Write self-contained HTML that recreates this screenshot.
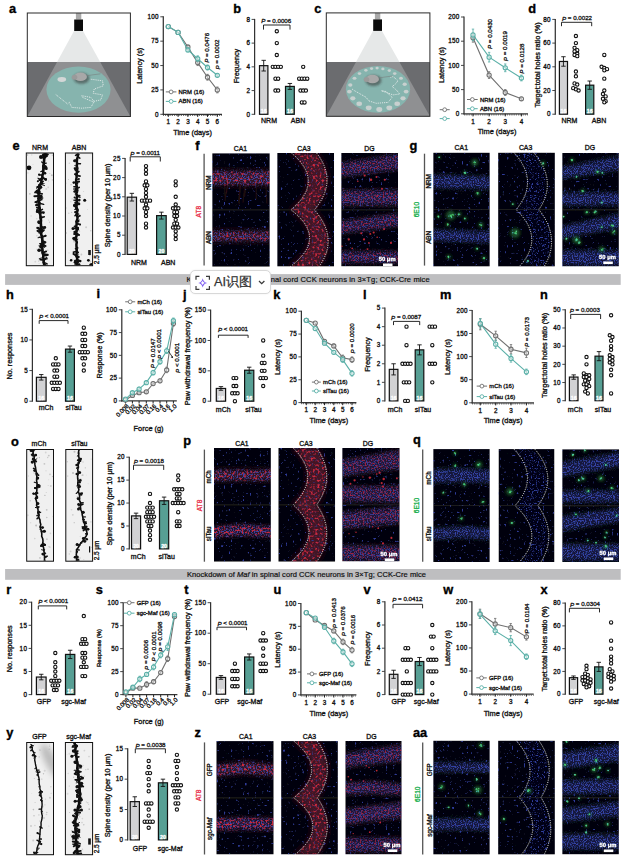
<!DOCTYPE html><html><head><meta charset="utf-8"><style>html,body{margin:0;padding:0;background:#fff;width:627px;height:865px;overflow:hidden;position:relative;font-family:"Liberation Sans", sans-serif}</style></head><body><svg width="627" height="865" viewBox="0 0 627 865" style="position:absolute;left:0;top:0;font-family:'Liberation Sans', sans-serif">
<defs><filter id="blur2" x="-20%" y="-50%" width="140%" height="200%"><feGaussianBlur stdDeviation="2.2"/></filter><filter id="soft" x="-5%" y="-5%" width="110%" height="110%"><feGaussianBlur stdDeviation="0.35"/></filter><filter id="blur1" x="-50%" y="-50%" width="200%" height="200%"><feGaussianBlur stdDeviation="1.2"/></filter><filter id="blur3" x="-50%" y="-50%" width="200%" height="200%"><feGaussianBlur stdDeviation="3"/></filter><filter id="fBg" filterUnits="userSpaceOnUse" x="0" y="0" width="627" height="865" color-interpolation-filters="sRGB"><feTurbulence type="fractalNoise" baseFrequency="0.42" numOctaves="1" seed="9" result="t"/><feColorMatrix in="t" type="matrix" values="0 0 0 0 0.18 0 0 0 0 0.23 0 0 0 0 0.6 10 0 0 0 -6.5" result="c"/><feComposite in="c" in2="SourceAlpha" operator="in"/></filter><filter id="fB" filterUnits="userSpaceOnUse" x="0" y="0" width="627" height="865" color-interpolation-filters="sRGB"><feTurbulence type="fractalNoise" baseFrequency="0.83" numOctaves="1" seed="4" result="t"/><feColorMatrix in="t" type="matrix" values="0 0 0 0 0.21 0 0 0 0 0.27 0 0 0 0 0.66 8 0 0 0 -3.9" result="c"/><feGaussianBlur in="SourceAlpha" stdDeviation="2.2" result="m"/><feComposite in="c" in2="m" operator="in"/></filter><filter id="fBm" filterUnits="userSpaceOnUse" x="0" y="0" width="627" height="865" color-interpolation-filters="sRGB"><feTurbulence type="fractalNoise" baseFrequency="0.83" numOctaves="1" seed="5" result="t"/><feColorMatrix in="t" type="matrix" values="0 0 0 0 0.19 0 0 0 0 0.25 0 0 0 0 0.62 8 0 0 0 -4.7" result="c"/><feGaussianBlur in="SourceAlpha" stdDeviation="1.0" result="m"/><feComposite in="c" in2="m" operator="in"/></filter><filter id="fBs" filterUnits="userSpaceOnUse" x="0" y="0" width="627" height="865" color-interpolation-filters="sRGB"><feTurbulence type="fractalNoise" baseFrequency="0.5" numOctaves="1" seed="6" result="t"/><feColorMatrix in="t" type="matrix" values="0 0 0 0 0.18 0 0 0 0 0.24 0 0 0 0 0.58 5 0 0 0 -3.1" result="c"/><feGaussianBlur in="SourceAlpha" stdDeviation="1.0" result="m"/><feComposite in="c" in2="m" operator="in"/></filter><filter id="fR" filterUnits="userSpaceOnUse" x="0" y="0" width="627" height="865" color-interpolation-filters="sRGB"><feTurbulence type="fractalNoise" baseFrequency="0.45" numOctaves="1" seed="7" result="t"/><feColorMatrix in="t" type="matrix" values="0 0 0 0 0.8 0 0 0 0 0.17 0 0 0 0 0.25 5 0 0 0 -2.6" result="c"/><feGaussianBlur in="SourceAlpha" stdDeviation="1.0" result="m"/><feComposite in="c" in2="m" operator="in"/></filter><filter id="fRs" filterUnits="userSpaceOnUse" x="0" y="0" width="627" height="865" color-interpolation-filters="sRGB"><feTurbulence type="fractalNoise" baseFrequency="0.6" numOctaves="1" seed="8" result="t"/><feColorMatrix in="t" type="matrix" values="0 0 0 0 0.62 0 0 0 0 0.14 0 0 0 0 0.26 5 0 0 0 -2.55" result="c"/><feGaussianBlur in="SourceAlpha" stdDeviation="2.0" result="m"/><feComposite in="c" in2="m" operator="in"/></filter><filter id="fBd" filterUnits="userSpaceOnUse" x="0" y="0" width="627" height="865" color-interpolation-filters="sRGB"><feTurbulence type="fractalNoise" baseFrequency="0.83" numOctaves="1" seed="11" result="t"/><feColorMatrix in="t" type="matrix" values="0 0 0 0 0.19 0 0 0 0 0.24 0 0 0 0 0.6 8 0 0 0 -4.0" result="c"/><feGaussianBlur in="SourceAlpha" stdDeviation="2.2" result="m"/><feComposite in="c" in2="m" operator="in"/></filter><filter id="fRm" filterUnits="userSpaceOnUse" x="0" y="0" width="627" height="865" color-interpolation-filters="sRGB"><feTurbulence type="fractalNoise" baseFrequency="0.5" numOctaves="1" seed="12" result="t"/><feColorMatrix in="t" type="matrix" values="0 0 0 0 0.78 0 0 0 0 0.16 0 0 0 0 0.25 5 0 0 0 -2.4" result="c"/><feGaussianBlur in="SourceAlpha" stdDeviation="1.5" result="m"/><feComposite in="c" in2="m" operator="in"/></filter><clipPath id="topclip1"><rect x="27.3" y="13.0" width="103.10000000000001" height="49.0"/></clipPath><clipPath id="botclip1"><rect x="27.3" y="62.0" width="103.10000000000001" height="54.5"/></clipPath><clipPath id="topclip2"><rect x="326.3" y="12.9" width="103.59999999999997" height="49.1"/></clipPath><clipPath id="botclip2"><rect x="326.3" y="62.0" width="103.59999999999997" height="54.3"/></clipPath><clipPath id="d1"><rect x="26.80" y="153.50" width="26.20" height="111.70"/></clipPath><clipPath id="d2"><rect x="65.90" y="153.50" width="26.20" height="111.70"/></clipPath><clipPath id="c3"><rect x="212.20" y="153.20" width="57.60" height="113.50"/></clipPath><clipPath id="c4"><rect x="277.20" y="153.00" width="56.90" height="113.60"/></clipPath><clipPath id="c5"><rect x="341.20" y="153.00" width="56.80" height="113.40"/></clipPath><clipPath id="c6"><rect x="433.20" y="152.60" width="56.60" height="114.00"/></clipPath><clipPath id="c7"><rect x="498.10" y="152.60" width="56.80" height="114.00"/></clipPath><clipPath id="c8"><rect x="562.20" y="152.90" width="56.70" height="113.50"/></clipPath><clipPath id="d9"><rect x="27.20" y="450.00" width="25.80" height="110.70"/></clipPath><clipPath id="d10"><rect x="66.30" y="450.00" width="25.80" height="110.70"/></clipPath><clipPath id="c11"><rect x="214.00" y="447.90" width="56.90" height="113.80"/></clipPath><clipPath id="c12"><rect x="278.30" y="447.90" width="56.90" height="113.80"/></clipPath><clipPath id="c13"><rect x="342.20" y="448.00" width="57.50" height="113.40"/></clipPath><clipPath id="c14"><rect x="433.20" y="449.10" width="56.60" height="113.00"/></clipPath><clipPath id="c15"><rect x="498.50" y="449.10" width="56.00" height="113.00"/></clipPath><clipPath id="c16"><rect x="562.20" y="449.20" width="56.80" height="112.90"/></clipPath><clipPath id="d17"><rect x="27.20" y="743.00" width="25.80" height="111.20"/></clipPath><clipPath id="d18"><rect x="65.90" y="743.00" width="26.20" height="111.20"/></clipPath><clipPath id="c19"><rect x="216.30" y="741.10" width="57.40" height="113.40"/></clipPath><clipPath id="c20"><rect x="281.10" y="741.10" width="56.80" height="113.40"/></clipPath><clipPath id="c21"><rect x="345.30" y="741.00" width="56.40" height="113.40"/></clipPath><clipPath id="c22"><rect x="433.20" y="740.60" width="56.60" height="114.00"/></clipPath><clipPath id="c23"><rect x="498.10" y="740.60" width="56.80" height="114.00"/></clipPath><clipPath id="c24"><rect x="562.20" y="740.90" width="56.70" height="113.50"/></clipPath></defs>
<rect x="0.00" y="0.00" width="627.00" height="865.00" fill="#fff" stroke="none" stroke-width="0" />
<text x="12.45" y="12.80" text-anchor="middle" fill="#000" style="font-size:12.8px;font-weight:bold;stroke:#000;stroke-width:0.35px">a</text>
<rect x="27.30" y="13.00" width="103.10" height="103.50" fill="#ffffff" stroke="none" stroke-width="0" />
<rect x="27.30" y="62.00" width="103.10" height="54.50" fill="#6b6c6f" stroke="none" stroke-width="0" />
<polygon points="74.0,31.0 83.0,31.0 130.4,116.5 27.3,116.5" fill="#e6e8e8" clip-path="url(#topclip1)"/>
<polygon points="74.0,31.0 83.0,31.0 130.4,116.5 27.3,116.5" fill="#8f9092" clip-path="url(#botclip1)"/>
<ellipse cx="78.5" cy="89.6" rx="32.1" ry="23.2" fill="#86b4ae"/>
<ellipse cx="61.8" cy="79.5" rx="4.3" ry="2.4" fill="#d3d7d7"/>
<path d="M90.8,79.2 L102.5,80.8 L103.3,85.8 L94.2,89.1 L93.3,93.3 L102.5,94.9 L100.8,99.9 L92.5,101.6 L82.6,97.4 L81.7,95.7 L90.8,97.4 L94.2,101.6 L90.8,107.4 L81.7,108.2 L71.8,107.4 L69.3,102.4 L67.6,104.0 L55.2,94.1" fill="none" stroke="#f4f4f4" stroke-width="0.9" stroke-dasharray="0.9 1.0" stroke-linejoin="round"/>
<ellipse cx="81.5" cy="78.3" rx="8" ry="5.5" fill="#333" fill-opacity="0.55" filter="url(#blur1)"/>
<ellipse cx="80.5" cy="76.8" rx="6.5" ry="4.3" fill="#a8a8a8"/>
<ellipse cx="74.5" cy="77.3" rx="2.8" ry="2.5" fill="#9a9a9a"/>
<path d="M86.5,75.8 Q92.5,74.8 100.5,73.8" fill="none" stroke="#777" stroke-width="0.5"/>
<rect x="75.90" y="13.00" width="5.40" height="6.50" fill="#a9a9a9" stroke="none" stroke-width="0" />
<rect x="74.20" y="19.50" width="8.80" height="11.50" fill="#0b0b0b" stroke="none" stroke-width="0" />
<rect x="27.30" y="13.00" width="103.10" height="103.50" fill="none" stroke="#2a2a2a" stroke-width="1.0" />
<line x1="163.30" y1="16.30" x2="163.30" y2="114.80" stroke="#333" stroke-width="1.25" />
<line x1="160.30" y1="114.30" x2="163.30" y2="114.30" stroke="#333" stroke-width="0.9" />
<text x="158.90" y="114.00" text-anchor="end" dominant-baseline="central" fill="#111" style="font-size:6.3px;stroke:#111;stroke-width:0.32px;letter-spacing:0.3px;" >0</text>
<line x1="160.30" y1="89.92" x2="163.30" y2="89.92" stroke="#333" stroke-width="0.9" />
<text x="158.90" y="89.62" text-anchor="end" dominant-baseline="central" fill="#111" style="font-size:6.3px;stroke:#111;stroke-width:0.32px;letter-spacing:0.3px;" >25</text>
<line x1="160.30" y1="65.55" x2="163.30" y2="65.55" stroke="#333" stroke-width="0.9" />
<text x="158.90" y="65.25" text-anchor="end" dominant-baseline="central" fill="#111" style="font-size:6.3px;stroke:#111;stroke-width:0.32px;letter-spacing:0.3px;" >50</text>
<line x1="160.30" y1="41.17" x2="163.30" y2="41.17" stroke="#333" stroke-width="0.9" />
<text x="158.90" y="40.88" text-anchor="end" dominant-baseline="central" fill="#111" style="font-size:6.3px;stroke:#111;stroke-width:0.32px;letter-spacing:0.3px;" >75</text>
<line x1="160.30" y1="16.80" x2="163.30" y2="16.80" stroke="#333" stroke-width="0.9" />
<text x="158.90" y="16.50" text-anchor="end" dominant-baseline="central" fill="#111" style="font-size:6.3px;stroke:#111;stroke-width:0.32px;letter-spacing:0.3px;" >100</text>
<line x1="162.70" y1="114.30" x2="222.00" y2="114.30" stroke="#333" stroke-width="1.25" />
<line x1="163.30" y1="115.40" x2="222.00" y2="115.40" stroke="#222" stroke-width="1.0" stroke-dasharray="0.7 1.1"/>
<line x1="168.30" y1="114.30" x2="168.30" y2="116.90" stroke="#222" stroke-width="1.0" />
<line x1="178.10" y1="114.30" x2="178.10" y2="116.90" stroke="#222" stroke-width="1.0" />
<line x1="187.90" y1="114.30" x2="187.90" y2="116.90" stroke="#222" stroke-width="1.0" />
<line x1="197.70" y1="114.30" x2="197.70" y2="116.90" stroke="#222" stroke-width="1.0" />
<line x1="207.50" y1="114.30" x2="207.50" y2="116.90" stroke="#222" stroke-width="1.0" />
<line x1="217.30" y1="114.30" x2="217.30" y2="116.90" stroke="#222" stroke-width="1.0" />
<text x="168.30" y="121.50" text-anchor="middle" dominant-baseline="central" fill="#111" style="font-size:6.3px;stroke:#111;stroke-width:0.32px;" >1</text>
<text x="178.10" y="121.50" text-anchor="middle" dominant-baseline="central" fill="#111" style="font-size:6.3px;stroke:#111;stroke-width:0.32px;" >2</text>
<text x="187.90" y="121.50" text-anchor="middle" dominant-baseline="central" fill="#111" style="font-size:6.3px;stroke:#111;stroke-width:0.32px;" >3</text>
<text x="197.70" y="121.50" text-anchor="middle" dominant-baseline="central" fill="#111" style="font-size:6.3px;stroke:#111;stroke-width:0.32px;" >4</text>
<text x="207.50" y="121.50" text-anchor="middle" dominant-baseline="central" fill="#111" style="font-size:6.3px;stroke:#111;stroke-width:0.32px;" >5</text>
<text x="217.30" y="121.50" text-anchor="middle" dominant-baseline="central" fill="#111" style="font-size:6.3px;stroke:#111;stroke-width:0.32px;" >6</text>
<polyline points="168.30,26.55 178.10,32.40 187.90,47.02 197.70,62.62 207.50,77.25 217.30,89.92" fill="none" stroke="#707070" stroke-width="1.1"/>
<circle cx="168.30" cy="26.55" r="2.1" fill="#fff" fill-opacity="0.5" stroke="#707070" stroke-width="1.1"/>
<circle cx="178.10" cy="32.40" r="2.1" fill="#fff" fill-opacity="0.5" stroke="#707070" stroke-width="1.1"/>
<line x1="187.90" y1="45.56" x2="187.90" y2="48.49" stroke="#707070" stroke-width="0.9" />
<line x1="186.70" y1="45.56" x2="189.10" y2="45.56" stroke="#707070" stroke-width="0.8" />
<line x1="186.70" y1="48.49" x2="189.10" y2="48.49" stroke="#707070" stroke-width="0.8" />
<circle cx="187.90" cy="47.02" r="2.1" fill="#fff" fill-opacity="0.5" stroke="#707070" stroke-width="1.1"/>
<line x1="197.70" y1="59.70" x2="197.70" y2="65.55" stroke="#707070" stroke-width="0.9" />
<line x1="196.50" y1="59.70" x2="198.90" y2="59.70" stroke="#707070" stroke-width="0.8" />
<line x1="196.50" y1="65.55" x2="198.90" y2="65.55" stroke="#707070" stroke-width="0.8" />
<circle cx="197.70" cy="62.62" r="2.1" fill="#fff" fill-opacity="0.5" stroke="#707070" stroke-width="1.1"/>
<line x1="207.50" y1="74.33" x2="207.50" y2="80.17" stroke="#707070" stroke-width="0.9" />
<line x1="206.30" y1="74.33" x2="208.70" y2="74.33" stroke="#707070" stroke-width="0.8" />
<line x1="206.30" y1="80.17" x2="208.70" y2="80.17" stroke="#707070" stroke-width="0.8" />
<circle cx="207.50" cy="77.25" r="2.1" fill="#fff" fill-opacity="0.5" stroke="#707070" stroke-width="1.1"/>
<line x1="217.30" y1="87.00" x2="217.30" y2="92.85" stroke="#707070" stroke-width="0.9" />
<line x1="216.10" y1="87.00" x2="218.50" y2="87.00" stroke="#707070" stroke-width="0.8" />
<line x1="216.10" y1="92.85" x2="218.50" y2="92.85" stroke="#707070" stroke-width="0.8" />
<circle cx="217.30" cy="89.92" r="2.1" fill="#fff" fill-opacity="0.5" stroke="#707070" stroke-width="1.1"/>
<polyline points="168.30,26.55 178.10,32.40 187.90,49.95 197.70,58.72 207.50,67.50 217.30,75.30" fill="none" stroke="#5bb0a8" stroke-width="1.1"/>
<circle cx="168.30" cy="26.55" r="2.1" fill="#fff" fill-opacity="0.5" stroke="#5bb0a8" stroke-width="1.1"/>
<circle cx="178.10" cy="32.40" r="2.1" fill="#fff" fill-opacity="0.5" stroke="#5bb0a8" stroke-width="1.1"/>
<line x1="187.90" y1="48.00" x2="187.90" y2="51.90" stroke="#5bb0a8" stroke-width="0.9" />
<line x1="186.70" y1="48.00" x2="189.10" y2="48.00" stroke="#5bb0a8" stroke-width="0.8" />
<line x1="186.70" y1="51.90" x2="189.10" y2="51.90" stroke="#5bb0a8" stroke-width="0.8" />
<circle cx="187.90" cy="49.95" r="2.1" fill="#fff" fill-opacity="0.5" stroke="#5bb0a8" stroke-width="1.1"/>
<line x1="197.70" y1="55.80" x2="197.70" y2="61.65" stroke="#5bb0a8" stroke-width="0.9" />
<line x1="196.50" y1="55.80" x2="198.90" y2="55.80" stroke="#5bb0a8" stroke-width="0.8" />
<line x1="196.50" y1="61.65" x2="198.90" y2="61.65" stroke="#5bb0a8" stroke-width="0.8" />
<circle cx="197.70" cy="58.72" r="2.1" fill="#fff" fill-opacity="0.5" stroke="#5bb0a8" stroke-width="1.1"/>
<line x1="207.50" y1="65.06" x2="207.50" y2="69.94" stroke="#5bb0a8" stroke-width="0.9" />
<line x1="206.30" y1="65.06" x2="208.70" y2="65.06" stroke="#5bb0a8" stroke-width="0.8" />
<line x1="206.30" y1="69.94" x2="208.70" y2="69.94" stroke="#5bb0a8" stroke-width="0.8" />
<circle cx="207.50" cy="67.50" r="2.1" fill="#fff" fill-opacity="0.5" stroke="#5bb0a8" stroke-width="1.1"/>
<line x1="217.30" y1="73.84" x2="217.30" y2="76.76" stroke="#5bb0a8" stroke-width="0.9" />
<line x1="216.10" y1="73.84" x2="218.50" y2="73.84" stroke="#5bb0a8" stroke-width="0.8" />
<line x1="216.10" y1="76.76" x2="218.50" y2="76.76" stroke="#5bb0a8" stroke-width="0.8" />
<circle cx="217.30" cy="75.30" r="2.1" fill="#fff" fill-opacity="0.5" stroke="#5bb0a8" stroke-width="1.1"/>
<line x1="165.80" y1="91.90" x2="176.40" y2="91.90" stroke="#707070" stroke-width="1.0" />
<circle cx="171.10" cy="91.90" r="1.9" fill="#fff" stroke="#707070" stroke-width="0.9"/>
<text x="178.60" y="91.90" text-anchor="start" dominant-baseline="central" fill="#111" style="font-size:5.9px;stroke:#111;stroke-width:0.32px;" >NRM (16)</text>
<line x1="165.80" y1="101.40" x2="176.40" y2="101.40" stroke="#5bb0a8" stroke-width="1.0" />
<circle cx="171.10" cy="101.40" r="1.9" fill="#fff" stroke="#5bb0a8" stroke-width="0.9"/>
<text x="178.60" y="101.40" text-anchor="start" dominant-baseline="central" fill="#111" style="font-size:5.9px;stroke:#111;stroke-width:0.32px;" >ABN (16)</text>
<text x="192.60" y="132.00" text-anchor="middle" dominant-baseline="central" fill="#111" style="font-size:7.4px;stroke:#111;stroke-width:0.32px;" >Time (days)</text>
<text transform="translate(139.80,65.80) rotate(-90)" text-anchor="middle" dominant-baseline="central" fill="#111" style="font-size:7.3px;stroke:#111;stroke-width:0.32px;" >Latency (s)</text>
<text transform="translate(206.00,47.80) rotate(-90)" text-anchor="middle" dominant-baseline="central" fill="#111" style="font-size:6.2px;stroke:#111;stroke-width:0.3px"><tspan style="font-style:italic">P</tspan> = 0.0476</text>
<text transform="translate(216.60,54.50) rotate(-90)" text-anchor="middle" dominant-baseline="central" fill="#111" style="font-size:6.2px;stroke:#111;stroke-width:0.3px"><tspan style="font-style:italic">P</tspan> = 0.0002</text>
<text x="237.20" y="12.60" text-anchor="middle" fill="#000" style="font-size:12.8px;font-weight:bold;stroke:#000;stroke-width:0.35px">b</text>
<line x1="254.60" y1="18.90" x2="254.60" y2="114.80" stroke="#333" stroke-width="1.25" />
<line x1="251.60" y1="114.30" x2="254.60" y2="114.30" stroke="#333" stroke-width="0.9" />
<text x="250.20" y="114.00" text-anchor="end" dominant-baseline="central" fill="#111" style="font-size:6.3px;stroke:#111;stroke-width:0.32px;letter-spacing:0.3px;" >0</text>
<line x1="251.60" y1="90.57" x2="254.60" y2="90.57" stroke="#333" stroke-width="0.9" />
<text x="250.20" y="90.27" text-anchor="end" dominant-baseline="central" fill="#111" style="font-size:6.3px;stroke:#111;stroke-width:0.32px;letter-spacing:0.3px;" >2</text>
<line x1="251.60" y1="66.85" x2="254.60" y2="66.85" stroke="#333" stroke-width="0.9" />
<text x="250.20" y="66.55" text-anchor="end" dominant-baseline="central" fill="#111" style="font-size:6.3px;stroke:#111;stroke-width:0.32px;letter-spacing:0.3px;" >4</text>
<line x1="251.60" y1="43.12" x2="254.60" y2="43.12" stroke="#333" stroke-width="0.9" />
<text x="250.20" y="42.82" text-anchor="end" dominant-baseline="central" fill="#111" style="font-size:6.3px;stroke:#111;stroke-width:0.32px;letter-spacing:0.3px;" >6</text>
<line x1="251.60" y1="19.40" x2="254.60" y2="19.40" stroke="#333" stroke-width="0.9" />
<text x="250.20" y="19.10" text-anchor="end" dominant-baseline="central" fill="#111" style="font-size:6.3px;stroke:#111;stroke-width:0.32px;letter-spacing:0.3px;" >8</text>
<rect x="259.50" y="65.66" width="8.40" height="48.64" fill="#d2d2d4" stroke="#111" stroke-width="1.2" />
<line x1="263.70" y1="60.33" x2="263.70" y2="71.00" stroke="#111" stroke-width="0.9" />
<line x1="261.50" y1="60.33" x2="265.90" y2="60.33" stroke="#111" stroke-width="0.9" />
<line x1="261.50" y1="71.00" x2="265.90" y2="71.00" stroke="#111" stroke-width="0.9" />
<text x="263.70" y="111.10" text-anchor="middle" dominant-baseline="central" fill="#fff" style="font-size:5.2px;stroke:#fff;stroke-width:0.32px;font-weight:bold;" >16</text>
<rect x="285.50" y="86.42" width="8.80" height="27.88" fill="#579f94" stroke="#111" stroke-width="1.2" />
<line x1="289.90" y1="83.46" x2="289.90" y2="89.39" stroke="#111" stroke-width="0.9" />
<line x1="287.70" y1="83.46" x2="292.10" y2="83.46" stroke="#111" stroke-width="0.9" />
<line x1="287.70" y1="89.39" x2="292.10" y2="89.39" stroke="#111" stroke-width="0.9" />
<text x="289.90" y="111.10" text-anchor="middle" dominant-baseline="central" fill="#fff" style="font-size:5.2px;stroke:#fff;stroke-width:0.32px;font-weight:bold;" >16</text>
<circle cx="276.80" cy="31.26" r="1.65" fill="#fff" stroke="#111" stroke-width="1.1"/>
<circle cx="276.80" cy="43.12" r="1.65" fill="#fff" stroke="#111" stroke-width="1.1"/>
<circle cx="276.80" cy="54.99" r="1.65" fill="#fff" stroke="#111" stroke-width="1.1"/>
<circle cx="272.75" cy="66.85" r="1.65" fill="#fff" stroke="#111" stroke-width="1.1"/>
<circle cx="275.45" cy="66.85" r="1.65" fill="#fff" stroke="#111" stroke-width="1.1"/>
<circle cx="278.15" cy="66.85" r="1.65" fill="#fff" stroke="#111" stroke-width="1.1"/>
<circle cx="280.85" cy="66.85" r="1.65" fill="#fff" stroke="#111" stroke-width="1.1"/>
<circle cx="275.45" cy="78.71" r="1.65" fill="#fff" stroke="#111" stroke-width="1.1"/>
<circle cx="278.15" cy="78.71" r="1.65" fill="#fff" stroke="#111" stroke-width="1.1"/>
<circle cx="275.45" cy="90.57" r="1.65" fill="#fff" stroke="#111" stroke-width="1.1"/>
<circle cx="278.15" cy="90.57" r="1.65" fill="#fff" stroke="#111" stroke-width="1.1"/>
<circle cx="303.20" cy="66.85" r="1.65" fill="#fff" stroke="#111" stroke-width="1.1"/>
<circle cx="299.15" cy="78.71" r="1.65" fill="#fff" stroke="#111" stroke-width="1.1"/>
<circle cx="301.85" cy="78.71" r="1.65" fill="#fff" stroke="#111" stroke-width="1.1"/>
<circle cx="304.55" cy="78.71" r="1.65" fill="#fff" stroke="#111" stroke-width="1.1"/>
<circle cx="307.25" cy="78.71" r="1.65" fill="#fff" stroke="#111" stroke-width="1.1"/>
<circle cx="300.50" cy="90.57" r="1.65" fill="#fff" stroke="#111" stroke-width="1.1"/>
<circle cx="303.20" cy="90.57" r="1.65" fill="#fff" stroke="#111" stroke-width="1.1"/>
<circle cx="305.90" cy="90.57" r="1.65" fill="#fff" stroke="#111" stroke-width="1.1"/>
<circle cx="301.85" cy="102.44" r="1.65" fill="#fff" stroke="#111" stroke-width="1.1"/>
<circle cx="304.55" cy="102.44" r="1.65" fill="#fff" stroke="#111" stroke-width="1.1"/>
<text x="269.00" y="120.60" text-anchor="middle" dominant-baseline="central" fill="#111" style="font-size:7.0px;stroke:#111;stroke-width:0.32px;" >NRM</text>
<text x="298.00" y="120.60" text-anchor="middle" dominant-baseline="central" fill="#111" style="font-size:7.0px;stroke:#111;stroke-width:0.32px;" >ABN</text>
<text transform="translate(236.00,66.00) rotate(-90)" text-anchor="middle" dominant-baseline="central" fill="#111" style="font-size:7.3px;stroke:#111;stroke-width:0.32px;" >Frequency</text>
<text x="276.20" y="20.00" text-anchor="middle" dominant-baseline="central" fill="#111" style="font-size:6.2px;stroke:#111;stroke-width:0.3px"><tspan style="font-style:italic">P</tspan> = 0.0006</text>
<path d="M263.50,29.60 V25.00 H290.00 V29.60" fill="none" stroke="#111" stroke-width="0.9"/>
<text x="317.80" y="12.90" text-anchor="middle" fill="#000" style="font-size:12.8px;font-weight:bold;stroke:#000;stroke-width:0.35px">c</text>
<rect x="326.30" y="12.90" width="103.60" height="103.40" fill="#ffffff" stroke="none" stroke-width="0" />
<rect x="326.30" y="62.00" width="103.60" height="54.30" fill="#6b6c6f" stroke="none" stroke-width="0" />
<polygon points="373.0,30.9 382.0,30.9 429.9,116.3 326.3,116.3" fill="#e6e8e8" clip-path="url(#topclip2)"/>
<polygon points="373.0,30.9 382.0,30.9 429.9,116.3 326.3,116.3" fill="#8f9092" clip-path="url(#botclip2)"/>
<ellipse cx="378.0" cy="89.3" rx="32.1" ry="23.4" fill="#86b4ae"/>
<ellipse cx="377.1" cy="68.1" rx="1.60" ry="1.28" fill="#c8d0cf"/>
<ellipse cx="382.9" cy="68.9" rx="1.63" ry="1.31" fill="#c8d0cf"/>
<ellipse cx="389.3" cy="70.6" rx="1.69" ry="1.35" fill="#c8d0cf"/>
<ellipse cx="394.7" cy="73.6" rx="1.79" ry="1.43" fill="#c8d0cf"/>
<ellipse cx="401.0" cy="78.2" rx="1.94" ry="1.55" fill="#c8d0cf"/>
<ellipse cx="404.7" cy="84.3" rx="2.14" ry="1.72" fill="#c8d0cf"/>
<ellipse cx="406.1" cy="91.6" rx="2.39" ry="1.91" fill="#c8d0cf"/>
<ellipse cx="403.0" cy="98.3" rx="2.61" ry="2.09" fill="#c8d0cf"/>
<ellipse cx="397.2" cy="103.8" rx="2.79" ry="2.23" fill="#c8d0cf"/>
<ellipse cx="389.3" cy="107.8" rx="2.93" ry="2.34" fill="#c8d0cf"/>
<ellipse cx="379.3" cy="109.5" rx="2.98" ry="2.39" fill="#c8d0cf"/>
<ellipse cx="368.7" cy="107.8" rx="2.93" ry="2.34" fill="#c8d0cf"/>
<ellipse cx="359.2" cy="103.8" rx="2.79" ry="2.23" fill="#c8d0cf"/>
<ellipse cx="352.8" cy="98.3" rx="2.61" ry="2.09" fill="#c8d0cf"/>
<ellipse cx="349.4" cy="91.6" rx="2.39" ry="1.91" fill="#c8d0cf"/>
<ellipse cx="350.3" cy="84.9" rx="2.16" ry="1.73" fill="#c8d0cf"/>
<ellipse cx="354.5" cy="78.2" rx="1.94" ry="1.55" fill="#c8d0cf"/>
<ellipse cx="359.5" cy="73.6" rx="1.79" ry="1.43" fill="#c8d0cf"/>
<ellipse cx="365.9" cy="70.3" rx="1.68" ry="1.34" fill="#c8d0cf"/>
<ellipse cx="371.6" cy="68.6" rx="1.62" ry="1.30" fill="#c8d0cf"/>
<path d="M390.5,77.3 L393.0,76.5 L398.0,80.7 L395.5,84.0 L392.2,86.5 L396.3,89.9 L399.7,94.0 L393.0,94.9 L381.3,90.7 L386.0,91.5 L392.2,97.4 L388.0,102.4 L376.2,103.3 L368.7,100.8 L366.2,97.4 L354.5,90.7 L352.0,89.0" fill="none" stroke="#f4f4f4" stroke-width="0.9" stroke-dasharray="0.9 1.0" stroke-linejoin="round"/>
<ellipse cx="373.5" cy="80.5" rx="8" ry="5.5" fill="#333" fill-opacity="0.55" filter="url(#blur1)"/>
<ellipse cx="372.5" cy="79.0" rx="6.5" ry="4.3" fill="#a8a8a8"/>
<ellipse cx="366.5" cy="79.5" rx="2.8" ry="2.5" fill="#9a9a9a"/>
<path d="M378.5,78.0 Q384.5,77.0 392.5,76.0" fill="none" stroke="#777" stroke-width="0.5"/>
<rect x="374.90" y="12.90" width="5.40" height="6.50" fill="#a9a9a9" stroke="none" stroke-width="0" />
<rect x="373.20" y="19.40" width="8.80" height="11.50" fill="#0b0b0b" stroke="none" stroke-width="0" />
<rect x="326.30" y="12.90" width="103.60" height="103.40" fill="none" stroke="#2a2a2a" stroke-width="1.0" />
<line x1="464.00" y1="16.50" x2="464.00" y2="114.30" stroke="#333" stroke-width="1.25" />
<line x1="461.00" y1="113.80" x2="464.00" y2="113.80" stroke="#333" stroke-width="0.9" />
<text x="459.60" y="113.50" text-anchor="end" dominant-baseline="central" fill="#111" style="font-size:6.3px;stroke:#111;stroke-width:0.32px;letter-spacing:0.3px;" >0</text>
<line x1="461.00" y1="89.60" x2="464.00" y2="89.60" stroke="#333" stroke-width="0.9" />
<text x="459.60" y="89.30" text-anchor="end" dominant-baseline="central" fill="#111" style="font-size:6.3px;stroke:#111;stroke-width:0.32px;letter-spacing:0.3px;" >50</text>
<line x1="461.00" y1="65.40" x2="464.00" y2="65.40" stroke="#333" stroke-width="0.9" />
<text x="459.60" y="65.10" text-anchor="end" dominant-baseline="central" fill="#111" style="font-size:6.3px;stroke:#111;stroke-width:0.32px;letter-spacing:0.3px;" >100</text>
<line x1="461.00" y1="41.20" x2="464.00" y2="41.20" stroke="#333" stroke-width="0.9" />
<text x="459.60" y="40.90" text-anchor="end" dominant-baseline="central" fill="#111" style="font-size:6.3px;stroke:#111;stroke-width:0.32px;letter-spacing:0.3px;" >150</text>
<line x1="461.00" y1="17.00" x2="464.00" y2="17.00" stroke="#333" stroke-width="0.9" />
<text x="459.60" y="16.70" text-anchor="end" dominant-baseline="central" fill="#111" style="font-size:6.3px;stroke:#111;stroke-width:0.32px;letter-spacing:0.3px;" >200</text>
<line x1="463.40" y1="113.80" x2="528.00" y2="113.80" stroke="#333" stroke-width="1.25" />
<line x1="464.00" y1="114.90" x2="528.00" y2="114.90" stroke="#222" stroke-width="1.0" stroke-dasharray="0.7 1.1"/>
<line x1="473.00" y1="113.80" x2="473.00" y2="116.40" stroke="#222" stroke-width="1.0" />
<line x1="489.13" y1="113.80" x2="489.13" y2="116.40" stroke="#222" stroke-width="1.0" />
<line x1="505.26" y1="113.80" x2="505.26" y2="116.40" stroke="#222" stroke-width="1.0" />
<line x1="521.39" y1="113.80" x2="521.39" y2="116.40" stroke="#222" stroke-width="1.0" />
<text x="473.00" y="121.00" text-anchor="middle" dominant-baseline="central" fill="#111" style="font-size:6.3px;stroke:#111;stroke-width:0.32px;" >1</text>
<text x="489.13" y="121.00" text-anchor="middle" dominant-baseline="central" fill="#111" style="font-size:6.3px;stroke:#111;stroke-width:0.32px;" >2</text>
<text x="505.26" y="121.00" text-anchor="middle" dominant-baseline="central" fill="#111" style="font-size:6.3px;stroke:#111;stroke-width:0.32px;" >3</text>
<text x="521.39" y="121.00" text-anchor="middle" dominant-baseline="central" fill="#111" style="font-size:6.3px;stroke:#111;stroke-width:0.32px;" >4</text>
<polyline points="473.00,37.81 489.13,75.08 505.26,92.50 521.39,98.80" fill="none" stroke="#707070" stroke-width="1.1"/>
<line x1="473.00" y1="33.46" x2="473.00" y2="42.17" stroke="#707070" stroke-width="0.9" />
<line x1="471.80" y1="33.46" x2="474.20" y2="33.46" stroke="#707070" stroke-width="0.8" />
<line x1="471.80" y1="42.17" x2="474.20" y2="42.17" stroke="#707070" stroke-width="0.8" />
<circle cx="473.00" cy="37.81" r="2.1" fill="#fff" fill-opacity="0.5" stroke="#707070" stroke-width="1.1"/>
<line x1="489.13" y1="71.69" x2="489.13" y2="78.47" stroke="#707070" stroke-width="0.9" />
<line x1="487.93" y1="71.69" x2="490.33" y2="71.69" stroke="#707070" stroke-width="0.8" />
<line x1="487.93" y1="78.47" x2="490.33" y2="78.47" stroke="#707070" stroke-width="0.8" />
<circle cx="489.13" cy="75.08" r="2.1" fill="#fff" fill-opacity="0.5" stroke="#707070" stroke-width="1.1"/>
<line x1="505.26" y1="89.60" x2="505.26" y2="95.41" stroke="#707070" stroke-width="0.9" />
<line x1="504.06" y1="89.60" x2="506.46" y2="89.60" stroke="#707070" stroke-width="0.8" />
<line x1="504.06" y1="95.41" x2="506.46" y2="95.41" stroke="#707070" stroke-width="0.8" />
<circle cx="505.26" cy="92.50" r="2.1" fill="#fff" fill-opacity="0.5" stroke="#707070" stroke-width="1.1"/>
<line x1="521.39" y1="97.34" x2="521.39" y2="100.25" stroke="#707070" stroke-width="0.9" />
<line x1="520.19" y1="97.34" x2="522.59" y2="97.34" stroke="#707070" stroke-width="0.8" />
<line x1="520.19" y1="100.25" x2="522.59" y2="100.25" stroke="#707070" stroke-width="0.8" />
<circle cx="521.39" cy="98.80" r="2.1" fill="#fff" fill-opacity="0.5" stroke="#707070" stroke-width="1.1"/>
<polyline points="473.00,34.91 489.13,57.17 505.26,67.82 521.39,77.98" fill="none" stroke="#5bb0a8" stroke-width="1.1"/>
<line x1="473.00" y1="29.10" x2="473.00" y2="40.72" stroke="#5bb0a8" stroke-width="0.9" />
<line x1="471.80" y1="29.10" x2="474.20" y2="29.10" stroke="#5bb0a8" stroke-width="0.8" />
<line x1="471.80" y1="40.72" x2="474.20" y2="40.72" stroke="#5bb0a8" stroke-width="0.8" />
<circle cx="473.00" cy="34.91" r="2.1" fill="#fff" fill-opacity="0.5" stroke="#5bb0a8" stroke-width="1.1"/>
<line x1="489.13" y1="52.33" x2="489.13" y2="62.01" stroke="#5bb0a8" stroke-width="0.9" />
<line x1="487.93" y1="52.33" x2="490.33" y2="52.33" stroke="#5bb0a8" stroke-width="0.8" />
<line x1="487.93" y1="62.01" x2="490.33" y2="62.01" stroke="#5bb0a8" stroke-width="0.8" />
<circle cx="489.13" cy="57.17" r="2.1" fill="#fff" fill-opacity="0.5" stroke="#5bb0a8" stroke-width="1.1"/>
<line x1="505.26" y1="63.95" x2="505.26" y2="71.69" stroke="#5bb0a8" stroke-width="0.9" />
<line x1="504.06" y1="63.95" x2="506.46" y2="63.95" stroke="#5bb0a8" stroke-width="0.8" />
<line x1="504.06" y1="71.69" x2="506.46" y2="71.69" stroke="#5bb0a8" stroke-width="0.8" />
<circle cx="505.26" cy="67.82" r="2.1" fill="#fff" fill-opacity="0.5" stroke="#5bb0a8" stroke-width="1.1"/>
<line x1="521.39" y1="75.08" x2="521.39" y2="80.89" stroke="#5bb0a8" stroke-width="0.9" />
<line x1="520.19" y1="75.08" x2="522.59" y2="75.08" stroke="#5bb0a8" stroke-width="0.8" />
<line x1="520.19" y1="80.89" x2="522.59" y2="80.89" stroke="#5bb0a8" stroke-width="0.8" />
<circle cx="521.39" cy="77.98" r="2.1" fill="#fff" fill-opacity="0.5" stroke="#5bb0a8" stroke-width="1.1"/>
<line x1="467.00" y1="99.50" x2="477.70" y2="99.50" stroke="#707070" stroke-width="1.0" />
<circle cx="472.35" cy="99.50" r="1.9" fill="#fff" stroke="#707070" stroke-width="0.9"/>
<text x="479.90" y="99.50" text-anchor="start" dominant-baseline="central" fill="#111" style="font-size:5.9px;stroke:#111;stroke-width:0.32px;" >NRM (16)</text>
<line x1="467.00" y1="108.70" x2="477.70" y2="108.70" stroke="#5bb0a8" stroke-width="1.0" />
<circle cx="472.35" cy="108.70" r="1.9" fill="#fff" stroke="#5bb0a8" stroke-width="0.9"/>
<text x="479.90" y="108.70" text-anchor="start" dominant-baseline="central" fill="#111" style="font-size:5.9px;stroke:#111;stroke-width:0.32px;" >ABN (16)</text>
<text x="497.00" y="131.50" text-anchor="middle" dominant-baseline="central" fill="#111" style="font-size:7.4px;stroke:#111;stroke-width:0.32px;" >Time (days)</text>
<text transform="translate(441.30,65.00) rotate(-90)" text-anchor="middle" dominant-baseline="central" fill="#111" style="font-size:7.3px;stroke:#111;stroke-width:0.32px;" >Latency (s)</text>
<text transform="translate(489.00,34.00) rotate(-90)" text-anchor="middle" dominant-baseline="central" fill="#111" style="font-size:6.2px;stroke:#111;stroke-width:0.3px"><tspan style="font-style:italic">P</tspan> = 0.0430</text>
<text transform="translate(504.80,46.10) rotate(-90)" text-anchor="middle" dominant-baseline="central" fill="#111" style="font-size:6.2px;stroke:#111;stroke-width:0.3px"><tspan style="font-style:italic">P</tspan> = 0.0019</text>
<text transform="translate(521.40,58.60) rotate(-90)" text-anchor="middle" dominant-baseline="central" fill="#111" style="font-size:6.2px;stroke:#111;stroke-width:0.3px"><tspan style="font-style:italic">P</tspan> = 0.0128</text>
<line x1="439.70" y1="109.70" x2="449.70" y2="109.70" stroke="#707070" stroke-width="1.0" />
<circle cx="444.7" cy="109.7" r="1.9" fill="#fff" stroke="#707070" stroke-width="0.9"/>
<line x1="439.70" y1="118.60" x2="449.70" y2="118.60" stroke="#5bb0a8" stroke-width="1.0" />
<circle cx="444.7" cy="118.6" r="1.9" fill="#fff" stroke="#5bb0a8" stroke-width="0.9"/>
<text x="532.20" y="12.60" text-anchor="middle" fill="#000" style="font-size:12.8px;font-weight:bold;stroke:#000;stroke-width:0.35px">d</text>
<line x1="555.30" y1="18.90" x2="555.30" y2="114.70" stroke="#333" stroke-width="1.25" />
<line x1="552.30" y1="114.20" x2="555.30" y2="114.20" stroke="#333" stroke-width="0.9" />
<text x="550.90" y="113.90" text-anchor="end" dominant-baseline="central" fill="#111" style="font-size:6.3px;stroke:#111;stroke-width:0.32px;letter-spacing:0.3px;" >0</text>
<line x1="552.30" y1="90.50" x2="555.30" y2="90.50" stroke="#333" stroke-width="0.9" />
<text x="550.90" y="90.20" text-anchor="end" dominant-baseline="central" fill="#111" style="font-size:6.3px;stroke:#111;stroke-width:0.32px;letter-spacing:0.3px;" >20</text>
<line x1="552.30" y1="66.80" x2="555.30" y2="66.80" stroke="#333" stroke-width="0.9" />
<text x="550.90" y="66.50" text-anchor="end" dominant-baseline="central" fill="#111" style="font-size:6.3px;stroke:#111;stroke-width:0.32px;letter-spacing:0.3px;" >40</text>
<line x1="552.30" y1="43.10" x2="555.30" y2="43.10" stroke="#333" stroke-width="0.9" />
<text x="550.90" y="42.80" text-anchor="end" dominant-baseline="central" fill="#111" style="font-size:6.3px;stroke:#111;stroke-width:0.32px;letter-spacing:0.3px;" >60</text>
<line x1="552.30" y1="19.40" x2="555.30" y2="19.40" stroke="#333" stroke-width="0.9" />
<text x="550.90" y="19.10" text-anchor="end" dominant-baseline="central" fill="#111" style="font-size:6.3px;stroke:#111;stroke-width:0.32px;letter-spacing:0.3px;" >80</text>
<rect x="559.40" y="61.47" width="8.10" height="52.73" fill="#d2d2d4" stroke="#111" stroke-width="1.2" />
<line x1="563.45" y1="56.73" x2="563.45" y2="66.21" stroke="#111" stroke-width="0.9" />
<line x1="561.25" y1="56.73" x2="565.65" y2="56.73" stroke="#111" stroke-width="0.9" />
<line x1="561.25" y1="66.21" x2="565.65" y2="66.21" stroke="#111" stroke-width="0.9" />
<text x="563.45" y="111.00" text-anchor="middle" dominant-baseline="central" fill="#fff" style="font-size:5.2px;stroke:#fff;stroke-width:0.32px;font-weight:bold;" >16</text>
<rect x="585.60" y="85.17" width="8.20" height="29.03" fill="#579f94" stroke="#111" stroke-width="1.2" />
<line x1="589.70" y1="81.02" x2="589.70" y2="89.31" stroke="#111" stroke-width="0.9" />
<line x1="587.50" y1="81.02" x2="591.90" y2="81.02" stroke="#111" stroke-width="0.9" />
<line x1="587.50" y1="89.31" x2="591.90" y2="89.31" stroke="#111" stroke-width="0.9" />
<text x="589.70" y="111.00" text-anchor="middle" dominant-baseline="central" fill="#fff" style="font-size:5.2px;stroke:#fff;stroke-width:0.32px;font-weight:bold;" >16</text>
<circle cx="575.90" cy="35.99" r="1.65" fill="#fff" stroke="#111" stroke-width="1.1"/>
<circle cx="575.90" cy="43.10" r="1.65" fill="#fff" stroke="#111" stroke-width="1.1"/>
<circle cx="574.55" cy="47.84" r="1.65" fill="#fff" stroke="#111" stroke-width="1.1"/>
<circle cx="577.25" cy="50.21" r="1.65" fill="#fff" stroke="#111" stroke-width="1.1"/>
<circle cx="574.55" cy="51.39" r="1.65" fill="#fff" stroke="#111" stroke-width="1.1"/>
<circle cx="577.25" cy="53.77" r="1.65" fill="#fff" stroke="#111" stroke-width="1.1"/>
<circle cx="574.55" cy="54.95" r="1.65" fill="#fff" stroke="#111" stroke-width="1.1"/>
<circle cx="577.25" cy="56.13" r="1.65" fill="#fff" stroke="#111" stroke-width="1.1"/>
<circle cx="575.90" cy="71.54" r="1.65" fill="#fff" stroke="#111" stroke-width="1.1"/>
<circle cx="575.90" cy="76.28" r="1.65" fill="#fff" stroke="#111" stroke-width="1.1"/>
<circle cx="574.55" cy="83.39" r="1.65" fill="#fff" stroke="#111" stroke-width="1.1"/>
<circle cx="577.25" cy="84.57" r="1.65" fill="#fff" stroke="#111" stroke-width="1.1"/>
<circle cx="573.20" cy="88.13" r="1.65" fill="#fff" stroke="#111" stroke-width="1.1"/>
<circle cx="575.90" cy="89.31" r="1.65" fill="#fff" stroke="#111" stroke-width="1.1"/>
<circle cx="578.60" cy="90.50" r="1.65" fill="#fff" stroke="#111" stroke-width="1.1"/>
<circle cx="604.30" cy="54.95" r="1.65" fill="#fff" stroke="#111" stroke-width="1.1"/>
<circle cx="601.60" cy="66.80" r="1.65" fill="#fff" stroke="#111" stroke-width="1.1"/>
<circle cx="604.30" cy="67.98" r="1.65" fill="#fff" stroke="#111" stroke-width="1.1"/>
<circle cx="607.00" cy="69.17" r="1.65" fill="#fff" stroke="#111" stroke-width="1.1"/>
<circle cx="604.30" cy="70.35" r="1.65" fill="#fff" stroke="#111" stroke-width="1.1"/>
<circle cx="604.30" cy="78.65" r="1.65" fill="#fff" stroke="#111" stroke-width="1.1"/>
<circle cx="604.30" cy="90.50" r="1.65" fill="#fff" stroke="#111" stroke-width="1.1"/>
<circle cx="602.95" cy="94.06" r="1.65" fill="#fff" stroke="#111" stroke-width="1.1"/>
<circle cx="605.65" cy="96.42" r="1.65" fill="#fff" stroke="#111" stroke-width="1.1"/>
<circle cx="602.95" cy="98.80" r="1.65" fill="#fff" stroke="#111" stroke-width="1.1"/>
<circle cx="605.65" cy="101.17" r="1.65" fill="#fff" stroke="#111" stroke-width="1.1"/>
<circle cx="604.30" cy="102.35" r="1.65" fill="#fff" stroke="#111" stroke-width="1.1"/>
<text x="569.40" y="120.50" text-anchor="middle" dominant-baseline="central" fill="#111" style="font-size:7.0px;stroke:#111;stroke-width:0.32px;" >NRM</text>
<text x="599.00" y="120.50" text-anchor="middle" dominant-baseline="central" fill="#111" style="font-size:7.0px;stroke:#111;stroke-width:0.32px;" >ABN</text>
<text transform="translate(537.50,65.00) rotate(-90)" text-anchor="middle" dominant-baseline="central" fill="#111" style="font-size:7.3px;stroke:#111;stroke-width:0.32px;" >Target:total holes ratio (%)</text>
<text x="577.00" y="17.50" text-anchor="middle" dominant-baseline="central" fill="#111" style="font-size:6.2px;stroke:#111;stroke-width:0.3px"><tspan style="font-style:italic">P</tspan> = 0.0022</text>
<path d="M561.50,26.20 V22.30 H591.70 V26.20" fill="none" stroke="#111" stroke-width="0.9"/>
<text x="16.00" y="149.50" text-anchor="middle" fill="#000" style="font-size:12.8px;font-weight:bold;stroke:#000;stroke-width:0.35px">e</text>
<text x="40.00" y="147.60" text-anchor="middle" dominant-baseline="central" fill="#111" style="font-size:7.0px;stroke:#111;stroke-width:0.32px;" >NRM</text>
<text x="79.00" y="147.60" text-anchor="middle" dominant-baseline="central" fill="#111" style="font-size:7.0px;stroke:#111;stroke-width:0.32px;" >ABN</text>
<rect x="26.30" y="153.00" width="27.20" height="112.70" fill="#f0f0f0" stroke="#111" stroke-width="1.0" />
<g clip-path="url(#d1)"><g>
<circle cx="49.3" cy="153.1" r="0.5" fill="#999" fill-opacity="0.57"/><circle cx="39.1" cy="263.5" r="0.6" fill="#999" fill-opacity="0.28"/><circle cx="43.4" cy="240.7" r="0.6" fill="#999" fill-opacity="0.28"/><circle cx="35.3" cy="261.7" r="0.9" fill="#999" fill-opacity="0.29"/><circle cx="33.0" cy="164.4" r="0.4" fill="#999" fill-opacity="0.53"/><circle cx="31.1" cy="216.0" r="0.7" fill="#999" fill-opacity="0.32"/><circle cx="46.2" cy="167.8" r="0.8" fill="#999" fill-opacity="0.29"/><circle cx="37.7" cy="177.0" r="0.6" fill="#999" fill-opacity="0.59"/><circle cx="48.2" cy="187.3" r="0.9" fill="#999" fill-opacity="0.32"/><circle cx="37.0" cy="249.3" r="0.8" fill="#999" fill-opacity="0.29"/><circle cx="53.2" cy="177.0" r="0.6" fill="#999" fill-opacity="0.52"/><circle cx="35.2" cy="186.4" r="0.4" fill="#999" fill-opacity="0.28"/><circle cx="42.2" cy="180.4" r="0.8" fill="#999" fill-opacity="0.38"/><circle cx="38.6" cy="261.1" r="0.7" fill="#999" fill-opacity="0.45"/><circle cx="49.9" cy="173.6" r="0.5" fill="#999" fill-opacity="0.57"/><circle cx="48.5" cy="181.1" r="0.5" fill="#999" fill-opacity="0.51"/><circle cx="51.9" cy="175.2" r="1.0" fill="#999" fill-opacity="0.56"/><circle cx="42.7" cy="200.5" r="0.5" fill="#999" fill-opacity="0.26"/><circle cx="52.5" cy="179.9" r="0.8" fill="#999" fill-opacity="0.34"/><circle cx="48.7" cy="220.2" r="0.6" fill="#999" fill-opacity="0.31"/><circle cx="45.9" cy="160.8" r="0.5" fill="#999" fill-opacity="0.45"/><circle cx="49.5" cy="222.2" r="0.6" fill="#999" fill-opacity="0.57"/><circle cx="31.8" cy="154.9" r="0.6" fill="#999" fill-opacity="0.41"/><circle cx="27.9" cy="172.9" r="0.6" fill="#999" fill-opacity="0.45"/><circle cx="29.9" cy="193.8" r="0.9" fill="#999" fill-opacity="0.59"/><circle cx="44.2" cy="230.9" r="0.8" fill="#999" fill-opacity="0.30"/><circle cx="27.3" cy="155.0" r="0.9" fill="#999" fill-opacity="0.50"/><circle cx="52.5" cy="155.4" r="0.8" fill="#999" fill-opacity="0.42"/><circle cx="46.2" cy="188.9" r="1.0" fill="#999" fill-opacity="0.28"/><circle cx="41.2" cy="236.1" r="0.9" fill="#999" fill-opacity="0.51"/><circle cx="45.4" cy="242.4" r="0.9" fill="#999" fill-opacity="0.37"/><circle cx="44.9" cy="254.5" r="0.9" fill="#999" fill-opacity="0.40"/><circle cx="47.8" cy="250.3" r="0.7" fill="#999" fill-opacity="0.47"/><circle cx="36.7" cy="218.7" r="0.8" fill="#999" fill-opacity="0.28"/><circle cx="43.7" cy="264.9" r="0.9" fill="#999" fill-opacity="0.50"/><circle cx="36.9" cy="235.8" r="0.7" fill="#999" fill-opacity="0.40"/>
<path d="M44.7,152.0 L44.7,154.3 L44.9,156.7 L44.2,159.0 L44.0,161.3 L43.9,163.6 L43.3,166.0 L43.4,168.3 L43.3,170.6 L43.3,172.9 L42.4,175.3 L42.4,177.6 L41.4,179.8 L41.4,182.1 L40.5,184.3 L39.0,186.5 L39.3,188.8 L38.5,191.0 L38.5,193.5 L38.7,195.9 L38.5,198.4 L38.6,200.8 L39.5,203.3 L39.2,205.8 L39.7,208.2 L40.0,210.7 L39.9,213.1 L40.4,215.5 L40.5,217.9 L41.0,220.3 L40.8,222.8 L41.0,225.2 L40.9,227.6 L41.2,230.0 L41.2,232.2 L41.2,234.5 L42.1,236.8 L42.3,239.0 L42.4,241.2 L42.4,243.5 L42.2,245.8 L42.3,248.0 L42.5,250.4 L42.5,252.8 L43.4,255.1 L43.2,257.5 L43.9,259.9 L43.5,262.2 L44.3,264.6 L44.0,267.0" fill="none" stroke="#0c0c0c" stroke-width="2.6" stroke-linejoin="round" stroke-linecap="round"/>
<line x1="41.2" y1="232.2" x2="44.1" y2="230.0" stroke="#111" stroke-width="1.6" stroke-linecap="round"/><line x1="40.5" y1="184.3" x2="39.0" y2="184.9" stroke="#111" stroke-width="1.7" stroke-linecap="round"/><line x1="44.7" y1="152.0" x2="46.5" y2="152.3" stroke="#111" stroke-width="1.5" stroke-linecap="round"/><line x1="38.6" y1="200.8" x2="36.3" y2="202.3" stroke="#111" stroke-width="1.2" stroke-linecap="round"/><line x1="41.4" y1="179.8" x2="37.8" y2="181.2" stroke="#111" stroke-width="1.0" stroke-linecap="round"/><circle cx="37.8" cy="181.2" r="1.0" fill="#111"/><line x1="38.5" y1="198.4" x2="40.2" y2="198.0" stroke="#111" stroke-width="2.0" stroke-linecap="round"/><circle cx="40.2" cy="198.0" r="0.9" fill="#111"/><line x1="38.5" y1="191.0" x2="36.9" y2="190.9" stroke="#111" stroke-width="2.1" stroke-linecap="round"/><line x1="39.7" y1="208.2" x2="36.9" y2="207.5" stroke="#111" stroke-width="2.0" stroke-linecap="round"/><line x1="40.5" y1="217.9" x2="44.3" y2="216.7" stroke="#111" stroke-width="1.6" stroke-linecap="round"/><line x1="38.5" y1="191.0" x2="36.4" y2="191.9" stroke="#111" stroke-width="0.7" stroke-linecap="round"/><circle cx="36.4" cy="191.9" r="1.3" fill="#111"/><line x1="44.7" y1="154.3" x2="42.7" y2="155.1" stroke="#111" stroke-width="1.9" stroke-linecap="round"/><line x1="43.4" y1="168.3" x2="46.7" y2="169.0" stroke="#111" stroke-width="1.9" stroke-linecap="round"/><line x1="42.5" y1="252.8" x2="46.2" y2="251.4" stroke="#111" stroke-width="1.8" stroke-linecap="round"/><line x1="41.2" y1="232.2" x2="39.4" y2="231.7" stroke="#111" stroke-width="1.2" stroke-linecap="round"/><line x1="41.2" y1="230.0" x2="37.2" y2="227.9" stroke="#111" stroke-width="2.0" stroke-linecap="round"/><line x1="40.5" y1="184.3" x2="44.6" y2="185.6" stroke="#111" stroke-width="0.9" stroke-linecap="round"/><line x1="42.2" y1="245.8" x2="40.9" y2="245.8" stroke="#111" stroke-width="1.7" stroke-linecap="round"/><line x1="38.6" y1="200.8" x2="41.7" y2="199.5" stroke="#111" stroke-width="1.8" stroke-linecap="round"/><line x1="42.3" y1="248.0" x2="40.7" y2="247.4" stroke="#111" stroke-width="1.3" stroke-linecap="round"/><circle cx="40.7" cy="247.4" r="1.1" fill="#111"/><line x1="38.5" y1="198.4" x2="41.3" y2="196.1" stroke="#111" stroke-width="1.5" stroke-linecap="round"/><circle cx="41.3" cy="196.1" r="1.1" fill="#111"/><line x1="39.9" y1="213.1" x2="37.6" y2="211.4" stroke="#111" stroke-width="1.9" stroke-linecap="round"/><circle cx="37.6" cy="211.4" r="1.6" fill="#111"/><line x1="42.4" y1="177.6" x2="39.5" y2="179.5" stroke="#111" stroke-width="1.4" stroke-linecap="round"/><line x1="43.9" y1="259.9" x2="40.4" y2="259.6" stroke="#111" stroke-width="2.0" stroke-linecap="round"/><line x1="43.4" y1="255.1" x2="45.4" y2="255.2" stroke="#111" stroke-width="1.1" stroke-linecap="round"/><line x1="42.2" y1="245.8" x2="44.7" y2="247.3" stroke="#111" stroke-width="1.1" stroke-linecap="round"/><line x1="42.4" y1="243.5" x2="45.6" y2="246.0" stroke="#111" stroke-width="1.5" stroke-linecap="round"/><line x1="41.4" y1="179.8" x2="42.7" y2="178.8" stroke="#111" stroke-width="1.3" stroke-linecap="round"/><line x1="44.9" y1="156.7" x2="42.5" y2="157.7" stroke="#111" stroke-width="1.5" stroke-linecap="round"/><line x1="43.4" y1="255.1" x2="47.7" y2="254.9" stroke="#111" stroke-width="2.1" stroke-linecap="round"/><line x1="40.0" y1="210.7" x2="42.5" y2="209.3" stroke="#111" stroke-width="1.4" stroke-linecap="round"/><line x1="40.8" y1="222.8" x2="39.1" y2="222.6" stroke="#111" stroke-width="0.7" stroke-linecap="round"/><circle cx="39.1" cy="222.6" r="1.5" fill="#111"/><line x1="44.7" y1="154.3" x2="46.1" y2="153.2" stroke="#111" stroke-width="1.1" stroke-linecap="round"/><line x1="39.0" y1="186.5" x2="37.5" y2="187.1" stroke="#111" stroke-width="0.9" stroke-linecap="round"/><line x1="39.3" y1="188.8" x2="36.2" y2="190.6" stroke="#111" stroke-width="0.7" stroke-linecap="round"/><line x1="41.2" y1="230.0" x2="38.5" y2="231.5" stroke="#111" stroke-width="1.5" stroke-linecap="round"/><circle cx="38.5" cy="231.5" r="1.0" fill="#111"/><line x1="41.2" y1="232.2" x2="37.4" y2="230.8" stroke="#111" stroke-width="1.8" stroke-linecap="round"/><line x1="42.4" y1="177.6" x2="44.3" y2="178.9" stroke="#111" stroke-width="1.0" stroke-linecap="round"/><line x1="43.3" y1="166.0" x2="45.2" y2="166.6" stroke="#111" stroke-width="1.1" stroke-linecap="round"/><circle cx="45.2" cy="166.6" r="1.6" fill="#111"/><line x1="39.9" y1="213.1" x2="36.6" y2="211.7" stroke="#111" stroke-width="1.6" stroke-linecap="round"/><line x1="43.3" y1="166.0" x2="46.2" y2="167.9" stroke="#111" stroke-width="2.2" stroke-linecap="round"/><circle cx="46.2" cy="167.9" r="1.3" fill="#111"/><line x1="44.3" y1="264.6" x2="48.3" y2="266.6" stroke="#111" stroke-width="1.9" stroke-linecap="round"/><line x1="44.7" y1="154.3" x2="47.7" y2="154.4" stroke="#111" stroke-width="1.6" stroke-linecap="round"/><circle cx="47.7" cy="154.4" r="1.0" fill="#111"/><line x1="41.4" y1="182.1" x2="43.1" y2="181.5" stroke="#111" stroke-width="1.7" stroke-linecap="round"/><line x1="43.3" y1="170.6" x2="40.8" y2="171.6" stroke="#111" stroke-width="1.2" stroke-linecap="round"/><line x1="40.9" y1="227.6" x2="42.9" y2="227.2" stroke="#111" stroke-width="1.7" stroke-linecap="round"/><circle cx="42.9" cy="227.2" r="1.0" fill="#111"/><line x1="39.9" y1="213.1" x2="43.5" y2="212.6" stroke="#111" stroke-width="1.0" stroke-linecap="round"/><circle cx="43.5" cy="212.6" r="1.3" fill="#111"/><line x1="44.7" y1="152.0" x2="46.1" y2="152.7" stroke="#111" stroke-width="2.0" stroke-linecap="round"/><line x1="40.0" y1="210.7" x2="38.1" y2="210.9" stroke="#111" stroke-width="1.2" stroke-linecap="round"/><line x1="38.5" y1="191.0" x2="35.1" y2="192.4" stroke="#111" stroke-width="1.9" stroke-linecap="round"/><line x1="38.6" y1="200.8" x2="35.3" y2="202.1" stroke="#111" stroke-width="1.8" stroke-linecap="round"/><line x1="43.9" y1="259.9" x2="47.6" y2="258.8" stroke="#111" stroke-width="0.9" stroke-linecap="round"/><line x1="42.2" y1="245.8" x2="40.8" y2="245.3" stroke="#111" stroke-width="2.1" stroke-linecap="round"/><circle cx="40.8" cy="245.3" r="1.0" fill="#111"/><line x1="40.0" y1="210.7" x2="37.0" y2="210.2" stroke="#111" stroke-width="2.2" stroke-linecap="round"/><line x1="43.4" y1="255.1" x2="46.0" y2="255.4" stroke="#111" stroke-width="0.9" stroke-linecap="round"/><circle cx="46.0" cy="255.4" r="1.0" fill="#111"/><line x1="40.5" y1="217.9" x2="41.8" y2="217.3" stroke="#111" stroke-width="1.3" stroke-linecap="round"/><circle cx="41.8" cy="217.3" r="1.1" fill="#111"/><line x1="38.6" y1="200.8" x2="36.3" y2="202.6" stroke="#111" stroke-width="1.6" stroke-linecap="round"/><line x1="42.2" y1="245.8" x2="45.6" y2="246.0" stroke="#111" stroke-width="1.7" stroke-linecap="round"/><line x1="39.7" y1="208.2" x2="37.9" y2="208.2" stroke="#111" stroke-width="1.0" stroke-linecap="round"/><line x1="42.4" y1="243.5" x2="39.8" y2="243.5" stroke="#111" stroke-width="1.1" stroke-linecap="round"/><line x1="38.7" y1="195.9" x2="40.9" y2="196.4" stroke="#111" stroke-width="1.5" stroke-linecap="round"/><circle cx="40.9" cy="196.4" r="1.5" fill="#111"/><line x1="38.5" y1="193.5" x2="42.2" y2="193.9" stroke="#111" stroke-width="1.6" stroke-linecap="round"/><line x1="42.5" y1="252.8" x2="46.4" y2="254.2" stroke="#111" stroke-width="0.8" stroke-linecap="round"/><line x1="38.5" y1="198.4" x2="42.7" y2="198.0" stroke="#111" stroke-width="1.4" stroke-linecap="round"/><line x1="39.0" y1="186.5" x2="40.5" y2="187.2" stroke="#111" stroke-width="2.1" stroke-linecap="round"/><circle cx="40.5" cy="187.2" r="1.8" fill="#111"/><line x1="39.0" y1="186.5" x2="37.4" y2="186.8" stroke="#111" stroke-width="1.4" stroke-linecap="round"/><circle cx="37.4" cy="186.8" r="0.9" fill="#111"/><line x1="41.2" y1="230.0" x2="43.3" y2="228.8" stroke="#111" stroke-width="1.3" stroke-linecap="round"/><line x1="42.2" y1="245.8" x2="39.8" y2="246.8" stroke="#111" stroke-width="1.5" stroke-linecap="round"/><line x1="38.5" y1="193.5" x2="36.7" y2="192.4" stroke="#111" stroke-width="2.0" stroke-linecap="round"/><line x1="42.4" y1="243.5" x2="40.3" y2="243.8" stroke="#111" stroke-width="1.8" stroke-linecap="round"/><line x1="41.4" y1="179.8" x2="38.0" y2="178.3" stroke="#111" stroke-width="1.1" stroke-linecap="round"/><line x1="41.4" y1="179.8" x2="40.2" y2="179.0" stroke="#111" stroke-width="1.1" stroke-linecap="round"/><line x1="42.4" y1="243.5" x2="44.3" y2="242.9" stroke="#111" stroke-width="1.8" stroke-linecap="round"/><line x1="42.4" y1="175.3" x2="39.1" y2="174.7" stroke="#111" stroke-width="1.4" stroke-linecap="round"/><circle cx="39.1" cy="174.7" r="1.1" fill="#111"/><line x1="43.5" y1="262.2" x2="47.2" y2="263.9" stroke="#111" stroke-width="1.4" stroke-linecap="round"/><line x1="44.0" y1="267.0" x2="41.4" y2="267.9" stroke="#111" stroke-width="1.3" stroke-linecap="round"/><circle cx="41.4" cy="267.9" r="1.0" fill="#111"/><line x1="42.4" y1="241.2" x2="45.3" y2="242.3" stroke="#111" stroke-width="2.1" stroke-linecap="round"/><line x1="39.2" y1="205.8" x2="36.5" y2="205.1" stroke="#111" stroke-width="1.5" stroke-linecap="round"/><line x1="42.1" y1="236.8" x2="45.5" y2="235.8" stroke="#111" stroke-width="1.9" stroke-linecap="round"/><circle cx="45.5" cy="235.8" r="1.0" fill="#111"/><line x1="42.5" y1="250.4" x2="39.0" y2="250.3" stroke="#111" stroke-width="1.8" stroke-linecap="round"/><circle cx="39.0" cy="250.3" r="1.7" fill="#111"/><line x1="40.5" y1="184.3" x2="44.1" y2="183.6" stroke="#111" stroke-width="0.9" stroke-linecap="round"/><line x1="42.1" y1="236.8" x2="38.1" y2="237.8" stroke="#111" stroke-width="1.1" stroke-linecap="round"/><line x1="38.7" y1="195.9" x2="40.3" y2="197.1" stroke="#111" stroke-width="1.8" stroke-linecap="round"/><line x1="43.9" y1="163.6" x2="46.3" y2="163.2" stroke="#111" stroke-width="1.3" stroke-linecap="round"/><line x1="41.4" y1="179.8" x2="38.9" y2="179.5" stroke="#111" stroke-width="0.9" stroke-linecap="round"/><line x1="42.4" y1="177.6" x2="45.6" y2="179.5" stroke="#111" stroke-width="1.1" stroke-linecap="round"/><circle cx="45.6" cy="179.5" r="1.3" fill="#111"/><line x1="41.2" y1="232.2" x2="42.9" y2="230.9" stroke="#111" stroke-width="2.0" stroke-linecap="round"/><line x1="42.3" y1="239.0" x2="39.2" y2="236.9" stroke="#111" stroke-width="0.8" stroke-linecap="round"/><line x1="38.5" y1="198.4" x2="41.4" y2="196.8" stroke="#111" stroke-width="1.8" stroke-linecap="round"/><line x1="39.0" y1="186.5" x2="36.6" y2="188.1" stroke="#111" stroke-width="1.2" stroke-linecap="round"/><line x1="39.5" y1="203.3" x2="43.7" y2="204.4" stroke="#111" stroke-width="1.4" stroke-linecap="round"/><line x1="43.9" y1="259.9" x2="46.5" y2="257.9" stroke="#111" stroke-width="1.8" stroke-linecap="round"/><line x1="39.5" y1="203.3" x2="36.0" y2="205.1" stroke="#111" stroke-width="2.0" stroke-linecap="round"/><line x1="42.2" y1="245.8" x2="44.1" y2="244.2" stroke="#111" stroke-width="0.9" stroke-linecap="round"/><line x1="43.3" y1="172.9" x2="45.1" y2="173.3" stroke="#111" stroke-width="1.7" stroke-linecap="round"/><circle cx="45.1" cy="173.3" r="1.2" fill="#111"/><line x1="41.2" y1="230.0" x2="44.8" y2="227.5" stroke="#111" stroke-width="1.2" stroke-linecap="round"/><circle cx="44.8" cy="227.5" r="1.4" fill="#111"/><line x1="44.0" y1="267.0" x2="40.0" y2="268.5" stroke="#111" stroke-width="0.7" stroke-linecap="round"/><line x1="44.9" y1="156.7" x2="46.8" y2="156.3" stroke="#111" stroke-width="1.6" stroke-linecap="round"/><line x1="40.8" y1="222.8" x2="38.9" y2="221.9" stroke="#111" stroke-width="1.1" stroke-linecap="round"/><circle cx="38.9" cy="221.9" r="1.6" fill="#111"/><line x1="38.7" y1="195.9" x2="34.4" y2="196.2" stroke="#111" stroke-width="2.0" stroke-linecap="round"/><line x1="40.0" y1="210.7" x2="37.6" y2="210.9" stroke="#111" stroke-width="2.1" stroke-linecap="round"/><line x1="40.5" y1="184.3" x2="42.3" y2="183.3" stroke="#111" stroke-width="1.9" stroke-linecap="round"/><line x1="41.2" y1="230.0" x2="38.1" y2="227.8" stroke="#111" stroke-width="2.1" stroke-linecap="round"/><line x1="40.8" y1="222.8" x2="38.2" y2="221.8" stroke="#111" stroke-width="1.3" stroke-linecap="round"/><line x1="39.9" y1="213.1" x2="42.1" y2="212.3" stroke="#111" stroke-width="2.0" stroke-linecap="round"/><line x1="42.2" y1="245.8" x2="38.9" y2="245.8" stroke="#111" stroke-width="0.8" stroke-linecap="round"/><line x1="42.4" y1="177.6" x2="45.9" y2="179.4" stroke="#111" stroke-width="1.9" stroke-linecap="round"/><circle cx="45.9" cy="179.4" r="1.1" fill="#111"/><line x1="43.2" y1="257.5" x2="39.2" y2="258.6" stroke="#111" stroke-width="0.8" stroke-linecap="round"/><line x1="41.2" y1="232.2" x2="39.1" y2="233.1" stroke="#111" stroke-width="1.3" stroke-linecap="round"/><line x1="43.9" y1="163.6" x2="41.7" y2="162.0" stroke="#111" stroke-width="1.3" stroke-linecap="round"/><line x1="38.7" y1="195.9" x2="41.3" y2="196.1" stroke="#111" stroke-width="2.2" stroke-linecap="round"/><circle cx="29.0" cy="167.8" r="2.4" fill="#0c0c0c"/><circle cx="45.0" cy="155.0" r="2.8" fill="#0c0c0c"/><circle cx="41.0" cy="157.0" r="2.0" fill="#0c0c0c"/><circle cx="39.0" cy="192.0" r="1.8" fill="#0c0c0c"/>
</g></g>
<rect x="65.40" y="153.00" width="27.20" height="112.70" fill="#f0f0f0" stroke="#111" stroke-width="1.0" />
<g clip-path="url(#d2)"><g>
<circle cx="75.1" cy="193.9" r="0.8" fill="#999" fill-opacity="0.49"/><circle cx="68.5" cy="179.5" r="0.6" fill="#999" fill-opacity="0.43"/><circle cx="87.4" cy="209.4" r="0.4" fill="#999" fill-opacity="0.54"/><circle cx="77.1" cy="211.5" r="0.5" fill="#999" fill-opacity="0.40"/><circle cx="76.0" cy="240.0" r="0.5" fill="#999" fill-opacity="0.44"/><circle cx="70.2" cy="231.4" r="0.4" fill="#999" fill-opacity="0.35"/><circle cx="74.8" cy="224.8" r="0.4" fill="#999" fill-opacity="0.41"/><circle cx="71.1" cy="184.8" r="0.7" fill="#999" fill-opacity="0.59"/><circle cx="78.5" cy="260.7" r="0.5" fill="#999" fill-opacity="0.57"/><circle cx="75.3" cy="174.3" r="0.8" fill="#999" fill-opacity="0.57"/><circle cx="65.6" cy="183.2" r="0.9" fill="#999" fill-opacity="0.37"/><circle cx="72.0" cy="154.0" r="0.4" fill="#999" fill-opacity="0.47"/><circle cx="92.2" cy="265.5" r="0.7" fill="#999" fill-opacity="0.26"/><circle cx="74.2" cy="241.7" r="0.9" fill="#999" fill-opacity="0.47"/><circle cx="71.6" cy="212.4" r="0.7" fill="#999" fill-opacity="0.47"/><circle cx="72.5" cy="259.7" r="0.9" fill="#999" fill-opacity="0.31"/><circle cx="73.3" cy="251.4" r="0.6" fill="#999" fill-opacity="0.58"/><circle cx="79.4" cy="231.4" r="0.8" fill="#999" fill-opacity="0.32"/><circle cx="73.2" cy="181.7" r="0.8" fill="#999" fill-opacity="0.49"/><circle cx="69.0" cy="252.9" r="0.7" fill="#999" fill-opacity="0.33"/><circle cx="77.2" cy="263.4" r="0.7" fill="#999" fill-opacity="0.47"/><circle cx="90.4" cy="261.4" r="0.9" fill="#999" fill-opacity="0.40"/><circle cx="81.4" cy="254.5" r="0.9" fill="#999" fill-opacity="0.45"/><circle cx="74.9" cy="194.5" r="0.8" fill="#999" fill-opacity="0.45"/><circle cx="65.9" cy="233.0" r="0.9" fill="#999" fill-opacity="0.53"/><circle cx="89.8" cy="255.6" r="0.7" fill="#999" fill-opacity="0.53"/><circle cx="75.7" cy="164.1" r="0.6" fill="#999" fill-opacity="0.36"/><circle cx="90.8" cy="230.7" r="0.7" fill="#999" fill-opacity="0.47"/><circle cx="68.8" cy="213.2" r="0.8" fill="#999" fill-opacity="0.39"/><circle cx="72.1" cy="198.9" r="0.6" fill="#999" fill-opacity="0.49"/><circle cx="69.3" cy="163.2" r="0.6" fill="#999" fill-opacity="0.49"/><circle cx="86.1" cy="227.3" r="1.0" fill="#999" fill-opacity="0.38"/><circle cx="66.2" cy="208.0" r="0.7" fill="#999" fill-opacity="0.31"/><circle cx="83.6" cy="191.5" r="0.5" fill="#999" fill-opacity="0.36"/><circle cx="91.1" cy="153.9" r="0.6" fill="#999" fill-opacity="0.35"/><circle cx="70.9" cy="201.7" r="0.5" fill="#999" fill-opacity="0.57"/>
<path d="M77.9,152.0 L77.9,154.3 L77.8,156.7 L77.1,159.0 L76.8,161.3 L77.1,163.6 L76.8,166.0 L77.3,168.3 L77.0,170.6 L76.8,172.9 L76.6,175.3 L76.6,177.6 L76.1,179.9 L76.4,182.2 L76.2,184.5 L77.0,186.9 L76.2,189.2 L77.1,191.5 L76.3,193.8 L77.0,196.1 L76.7,198.4 L76.8,200.7 L77.3,203.1 L76.5,205.4 L76.6,207.7 L77.6,210.0 L77.1,212.3 L76.5,214.6 L77.5,216.9 L77.4,219.2 L76.4,221.5 L76.7,223.8 L76.3,226.2 L76.5,228.5 L76.7,230.8 L76.2,233.1 L76.7,235.4 L76.0,237.7 L76.0,240.0 L76.8,242.2 L76.4,244.5 L76.5,246.8 L76.7,249.0 L76.7,251.2 L76.6,253.5 L76.3,255.8 L77.1,258.0 L77.4,260.2 L77.5,262.5 L77.2,264.8 L77.1,267.0" fill="none" stroke="#0c0c0c" stroke-width="2.5" stroke-linejoin="round" stroke-linecap="round"/>
<line x1="76.3" y1="226.2" x2="74.3" y2="226.2" stroke="#111" stroke-width="1.2" stroke-linecap="round"/><line x1="76.3" y1="255.8" x2="78.4" y2="256.9" stroke="#111" stroke-width="1.8" stroke-linecap="round"/><circle cx="78.4" cy="256.9" r="1.2" fill="#111"/><line x1="77.5" y1="262.5" x2="75.0" y2="262.3" stroke="#111" stroke-width="0.8" stroke-linecap="round"/><circle cx="75.0" cy="262.3" r="1.3" fill="#111"/><line x1="77.0" y1="196.1" x2="79.9" y2="195.4" stroke="#111" stroke-width="1.3" stroke-linecap="round"/><line x1="77.0" y1="196.1" x2="79.2" y2="197.1" stroke="#111" stroke-width="0.9" stroke-linecap="round"/><line x1="76.5" y1="214.6" x2="75.0" y2="215.7" stroke="#111" stroke-width="1.5" stroke-linecap="round"/><line x1="77.1" y1="267.0" x2="75.4" y2="266.0" stroke="#111" stroke-width="1.5" stroke-linecap="round"/><line x1="76.0" y1="240.0" x2="73.9" y2="239.8" stroke="#111" stroke-width="1.6" stroke-linecap="round"/><line x1="77.2" y1="264.8" x2="79.4" y2="264.4" stroke="#111" stroke-width="1.7" stroke-linecap="round"/><circle cx="79.4" cy="264.4" r="1.0" fill="#111"/><line x1="76.2" y1="189.2" x2="77.8" y2="190.1" stroke="#111" stroke-width="1.8" stroke-linecap="round"/><line x1="77.4" y1="260.2" x2="75.4" y2="260.9" stroke="#111" stroke-width="1.1" stroke-linecap="round"/><circle cx="75.4" cy="260.9" r="1.5" fill="#111"/><line x1="76.4" y1="182.2" x2="73.1" y2="182.5" stroke="#111" stroke-width="0.8" stroke-linecap="round"/><line x1="76.1" y1="179.9" x2="78.9" y2="179.1" stroke="#111" stroke-width="0.9" stroke-linecap="round"/><circle cx="78.9" cy="179.1" r="1.0" fill="#111"/><line x1="77.9" y1="154.3" x2="76.5" y2="154.7" stroke="#111" stroke-width="1.4" stroke-linecap="round"/><line x1="76.5" y1="228.5" x2="78.0" y2="228.2" stroke="#111" stroke-width="1.3" stroke-linecap="round"/><circle cx="78.0" cy="228.2" r="1.1" fill="#111"/><line x1="76.6" y1="207.7" x2="73.9" y2="205.6" stroke="#111" stroke-width="1.8" stroke-linecap="round"/><circle cx="73.9" cy="205.6" r="0.9" fill="#111"/><line x1="77.5" y1="262.5" x2="75.2" y2="264.2" stroke="#111" stroke-width="1.6" stroke-linecap="round"/><line x1="77.6" y1="210.0" x2="75.8" y2="208.8" stroke="#111" stroke-width="1.9" stroke-linecap="round"/><line x1="76.2" y1="184.5" x2="77.4" y2="183.7" stroke="#111" stroke-width="0.7" stroke-linecap="round"/><circle cx="77.4" cy="183.7" r="0.9" fill="#111"/><line x1="76.7" y1="251.2" x2="73.4" y2="252.3" stroke="#111" stroke-width="1.5" stroke-linecap="round"/><line x1="77.9" y1="154.3" x2="75.5" y2="155.4" stroke="#111" stroke-width="1.5" stroke-linecap="round"/><line x1="76.8" y1="200.7" x2="79.3" y2="200.1" stroke="#111" stroke-width="1.0" stroke-linecap="round"/><circle cx="79.3" cy="200.1" r="1.3" fill="#111"/><line x1="77.1" y1="159.0" x2="74.6" y2="160.7" stroke="#111" stroke-width="1.2" stroke-linecap="round"/><circle cx="74.6" cy="160.7" r="1.5" fill="#111"/><line x1="76.0" y1="240.0" x2="77.8" y2="239.2" stroke="#111" stroke-width="0.9" stroke-linecap="round"/><line x1="76.8" y1="200.7" x2="73.8" y2="200.1" stroke="#111" stroke-width="1.2" stroke-linecap="round"/><line x1="76.7" y1="223.8" x2="80.0" y2="224.5" stroke="#111" stroke-width="1.5" stroke-linecap="round"/><circle cx="80.0" cy="224.5" r="1.1" fill="#111"/><line x1="77.1" y1="191.5" x2="75.5" y2="191.6" stroke="#111" stroke-width="1.9" stroke-linecap="round"/><line x1="76.2" y1="189.2" x2="79.3" y2="187.3" stroke="#111" stroke-width="1.5" stroke-linecap="round"/><line x1="76.5" y1="205.4" x2="73.8" y2="205.7" stroke="#111" stroke-width="1.2" stroke-linecap="round"/><line x1="77.3" y1="203.1" x2="74.5" y2="205.1" stroke="#111" stroke-width="1.5" stroke-linecap="round"/><circle cx="74.5" cy="205.1" r="1.3" fill="#111"/><line x1="76.4" y1="182.2" x2="73.7" y2="182.7" stroke="#111" stroke-width="1.8" stroke-linecap="round"/><circle cx="73.7" cy="182.7" r="1.1" fill="#111"/><line x1="76.7" y1="249.0" x2="75.4" y2="248.7" stroke="#111" stroke-width="1.4" stroke-linecap="round"/><line x1="76.5" y1="228.5" x2="78.1" y2="229.2" stroke="#111" stroke-width="2.0" stroke-linecap="round"/><line x1="76.6" y1="175.3" x2="75.1" y2="174.2" stroke="#111" stroke-width="1.6" stroke-linecap="round"/><circle cx="75.1" cy="174.2" r="1.0" fill="#111"/><line x1="77.3" y1="168.3" x2="74.6" y2="168.2" stroke="#111" stroke-width="1.9" stroke-linecap="round"/><line x1="76.4" y1="221.5" x2="78.7" y2="221.1" stroke="#111" stroke-width="1.6" stroke-linecap="round"/><line x1="77.0" y1="186.9" x2="73.9" y2="186.8" stroke="#111" stroke-width="1.6" stroke-linecap="round"/><line x1="76.3" y1="255.8" x2="78.2" y2="254.7" stroke="#111" stroke-width="0.8" stroke-linecap="round"/><line x1="76.3" y1="193.8" x2="79.3" y2="195.7" stroke="#111" stroke-width="0.9" stroke-linecap="round"/><line x1="77.1" y1="212.3" x2="75.4" y2="212.1" stroke="#111" stroke-width="1.8" stroke-linecap="round"/><circle cx="75.4" cy="212.1" r="1.2" fill="#111"/><line x1="76.5" y1="228.5" x2="77.9" y2="227.6" stroke="#111" stroke-width="1.8" stroke-linecap="round"/><line x1="76.7" y1="223.8" x2="78.0" y2="223.2" stroke="#111" stroke-width="1.8" stroke-linecap="round"/><line x1="76.5" y1="228.5" x2="73.0" y2="228.6" stroke="#111" stroke-width="1.2" stroke-linecap="round"/><circle cx="73.0" cy="228.6" r="1.5" fill="#111"/><line x1="77.5" y1="262.5" x2="76.1" y2="262.0" stroke="#111" stroke-width="0.7" stroke-linecap="round"/><line x1="77.5" y1="216.9" x2="79.9" y2="215.8" stroke="#111" stroke-width="1.8" stroke-linecap="round"/><line x1="76.5" y1="246.8" x2="78.0" y2="248.0" stroke="#111" stroke-width="1.2" stroke-linecap="round"/><line x1="77.1" y1="163.6" x2="80.5" y2="163.7" stroke="#111" stroke-width="1.4" stroke-linecap="round"/><line x1="77.5" y1="262.5" x2="75.2" y2="263.7" stroke="#111" stroke-width="1.2" stroke-linecap="round"/><line x1="77.9" y1="154.3" x2="79.3" y2="154.7" stroke="#111" stroke-width="1.1" stroke-linecap="round"/><line x1="77.0" y1="196.1" x2="80.0" y2="197.2" stroke="#111" stroke-width="1.4" stroke-linecap="round"/><line x1="76.7" y1="251.2" x2="78.2" y2="252.4" stroke="#111" stroke-width="1.6" stroke-linecap="round"/><line x1="76.5" y1="246.8" x2="77.5" y2="247.6" stroke="#111" stroke-width="0.9" stroke-linecap="round"/><line x1="77.0" y1="170.6" x2="74.8" y2="169.5" stroke="#111" stroke-width="1.4" stroke-linecap="round"/><line x1="77.3" y1="203.1" x2="75.6" y2="202.8" stroke="#111" stroke-width="1.6" stroke-linecap="round"/><circle cx="75.6" cy="202.8" r="1.3" fill="#111"/><line x1="76.6" y1="253.5" x2="78.2" y2="252.9" stroke="#111" stroke-width="0.7" stroke-linecap="round"/><line x1="77.5" y1="262.5" x2="78.8" y2="261.5" stroke="#111" stroke-width="1.5" stroke-linecap="round"/><line x1="76.8" y1="166.0" x2="74.7" y2="165.5" stroke="#111" stroke-width="0.8" stroke-linecap="round"/><line x1="76.5" y1="228.5" x2="74.5" y2="226.8" stroke="#111" stroke-width="1.5" stroke-linecap="round"/><line x1="77.0" y1="170.6" x2="75.7" y2="170.3" stroke="#111" stroke-width="1.9" stroke-linecap="round"/><line x1="76.3" y1="255.8" x2="73.5" y2="253.9" stroke="#111" stroke-width="1.9" stroke-linecap="round"/><line x1="77.4" y1="260.2" x2="80.6" y2="261.0" stroke="#111" stroke-width="2.0" stroke-linecap="round"/><line x1="76.5" y1="214.6" x2="78.6" y2="214.1" stroke="#111" stroke-width="1.5" stroke-linecap="round"/><line x1="76.7" y1="198.4" x2="74.5" y2="197.5" stroke="#111" stroke-width="1.0" stroke-linecap="round"/><circle cx="74.5" cy="197.5" r="0.9" fill="#111"/><line x1="76.4" y1="221.5" x2="79.2" y2="220.1" stroke="#111" stroke-width="1.0" stroke-linecap="round"/><line x1="76.7" y1="230.8" x2="74.5" y2="232.6" stroke="#111" stroke-width="1.8" stroke-linecap="round"/><line x1="76.0" y1="237.7" x2="73.6" y2="238.4" stroke="#111" stroke-width="2.0" stroke-linecap="round"/><circle cx="73.6" cy="238.4" r="1.3" fill="#111"/><line x1="76.4" y1="182.2" x2="79.1" y2="181.6" stroke="#111" stroke-width="2.0" stroke-linecap="round"/><line x1="76.5" y1="228.5" x2="78.8" y2="230.0" stroke="#111" stroke-width="0.9" stroke-linecap="round"/><line x1="76.7" y1="235.4" x2="74.3" y2="234.0" stroke="#111" stroke-width="1.4" stroke-linecap="round"/><circle cx="74.3" cy="234.0" r="1.1" fill="#111"/><line x1="76.0" y1="237.7" x2="74.6" y2="237.6" stroke="#111" stroke-width="1.8" stroke-linecap="round"/><line x1="77.0" y1="170.6" x2="78.2" y2="171.5" stroke="#111" stroke-width="1.5" stroke-linecap="round"/><line x1="76.2" y1="233.1" x2="78.9" y2="235.2" stroke="#111" stroke-width="1.7" stroke-linecap="round"/><line x1="77.1" y1="191.5" x2="74.4" y2="191.6" stroke="#111" stroke-width="1.5" stroke-linecap="round"/><circle cx="74.4" cy="191.6" r="1.1" fill="#111"/><line x1="76.2" y1="233.1" x2="79.2" y2="234.9" stroke="#111" stroke-width="1.6" stroke-linecap="round"/><line x1="77.8" y1="156.7" x2="79.8" y2="158.2" stroke="#111" stroke-width="1.5" stroke-linecap="round"/><line x1="76.2" y1="233.1" x2="77.4" y2="233.8" stroke="#111" stroke-width="0.7" stroke-linecap="round"/><line x1="76.8" y1="172.9" x2="79.0" y2="171.5" stroke="#111" stroke-width="1.5" stroke-linecap="round"/><line x1="76.7" y1="230.8" x2="74.5" y2="231.8" stroke="#111" stroke-width="0.8" stroke-linecap="round"/><circle cx="74.5" cy="231.8" r="1.1" fill="#111"/><line x1="76.8" y1="200.7" x2="75.7" y2="200.1" stroke="#111" stroke-width="0.7" stroke-linecap="round"/><line x1="76.5" y1="205.4" x2="79.0" y2="203.9" stroke="#111" stroke-width="1.6" stroke-linecap="round"/><circle cx="79.0" cy="203.9" r="1.3" fill="#111"/><line x1="77.4" y1="260.2" x2="80.1" y2="261.5" stroke="#111" stroke-width="1.7" stroke-linecap="round"/><line x1="77.1" y1="191.5" x2="73.9" y2="189.6" stroke="#111" stroke-width="1.1" stroke-linecap="round"/><line x1="76.2" y1="189.2" x2="73.8" y2="188.6" stroke="#111" stroke-width="0.9" stroke-linecap="round"/><line x1="76.6" y1="175.3" x2="80.0" y2="176.1" stroke="#111" stroke-width="1.8" stroke-linecap="round"/><line x1="77.6" y1="210.0" x2="74.5" y2="209.5" stroke="#111" stroke-width="0.8" stroke-linecap="round"/><circle cx="84.7" cy="200.2" r="1.5" fill="#0c0c0c"/><circle cx="71.1" cy="260.3" r="1.2" fill="#0c0c0c"/><circle cx="88.4" cy="260.3" r="1.4" fill="#0c0c0c"/><circle cx="92.0" cy="266.0" r="3.0" fill="#0c0c0c"/>
</g></g>
<rect x="88.20" y="250.00" width="2.60" height="5.00" fill="#111" stroke="none" stroke-width="0" />
<text transform="translate(96.00,254.30) rotate(-90)" text-anchor="middle" dominant-baseline="central" fill="#111" style="font-size:6.4px;stroke:#111;stroke-width:0.32px;" >2.5 μm</text>
<line x1="125.10" y1="157.90" x2="125.10" y2="254.90" stroke="#333" stroke-width="1.25" />
<line x1="122.10" y1="254.40" x2="125.10" y2="254.40" stroke="#333" stroke-width="0.9" />
<text x="120.70" y="254.10" text-anchor="end" dominant-baseline="central" fill="#111" style="font-size:6.3px;stroke:#111;stroke-width:0.32px;letter-spacing:0.3px;" >0</text>
<line x1="122.10" y1="235.20" x2="125.10" y2="235.20" stroke="#333" stroke-width="0.9" />
<text x="120.70" y="234.90" text-anchor="end" dominant-baseline="central" fill="#111" style="font-size:6.3px;stroke:#111;stroke-width:0.32px;letter-spacing:0.3px;" >5</text>
<line x1="122.10" y1="216.00" x2="125.10" y2="216.00" stroke="#333" stroke-width="0.9" />
<text x="120.70" y="215.70" text-anchor="end" dominant-baseline="central" fill="#111" style="font-size:6.3px;stroke:#111;stroke-width:0.32px;letter-spacing:0.3px;" >10</text>
<line x1="122.10" y1="196.80" x2="125.10" y2="196.80" stroke="#333" stroke-width="0.9" />
<text x="120.70" y="196.50" text-anchor="end" dominant-baseline="central" fill="#111" style="font-size:6.3px;stroke:#111;stroke-width:0.32px;letter-spacing:0.3px;" >15</text>
<line x1="122.10" y1="177.60" x2="125.10" y2="177.60" stroke="#333" stroke-width="0.9" />
<text x="120.70" y="177.30" text-anchor="end" dominant-baseline="central" fill="#111" style="font-size:6.3px;stroke:#111;stroke-width:0.32px;letter-spacing:0.3px;" >20</text>
<line x1="122.10" y1="158.40" x2="125.10" y2="158.40" stroke="#333" stroke-width="0.9" />
<text x="120.70" y="158.10" text-anchor="end" dominant-baseline="central" fill="#111" style="font-size:6.3px;stroke:#111;stroke-width:0.32px;letter-spacing:0.3px;" >25</text>
<rect x="127.20" y="197.18" width="9.30" height="57.22" fill="#d2d2d4" stroke="#111" stroke-width="1.2" />
<line x1="131.85" y1="193.34" x2="131.85" y2="201.02" stroke="#111" stroke-width="0.9" />
<line x1="129.65" y1="193.34" x2="134.05" y2="193.34" stroke="#111" stroke-width="0.9" />
<line x1="129.65" y1="201.02" x2="134.05" y2="201.02" stroke="#111" stroke-width="0.9" />
<text x="131.85" y="251.20" text-anchor="middle" dominant-baseline="central" fill="#fff" style="font-size:5.2px;stroke:#fff;stroke-width:0.32px;font-weight:bold;" >20</text>
<rect x="156.60" y="215.62" width="9.60" height="38.78" fill="#579f94" stroke="#111" stroke-width="1.2" />
<line x1="161.40" y1="212.16" x2="161.40" y2="219.07" stroke="#111" stroke-width="0.9" />
<line x1="159.20" y1="212.16" x2="163.60" y2="212.16" stroke="#111" stroke-width="0.9" />
<line x1="159.20" y1="219.07" x2="163.60" y2="219.07" stroke="#111" stroke-width="0.9" />
<text x="161.40" y="251.20" text-anchor="middle" dominant-baseline="central" fill="#fff" style="font-size:5.2px;stroke:#fff;stroke-width:0.32px;font-weight:bold;" >20</text>
<circle cx="146.00" cy="166.08" r="1.65" fill="#fff" stroke="#111" stroke-width="1.1"/>
<circle cx="146.00" cy="169.92" r="1.65" fill="#fff" stroke="#111" stroke-width="1.1"/>
<circle cx="146.00" cy="173.76" r="1.65" fill="#fff" stroke="#111" stroke-width="1.1"/>
<circle cx="146.00" cy="181.44" r="1.65" fill="#fff" stroke="#111" stroke-width="1.1"/>
<circle cx="144.65" cy="185.28" r="1.65" fill="#fff" stroke="#111" stroke-width="1.1"/>
<circle cx="147.35" cy="185.28" r="1.65" fill="#fff" stroke="#111" stroke-width="1.1"/>
<circle cx="146.00" cy="189.12" r="1.65" fill="#fff" stroke="#111" stroke-width="1.1"/>
<circle cx="146.00" cy="192.96" r="1.65" fill="#fff" stroke="#111" stroke-width="1.1"/>
<circle cx="146.00" cy="196.80" r="1.65" fill="#fff" stroke="#111" stroke-width="1.1"/>
<circle cx="141.95" cy="200.64" r="1.65" fill="#fff" stroke="#111" stroke-width="1.1"/>
<circle cx="144.65" cy="200.64" r="1.65" fill="#fff" stroke="#111" stroke-width="1.1"/>
<circle cx="147.35" cy="200.64" r="1.65" fill="#fff" stroke="#111" stroke-width="1.1"/>
<circle cx="150.05" cy="200.64" r="1.65" fill="#fff" stroke="#111" stroke-width="1.1"/>
<circle cx="146.00" cy="204.48" r="1.65" fill="#fff" stroke="#111" stroke-width="1.1"/>
<circle cx="144.65" cy="208.32" r="1.65" fill="#fff" stroke="#111" stroke-width="1.1"/>
<circle cx="147.35" cy="208.32" r="1.65" fill="#fff" stroke="#111" stroke-width="1.1"/>
<circle cx="146.00" cy="212.16" r="1.65" fill="#fff" stroke="#111" stroke-width="1.1"/>
<circle cx="146.00" cy="216.00" r="1.65" fill="#fff" stroke="#111" stroke-width="1.1"/>
<circle cx="146.00" cy="223.68" r="1.65" fill="#fff" stroke="#111" stroke-width="1.1"/>
<circle cx="146.00" cy="227.52" r="1.65" fill="#fff" stroke="#111" stroke-width="1.1"/>
<circle cx="175.70" cy="181.44" r="1.65" fill="#fff" stroke="#111" stroke-width="1.1"/>
<circle cx="175.70" cy="185.28" r="1.65" fill="#fff" stroke="#111" stroke-width="1.1"/>
<circle cx="175.70" cy="196.80" r="1.65" fill="#fff" stroke="#111" stroke-width="1.1"/>
<circle cx="175.70" cy="204.48" r="1.65" fill="#fff" stroke="#111" stroke-width="1.1"/>
<circle cx="173.00" cy="208.32" r="1.65" fill="#fff" stroke="#111" stroke-width="1.1"/>
<circle cx="175.70" cy="208.32" r="1.65" fill="#fff" stroke="#111" stroke-width="1.1"/>
<circle cx="178.40" cy="208.32" r="1.65" fill="#fff" stroke="#111" stroke-width="1.1"/>
<circle cx="174.35" cy="212.16" r="1.65" fill="#fff" stroke="#111" stroke-width="1.1"/>
<circle cx="177.05" cy="212.16" r="1.65" fill="#fff" stroke="#111" stroke-width="1.1"/>
<circle cx="174.35" cy="216.00" r="1.65" fill="#fff" stroke="#111" stroke-width="1.1"/>
<circle cx="177.05" cy="216.00" r="1.65" fill="#fff" stroke="#111" stroke-width="1.1"/>
<circle cx="175.70" cy="219.84" r="1.65" fill="#fff" stroke="#111" stroke-width="1.1"/>
<circle cx="174.35" cy="223.68" r="1.65" fill="#fff" stroke="#111" stroke-width="1.1"/>
<circle cx="177.05" cy="223.68" r="1.65" fill="#fff" stroke="#111" stroke-width="1.1"/>
<circle cx="173.00" cy="227.52" r="1.65" fill="#fff" stroke="#111" stroke-width="1.1"/>
<circle cx="175.70" cy="227.52" r="1.65" fill="#fff" stroke="#111" stroke-width="1.1"/>
<circle cx="178.40" cy="227.52" r="1.65" fill="#fff" stroke="#111" stroke-width="1.1"/>
<circle cx="175.70" cy="231.36" r="1.65" fill="#fff" stroke="#111" stroke-width="1.1"/>
<circle cx="175.70" cy="235.20" r="1.65" fill="#fff" stroke="#111" stroke-width="1.1"/>
<circle cx="175.70" cy="239.04" r="1.65" fill="#fff" stroke="#111" stroke-width="1.1"/>
<text x="138.90" y="262.30" text-anchor="middle" dominant-baseline="central" fill="#111" style="font-size:7.0px;stroke:#111;stroke-width:0.32px;" >NRM</text>
<text x="168.20" y="262.30" text-anchor="middle" dominant-baseline="central" fill="#111" style="font-size:7.0px;stroke:#111;stroke-width:0.32px;" >ABN</text>
<text transform="translate(107.60,205.40) rotate(-90)" text-anchor="middle" dominant-baseline="central" fill="#111" style="font-size:7.3px;stroke:#111;stroke-width:0.32px;" >Spine density (per 10 μm)</text>
<text x="145.20" y="152.60" text-anchor="middle" dominant-baseline="central" fill="#111" style="font-size:6.2px;stroke:#111;stroke-width:0.3px"><tspan style="font-style:italic">P</tspan> = 0.0011</text>
<path d="M130.20,161.50 V156.80 H160.30 V161.50" fill="none" stroke="#111" stroke-width="0.9"/>
<text x="197.30" y="149.50" text-anchor="middle" fill="#000" style="font-size:12.8px;font-weight:bold;stroke:#000;stroke-width:0.35px">f</text>
<text x="240.40" y="148.50" text-anchor="middle" dominant-baseline="central" fill="#111" style="font-size:6.9px;stroke:#111;stroke-width:0.32px;" >CA1</text>
<text x="304.00" y="148.50" text-anchor="middle" dominant-baseline="central" fill="#111" style="font-size:6.9px;stroke:#111;stroke-width:0.32px;" >CA3</text>
<text x="369.50" y="148.50" text-anchor="middle" dominant-baseline="central" fill="#111" style="font-size:6.9px;stroke:#111;stroke-width:0.32px;" >DG</text>
<line x1="204.10" y1="153.70" x2="204.10" y2="265.60" stroke="#555" stroke-width="1.3" />
<text transform="translate(208.70,182.70) rotate(-90)" text-anchor="middle" dominant-baseline="central" fill="#111" style="font-size:6.3px;stroke:#111;stroke-width:0.32px;" >NRM</text>
<text transform="translate(208.70,237.60) rotate(-90)" text-anchor="middle" dominant-baseline="central" fill="#111" style="font-size:6.3px;stroke:#111;stroke-width:0.32px;" >ABN</text>
<text transform="translate(198.70,211.70) rotate(-90)" text-anchor="middle" dominant-baseline="central" fill="#e8304a" style="font-size:6.6px;stroke:#e8304a;stroke-width:0.32px;" >AT8</text>
<g clip-path="url(#c3)"><g filter="url(#soft)">
<rect x="212.20" y="153.20" width="57.60" height="113.50" fill="#050509" stroke="none" stroke-width="0" />
<rect x="212.20" y="153.20" width="57.60" height="113.50" fill="#000" stroke="none" stroke-width="0" filter="url(#fBg)"/>
<path d="M210.2,171.3 L271.8,171.3 L271.8,184.8 L210.2,184.8 Z" fill="#7a2848" fill-opacity="0.4" filter="url(#blur2)"/>
<path d="M210.2,171.3 L271.8,171.3 L271.8,184.8 L210.2,184.8 Z" fill="#000" filter="url(#fB)"/>
<path d="M210.2,171.3 L271.8,171.3 L271.8,184.8 L210.2,184.8 Z" fill="#000" filter="url(#fR)"/>
<path d="M210.2,231.4 L271.8,231.4 L271.8,240.7 L210.2,240.7 Z" fill="#7a2848" fill-opacity="0.4" filter="url(#blur2)"/>
<path d="M210.2,231.4 L271.8,231.4 L271.8,240.7 L210.2,240.7 Z" fill="#000" filter="url(#fB)"/>
<path d="M210.2,231.4 L271.8,231.4 L271.8,240.7 L210.2,240.7 Z" fill="#000" filter="url(#fR)"/>
<path d="M224.4,183.0 l0.9,17.6" stroke="#a02030" stroke-opacity="0.3" stroke-width="0.5" fill="none"/>
<path d="M240.0,183.0 l-1.4,19.5" stroke="#a02030" stroke-opacity="0.3" stroke-width="0.5" fill="none"/>
<path d="M256.3,183.0 l0.1,16.1" stroke="#a02030" stroke-opacity="0.3" stroke-width="0.5" fill="none"/>
<path d="M227.9,183.0 l-2.5,14.5" stroke="#a02030" stroke-opacity="0.3" stroke-width="0.5" fill="none"/>
<path d="M245.2,183.0 l-2.2,19.5" stroke="#a02030" stroke-opacity="0.3" stroke-width="0.5" fill="none"/>
<path d="M227.7,183.0 l-1.3,10.5" stroke="#a02030" stroke-opacity="0.3" stroke-width="0.5" fill="none"/>
<path d="M265.7,183.0 l1.2,20.5" stroke="#a02030" stroke-opacity="0.3" stroke-width="0.5" fill="none"/>
<path d="M246.7,183.0 l-2.3,13.9" stroke="#a02030" stroke-opacity="0.3" stroke-width="0.5" fill="none"/>
<path d="M240.9,183.0 l-1.9,21.4" stroke="#a02030" stroke-opacity="0.3" stroke-width="0.5" fill="none"/>
<line x1="212.20" y1="209.95" x2="269.80" y2="209.95" stroke="#383838" stroke-width="0.5" filter="none"/>
</g></g>
<g clip-path="url(#c4)"><g filter="url(#soft)">
<rect x="277.20" y="153.00" width="56.90" height="113.60" fill="#050509" stroke="none" stroke-width="0" />
<rect x="277.20" y="153.00" width="56.90" height="113.60" fill="#000" stroke="none" stroke-width="0" filter="url(#fBg)"/>
<path d="M291.5,153.0 Q325.4,181.4 291.0,209.8 Q328.4,238.2 290.3,266.6 L319.0,266.6 Q339.4,238.2 314.3,209.8 Q338.5,181.4 316.6,153.0 Z" fill="#6a2038" fill-opacity="0.6" filter="url(#blur2)"/>
<path d="M291.5,153.0 Q325.4,181.4 291.0,209.8 Q328.4,238.2 290.3,266.6 L319.0,266.6 Q339.4,238.2 314.3,209.8 Q338.5,181.4 316.6,153.0 Z" fill="#000" filter="url(#fBs)"/>
<path d="M291.5,153.0 Q325.4,181.4 291.0,209.8 Q328.4,238.2 290.3,266.6 L319.0,266.6 Q339.4,238.2 314.3,209.8 Q338.5,181.4 316.6,153.0 Z" fill="#000" filter="url(#fR)"/>
<path d="M291.5,153.0 Q325.4,181.4 291.0,209.8 Q328.4,238.2 290.3,266.6" fill="none" stroke="#f4f4f4" stroke-width="1.0" stroke-dasharray="1.0 1.3"/>
<path d="M316.6,153.0 Q338.5,181.4 314.3,209.8 Q339.4,238.2 319.0,266.6" fill="none" stroke="#f4f4f4" stroke-width="1.0" stroke-dasharray="1.0 1.3"/>
<line x1="277.20" y1="209.80" x2="334.10" y2="209.80" stroke="#383838" stroke-width="0.5" filter="none"/>
</g></g>
<g clip-path="url(#c5)"><g filter="url(#soft)">
<rect x="341.20" y="153.00" width="56.80" height="113.40" fill="#050509" stroke="none" stroke-width="0" />
<rect x="341.20" y="153.00" width="56.80" height="113.40" fill="#000" stroke="none" stroke-width="0" filter="url(#fBg)"/>
<path d="M339.0,163.9 L400.0,154.2 L400.0,168.7 L339.0,176.3 Z" fill="#48307a" fill-opacity="0.4" filter="url(#blur2)"/>
<path d="M339.0,163.9 L400.0,154.2 L400.0,168.7 L339.0,176.3 Z" fill="#000" filter="url(#fBd)"/>
<path d="M339.0,163.9 L400.0,154.2 L400.0,168.7 L339.0,176.3 Z" fill="#000" filter="url(#fRs)"/>
<path d="M339.0,190.9 L400.0,190.2 L400.0,204.7 L339.0,204.7 Z" fill="#48307a" fill-opacity="0.4" filter="url(#blur2)"/>
<path d="M339.0,190.9 L400.0,190.2 L400.0,204.7 L339.0,204.7 Z" fill="#000" filter="url(#fBd)"/>
<path d="M339.0,190.9 L400.0,190.2 L400.0,204.7 L339.0,204.7 Z" fill="#000" filter="url(#fRs)"/>
<path d="M339.0,222.1 L400.0,213.8 L400.0,225.5 L339.0,233.2 Z" fill="#48307a" fill-opacity="0.4" filter="url(#blur2)"/>
<path d="M339.0,222.1 L400.0,213.8 L400.0,225.5 L339.0,233.2 Z" fill="#000" filter="url(#fBd)"/>
<path d="M339.0,222.1 L400.0,213.8 L400.0,225.5 L339.0,233.2 Z" fill="#000" filter="url(#fRs)"/>
<path d="M339.0,251.9 L400.0,251.9 L400.0,262.3 L339.0,262.3 Z" fill="#48307a" fill-opacity="0.4" filter="url(#blur2)"/>
<path d="M339.0,251.9 L400.0,251.9 L400.0,262.3 L339.0,262.3 Z" fill="#000" filter="url(#fBd)"/>
<path d="M339.0,251.9 L400.0,251.9 L400.0,262.3 L339.0,262.3 Z" fill="#000" filter="url(#fRs)"/>
<circle cx="364.7" cy="175.6" r="1.04" fill="#d02a3c" fill-opacity="0.9"/>
<circle cx="371.0" cy="179.8" r="1.20" fill="#d02a3c" fill-opacity="0.9"/>
<circle cx="376.5" cy="177.0" r="0.96" fill="#d02a3c" fill-opacity="0.9"/>
<circle cx="384.8" cy="179.8" r="1.04" fill="#d02a3c" fill-opacity="0.9"/>
<circle cx="357.8" cy="181.2" r="0.80" fill="#d02a3c" fill-opacity="0.9"/>
<circle cx="382.0" cy="188.8" r="0.96" fill="#d02a3c" fill-opacity="0.9"/>
<circle cx="377.2" cy="196.4" r="0.72" fill="#d02a3c" fill-opacity="0.9"/>
<circle cx="348.8" cy="239.4" r="1.12" fill="#d02a3c" fill-opacity="0.9"/>
<circle cx="361.3" cy="233.2" r="1.04" fill="#d02a3c" fill-opacity="0.9"/>
<circle cx="364.0" cy="239.4" r="1.12" fill="#d02a3c" fill-opacity="0.9"/>
<circle cx="370.3" cy="233.9" r="0.96" fill="#d02a3c" fill-opacity="0.9"/>
<circle cx="373.7" cy="232.5" r="1.04" fill="#d02a3c" fill-opacity="0.9"/>
<circle cx="368.9" cy="242.9" r="0.88" fill="#d02a3c" fill-opacity="0.9"/>
<circle cx="367.5" cy="249.1" r="0.96" fill="#d02a3c" fill-opacity="0.9"/>
<circle cx="377.2" cy="237.3" r="0.80" fill="#d02a3c" fill-opacity="0.9"/>
<circle cx="384.1" cy="229.0" r="0.96" fill="#d02a3c" fill-opacity="0.9"/>
<circle cx="391.0" cy="242.9" r="1.04" fill="#d02a3c" fill-opacity="0.9"/>
<circle cx="352.2" cy="248.4" r="0.80" fill="#d02a3c" fill-opacity="0.9"/>
<circle cx="341.9" cy="246.3" r="0.80" fill="#d02a3c" fill-opacity="0.9"/>
<line x1="341.20" y1="209.70" x2="398.00" y2="209.70" stroke="#383838" stroke-width="0.5" filter="none"/>
<text x="387.20" y="259.00" text-anchor="middle" dominant-baseline="central" fill="#fff" style="font-size:5.8px;stroke:#fff;stroke-width:0.32px;font-weight:bold;" >50 μm</text>
<rect x="383.00" y="263.50" width="9.50" height="2.60" fill="#fff" stroke="none" stroke-width="0" />
</g></g>
<text x="413.50" y="149.50" text-anchor="middle" fill="#000" style="font-size:12.8px;font-weight:bold;stroke:#000;stroke-width:0.35px">g</text>
<text x="461.30" y="147.80" text-anchor="middle" dominant-baseline="central" fill="#111" style="font-size:6.9px;stroke:#111;stroke-width:0.32px;" >CA1</text>
<text x="525.60" y="147.80" text-anchor="middle" dominant-baseline="central" fill="#111" style="font-size:6.9px;stroke:#111;stroke-width:0.32px;" >CA3</text>
<text x="590.00" y="147.80" text-anchor="middle" dominant-baseline="central" fill="#111" style="font-size:6.9px;stroke:#111;stroke-width:0.32px;" >DG</text>
<line x1="424.50" y1="153.70" x2="424.50" y2="265.60" stroke="#555" stroke-width="1.3" />
<text transform="translate(428.80,181.30) rotate(-90)" text-anchor="middle" dominant-baseline="central" fill="#111" style="font-size:6.3px;stroke:#111;stroke-width:0.32px;" >NRM</text>
<text transform="translate(428.80,237.40) rotate(-90)" text-anchor="middle" dominant-baseline="central" fill="#111" style="font-size:6.3px;stroke:#111;stroke-width:0.32px;" >ABN</text>
<text transform="translate(416.40,209.60) rotate(-90)" text-anchor="middle" dominant-baseline="central" fill="#20b050" style="font-size:6.6px;stroke:#20b050;stroke-width:0.32px;" >6E10</text>
<g clip-path="url(#c6)"><g filter="url(#soft)">
<rect x="433.20" y="152.60" width="56.60" height="114.00" fill="#050509" stroke="none" stroke-width="0" />
<rect x="433.20" y="152.60" width="56.60" height="114.00" fill="#000" stroke="none" stroke-width="0" filter="url(#fBg)"/>
<path d="M431.0,175.0 L492.0,177.0 L492.0,188.4 L431.0,187.4 Z" fill="#2a3488" fill-opacity="0.4" filter="url(#blur2)"/>
<path d="M431.0,175.0 L492.0,177.0 L492.0,188.4 L431.0,187.4 Z" fill="#000" filter="url(#fB)"/>
<path d="M431.0,229.9 L492.0,232.0 L492.0,242.3 L431.0,240.3 Z" fill="#2a3488" fill-opacity="0.4" filter="url(#blur2)"/>
<path d="M431.0,229.9 L492.0,232.0 L492.0,242.3 L431.0,240.3 Z" fill="#000" filter="url(#fB)"/>
<circle cx="474.7" cy="162.5" r="3.4" fill="#2a9a50" fill-opacity="0.45" filter="url(#blur1)"/>
<circle cx="474.9" cy="162.5" r="0.6" fill="#48c868"/>
<circle cx="474.6" cy="162.3" r="0.5" fill="#40b860"/>
<circle cx="474.9" cy="163.9" r="0.5" fill="#58d890"/>
<circle cx="474.6" cy="161.3" r="0.5" fill="#48b8b0"/>
<circle cx="473.9" cy="162.3" r="0.6" fill="#48c868"/>
<circle cx="474.9" cy="162.5" r="0.4" fill="#40b860"/>
<circle cx="475.4" cy="162.2" r="0.5" fill="#58d890"/>
<circle cx="465.3" cy="172.9" r="1.9" fill="#2a9a50" fill-opacity="0.45" filter="url(#blur1)"/>
<circle cx="465.1" cy="173.2" r="0.8" fill="#48c868"/>
<circle cx="465.4" cy="173.1" r="0.7" fill="#40b860"/>
<circle cx="464.4" cy="172.6" r="0.8" fill="#58d890"/>
<circle cx="465.2" cy="173.1" r="0.8" fill="#48b8b0"/>
<circle cx="465.3" cy="172.9" r="0.7" fill="#48c868"/>
<circle cx="477.8" cy="193.6" r="2.1" fill="#2a9a50" fill-opacity="0.45" filter="url(#blur1)"/>
<circle cx="478.3" cy="193.1" r="0.5" fill="#48c868"/>
<circle cx="478.0" cy="192.8" r="0.5" fill="#40b860"/>
<circle cx="477.6" cy="193.4" r="0.4" fill="#58d890"/>
<circle cx="477.6" cy="193.9" r="0.6" fill="#48b8b0"/>
<circle cx="477.2" cy="192.9" r="0.8" fill="#48c868"/>
<circle cx="450.8" cy="215.4" r="4.8" fill="#2a9a50" fill-opacity="0.45" filter="url(#blur1)"/>
<circle cx="453.3" cy="215.0" r="0.8" fill="#48c868"/>
<circle cx="450.6" cy="215.8" r="0.7" fill="#40b860"/>
<circle cx="449.2" cy="214.9" r="0.4" fill="#58d890"/>
<circle cx="451.6" cy="217.6" r="0.7" fill="#48b8b0"/>
<circle cx="450.7" cy="215.2" r="0.6" fill="#48c868"/>
<circle cx="452.2" cy="214.5" r="0.8" fill="#40b860"/>
<circle cx="451.2" cy="216.5" r="0.8" fill="#58d890"/>
<circle cx="448.9" cy="216.1" r="0.7" fill="#48b8b0"/>
<circle cx="451.0" cy="215.6" r="0.8" fill="#48c868"/>
<circle cx="459.1" cy="214.3" r="2.3" fill="#2a9a50" fill-opacity="0.45" filter="url(#blur1)"/>
<circle cx="459.3" cy="214.5" r="0.6" fill="#48c868"/>
<circle cx="458.9" cy="213.3" r="0.6" fill="#40b860"/>
<circle cx="458.2" cy="214.3" r="0.5" fill="#58d890"/>
<circle cx="458.6" cy="214.8" r="0.7" fill="#48b8b0"/>
<circle cx="459.2" cy="214.3" r="0.5" fill="#48c868"/>
<circle cx="447.7" cy="224.7" r="1.9" fill="#2a9a50" fill-opacity="0.45" filter="url(#blur1)"/>
<circle cx="447.6" cy="224.0" r="0.8" fill="#48c868"/>
<circle cx="447.7" cy="224.4" r="0.7" fill="#40b860"/>
<circle cx="448.0" cy="224.7" r="0.4" fill="#58d890"/>
<circle cx="447.5" cy="224.9" r="0.5" fill="#48b8b0"/>
<circle cx="447.8" cy="224.7" r="0.8" fill="#48c868"/>
<circle cx="480.9" cy="224.7" r="2.5" fill="#2a9a50" fill-opacity="0.45" filter="url(#blur1)"/>
<circle cx="481.7" cy="224.9" r="0.5" fill="#48c868"/>
<circle cx="481.3" cy="225.7" r="0.5" fill="#40b860"/>
<circle cx="481.1" cy="225.2" r="0.7" fill="#58d890"/>
<circle cx="479.8" cy="224.5" r="0.6" fill="#48b8b0"/>
<circle cx="480.0" cy="224.6" r="0.6" fill="#48c868"/>
<circle cx="476.7" cy="248.6" r="1.7" fill="#2a9a50" fill-opacity="0.45" filter="url(#blur1)"/>
<circle cx="476.6" cy="248.2" r="0.5" fill="#48c868"/>
<circle cx="477.2" cy="249.1" r="0.7" fill="#40b860"/>
<circle cx="477.3" cy="248.4" r="0.7" fill="#58d890"/>
<circle cx="477.1" cy="249.3" r="0.5" fill="#48b8b0"/>
<circle cx="448.7" cy="256.9" r="2.1" fill="#2a9a50" fill-opacity="0.45" filter="url(#blur1)"/>
<circle cx="448.6" cy="257.0" r="0.6" fill="#48c868"/>
<circle cx="448.5" cy="257.3" r="0.7" fill="#40b860"/>
<circle cx="448.4" cy="256.8" r="0.8" fill="#58d890"/>
<circle cx="448.6" cy="256.0" r="0.4" fill="#48b8b0"/>
<circle cx="448.0" cy="256.3" r="0.5" fill="#48c868"/>
<circle cx="484.0" cy="257.9" r="1.9" fill="#2a9a50" fill-opacity="0.45" filter="url(#blur1)"/>
<circle cx="484.2" cy="258.7" r="0.6" fill="#48c868"/>
<circle cx="483.3" cy="258.4" r="0.6" fill="#40b860"/>
<circle cx="484.1" cy="258.1" r="0.6" fill="#58d890"/>
<circle cx="483.9" cy="257.6" r="0.7" fill="#48b8b0"/>
<circle cx="484.2" cy="258.0" r="0.7" fill="#48c868"/>
<circle cx="439.4" cy="157.3" r="1.3" fill="#2a9a50" fill-opacity="0.45" filter="url(#blur1)"/>
<circle cx="439.1" cy="157.3" r="0.8" fill="#48c868"/>
<circle cx="439.4" cy="157.4" r="0.4" fill="#40b860"/>
<circle cx="439.2" cy="157.3" r="0.6" fill="#58d890"/>
<circle cx="439.4" cy="157.3" r="0.6" fill="#48b8b0"/>
<circle cx="438.4" cy="216.4" r="1.5" fill="#2a9a50" fill-opacity="0.45" filter="url(#blur1)"/>
<circle cx="438.4" cy="216.2" r="0.8" fill="#48c868"/>
<circle cx="438.1" cy="216.2" r="0.7" fill="#40b860"/>
<circle cx="438.5" cy="216.9" r="0.8" fill="#58d890"/>
<circle cx="438.2" cy="216.3" r="0.4" fill="#48b8b0"/>
<circle cx="465.3" cy="218.5" r="1.7" fill="#2a9a50" fill-opacity="0.45" filter="url(#blur1)"/>
<circle cx="465.1" cy="218.4" r="0.6" fill="#48c868"/>
<circle cx="464.5" cy="218.3" r="0.7" fill="#40b860"/>
<circle cx="464.5" cy="218.4" r="0.5" fill="#58d890"/>
<circle cx="464.8" cy="218.9" r="0.6" fill="#48b8b0"/>
<line x1="433.20" y1="209.60" x2="489.80" y2="209.60" stroke="#383838" stroke-width="0.5" filter="none"/>
</g></g>
<g clip-path="url(#c7)"><g filter="url(#soft)">
<rect x="498.10" y="152.60" width="56.80" height="114.00" fill="#050509" stroke="none" stroke-width="0" />
<rect x="498.10" y="152.60" width="56.80" height="114.00" fill="#000" stroke="none" stroke-width="0" filter="url(#fBg)"/>
<path d="M514.0,152.6 Q540.0,181.1 516.1,209.6 Q545.8,238.1 519.2,266.6 L544.1,266.6 Q561.3,238.1 538.9,209.6 Q558.1,181.1 533.7,152.6 Z" fill="#1c2260" fill-opacity="0.12" filter="url(#blur2)"/>
<path d="M514.0,152.6 Q540.0,181.1 516.1,209.6 Q545.8,238.1 519.2,266.6 L544.1,266.6 Q561.3,238.1 538.9,209.6 Q558.1,181.1 533.7,152.6 Z" fill="#000" filter="url(#fBm)"/>
<path d="M514.0,152.6 Q540.0,181.1 516.1,209.6 Q545.8,238.1 519.2,266.6" fill="none" stroke="#f4f4f4" stroke-width="1.0" stroke-dasharray="1.0 1.3"/>
<path d="M533.7,152.6 Q558.1,181.1 538.9,209.6 Q561.3,238.1 544.1,266.6" fill="none" stroke="#f4f4f4" stroke-width="1.0" stroke-dasharray="1.0 1.3"/>
<circle cx="515.1" cy="233.0" r="4.8" fill="#2a9a50" fill-opacity="0.45" filter="url(#blur1)"/>
<circle cx="515.6" cy="233.2" r="0.5" fill="#48c868"/>
<circle cx="516.1" cy="232.3" r="0.7" fill="#40b860"/>
<circle cx="516.1" cy="233.7" r="0.8" fill="#58d890"/>
<circle cx="512.8" cy="232.7" r="0.8" fill="#48b8b0"/>
<circle cx="515.1" cy="233.0" r="0.7" fill="#48c868"/>
<circle cx="515.1" cy="233.0" r="0.7" fill="#40b860"/>
<circle cx="516.3" cy="231.3" r="0.8" fill="#58d890"/>
<circle cx="515.2" cy="233.2" r="0.5" fill="#48b8b0"/>
<circle cx="515.4" cy="233.0" r="0.5" fill="#48c868"/>
<circle cx="543.1" cy="163.6" r="2.3" fill="#2a9a50" fill-opacity="0.45" filter="url(#blur1)"/>
<circle cx="543.2" cy="163.6" r="0.4" fill="#48c868"/>
<circle cx="543.0" cy="163.8" r="0.5" fill="#40b860"/>
<circle cx="543.3" cy="163.5" r="0.8" fill="#58d890"/>
<circle cx="543.1" cy="162.9" r="0.7" fill="#48b8b0"/>
<circle cx="543.2" cy="162.9" r="0.5" fill="#48c868"/>
<circle cx="513.0" cy="204.0" r="1.5" fill="#2a9a50" fill-opacity="0.45" filter="url(#blur1)"/>
<circle cx="512.9" cy="204.2" r="0.6" fill="#48c868"/>
<circle cx="513.3" cy="204.0" r="0.4" fill="#40b860"/>
<circle cx="512.4" cy="204.1" r="0.6" fill="#58d890"/>
<circle cx="513.0" cy="203.9" r="0.4" fill="#48b8b0"/>
<circle cx="527.5" cy="261.0" r="1.5" fill="#2a9a50" fill-opacity="0.45" filter="url(#blur1)"/>
<circle cx="527.5" cy="261.0" r="0.5" fill="#48c868"/>
<circle cx="527.4" cy="261.1" r="0.4" fill="#40b860"/>
<circle cx="528.3" cy="261.0" r="0.7" fill="#58d890"/>
<circle cx="527.9" cy="260.9" r="0.8" fill="#48b8b0"/>
<line x1="498.10" y1="209.60" x2="554.90" y2="209.60" stroke="#383838" stroke-width="0.5" filter="none"/>
</g></g>
<g clip-path="url(#c8)"><g filter="url(#soft)">
<rect x="562.20" y="152.90" width="56.70" height="113.50" fill="#050509" stroke="none" stroke-width="0" />
<rect x="562.20" y="152.90" width="56.70" height="113.50" fill="#000" stroke="none" stroke-width="0" filter="url(#fBg)"/>
<path d="M560.0,167.7 L621.0,156.5 L621.0,169.2 L560.0,178.3 Z" fill="#2a3488" fill-opacity="0.4" filter="url(#blur2)"/>
<path d="M560.0,167.7 L621.0,156.5 L621.0,169.2 L560.0,178.3 Z" fill="#000" filter="url(#fB)"/>
<path d="M560.0,193.1 L621.0,193.1 L621.0,205.1 L560.0,205.1 Z" fill="#2a3488" fill-opacity="0.4" filter="url(#blur2)"/>
<path d="M560.0,193.1 L621.0,193.1 L621.0,205.1 L560.0,205.1 Z" fill="#000" filter="url(#fB)"/>
<path d="M560.0,227.0 L621.0,214.3 L621.0,227.0 L560.0,238.2 Z" fill="#2a3488" fill-opacity="0.4" filter="url(#blur2)"/>
<path d="M560.0,227.0 L621.0,214.3 L621.0,227.0 L560.0,238.2 Z" fill="#000" filter="url(#fB)"/>
<path d="M560.0,250.9 L621.0,250.9 L621.0,265.0 L560.0,265.0 Z" fill="#2a3488" fill-opacity="0.4" filter="url(#blur2)"/>
<path d="M560.0,250.9 L621.0,250.9 L621.0,265.0 L560.0,265.0 Z" fill="#000" filter="url(#fB)"/>
<circle cx="572.1" cy="160.0" r="1.9" fill="#2a9a50" fill-opacity="0.45" filter="url(#blur1)"/>
<circle cx="571.5" cy="159.7" r="0.8" fill="#48c868"/>
<circle cx="572.0" cy="160.6" r="0.8" fill="#40b860"/>
<circle cx="572.3" cy="159.9" r="0.7" fill="#58d890"/>
<circle cx="571.7" cy="159.7" r="0.8" fill="#48b8b0"/>
<circle cx="571.7" cy="159.9" r="0.8" fill="#48c868"/>
<circle cx="597.5" cy="172.0" r="2.3" fill="#2a9a50" fill-opacity="0.45" filter="url(#blur1)"/>
<circle cx="597.3" cy="171.7" r="0.5" fill="#48c868"/>
<circle cx="597.4" cy="172.0" r="0.7" fill="#40b860"/>
<circle cx="597.5" cy="171.5" r="0.8" fill="#58d890"/>
<circle cx="598.1" cy="171.7" r="0.7" fill="#48b8b0"/>
<circle cx="597.5" cy="172.0" r="0.8" fill="#48c868"/>
<circle cx="602.4" cy="172.7" r="1.5" fill="#2a9a50" fill-opacity="0.45" filter="url(#blur1)"/>
<circle cx="602.4" cy="172.9" r="0.8" fill="#48c868"/>
<circle cx="602.4" cy="172.6" r="0.5" fill="#40b860"/>
<circle cx="602.4" cy="172.9" r="0.4" fill="#58d890"/>
<circle cx="602.2" cy="172.7" r="0.6" fill="#48b8b0"/>
<circle cx="576.3" cy="176.9" r="1.5" fill="#2a9a50" fill-opacity="0.45" filter="url(#blur1)"/>
<circle cx="576.3" cy="177.0" r="0.4" fill="#48c868"/>
<circle cx="576.7" cy="176.5" r="0.7" fill="#40b860"/>
<circle cx="576.4" cy="177.0" r="0.5" fill="#58d890"/>
<circle cx="576.3" cy="176.9" r="0.5" fill="#48b8b0"/>
<circle cx="582.7" cy="191.0" r="2.1" fill="#2a9a50" fill-opacity="0.45" filter="url(#blur1)"/>
<circle cx="582.8" cy="191.2" r="0.7" fill="#48c868"/>
<circle cx="582.2" cy="191.1" r="0.6" fill="#40b860"/>
<circle cx="581.9" cy="190.8" r="0.5" fill="#58d890"/>
<circle cx="583.2" cy="191.2" r="0.6" fill="#48b8b0"/>
<circle cx="582.7" cy="190.9" r="0.8" fill="#48c868"/>
<circle cx="601.7" cy="202.3" r="1.3" fill="#2a9a50" fill-opacity="0.45" filter="url(#blur1)"/>
<circle cx="602.1" cy="202.3" r="0.6" fill="#48c868"/>
<circle cx="601.5" cy="202.9" r="0.7" fill="#40b860"/>
<circle cx="601.9" cy="202.6" r="0.7" fill="#58d890"/>
<circle cx="601.8" cy="202.3" r="0.7" fill="#48b8b0"/>
<circle cx="586.9" cy="212.2" r="2.3" fill="#2a9a50" fill-opacity="0.45" filter="url(#blur1)"/>
<circle cx="586.8" cy="211.6" r="0.6" fill="#48c868"/>
<circle cx="586.6" cy="212.2" r="0.8" fill="#40b860"/>
<circle cx="587.5" cy="212.1" r="0.4" fill="#58d890"/>
<circle cx="586.1" cy="212.8" r="0.5" fill="#48b8b0"/>
<circle cx="587.1" cy="212.3" r="0.7" fill="#48c868"/>
<circle cx="595.4" cy="212.2" r="2.3" fill="#2a9a50" fill-opacity="0.45" filter="url(#blur1)"/>
<circle cx="595.2" cy="212.0" r="0.7" fill="#48c868"/>
<circle cx="595.5" cy="211.0" r="0.8" fill="#40b860"/>
<circle cx="594.5" cy="212.6" r="0.8" fill="#58d890"/>
<circle cx="596.0" cy="211.5" r="0.7" fill="#48b8b0"/>
<circle cx="594.4" cy="212.1" r="0.7" fill="#48c868"/>
<circle cx="563.6" cy="216.4" r="1.1" fill="#2a9a50" fill-opacity="0.45" filter="url(#blur1)"/>
<circle cx="563.6" cy="216.3" r="0.4" fill="#48c868"/>
<circle cx="563.6" cy="216.7" r="0.7" fill="#40b860"/>
<circle cx="563.6" cy="216.5" r="0.8" fill="#58d890"/>
<circle cx="612.3" cy="225.6" r="1.9" fill="#2a9a50" fill-opacity="0.45" filter="url(#blur1)"/>
<circle cx="613.1" cy="226.0" r="0.7" fill="#48c868"/>
<circle cx="611.4" cy="225.2" r="0.7" fill="#40b860"/>
<circle cx="613.2" cy="225.6" r="0.6" fill="#58d890"/>
<circle cx="613.0" cy="225.2" r="0.5" fill="#48b8b0"/>
<circle cx="612.3" cy="225.6" r="0.8" fill="#48c868"/>
<circle cx="613.7" cy="231.9" r="2.5" fill="#2a9a50" fill-opacity="0.45" filter="url(#blur1)"/>
<circle cx="613.8" cy="231.6" r="0.5" fill="#48c868"/>
<circle cx="613.0" cy="232.7" r="0.7" fill="#40b860"/>
<circle cx="614.5" cy="231.0" r="0.7" fill="#58d890"/>
<circle cx="613.7" cy="231.9" r="0.4" fill="#48b8b0"/>
<circle cx="614.2" cy="231.3" r="0.5" fill="#48c868"/>
<circle cx="601.7" cy="227.0" r="1.5" fill="#2a9a50" fill-opacity="0.45" filter="url(#blur1)"/>
<circle cx="601.9" cy="227.2" r="0.6" fill="#48c868"/>
<circle cx="601.3" cy="227.0" r="0.5" fill="#40b860"/>
<circle cx="601.8" cy="227.1" r="0.5" fill="#58d890"/>
<circle cx="602.0" cy="227.2" r="0.5" fill="#48b8b0"/>
<circle cx="576.3" cy="239.7" r="3.8" fill="#2a9a50" fill-opacity="0.45" filter="url(#blur1)"/>
<circle cx="576.6" cy="238.7" r="0.6" fill="#48c868"/>
<circle cx="576.0" cy="239.3" r="0.4" fill="#40b860"/>
<circle cx="576.9" cy="240.0" r="0.6" fill="#58d890"/>
<circle cx="576.3" cy="240.3" r="0.8" fill="#48b8b0"/>
<circle cx="577.2" cy="239.7" r="0.6" fill="#48c868"/>
<circle cx="576.0" cy="241.1" r="0.5" fill="#40b860"/>
<circle cx="576.6" cy="239.8" r="0.8" fill="#58d890"/>
<circle cx="576.2" cy="239.9" r="0.8" fill="#48b8b0"/>
<circle cx="566.5" cy="239.0" r="1.7" fill="#2a9a50" fill-opacity="0.45" filter="url(#blur1)"/>
<circle cx="566.0" cy="238.3" r="0.5" fill="#48c868"/>
<circle cx="566.5" cy="239.0" r="0.5" fill="#40b860"/>
<circle cx="566.6" cy="238.6" r="0.8" fill="#58d890"/>
<circle cx="565.9" cy="239.5" r="0.4" fill="#48b8b0"/>
<circle cx="579.2" cy="242.5" r="1.9" fill="#2a9a50" fill-opacity="0.45" filter="url(#blur1)"/>
<circle cx="579.1" cy="242.4" r="0.5" fill="#48c868"/>
<circle cx="579.5" cy="242.2" r="0.8" fill="#40b860"/>
<circle cx="579.0" cy="243.2" r="0.8" fill="#58d890"/>
<circle cx="579.0" cy="242.3" r="0.7" fill="#48b8b0"/>
<circle cx="580.0" cy="242.3" r="0.6" fill="#48c868"/>
<circle cx="601.7" cy="249.5" r="3.0" fill="#2a9a50" fill-opacity="0.45" filter="url(#blur1)"/>
<circle cx="601.6" cy="249.6" r="0.7" fill="#48c868"/>
<circle cx="601.9" cy="249.8" r="0.4" fill="#40b860"/>
<circle cx="602.0" cy="250.0" r="0.6" fill="#58d890"/>
<circle cx="602.0" cy="250.1" r="0.7" fill="#48b8b0"/>
<circle cx="601.9" cy="249.6" r="0.6" fill="#48c868"/>
<circle cx="602.9" cy="248.7" r="0.7" fill="#40b860"/>
<line x1="562.20" y1="209.65" x2="618.90" y2="209.65" stroke="#383838" stroke-width="0.5" filter="none"/>
<text x="607.50" y="257.00" text-anchor="middle" dominant-baseline="central" fill="#fff" style="font-size:5.8px;stroke:#fff;stroke-width:0.32px;font-weight:bold;" >50 μm</text>
<rect x="603.30" y="261.50" width="9.50" height="2.60" fill="#fff" stroke="none" stroke-width="0" />
</g></g>
<rect x="5.10" y="274.10" width="615.60" height="10.80" fill="#bebec0" stroke="none" stroke-width="0" />
<text x="186.6" y="279.6" dominant-baseline="central" textLength="243" lengthAdjust="spacing" fill="#111" style="font-size:7.5px;stroke:#111;stroke-width:0.2px">Knockdown of <tspan style="font-style:italic">Tau</tspan> in spinal cord CCK neurons in 3×Tg; CCK-Cre mice</text>
<text x="10.00" y="298.80" text-anchor="middle" fill="#000" style="font-size:12.8px;font-weight:bold;stroke:#000;stroke-width:0.35px">h</text>
<text x="98.20" y="298.40" text-anchor="middle" fill="#000" style="font-size:12.8px;font-weight:bold;stroke:#000;stroke-width:0.35px">i</text>
<text x="184.70" y="298.80" text-anchor="middle" fill="#000" style="font-size:12.8px;font-weight:bold;stroke:#000;stroke-width:0.35px">j</text>
<text x="276.80" y="298.80" text-anchor="middle" fill="#000" style="font-size:12.8px;font-weight:bold;stroke:#000;stroke-width:0.35px">k</text>
<text x="364.90" y="298.80" text-anchor="middle" fill="#000" style="font-size:12.8px;font-weight:bold;stroke:#000;stroke-width:0.35px">l</text>
<text x="445.60" y="298.80" text-anchor="middle" fill="#000" style="font-size:12.8px;font-weight:bold;stroke:#000;stroke-width:0.35px">m</text>
<text x="543.90" y="298.80" text-anchor="middle" fill="#000" style="font-size:12.8px;font-weight:bold;stroke:#000;stroke-width:0.35px">n</text>
<line x1="32.40" y1="308.80" x2="32.40" y2="401.70" stroke="#333" stroke-width="1.25" />
<line x1="29.40" y1="401.20" x2="32.40" y2="401.20" stroke="#333" stroke-width="0.9" />
<text x="28.00" y="400.90" text-anchor="end" dominant-baseline="central" fill="#111" style="font-size:6.3px;stroke:#111;stroke-width:0.32px;letter-spacing:0.3px;" >0</text>
<line x1="29.40" y1="370.57" x2="32.40" y2="370.57" stroke="#333" stroke-width="0.9" />
<text x="28.00" y="370.27" text-anchor="end" dominant-baseline="central" fill="#111" style="font-size:6.3px;stroke:#111;stroke-width:0.32px;letter-spacing:0.3px;" >5</text>
<line x1="29.40" y1="339.93" x2="32.40" y2="339.93" stroke="#333" stroke-width="0.9" />
<text x="28.00" y="339.63" text-anchor="end" dominant-baseline="central" fill="#111" style="font-size:6.3px;stroke:#111;stroke-width:0.32px;letter-spacing:0.3px;" >10</text>
<line x1="29.40" y1="309.30" x2="32.40" y2="309.30" stroke="#333" stroke-width="0.9" />
<text x="28.00" y="309.00" text-anchor="end" dominant-baseline="central" fill="#111" style="font-size:6.3px;stroke:#111;stroke-width:0.32px;letter-spacing:0.3px;" >15</text>
<rect x="36.40" y="377.31" width="9.70" height="23.89" fill="#d2d2d4" stroke="#111" stroke-width="1.2" />
<line x1="41.25" y1="374.55" x2="41.25" y2="380.06" stroke="#111" stroke-width="0.9" />
<line x1="39.05" y1="374.55" x2="43.45" y2="374.55" stroke="#111" stroke-width="0.9" />
<line x1="39.05" y1="380.06" x2="43.45" y2="380.06" stroke="#111" stroke-width="0.9" />
<text x="41.25" y="398.00" text-anchor="middle" dominant-baseline="central" fill="#fff" style="font-size:5.2px;stroke:#fff;stroke-width:0.32px;font-weight:bold;" >16</text>
<rect x="65.50" y="349.12" width="8.90" height="52.08" fill="#579f94" stroke="#111" stroke-width="1.2" />
<line x1="69.95" y1="346.06" x2="69.95" y2="352.19" stroke="#111" stroke-width="0.9" />
<line x1="67.75" y1="346.06" x2="72.15" y2="346.06" stroke="#111" stroke-width="0.9" />
<line x1="67.75" y1="352.19" x2="72.15" y2="352.19" stroke="#111" stroke-width="0.9" />
<text x="69.95" y="398.00" text-anchor="middle" dominant-baseline="central" fill="#fff" style="font-size:5.2px;stroke:#fff;stroke-width:0.32px;font-weight:bold;" >16</text>
<circle cx="55.80" cy="358.31" r="1.65" fill="#fff" stroke="#111" stroke-width="1.1"/>
<circle cx="53.10" cy="364.44" r="1.65" fill="#fff" stroke="#111" stroke-width="1.1"/>
<circle cx="55.80" cy="364.44" r="1.65" fill="#fff" stroke="#111" stroke-width="1.1"/>
<circle cx="58.50" cy="364.44" r="1.65" fill="#fff" stroke="#111" stroke-width="1.1"/>
<circle cx="54.45" cy="370.57" r="1.65" fill="#fff" stroke="#111" stroke-width="1.1"/>
<circle cx="57.15" cy="370.57" r="1.65" fill="#fff" stroke="#111" stroke-width="1.1"/>
<circle cx="54.45" cy="376.69" r="1.65" fill="#fff" stroke="#111" stroke-width="1.1"/>
<circle cx="57.15" cy="376.69" r="1.65" fill="#fff" stroke="#111" stroke-width="1.1"/>
<circle cx="51.75" cy="382.82" r="1.65" fill="#fff" stroke="#111" stroke-width="1.1"/>
<circle cx="54.45" cy="382.82" r="1.65" fill="#fff" stroke="#111" stroke-width="1.1"/>
<circle cx="57.15" cy="382.82" r="1.65" fill="#fff" stroke="#111" stroke-width="1.1"/>
<circle cx="59.85" cy="382.82" r="1.65" fill="#fff" stroke="#111" stroke-width="1.1"/>
<circle cx="53.10" cy="388.95" r="1.65" fill="#fff" stroke="#111" stroke-width="1.1"/>
<circle cx="55.80" cy="388.95" r="1.65" fill="#fff" stroke="#111" stroke-width="1.1"/>
<circle cx="58.50" cy="388.95" r="1.65" fill="#fff" stroke="#111" stroke-width="1.1"/>
<circle cx="83.80" cy="327.68" r="1.65" fill="#fff" stroke="#111" stroke-width="1.1"/>
<circle cx="82.45" cy="333.81" r="1.65" fill="#fff" stroke="#111" stroke-width="1.1"/>
<circle cx="85.15" cy="333.81" r="1.65" fill="#fff" stroke="#111" stroke-width="1.1"/>
<circle cx="82.45" cy="339.93" r="1.65" fill="#fff" stroke="#111" stroke-width="1.1"/>
<circle cx="85.15" cy="339.93" r="1.65" fill="#fff" stroke="#111" stroke-width="1.1"/>
<circle cx="82.45" cy="346.06" r="1.65" fill="#fff" stroke="#111" stroke-width="1.1"/>
<circle cx="85.15" cy="346.06" r="1.65" fill="#fff" stroke="#111" stroke-width="1.1"/>
<circle cx="79.75" cy="352.19" r="1.65" fill="#fff" stroke="#111" stroke-width="1.1"/>
<circle cx="82.45" cy="352.19" r="1.65" fill="#fff" stroke="#111" stroke-width="1.1"/>
<circle cx="85.15" cy="352.19" r="1.65" fill="#fff" stroke="#111" stroke-width="1.1"/>
<circle cx="87.85" cy="352.19" r="1.65" fill="#fff" stroke="#111" stroke-width="1.1"/>
<circle cx="82.45" cy="358.31" r="1.65" fill="#fff" stroke="#111" stroke-width="1.1"/>
<circle cx="85.15" cy="358.31" r="1.65" fill="#fff" stroke="#111" stroke-width="1.1"/>
<circle cx="83.80" cy="364.44" r="1.65" fill="#fff" stroke="#111" stroke-width="1.1"/>
<circle cx="83.80" cy="370.57" r="1.65" fill="#fff" stroke="#111" stroke-width="1.1"/>
<text x="46.10" y="407.50" text-anchor="middle" dominant-baseline="central" fill="#111" style="font-size:7.0px;stroke:#111;stroke-width:0.32px;" >mCh</text>
<text x="73.60" y="407.50" text-anchor="middle" dominant-baseline="central" fill="#111" style="font-size:7.0px;stroke:#111;stroke-width:0.32px;" >siTau</text>
<text transform="translate(9.70,356.00) rotate(-90)" text-anchor="middle" dominant-baseline="central" fill="#111" style="font-size:7.3px;stroke:#111;stroke-width:0.32px;" >No. responses</text>
<text x="54.00" y="315.70" text-anchor="middle" dominant-baseline="central" fill="#111" style="font-size:6.2px;stroke:#111;stroke-width:0.3px"><tspan style="font-style:italic">P</tspan> < 0.0001</text>
<path d="M39.20,323.80 V320.60 H68.00 V323.80" fill="none" stroke="#111" stroke-width="0.9"/>
<line x1="121.80" y1="309.30" x2="121.80" y2="401.40" stroke="#333" stroke-width="1.25" />
<line x1="118.80" y1="400.90" x2="121.80" y2="400.90" stroke="#333" stroke-width="0.9" />
<text x="117.40" y="400.60" text-anchor="end" dominant-baseline="central" fill="#111" style="font-size:6.3px;stroke:#111;stroke-width:0.32px;letter-spacing:0.3px;" >0</text>
<line x1="118.80" y1="378.12" x2="121.80" y2="378.12" stroke="#333" stroke-width="0.9" />
<text x="117.40" y="377.82" text-anchor="end" dominant-baseline="central" fill="#111" style="font-size:6.3px;stroke:#111;stroke-width:0.32px;letter-spacing:0.3px;" >25</text>
<line x1="118.80" y1="355.35" x2="121.80" y2="355.35" stroke="#333" stroke-width="0.9" />
<text x="117.40" y="355.05" text-anchor="end" dominant-baseline="central" fill="#111" style="font-size:6.3px;stroke:#111;stroke-width:0.32px;letter-spacing:0.3px;" >50</text>
<line x1="118.80" y1="332.57" x2="121.80" y2="332.57" stroke="#333" stroke-width="0.9" />
<text x="117.40" y="332.27" text-anchor="end" dominant-baseline="central" fill="#111" style="font-size:6.3px;stroke:#111;stroke-width:0.32px;letter-spacing:0.3px;" >75</text>
<line x1="118.80" y1="309.80" x2="121.80" y2="309.80" stroke="#333" stroke-width="0.9" />
<text x="117.40" y="309.50" text-anchor="end" dominant-baseline="central" fill="#111" style="font-size:6.3px;stroke:#111;stroke-width:0.32px;letter-spacing:0.3px;" >100</text>
<line x1="121.20" y1="400.90" x2="176.80" y2="400.90" stroke="#333" stroke-width="1.25" />
<line x1="125.50" y1="400.90" x2="125.50" y2="403.50" stroke="#222" stroke-width="1.0" />
<line x1="132.40" y1="400.90" x2="132.40" y2="403.50" stroke="#222" stroke-width="1.0" />
<line x1="139.10" y1="400.90" x2="139.10" y2="403.50" stroke="#222" stroke-width="1.0" />
<line x1="146.30" y1="400.90" x2="146.30" y2="403.50" stroke="#222" stroke-width="1.0" />
<line x1="153.10" y1="400.90" x2="153.10" y2="403.50" stroke="#222" stroke-width="1.0" />
<line x1="160.00" y1="400.90" x2="160.00" y2="403.50" stroke="#222" stroke-width="1.0" />
<line x1="166.70" y1="400.90" x2="166.70" y2="403.50" stroke="#222" stroke-width="1.0" />
<line x1="173.40" y1="400.90" x2="173.40" y2="403.50" stroke="#222" stroke-width="1.0" />
<polyline points="125.50,399.99 132.40,395.43 139.10,392.70 146.30,391.79 153.10,383.59 160.00,380.86 166.70,369.93 173.40,323.47" fill="none" stroke="#707070" stroke-width="1.1"/>
<circle cx="125.50" cy="399.99" r="2.1" fill="#fff" fill-opacity="0.5" stroke="#707070" stroke-width="1.1"/>
<line x1="132.40" y1="394.52" x2="132.40" y2="396.34" stroke="#707070" stroke-width="0.9" />
<line x1="131.20" y1="394.52" x2="133.60" y2="394.52" stroke="#707070" stroke-width="0.8" />
<line x1="131.20" y1="396.34" x2="133.60" y2="396.34" stroke="#707070" stroke-width="0.8" />
<circle cx="132.40" cy="395.43" r="2.1" fill="#fff" fill-opacity="0.5" stroke="#707070" stroke-width="1.1"/>
<line x1="139.10" y1="391.33" x2="139.10" y2="394.07" stroke="#707070" stroke-width="0.9" />
<line x1="137.90" y1="391.33" x2="140.30" y2="391.33" stroke="#707070" stroke-width="0.8" />
<line x1="137.90" y1="394.07" x2="140.30" y2="394.07" stroke="#707070" stroke-width="0.8" />
<circle cx="139.10" cy="392.70" r="2.1" fill="#fff" fill-opacity="0.5" stroke="#707070" stroke-width="1.1"/>
<line x1="146.30" y1="390.42" x2="146.30" y2="393.16" stroke="#707070" stroke-width="0.9" />
<line x1="145.10" y1="390.42" x2="147.50" y2="390.42" stroke="#707070" stroke-width="0.8" />
<line x1="145.10" y1="393.16" x2="147.50" y2="393.16" stroke="#707070" stroke-width="0.8" />
<circle cx="146.30" cy="391.79" r="2.1" fill="#fff" fill-opacity="0.5" stroke="#707070" stroke-width="1.1"/>
<line x1="153.10" y1="381.77" x2="153.10" y2="385.41" stroke="#707070" stroke-width="0.9" />
<line x1="151.90" y1="381.77" x2="154.30" y2="381.77" stroke="#707070" stroke-width="0.8" />
<line x1="151.90" y1="385.41" x2="154.30" y2="385.41" stroke="#707070" stroke-width="0.8" />
<circle cx="153.10" cy="383.59" r="2.1" fill="#fff" fill-opacity="0.5" stroke="#707070" stroke-width="1.1"/>
<line x1="160.00" y1="379.04" x2="160.00" y2="382.68" stroke="#707070" stroke-width="0.9" />
<line x1="158.80" y1="379.04" x2="161.20" y2="379.04" stroke="#707070" stroke-width="0.8" />
<line x1="158.80" y1="382.68" x2="161.20" y2="382.68" stroke="#707070" stroke-width="0.8" />
<circle cx="160.00" cy="380.86" r="2.1" fill="#fff" fill-opacity="0.5" stroke="#707070" stroke-width="1.1"/>
<line x1="166.70" y1="367.19" x2="166.70" y2="372.66" stroke="#707070" stroke-width="0.9" />
<line x1="165.50" y1="367.19" x2="167.90" y2="367.19" stroke="#707070" stroke-width="0.8" />
<line x1="165.50" y1="372.66" x2="167.90" y2="372.66" stroke="#707070" stroke-width="0.8" />
<circle cx="166.70" cy="369.93" r="2.1" fill="#fff" fill-opacity="0.5" stroke="#707070" stroke-width="1.1"/>
<line x1="173.40" y1="320.73" x2="173.40" y2="326.20" stroke="#707070" stroke-width="0.9" />
<line x1="172.20" y1="320.73" x2="174.60" y2="320.73" stroke="#707070" stroke-width="0.8" />
<line x1="172.20" y1="326.20" x2="174.60" y2="326.20" stroke="#707070" stroke-width="0.8" />
<circle cx="173.40" cy="323.47" r="2.1" fill="#fff" fill-opacity="0.5" stroke="#707070" stroke-width="1.1"/>
<polyline points="125.50,399.08 132.40,392.70 139.10,389.06 146.30,382.68 153.10,372.66 160.00,361.73 166.70,350.80 173.40,320.73" fill="none" stroke="#5bb0a8" stroke-width="1.1"/>
<circle cx="125.50" cy="399.08" r="2.1" fill="#fff" fill-opacity="0.5" stroke="#5bb0a8" stroke-width="1.1"/>
<line x1="132.40" y1="391.33" x2="132.40" y2="394.07" stroke="#5bb0a8" stroke-width="0.9" />
<line x1="131.20" y1="391.33" x2="133.60" y2="391.33" stroke="#5bb0a8" stroke-width="0.8" />
<line x1="131.20" y1="394.07" x2="133.60" y2="394.07" stroke="#5bb0a8" stroke-width="0.8" />
<circle cx="132.40" cy="392.70" r="2.1" fill="#fff" fill-opacity="0.5" stroke="#5bb0a8" stroke-width="1.1"/>
<line x1="139.10" y1="387.23" x2="139.10" y2="390.88" stroke="#5bb0a8" stroke-width="0.9" />
<line x1="137.90" y1="387.23" x2="140.30" y2="387.23" stroke="#5bb0a8" stroke-width="0.8" />
<line x1="137.90" y1="390.88" x2="140.30" y2="390.88" stroke="#5bb0a8" stroke-width="0.8" />
<circle cx="139.10" cy="389.06" r="2.1" fill="#fff" fill-opacity="0.5" stroke="#5bb0a8" stroke-width="1.1"/>
<line x1="146.30" y1="380.86" x2="146.30" y2="384.50" stroke="#5bb0a8" stroke-width="0.9" />
<line x1="145.10" y1="380.86" x2="147.50" y2="380.86" stroke="#5bb0a8" stroke-width="0.8" />
<line x1="145.10" y1="384.50" x2="147.50" y2="384.50" stroke="#5bb0a8" stroke-width="0.8" />
<circle cx="146.30" cy="382.68" r="2.1" fill="#fff" fill-opacity="0.5" stroke="#5bb0a8" stroke-width="1.1"/>
<line x1="153.10" y1="370.38" x2="153.10" y2="374.94" stroke="#5bb0a8" stroke-width="0.9" />
<line x1="151.90" y1="370.38" x2="154.30" y2="370.38" stroke="#5bb0a8" stroke-width="0.8" />
<line x1="151.90" y1="374.94" x2="154.30" y2="374.94" stroke="#5bb0a8" stroke-width="0.8" />
<circle cx="153.10" cy="372.66" r="2.1" fill="#fff" fill-opacity="0.5" stroke="#5bb0a8" stroke-width="1.1"/>
<line x1="160.00" y1="359.45" x2="160.00" y2="364.00" stroke="#5bb0a8" stroke-width="0.9" />
<line x1="158.80" y1="359.45" x2="161.20" y2="359.45" stroke="#5bb0a8" stroke-width="0.8" />
<line x1="158.80" y1="364.00" x2="161.20" y2="364.00" stroke="#5bb0a8" stroke-width="0.8" />
<circle cx="160.00" cy="361.73" r="2.1" fill="#fff" fill-opacity="0.5" stroke="#5bb0a8" stroke-width="1.1"/>
<line x1="166.70" y1="348.06" x2="166.70" y2="353.53" stroke="#5bb0a8" stroke-width="0.9" />
<line x1="165.50" y1="348.06" x2="167.90" y2="348.06" stroke="#5bb0a8" stroke-width="0.8" />
<line x1="165.50" y1="353.53" x2="167.90" y2="353.53" stroke="#5bb0a8" stroke-width="0.8" />
<circle cx="166.70" cy="350.80" r="2.1" fill="#fff" fill-opacity="0.5" stroke="#5bb0a8" stroke-width="1.1"/>
<line x1="173.40" y1="318.00" x2="173.40" y2="323.46" stroke="#5bb0a8" stroke-width="0.9" />
<line x1="172.20" y1="318.00" x2="174.60" y2="318.00" stroke="#5bb0a8" stroke-width="0.8" />
<line x1="172.20" y1="323.46" x2="174.60" y2="323.46" stroke="#5bb0a8" stroke-width="0.8" />
<circle cx="173.40" cy="320.73" r="2.1" fill="#fff" fill-opacity="0.5" stroke="#5bb0a8" stroke-width="1.1"/>
<line x1="125.20" y1="301.80" x2="135.20" y2="301.80" stroke="#707070" stroke-width="1.0" />
<circle cx="130.20" cy="301.80" r="1.9" fill="#fff" stroke="#707070" stroke-width="0.9"/>
<text x="137.40" y="301.80" text-anchor="start" dominant-baseline="central" fill="#111" style="font-size:5.9px;stroke:#111;stroke-width:0.32px;" >mCh (16)</text>
<line x1="125.20" y1="311.80" x2="135.20" y2="311.80" stroke="#5bb0a8" stroke-width="1.0" />
<circle cx="130.20" cy="311.80" r="1.9" fill="#fff" stroke="#5bb0a8" stroke-width="0.9"/>
<text x="137.40" y="311.80" text-anchor="start" dominant-baseline="central" fill="#111" style="font-size:5.9px;stroke:#111;stroke-width:0.32px;" >siTau (16)</text>
<text transform="translate(99.20,355.40) rotate(-90)" text-anchor="middle" dominant-baseline="central" fill="#111" style="font-size:7.3px;stroke:#111;stroke-width:0.32px;" >Response (%)</text>
<text transform="translate(152.00,353.30) rotate(-90)" text-anchor="middle" dominant-baseline="central" fill="#111" style="font-size:6.2px;stroke:#111;stroke-width:0.3px"><tspan style="font-style:italic">P</tspan> = 0.0147</text>
<text transform="translate(158.70,344.00) rotate(-90)" text-anchor="middle" dominant-baseline="central" fill="#111" style="font-size:6.2px;stroke:#111;stroke-width:0.3px"><tspan style="font-style:italic">P</tspan> < 0.0001</text>
<text transform="translate(176.80,357.90) rotate(-90)" text-anchor="middle" dominant-baseline="central" fill="#111" style="font-size:6.2px;stroke:#111;stroke-width:0.3px"><tspan style="font-style:italic">P</tspan> < 0.0001</text>
<text transform="translate(127.70,405.10) rotate(-45)" text-anchor="end" dominant-baseline="central" fill="#111" style="font-size:6.0px;stroke:#111;stroke-width:0.3px">0.008</text>
<text transform="translate(134.60,405.10) rotate(-45)" text-anchor="end" dominant-baseline="central" fill="#111" style="font-size:6.0px;stroke:#111;stroke-width:0.3px">0.02</text>
<text transform="translate(141.30,405.10) rotate(-45)" text-anchor="end" dominant-baseline="central" fill="#111" style="font-size:6.0px;stroke:#111;stroke-width:0.3px">0.04</text>
<text transform="translate(148.50,405.10) rotate(-45)" text-anchor="end" dominant-baseline="central" fill="#111" style="font-size:6.0px;stroke:#111;stroke-width:0.3px">0.07</text>
<text transform="translate(155.30,405.10) rotate(-45)" text-anchor="end" dominant-baseline="central" fill="#111" style="font-size:6.0px;stroke:#111;stroke-width:0.3px">0.16</text>
<text transform="translate(162.20,405.10) rotate(-45)" text-anchor="end" dominant-baseline="central" fill="#111" style="font-size:6.0px;stroke:#111;stroke-width:0.3px">0.4</text>
<text transform="translate(168.90,405.10) rotate(-45)" text-anchor="end" dominant-baseline="central" fill="#111" style="font-size:6.0px;stroke:#111;stroke-width:0.3px">0.6</text>
<text transform="translate(175.60,405.10) rotate(-45)" text-anchor="end" dominant-baseline="central" fill="#111" style="font-size:6.0px;stroke:#111;stroke-width:0.3px">1.0</text>
<path d="M168.4,351.2 L172.4,357" stroke="#111" stroke-width="0.8"/><path d="M173.2,358.2 l-2.6,-0.9 l1.9,-1.4 z" fill="#111"/>
<text x="148.60" y="428.30" text-anchor="middle" dominant-baseline="central" fill="#111" style="font-size:7.4px;stroke:#111;stroke-width:0.32px;" >Force (g)</text>
<line x1="210.60" y1="309.60" x2="210.60" y2="401.70" stroke="#333" stroke-width="1.25" />
<line x1="207.60" y1="401.20" x2="210.60" y2="401.20" stroke="#333" stroke-width="0.9" />
<text x="206.20" y="400.90" text-anchor="end" dominant-baseline="central" fill="#111" style="font-size:6.3px;stroke:#111;stroke-width:0.32px;letter-spacing:0.3px;" >0</text>
<line x1="207.60" y1="370.83" x2="210.60" y2="370.83" stroke="#333" stroke-width="0.9" />
<text x="206.20" y="370.53" text-anchor="end" dominant-baseline="central" fill="#111" style="font-size:6.3px;stroke:#111;stroke-width:0.32px;letter-spacing:0.3px;" >50</text>
<line x1="207.60" y1="340.47" x2="210.60" y2="340.47" stroke="#333" stroke-width="0.9" />
<text x="206.20" y="340.17" text-anchor="end" dominant-baseline="central" fill="#111" style="font-size:6.3px;stroke:#111;stroke-width:0.32px;letter-spacing:0.3px;" >100</text>
<line x1="207.60" y1="310.10" x2="210.60" y2="310.10" stroke="#333" stroke-width="0.9" />
<text x="206.20" y="309.80" text-anchor="end" dominant-baseline="central" fill="#111" style="font-size:6.3px;stroke:#111;stroke-width:0.32px;letter-spacing:0.3px;" >150</text>
<rect x="216.30" y="388.45" width="9.30" height="12.75" fill="#d2d2d4" stroke="#111" stroke-width="1.2" />
<line x1="220.95" y1="386.62" x2="220.95" y2="390.27" stroke="#111" stroke-width="0.9" />
<line x1="218.75" y1="386.62" x2="223.15" y2="386.62" stroke="#111" stroke-width="0.9" />
<line x1="218.75" y1="390.27" x2="223.15" y2="390.27" stroke="#111" stroke-width="0.9" />
<text x="220.95" y="398.00" text-anchor="middle" dominant-baseline="central" fill="#fff" style="font-size:5.2px;stroke:#fff;stroke-width:0.32px;font-weight:bold;" >16</text>
<rect x="244.60" y="370.23" width="9.20" height="30.97" fill="#579f94" stroke="#111" stroke-width="1.2" />
<line x1="249.20" y1="367.19" x2="249.20" y2="373.26" stroke="#111" stroke-width="0.9" />
<line x1="247.00" y1="367.19" x2="251.40" y2="367.19" stroke="#111" stroke-width="0.9" />
<line x1="247.00" y1="373.26" x2="251.40" y2="373.26" stroke="#111" stroke-width="0.9" />
<text x="249.20" y="398.00" text-anchor="middle" dominant-baseline="central" fill="#fff" style="font-size:5.2px;stroke:#fff;stroke-width:0.32px;font-weight:bold;" >16</text>
<circle cx="233.55" cy="378.12" r="1.65" fill="#fff" stroke="#111" stroke-width="1.1"/>
<circle cx="236.25" cy="378.12" r="1.65" fill="#fff" stroke="#111" stroke-width="1.1"/>
<circle cx="233.55" cy="386.02" r="1.65" fill="#fff" stroke="#111" stroke-width="1.1"/>
<circle cx="236.25" cy="386.02" r="1.65" fill="#fff" stroke="#111" stroke-width="1.1"/>
<circle cx="232.20" cy="393.30" r="1.65" fill="#fff" stroke="#111" stroke-width="1.1"/>
<circle cx="234.90" cy="393.30" r="1.65" fill="#fff" stroke="#111" stroke-width="1.1"/>
<circle cx="237.60" cy="393.30" r="1.65" fill="#fff" stroke="#111" stroke-width="1.1"/>
<circle cx="234.90" cy="401.20" r="1.65" fill="#fff" stroke="#111" stroke-width="1.1"/>
<circle cx="263.20" cy="340.47" r="1.65" fill="#fff" stroke="#111" stroke-width="1.1"/>
<circle cx="263.20" cy="355.65" r="1.65" fill="#fff" stroke="#111" stroke-width="1.1"/>
<circle cx="261.85" cy="362.94" r="1.65" fill="#fff" stroke="#111" stroke-width="1.1"/>
<circle cx="264.55" cy="362.94" r="1.65" fill="#fff" stroke="#111" stroke-width="1.1"/>
<circle cx="261.85" cy="370.83" r="1.65" fill="#fff" stroke="#111" stroke-width="1.1"/>
<circle cx="264.55" cy="370.83" r="1.65" fill="#fff" stroke="#111" stroke-width="1.1"/>
<circle cx="260.50" cy="378.12" r="1.65" fill="#fff" stroke="#111" stroke-width="1.1"/>
<circle cx="263.20" cy="378.12" r="1.65" fill="#fff" stroke="#111" stroke-width="1.1"/>
<circle cx="265.90" cy="378.12" r="1.65" fill="#fff" stroke="#111" stroke-width="1.1"/>
<circle cx="263.20" cy="386.02" r="1.65" fill="#fff" stroke="#111" stroke-width="1.1"/>
<text x="223.20" y="409.60" text-anchor="middle" dominant-baseline="central" fill="#111" style="font-size:7.0px;stroke:#111;stroke-width:0.32px;" >mCh</text>
<text x="253.50" y="409.60" text-anchor="middle" dominant-baseline="central" fill="#111" style="font-size:7.0px;stroke:#111;stroke-width:0.32px;" >siTau</text>
<text transform="translate(187.60,356.20) rotate(-90)" text-anchor="middle" dominant-baseline="central" fill="#111" style="font-size:7.3px;stroke:#111;stroke-width:0.32px;" >Paw withdrawal frequency (%)</text>
<text x="233.00" y="328.70" text-anchor="middle" dominant-baseline="central" fill="#111" style="font-size:6.2px;stroke:#111;stroke-width:0.3px"><tspan style="font-style:italic">P</tspan> < 0.0001</text>
<path d="M218.40,337.90 V335.20 H248.10 V337.90" fill="none" stroke="#111" stroke-width="0.9"/>
<line x1="301.40" y1="310.70" x2="301.40" y2="403.10" stroke="#333" stroke-width="1.25" />
<line x1="298.40" y1="402.60" x2="301.40" y2="402.60" stroke="#333" stroke-width="0.9" />
<text x="297.00" y="402.30" text-anchor="end" dominant-baseline="central" fill="#111" style="font-size:6.3px;stroke:#111;stroke-width:0.32px;letter-spacing:0.3px;" >0</text>
<line x1="298.40" y1="379.75" x2="301.40" y2="379.75" stroke="#333" stroke-width="0.9" />
<text x="297.00" y="379.45" text-anchor="end" dominant-baseline="central" fill="#111" style="font-size:6.3px;stroke:#111;stroke-width:0.32px;letter-spacing:0.3px;" >25</text>
<line x1="298.40" y1="356.90" x2="301.40" y2="356.90" stroke="#333" stroke-width="0.9" />
<text x="297.00" y="356.60" text-anchor="end" dominant-baseline="central" fill="#111" style="font-size:6.3px;stroke:#111;stroke-width:0.32px;letter-spacing:0.3px;" >50</text>
<line x1="298.40" y1="334.05" x2="301.40" y2="334.05" stroke="#333" stroke-width="0.9" />
<text x="297.00" y="333.75" text-anchor="end" dominant-baseline="central" fill="#111" style="font-size:6.3px;stroke:#111;stroke-width:0.32px;letter-spacing:0.3px;" >75</text>
<line x1="298.40" y1="311.20" x2="301.40" y2="311.20" stroke="#333" stroke-width="0.9" />
<text x="297.00" y="310.90" text-anchor="end" dominant-baseline="central" fill="#111" style="font-size:6.3px;stroke:#111;stroke-width:0.32px;letter-spacing:0.3px;" >100</text>
<line x1="300.80" y1="402.60" x2="356.40" y2="402.60" stroke="#333" stroke-width="1.25" />
<line x1="301.40" y1="403.70" x2="356.40" y2="403.70" stroke="#222" stroke-width="1.0" stroke-dasharray="0.7 1.1"/>
<line x1="306.30" y1="402.60" x2="306.30" y2="405.20" stroke="#222" stroke-width="1.0" />
<line x1="315.20" y1="402.60" x2="315.20" y2="405.20" stroke="#222" stroke-width="1.0" />
<line x1="324.50" y1="402.60" x2="324.50" y2="405.20" stroke="#222" stroke-width="1.0" />
<line x1="333.80" y1="402.60" x2="333.80" y2="405.20" stroke="#222" stroke-width="1.0" />
<line x1="342.70" y1="402.60" x2="342.70" y2="405.20" stroke="#222" stroke-width="1.0" />
<line x1="352.00" y1="402.60" x2="352.00" y2="405.20" stroke="#222" stroke-width="1.0" />
<text x="306.30" y="409.80" text-anchor="middle" dominant-baseline="central" fill="#111" style="font-size:6.3px;stroke:#111;stroke-width:0.32px;" >1</text>
<text x="315.20" y="409.80" text-anchor="middle" dominant-baseline="central" fill="#111" style="font-size:6.3px;stroke:#111;stroke-width:0.32px;" >2</text>
<text x="324.50" y="409.80" text-anchor="middle" dominant-baseline="central" fill="#111" style="font-size:6.3px;stroke:#111;stroke-width:0.32px;" >3</text>
<text x="333.80" y="409.80" text-anchor="middle" dominant-baseline="central" fill="#111" style="font-size:6.3px;stroke:#111;stroke-width:0.32px;" >4</text>
<text x="342.70" y="409.80" text-anchor="middle" dominant-baseline="central" fill="#111" style="font-size:6.3px;stroke:#111;stroke-width:0.32px;" >5</text>
<text x="352.00" y="409.80" text-anchor="middle" dominant-baseline="central" fill="#111" style="font-size:6.3px;stroke:#111;stroke-width:0.32px;" >6</text>
<polyline points="306.30,320.34 315.20,323.08 324.50,341.36 333.80,345.93 342.70,357.81 352.00,359.64" fill="none" stroke="#707070" stroke-width="1.1"/>
<circle cx="306.30" cy="320.34" r="2.1" fill="#fff" fill-opacity="0.5" stroke="#707070" stroke-width="1.1"/>
<circle cx="315.20" cy="323.08" r="2.1" fill="#fff" fill-opacity="0.5" stroke="#707070" stroke-width="1.1"/>
<line x1="324.50" y1="339.53" x2="324.50" y2="343.19" stroke="#707070" stroke-width="0.9" />
<line x1="323.30" y1="339.53" x2="325.70" y2="339.53" stroke="#707070" stroke-width="0.8" />
<line x1="323.30" y1="343.19" x2="325.70" y2="343.19" stroke="#707070" stroke-width="0.8" />
<circle cx="324.50" cy="341.36" r="2.1" fill="#fff" fill-opacity="0.5" stroke="#707070" stroke-width="1.1"/>
<line x1="333.80" y1="344.10" x2="333.80" y2="347.76" stroke="#707070" stroke-width="0.9" />
<line x1="332.60" y1="344.10" x2="335.00" y2="344.10" stroke="#707070" stroke-width="0.8" />
<line x1="332.60" y1="347.76" x2="335.00" y2="347.76" stroke="#707070" stroke-width="0.8" />
<circle cx="333.80" cy="345.93" r="2.1" fill="#fff" fill-opacity="0.5" stroke="#707070" stroke-width="1.1"/>
<line x1="342.70" y1="355.07" x2="342.70" y2="360.56" stroke="#707070" stroke-width="0.9" />
<line x1="341.50" y1="355.07" x2="343.90" y2="355.07" stroke="#707070" stroke-width="0.8" />
<line x1="341.50" y1="360.56" x2="343.90" y2="360.56" stroke="#707070" stroke-width="0.8" />
<circle cx="342.70" cy="357.81" r="2.1" fill="#fff" fill-opacity="0.5" stroke="#707070" stroke-width="1.1"/>
<line x1="352.00" y1="356.90" x2="352.00" y2="362.38" stroke="#707070" stroke-width="0.9" />
<line x1="350.80" y1="356.90" x2="353.20" y2="356.90" stroke="#707070" stroke-width="0.8" />
<line x1="350.80" y1="362.38" x2="353.20" y2="362.38" stroke="#707070" stroke-width="0.8" />
<circle cx="352.00" cy="359.64" r="2.1" fill="#fff" fill-opacity="0.5" stroke="#707070" stroke-width="1.1"/>
<polyline points="306.30,320.34 315.20,328.57 324.50,343.19 333.80,352.33 342.70,359.64 352.00,373.35" fill="none" stroke="#5bb0a8" stroke-width="1.1"/>
<circle cx="306.30" cy="320.34" r="2.1" fill="#fff" fill-opacity="0.5" stroke="#5bb0a8" stroke-width="1.1"/>
<circle cx="315.20" cy="328.57" r="2.1" fill="#fff" fill-opacity="0.5" stroke="#5bb0a8" stroke-width="1.1"/>
<line x1="324.50" y1="341.36" x2="324.50" y2="345.02" stroke="#5bb0a8" stroke-width="0.9" />
<line x1="323.30" y1="341.36" x2="325.70" y2="341.36" stroke="#5bb0a8" stroke-width="0.8" />
<line x1="323.30" y1="345.02" x2="325.70" y2="345.02" stroke="#5bb0a8" stroke-width="0.8" />
<circle cx="324.50" cy="343.19" r="2.1" fill="#fff" fill-opacity="0.5" stroke="#5bb0a8" stroke-width="1.1"/>
<line x1="333.80" y1="350.50" x2="333.80" y2="354.16" stroke="#5bb0a8" stroke-width="0.9" />
<line x1="332.60" y1="350.50" x2="335.00" y2="350.50" stroke="#5bb0a8" stroke-width="0.8" />
<line x1="332.60" y1="354.16" x2="335.00" y2="354.16" stroke="#5bb0a8" stroke-width="0.8" />
<circle cx="333.80" cy="352.33" r="2.1" fill="#fff" fill-opacity="0.5" stroke="#5bb0a8" stroke-width="1.1"/>
<line x1="342.70" y1="356.90" x2="342.70" y2="362.38" stroke="#5bb0a8" stroke-width="0.9" />
<line x1="341.50" y1="356.90" x2="343.90" y2="356.90" stroke="#5bb0a8" stroke-width="0.8" />
<line x1="341.50" y1="362.38" x2="343.90" y2="362.38" stroke="#5bb0a8" stroke-width="0.8" />
<circle cx="342.70" cy="359.64" r="2.1" fill="#fff" fill-opacity="0.5" stroke="#5bb0a8" stroke-width="1.1"/>
<line x1="352.00" y1="370.61" x2="352.00" y2="376.09" stroke="#5bb0a8" stroke-width="0.9" />
<line x1="350.80" y1="370.61" x2="353.20" y2="370.61" stroke="#5bb0a8" stroke-width="0.8" />
<line x1="350.80" y1="376.09" x2="353.20" y2="376.09" stroke="#5bb0a8" stroke-width="0.8" />
<circle cx="352.00" cy="373.35" r="2.1" fill="#fff" fill-opacity="0.5" stroke="#5bb0a8" stroke-width="1.1"/>
<line x1="311.90" y1="382.10" x2="320.80" y2="382.10" stroke="#707070" stroke-width="1.0" />
<circle cx="316.35" cy="382.10" r="1.9" fill="#fff" stroke="#707070" stroke-width="0.9"/>
<text x="323.00" y="382.10" text-anchor="start" dominant-baseline="central" fill="#111" style="font-size:5.9px;stroke:#111;stroke-width:0.32px;" >mCh (16)</text>
<line x1="311.90" y1="391.00" x2="320.80" y2="391.00" stroke="#5bb0a8" stroke-width="1.0" />
<circle cx="316.35" cy="391.00" r="1.9" fill="#fff" stroke="#5bb0a8" stroke-width="0.9"/>
<text x="323.00" y="391.00" text-anchor="start" dominant-baseline="central" fill="#111" style="font-size:5.9px;stroke:#111;stroke-width:0.32px;" >siTau (16)</text>
<text x="328.90" y="420.10" text-anchor="middle" dominant-baseline="central" fill="#111" style="font-size:7.4px;stroke:#111;stroke-width:0.32px;" >Time (days)</text>
<text transform="translate(277.60,357.00) rotate(-90)" text-anchor="middle" dominant-baseline="central" fill="#111" style="font-size:7.3px;stroke:#111;stroke-width:0.32px;" >Latency (s)</text>
<text transform="translate(351.60,338.40) rotate(-90)" text-anchor="middle" dominant-baseline="central" fill="#111" style="font-size:6.2px;stroke:#111;stroke-width:0.3px"><tspan style="font-style:italic">P</tspan> = 0.0020</text>
<line x1="384.90" y1="307.60" x2="384.90" y2="401.40" stroke="#333" stroke-width="1.25" />
<line x1="381.90" y1="400.90" x2="384.90" y2="400.90" stroke="#333" stroke-width="0.9" />
<text x="380.50" y="400.60" text-anchor="end" dominant-baseline="central" fill="#111" style="font-size:6.3px;stroke:#111;stroke-width:0.32px;letter-spacing:0.3px;" >0</text>
<line x1="381.90" y1="382.34" x2="384.90" y2="382.34" stroke="#333" stroke-width="0.9" />
<text x="380.50" y="382.04" text-anchor="end" dominant-baseline="central" fill="#111" style="font-size:6.3px;stroke:#111;stroke-width:0.32px;letter-spacing:0.3px;" >1</text>
<line x1="381.90" y1="363.78" x2="384.90" y2="363.78" stroke="#333" stroke-width="0.9" />
<text x="380.50" y="363.48" text-anchor="end" dominant-baseline="central" fill="#111" style="font-size:6.3px;stroke:#111;stroke-width:0.32px;letter-spacing:0.3px;" >2</text>
<line x1="381.90" y1="345.22" x2="384.90" y2="345.22" stroke="#333" stroke-width="0.9" />
<text x="380.50" y="344.92" text-anchor="end" dominant-baseline="central" fill="#111" style="font-size:6.3px;stroke:#111;stroke-width:0.32px;letter-spacing:0.3px;" >3</text>
<line x1="381.90" y1="326.66" x2="384.90" y2="326.66" stroke="#333" stroke-width="0.9" />
<text x="380.50" y="326.36" text-anchor="end" dominant-baseline="central" fill="#111" style="font-size:6.3px;stroke:#111;stroke-width:0.32px;letter-spacing:0.3px;" >4</text>
<line x1="381.90" y1="308.10" x2="384.90" y2="308.10" stroke="#333" stroke-width="0.9" />
<text x="380.50" y="307.80" text-anchor="end" dominant-baseline="central" fill="#111" style="font-size:6.3px;stroke:#111;stroke-width:0.32px;letter-spacing:0.3px;" >5</text>
<rect x="389.30" y="369.35" width="8.60" height="31.55" fill="#d2d2d4" stroke="#111" stroke-width="1.2" />
<line x1="393.60" y1="363.78" x2="393.60" y2="374.92" stroke="#111" stroke-width="0.9" />
<line x1="391.40" y1="363.78" x2="395.80" y2="363.78" stroke="#111" stroke-width="0.9" />
<line x1="391.40" y1="374.92" x2="395.80" y2="374.92" stroke="#111" stroke-width="0.9" />
<text x="393.60" y="397.70" text-anchor="middle" dominant-baseline="central" fill="#fff" style="font-size:5.2px;stroke:#fff;stroke-width:0.32px;font-weight:bold;" >16</text>
<rect x="415.20" y="349.86" width="8.60" height="51.04" fill="#579f94" stroke="#111" stroke-width="1.2" />
<line x1="419.50" y1="344.85" x2="419.50" y2="354.87" stroke="#111" stroke-width="0.9" />
<line x1="417.30" y1="344.85" x2="421.70" y2="344.85" stroke="#111" stroke-width="0.9" />
<line x1="417.30" y1="354.87" x2="421.70" y2="354.87" stroke="#111" stroke-width="0.9" />
<text x="419.50" y="397.70" text-anchor="middle" dominant-baseline="central" fill="#fff" style="font-size:5.2px;stroke:#fff;stroke-width:0.32px;font-weight:bold;" >16</text>
<circle cx="406.50" cy="326.66" r="1.65" fill="#fff" stroke="#111" stroke-width="1.1"/>
<circle cx="406.50" cy="345.22" r="1.65" fill="#fff" stroke="#111" stroke-width="1.1"/>
<circle cx="402.45" cy="363.78" r="1.65" fill="#fff" stroke="#111" stroke-width="1.1"/>
<circle cx="405.15" cy="363.78" r="1.65" fill="#fff" stroke="#111" stroke-width="1.1"/>
<circle cx="407.85" cy="363.78" r="1.65" fill="#fff" stroke="#111" stroke-width="1.1"/>
<circle cx="410.55" cy="363.78" r="1.65" fill="#fff" stroke="#111" stroke-width="1.1"/>
<circle cx="403.80" cy="382.34" r="1.65" fill="#fff" stroke="#111" stroke-width="1.1"/>
<circle cx="406.50" cy="382.34" r="1.65" fill="#fff" stroke="#111" stroke-width="1.1"/>
<circle cx="409.20" cy="382.34" r="1.65" fill="#fff" stroke="#111" stroke-width="1.1"/>
<circle cx="405.15" cy="400.90" r="1.65" fill="#fff" stroke="#111" stroke-width="1.1"/>
<circle cx="407.85" cy="400.90" r="1.65" fill="#fff" stroke="#111" stroke-width="1.1"/>
<circle cx="429.60" cy="326.66" r="1.65" fill="#fff" stroke="#111" stroke-width="1.1"/>
<circle cx="432.30" cy="326.66" r="1.65" fill="#fff" stroke="#111" stroke-width="1.1"/>
<circle cx="435.00" cy="326.66" r="1.65" fill="#fff" stroke="#111" stroke-width="1.1"/>
<circle cx="432.30" cy="345.22" r="1.65" fill="#fff" stroke="#111" stroke-width="1.1"/>
<circle cx="429.60" cy="363.78" r="1.65" fill="#fff" stroke="#111" stroke-width="1.1"/>
<circle cx="432.30" cy="363.78" r="1.65" fill="#fff" stroke="#111" stroke-width="1.1"/>
<circle cx="435.00" cy="363.78" r="1.65" fill="#fff" stroke="#111" stroke-width="1.1"/>
<circle cx="432.30" cy="382.34" r="1.65" fill="#fff" stroke="#111" stroke-width="1.1"/>
<text x="395.10" y="409.60" text-anchor="middle" dominant-baseline="central" fill="#111" style="font-size:7.0px;stroke:#111;stroke-width:0.32px;" >mCh</text>
<text x="423.00" y="409.60" text-anchor="middle" dominant-baseline="central" fill="#111" style="font-size:7.0px;stroke:#111;stroke-width:0.32px;" >siTau</text>
<text transform="translate(367.10,354.60) rotate(-90)" text-anchor="middle" dominant-baseline="central" fill="#111" style="font-size:7.3px;stroke:#111;stroke-width:0.32px;" >Frequency</text>
<text x="406.10" y="316.90" text-anchor="middle" dominant-baseline="central" fill="#111" style="font-size:6.2px;stroke:#111;stroke-width:0.3px"><tspan style="font-style:italic">P</tspan> = 0.0087</text>
<path d="M393.50,325.10 V321.40 H419.70 V325.10" fill="none" stroke="#111" stroke-width="0.9"/>
<line x1="472.20" y1="309.90" x2="472.20" y2="403.30" stroke="#333" stroke-width="1.25" />
<line x1="469.20" y1="402.80" x2="472.20" y2="402.80" stroke="#333" stroke-width="0.9" />
<text x="467.80" y="402.50" text-anchor="end" dominant-baseline="central" fill="#111" style="font-size:6.3px;stroke:#111;stroke-width:0.32px;letter-spacing:0.3px;" >0</text>
<line x1="469.20" y1="379.70" x2="472.20" y2="379.70" stroke="#333" stroke-width="0.9" />
<text x="467.80" y="379.40" text-anchor="end" dominant-baseline="central" fill="#111" style="font-size:6.3px;stroke:#111;stroke-width:0.32px;letter-spacing:0.3px;" >50</text>
<line x1="469.20" y1="356.60" x2="472.20" y2="356.60" stroke="#333" stroke-width="0.9" />
<text x="467.80" y="356.30" text-anchor="end" dominant-baseline="central" fill="#111" style="font-size:6.3px;stroke:#111;stroke-width:0.32px;letter-spacing:0.3px;" >100</text>
<line x1="469.20" y1="333.50" x2="472.20" y2="333.50" stroke="#333" stroke-width="0.9" />
<text x="467.80" y="333.20" text-anchor="end" dominant-baseline="central" fill="#111" style="font-size:6.3px;stroke:#111;stroke-width:0.32px;letter-spacing:0.3px;" >150</text>
<line x1="469.20" y1="310.40" x2="472.20" y2="310.40" stroke="#333" stroke-width="0.9" />
<text x="467.80" y="310.10" text-anchor="end" dominant-baseline="central" fill="#111" style="font-size:6.3px;stroke:#111;stroke-width:0.32px;letter-spacing:0.3px;" >200</text>
<line x1="471.60" y1="402.80" x2="534.00" y2="402.80" stroke="#333" stroke-width="1.25" />
<line x1="472.20" y1="403.90" x2="534.00" y2="403.90" stroke="#222" stroke-width="1.0" stroke-dasharray="0.7 1.1"/>
<line x1="480.30" y1="402.80" x2="480.30" y2="405.40" stroke="#222" stroke-width="1.0" />
<line x1="495.70" y1="402.80" x2="495.70" y2="405.40" stroke="#222" stroke-width="1.0" />
<line x1="511.00" y1="402.80" x2="511.00" y2="405.40" stroke="#222" stroke-width="1.0" />
<line x1="526.40" y1="402.80" x2="526.40" y2="405.40" stroke="#222" stroke-width="1.0" />
<text x="480.30" y="410.00" text-anchor="middle" dominant-baseline="central" fill="#111" style="font-size:6.3px;stroke:#111;stroke-width:0.32px;" >1</text>
<text x="495.70" y="410.00" text-anchor="middle" dominant-baseline="central" fill="#111" style="font-size:6.3px;stroke:#111;stroke-width:0.32px;" >2</text>
<text x="511.00" y="410.00" text-anchor="middle" dominant-baseline="central" fill="#111" style="font-size:6.3px;stroke:#111;stroke-width:0.32px;" >3</text>
<text x="526.40" y="410.00" text-anchor="middle" dominant-baseline="central" fill="#111" style="font-size:6.3px;stroke:#111;stroke-width:0.32px;" >4</text>
<polyline points="480.30,324.26 495.70,335.81 511.00,349.21 526.40,352.90" fill="none" stroke="#707070" stroke-width="1.1"/>
<line x1="480.30" y1="318.72" x2="480.30" y2="329.80" stroke="#707070" stroke-width="0.9" />
<line x1="479.10" y1="318.72" x2="481.50" y2="318.72" stroke="#707070" stroke-width="0.8" />
<line x1="479.10" y1="329.80" x2="481.50" y2="329.80" stroke="#707070" stroke-width="0.8" />
<circle cx="480.30" cy="324.26" r="2.1" fill="#fff" fill-opacity="0.5" stroke="#707070" stroke-width="1.1"/>
<line x1="495.70" y1="331.19" x2="495.70" y2="340.43" stroke="#707070" stroke-width="0.9" />
<line x1="494.50" y1="331.19" x2="496.90" y2="331.19" stroke="#707070" stroke-width="0.8" />
<line x1="494.50" y1="340.43" x2="496.90" y2="340.43" stroke="#707070" stroke-width="0.8" />
<circle cx="495.70" cy="335.81" r="2.1" fill="#fff" fill-opacity="0.5" stroke="#707070" stroke-width="1.1"/>
<line x1="511.00" y1="344.59" x2="511.00" y2="353.83" stroke="#707070" stroke-width="0.9" />
<line x1="509.80" y1="344.59" x2="512.20" y2="344.59" stroke="#707070" stroke-width="0.8" />
<line x1="509.80" y1="353.83" x2="512.20" y2="353.83" stroke="#707070" stroke-width="0.8" />
<circle cx="511.00" cy="349.21" r="2.1" fill="#fff" fill-opacity="0.5" stroke="#707070" stroke-width="1.1"/>
<line x1="526.40" y1="348.28" x2="526.40" y2="357.52" stroke="#707070" stroke-width="0.9" />
<line x1="525.20" y1="348.28" x2="527.60" y2="348.28" stroke="#707070" stroke-width="0.8" />
<line x1="525.20" y1="357.52" x2="527.60" y2="357.52" stroke="#707070" stroke-width="0.8" />
<circle cx="526.40" cy="352.90" r="2.1" fill="#fff" fill-opacity="0.5" stroke="#707070" stroke-width="1.1"/>
<polyline points="480.30,323.34 495.70,344.13 511.00,358.45 526.40,371.85" fill="none" stroke="#5bb0a8" stroke-width="1.1"/>
<line x1="480.30" y1="318.72" x2="480.30" y2="327.96" stroke="#5bb0a8" stroke-width="0.9" />
<line x1="479.10" y1="318.72" x2="481.50" y2="318.72" stroke="#5bb0a8" stroke-width="0.8" />
<line x1="479.10" y1="327.96" x2="481.50" y2="327.96" stroke="#5bb0a8" stroke-width="0.8" />
<circle cx="480.30" cy="323.34" r="2.1" fill="#fff" fill-opacity="0.5" stroke="#5bb0a8" stroke-width="1.1"/>
<line x1="495.70" y1="339.97" x2="495.70" y2="348.28" stroke="#5bb0a8" stroke-width="0.9" />
<line x1="494.50" y1="339.97" x2="496.90" y2="339.97" stroke="#5bb0a8" stroke-width="0.8" />
<line x1="494.50" y1="348.28" x2="496.90" y2="348.28" stroke="#5bb0a8" stroke-width="0.8" />
<circle cx="495.70" cy="344.13" r="2.1" fill="#fff" fill-opacity="0.5" stroke="#5bb0a8" stroke-width="1.1"/>
<line x1="511.00" y1="354.75" x2="511.00" y2="362.14" stroke="#5bb0a8" stroke-width="0.9" />
<line x1="509.80" y1="354.75" x2="512.20" y2="354.75" stroke="#5bb0a8" stroke-width="0.8" />
<line x1="509.80" y1="362.14" x2="512.20" y2="362.14" stroke="#5bb0a8" stroke-width="0.8" />
<circle cx="511.00" cy="358.45" r="2.1" fill="#fff" fill-opacity="0.5" stroke="#5bb0a8" stroke-width="1.1"/>
<line x1="526.40" y1="369.07" x2="526.40" y2="374.62" stroke="#5bb0a8" stroke-width="0.9" />
<line x1="525.20" y1="369.07" x2="527.60" y2="369.07" stroke="#5bb0a8" stroke-width="0.8" />
<line x1="525.20" y1="374.62" x2="527.60" y2="374.62" stroke="#5bb0a8" stroke-width="0.8" />
<circle cx="526.40" cy="371.85" r="2.1" fill="#fff" fill-opacity="0.5" stroke="#5bb0a8" stroke-width="1.1"/>
<line x1="476.70" y1="386.10" x2="487.10" y2="386.10" stroke="#707070" stroke-width="1.0" />
<circle cx="481.90" cy="386.10" r="1.9" fill="#fff" stroke="#707070" stroke-width="0.9"/>
<text x="489.30" y="386.10" text-anchor="start" dominant-baseline="central" fill="#111" style="font-size:5.9px;stroke:#111;stroke-width:0.32px;" >mCh (16)</text>
<line x1="476.70" y1="396.60" x2="487.10" y2="396.60" stroke="#5bb0a8" stroke-width="1.0" />
<circle cx="481.90" cy="396.60" r="1.9" fill="#fff" stroke="#5bb0a8" stroke-width="0.9"/>
<text x="489.30" y="396.60" text-anchor="start" dominant-baseline="central" fill="#111" style="font-size:5.9px;stroke:#111;stroke-width:0.32px;" >siTau (16)</text>
<text x="503.00" y="420.10" text-anchor="middle" dominant-baseline="central" fill="#111" style="font-size:7.4px;stroke:#111;stroke-width:0.32px;" >Time (days)</text>
<text transform="translate(447.60,357.00) rotate(-90)" text-anchor="middle" dominant-baseline="central" fill="#111" style="font-size:7.3px;stroke:#111;stroke-width:0.32px;" >Latency (s)</text>
<text transform="translate(526.40,332.00) rotate(-90)" text-anchor="middle" dominant-baseline="central" fill="#111" style="font-size:6.2px;stroke:#111;stroke-width:0.3px"><tspan style="font-style:italic">P</tspan> = 0.0173</text>
<line x1="565.30" y1="309.30" x2="565.30" y2="401.20" stroke="#333" stroke-width="1.25" />
<line x1="562.30" y1="400.70" x2="565.30" y2="400.70" stroke="#333" stroke-width="0.9" />
<text x="560.90" y="400.40" text-anchor="end" dominant-baseline="central" fill="#111" style="font-size:6.3px;stroke:#111;stroke-width:0.32px;letter-spacing:0.3px;" >0</text>
<line x1="562.30" y1="382.52" x2="565.30" y2="382.52" stroke="#333" stroke-width="0.9" />
<text x="560.90" y="382.22" text-anchor="end" dominant-baseline="central" fill="#111" style="font-size:6.3px;stroke:#111;stroke-width:0.32px;letter-spacing:0.3px;" >10</text>
<line x1="562.30" y1="364.34" x2="565.30" y2="364.34" stroke="#333" stroke-width="0.9" />
<text x="560.90" y="364.04" text-anchor="end" dominant-baseline="central" fill="#111" style="font-size:6.3px;stroke:#111;stroke-width:0.32px;letter-spacing:0.3px;" >20</text>
<line x1="562.30" y1="346.16" x2="565.30" y2="346.16" stroke="#333" stroke-width="0.9" />
<text x="560.90" y="345.86" text-anchor="end" dominant-baseline="central" fill="#111" style="font-size:6.3px;stroke:#111;stroke-width:0.32px;letter-spacing:0.3px;" >30</text>
<line x1="562.30" y1="327.98" x2="565.30" y2="327.98" stroke="#333" stroke-width="0.9" />
<text x="560.90" y="327.68" text-anchor="end" dominant-baseline="central" fill="#111" style="font-size:6.3px;stroke:#111;stroke-width:0.32px;letter-spacing:0.3px;" >40</text>
<line x1="562.30" y1="309.80" x2="565.30" y2="309.80" stroke="#333" stroke-width="0.9" />
<text x="560.90" y="309.50" text-anchor="end" dominant-baseline="central" fill="#111" style="font-size:6.3px;stroke:#111;stroke-width:0.32px;letter-spacing:0.3px;" >50</text>
<rect x="569.40" y="377.07" width="8.60" height="23.63" fill="#d2d2d4" stroke="#111" stroke-width="1.2" />
<line x1="573.70" y1="374.88" x2="573.70" y2="379.25" stroke="#111" stroke-width="0.9" />
<line x1="571.50" y1="374.88" x2="575.90" y2="374.88" stroke="#111" stroke-width="0.9" />
<line x1="571.50" y1="379.25" x2="575.90" y2="379.25" stroke="#111" stroke-width="0.9" />
<text x="573.70" y="397.50" text-anchor="middle" dominant-baseline="central" fill="#fff" style="font-size:5.2px;stroke:#fff;stroke-width:0.32px;font-weight:bold;" >16</text>
<rect x="595.00" y="356.16" width="8.00" height="44.54" fill="#579f94" stroke="#111" stroke-width="1.2" />
<line x1="599.00" y1="351.61" x2="599.00" y2="360.70" stroke="#111" stroke-width="0.9" />
<line x1="596.80" y1="351.61" x2="601.20" y2="351.61" stroke="#111" stroke-width="0.9" />
<line x1="596.80" y1="360.70" x2="601.20" y2="360.70" stroke="#111" stroke-width="0.9" />
<text x="599.00" y="397.50" text-anchor="middle" dominant-baseline="central" fill="#fff" style="font-size:5.2px;stroke:#fff;stroke-width:0.32px;font-weight:bold;" >16</text>
<circle cx="586.50" cy="357.07" r="1.65" fill="#fff" stroke="#111" stroke-width="1.1"/>
<circle cx="586.50" cy="364.34" r="1.65" fill="#fff" stroke="#111" stroke-width="1.1"/>
<circle cx="583.80" cy="373.43" r="1.65" fill="#fff" stroke="#111" stroke-width="1.1"/>
<circle cx="586.50" cy="375.25" r="1.65" fill="#fff" stroke="#111" stroke-width="1.1"/>
<circle cx="589.20" cy="375.25" r="1.65" fill="#fff" stroke="#111" stroke-width="1.1"/>
<circle cx="583.80" cy="377.07" r="1.65" fill="#fff" stroke="#111" stroke-width="1.1"/>
<circle cx="586.50" cy="377.07" r="1.65" fill="#fff" stroke="#111" stroke-width="1.1"/>
<circle cx="589.20" cy="378.88" r="1.65" fill="#fff" stroke="#111" stroke-width="1.1"/>
<circle cx="585.15" cy="380.70" r="1.65" fill="#fff" stroke="#111" stroke-width="1.1"/>
<circle cx="587.85" cy="382.52" r="1.65" fill="#fff" stroke="#111" stroke-width="1.1"/>
<circle cx="583.80" cy="384.34" r="1.65" fill="#fff" stroke="#111" stroke-width="1.1"/>
<circle cx="586.50" cy="384.34" r="1.65" fill="#fff" stroke="#111" stroke-width="1.1"/>
<circle cx="589.20" cy="386.16" r="1.65" fill="#fff" stroke="#111" stroke-width="1.1"/>
<circle cx="586.50" cy="387.97" r="1.65" fill="#fff" stroke="#111" stroke-width="1.1"/>
<circle cx="585.15" cy="391.61" r="1.65" fill="#fff" stroke="#111" stroke-width="1.1"/>
<circle cx="587.85" cy="393.43" r="1.65" fill="#fff" stroke="#111" stroke-width="1.1"/>
<circle cx="611.10" cy="315.25" r="1.65" fill="#fff" stroke="#111" stroke-width="1.1"/>
<circle cx="609.75" cy="335.25" r="1.65" fill="#fff" stroke="#111" stroke-width="1.1"/>
<circle cx="612.45" cy="337.07" r="1.65" fill="#fff" stroke="#111" stroke-width="1.1"/>
<circle cx="611.10" cy="340.71" r="1.65" fill="#fff" stroke="#111" stroke-width="1.1"/>
<circle cx="611.10" cy="346.16" r="1.65" fill="#fff" stroke="#111" stroke-width="1.1"/>
<circle cx="611.10" cy="349.80" r="1.65" fill="#fff" stroke="#111" stroke-width="1.1"/>
<circle cx="609.75" cy="355.25" r="1.65" fill="#fff" stroke="#111" stroke-width="1.1"/>
<circle cx="612.45" cy="357.07" r="1.65" fill="#fff" stroke="#111" stroke-width="1.1"/>
<circle cx="609.75" cy="358.89" r="1.65" fill="#fff" stroke="#111" stroke-width="1.1"/>
<circle cx="612.45" cy="360.70" r="1.65" fill="#fff" stroke="#111" stroke-width="1.1"/>
<circle cx="609.75" cy="362.52" r="1.65" fill="#fff" stroke="#111" stroke-width="1.1"/>
<circle cx="612.45" cy="364.34" r="1.65" fill="#fff" stroke="#111" stroke-width="1.1"/>
<circle cx="611.10" cy="369.79" r="1.65" fill="#fff" stroke="#111" stroke-width="1.1"/>
<circle cx="611.10" cy="375.25" r="1.65" fill="#fff" stroke="#111" stroke-width="1.1"/>
<circle cx="611.10" cy="393.43" r="1.65" fill="#fff" stroke="#111" stroke-width="1.1"/>
<text x="575.20" y="409.60" text-anchor="middle" dominant-baseline="central" fill="#111" style="font-size:7.0px;stroke:#111;stroke-width:0.32px;" >mCh</text>
<text x="603.00" y="409.60" text-anchor="middle" dominant-baseline="central" fill="#111" style="font-size:7.0px;stroke:#111;stroke-width:0.32px;" >siTau</text>
<text transform="translate(544.00,355.40) rotate(-90)" text-anchor="middle" dominant-baseline="central" fill="#111" style="font-size:7.3px;stroke:#111;stroke-width:0.32px;" >Target:total holes ratio (%)</text>
<text x="584.80" y="309.80" text-anchor="middle" dominant-baseline="central" fill="#111" style="font-size:6.2px;stroke:#111;stroke-width:0.3px"><tspan style="font-style:italic">P</tspan> = 0.0003</text>
<path d="M570.70,319.00 V314.40 H600.60 V319.00" fill="none" stroke="#111" stroke-width="0.9"/>
<text x="14.90" y="446.30" text-anchor="middle" fill="#000" style="font-size:12.8px;font-weight:bold;stroke:#000;stroke-width:0.35px">o</text>
<text x="187.10" y="444.50" text-anchor="middle" fill="#000" style="font-size:12.8px;font-weight:bold;stroke:#000;stroke-width:0.35px">p</text>
<text x="417.00" y="443.80" text-anchor="middle" fill="#000" style="font-size:12.8px;font-weight:bold;stroke:#000;stroke-width:0.35px">q</text>
<text x="39.00" y="443.30" text-anchor="middle" dominant-baseline="central" fill="#111" style="font-size:7.0px;stroke:#111;stroke-width:0.32px;" >mCh</text>
<text x="79.30" y="443.30" text-anchor="middle" dominant-baseline="central" fill="#111" style="font-size:7.0px;stroke:#111;stroke-width:0.32px;" >siTau</text>
<rect x="26.70" y="449.50" width="26.80" height="111.70" fill="#f0f0f0" stroke="#111" stroke-width="1.0" />
<g clip-path="url(#d9)"><g>
<circle cx="30.3" cy="500.7" r="0.8" fill="#999" fill-opacity="0.40"/><circle cx="46.7" cy="509.8" r="0.9" fill="#999" fill-opacity="0.48"/><circle cx="35.3" cy="465.0" r="0.4" fill="#999" fill-opacity="0.26"/><circle cx="49.8" cy="547.2" r="0.9" fill="#999" fill-opacity="0.29"/><circle cx="44.4" cy="463.8" r="0.9" fill="#999" fill-opacity="0.48"/><circle cx="46.8" cy="517.5" r="0.7" fill="#999" fill-opacity="0.55"/><circle cx="52.5" cy="476.5" r="0.7" fill="#999" fill-opacity="0.51"/><circle cx="44.9" cy="495.4" r="0.7" fill="#999" fill-opacity="0.59"/><circle cx="34.1" cy="473.1" r="0.8" fill="#999" fill-opacity="0.35"/><circle cx="50.8" cy="485.9" r="1.0" fill="#999" fill-opacity="0.38"/><circle cx="50.4" cy="533.4" r="0.8" fill="#999" fill-opacity="0.33"/><circle cx="31.1" cy="453.0" r="0.5" fill="#999" fill-opacity="0.48"/><circle cx="28.4" cy="476.0" r="0.7" fill="#999" fill-opacity="0.30"/><circle cx="35.5" cy="475.0" r="0.8" fill="#999" fill-opacity="0.29"/><circle cx="53.4" cy="516.4" r="0.8" fill="#999" fill-opacity="0.44"/><circle cx="40.0" cy="557.9" r="0.9" fill="#999" fill-opacity="0.54"/><circle cx="27.5" cy="515.3" r="1.0" fill="#999" fill-opacity="0.47"/><circle cx="40.4" cy="522.1" r="0.5" fill="#999" fill-opacity="0.50"/><circle cx="47.7" cy="457.5" r="0.7" fill="#999" fill-opacity="0.46"/><circle cx="36.1" cy="525.6" r="1.0" fill="#999" fill-opacity="0.57"/><circle cx="34.9" cy="466.5" r="0.9" fill="#999" fill-opacity="0.46"/><circle cx="48.9" cy="546.6" r="0.6" fill="#999" fill-opacity="0.46"/><circle cx="34.8" cy="538.6" r="0.8" fill="#999" fill-opacity="0.33"/><circle cx="40.1" cy="515.9" r="0.5" fill="#999" fill-opacity="0.31"/><circle cx="39.4" cy="457.6" r="0.7" fill="#999" fill-opacity="0.58"/><circle cx="48.8" cy="455.6" r="0.9" fill="#999" fill-opacity="0.50"/><circle cx="45.7" cy="452.5" r="0.9" fill="#999" fill-opacity="0.32"/><circle cx="48.2" cy="485.5" r="0.6" fill="#999" fill-opacity="0.31"/><circle cx="50.0" cy="474.3" r="0.9" fill="#999" fill-opacity="0.43"/><circle cx="30.7" cy="522.7" r="0.7" fill="#999" fill-opacity="0.26"/><circle cx="48.8" cy="479.8" r="0.4" fill="#999" fill-opacity="0.52"/><circle cx="46.2" cy="492.6" r="0.5" fill="#999" fill-opacity="0.43"/><circle cx="42.4" cy="526.5" r="0.7" fill="#999" fill-opacity="0.45"/><circle cx="46.0" cy="470.7" r="0.5" fill="#999" fill-opacity="0.42"/><circle cx="46.9" cy="539.2" r="0.9" fill="#999" fill-opacity="0.40"/>
<path d="M32.9,449.0 L33.0,451.3 L33.2,453.5 L34.3,455.8 L34.2,458.1 L34.6,460.3 L34.8,462.6 L34.9,464.9 L35.5,467.1 L35.7,469.4 L36.2,471.7 L36.3,473.9 L36.8,476.2 L36.7,478.5 L36.6,480.7 L36.9,483.0 L37.4,485.2 L36.6,487.4 L36.9,489.6 L36.7,491.8 L35.9,494.0 L36.6,496.2 L35.6,498.4 L36.3,500.6 L36.8,503.0 L36.6,505.4 L37.6,507.8 L38.1,510.2 L37.9,512.6 L39.0,515.0 L38.7,517.4 L40.0,519.8 L40.1,522.1 L40.8,524.5 L40.1,526.9 L40.8,529.2 L41.5,531.6 L41.8,534.0 L41.7,536.3 L42.7,538.7 L43.0,541.0 L42.7,543.3 L42.8,545.7 L43.7,548.0 L43.7,550.3 L44.3,552.7 L44.4,555.0 L44.6,557.3 L44.5,559.7 L45.3,562.0" fill="none" stroke="#0c0c0c" stroke-width="1.6" stroke-linejoin="round" stroke-linecap="round"/>
<line x1="44.3" y1="552.7" x2="45.6" y2="553.3" stroke="#111" stroke-width="1.4" stroke-linecap="round"/><line x1="35.9" y1="494.0" x2="33.5" y2="493.6" stroke="#111" stroke-width="1.7" stroke-linecap="round"/><circle cx="33.5" cy="493.6" r="1.2" fill="#111"/><line x1="35.6" y1="498.4" x2="37.3" y2="497.8" stroke="#111" stroke-width="1.9" stroke-linecap="round"/><circle cx="37.3" cy="497.8" r="0.9" fill="#111"/><line x1="36.7" y1="491.8" x2="35.4" y2="492.5" stroke="#111" stroke-width="1.0" stroke-linecap="round"/><line x1="43.7" y1="550.3" x2="44.4" y2="549.9" stroke="#111" stroke-width="1.6" stroke-linecap="round"/><line x1="45.3" y1="562.0" x2="48.1" y2="563.0" stroke="#111" stroke-width="1.8" stroke-linecap="round"/><line x1="45.3" y1="562.0" x2="43.5" y2="561.4" stroke="#111" stroke-width="1.6" stroke-linecap="round"/><line x1="36.6" y1="487.4" x2="35.6" y2="488.1" stroke="#111" stroke-width="1.7" stroke-linecap="round"/><circle cx="35.6" cy="488.1" r="1.1" fill="#111"/><line x1="34.3" y1="455.8" x2="36.5" y2="455.1" stroke="#111" stroke-width="1.0" stroke-linecap="round"/><line x1="36.6" y1="487.4" x2="37.5" y2="487.1" stroke="#111" stroke-width="1.4" stroke-linecap="round"/><circle cx="37.5" cy="487.1" r="1.5" fill="#111"/><line x1="40.8" y1="529.2" x2="40.0" y2="529.4" stroke="#111" stroke-width="1.0" stroke-linecap="round"/><line x1="37.6" y1="507.8" x2="35.4" y2="507.5" stroke="#111" stroke-width="1.0" stroke-linecap="round"/><line x1="34.3" y1="455.8" x2="35.8" y2="455.1" stroke="#111" stroke-width="1.2" stroke-linecap="round"/><circle cx="35.8" cy="455.1" r="1.3" fill="#111"/><line x1="38.7" y1="517.4" x2="37.1" y2="518.7" stroke="#111" stroke-width="1.6" stroke-linecap="round"/><line x1="39.0" y1="515.0" x2="37.1" y2="515.6" stroke="#111" stroke-width="1.8" stroke-linecap="round"/><line x1="34.6" y1="460.3" x2="32.3" y2="462.1" stroke="#111" stroke-width="1.7" stroke-linecap="round"/><circle cx="32.3" cy="462.1" r="1.6" fill="#111"/><line x1="41.5" y1="531.6" x2="44.4" y2="531.2" stroke="#111" stroke-width="1.9" stroke-linecap="round"/><circle cx="44.4" cy="531.2" r="1.5" fill="#111"/><line x1="42.7" y1="543.3" x2="45.1" y2="544.8" stroke="#111" stroke-width="1.8" stroke-linecap="round"/><line x1="36.8" y1="503.0" x2="37.9" y2="503.4" stroke="#111" stroke-width="1.5" stroke-linecap="round"/><circle cx="37.9" cy="503.4" r="1.5" fill="#111"/><line x1="43.7" y1="550.3" x2="41.5" y2="549.7" stroke="#111" stroke-width="0.9" stroke-linecap="round"/><line x1="36.6" y1="487.4" x2="34.8" y2="488.0" stroke="#111" stroke-width="1.0" stroke-linecap="round"/><circle cx="34.8" cy="488.0" r="0.9" fill="#111"/><line x1="42.8" y1="545.7" x2="45.2" y2="544.9" stroke="#111" stroke-width="1.7" stroke-linecap="round"/><line x1="36.3" y1="473.9" x2="37.5" y2="473.3" stroke="#111" stroke-width="1.5" stroke-linecap="round"/><line x1="34.6" y1="460.3" x2="36.3" y2="461.5" stroke="#111" stroke-width="1.7" stroke-linecap="round"/><line x1="34.6" y1="460.3" x2="36.0" y2="459.8" stroke="#111" stroke-width="0.8" stroke-linecap="round"/><line x1="34.6" y1="460.3" x2="32.4" y2="459.3" stroke="#111" stroke-width="1.3" stroke-linecap="round"/><line x1="37.4" y1="485.2" x2="38.8" y2="484.9" stroke="#111" stroke-width="1.8" stroke-linecap="round"/><line x1="37.9" y1="512.6" x2="39.4" y2="512.4" stroke="#111" stroke-width="1.7" stroke-linecap="round"/><circle cx="39.4" cy="512.4" r="1.0" fill="#111"/><line x1="37.9" y1="512.6" x2="39.7" y2="512.5" stroke="#111" stroke-width="0.9" stroke-linecap="round"/><line x1="35.9" y1="494.0" x2="37.3" y2="493.2" stroke="#111" stroke-width="1.1" stroke-linecap="round"/><circle cx="37.3" cy="493.2" r="1.1" fill="#111"/><line x1="36.6" y1="496.2" x2="37.4" y2="496.4" stroke="#111" stroke-width="1.5" stroke-linecap="round"/><line x1="42.8" y1="545.7" x2="41.4" y2="544.7" stroke="#111" stroke-width="1.6" stroke-linecap="round"/><line x1="44.6" y1="557.3" x2="46.3" y2="557.1" stroke="#111" stroke-width="0.9" stroke-linecap="round"/><line x1="33.0" y1="451.3" x2="31.1" y2="450.4" stroke="#111" stroke-width="1.9" stroke-linecap="round"/><circle cx="31.1" cy="450.4" r="1.5" fill="#111"/><line x1="36.9" y1="483.0" x2="34.3" y2="482.2" stroke="#111" stroke-width="1.2" stroke-linecap="round"/><line x1="44.6" y1="557.3" x2="47.1" y2="556.2" stroke="#111" stroke-width="1.6" stroke-linecap="round"/><line x1="33.2" y1="453.5" x2="31.5" y2="454.8" stroke="#111" stroke-width="1.6" stroke-linecap="round"/><line x1="34.3" y1="455.8" x2="32.5" y2="455.6" stroke="#111" stroke-width="1.9" stroke-linecap="round"/><line x1="37.9" y1="512.6" x2="39.4" y2="511.7" stroke="#111" stroke-width="1.7" stroke-linecap="round"/><line x1="33.0" y1="451.3" x2="33.9" y2="450.6" stroke="#111" stroke-width="1.6" stroke-linecap="round"/><line x1="42.8" y1="545.7" x2="40.9" y2="545.9" stroke="#111" stroke-width="2.0" stroke-linecap="round"/><line x1="37.4" y1="485.2" x2="39.5" y2="486.8" stroke="#111" stroke-width="1.9" stroke-linecap="round"/><circle cx="39.5" cy="486.8" r="0.9" fill="#111"/><line x1="40.1" y1="526.9" x2="42.6" y2="527.6" stroke="#111" stroke-width="1.3" stroke-linecap="round"/><circle cx="42.6" cy="527.6" r="1.4" fill="#111"/><line x1="44.4" y1="555.0" x2="42.7" y2="554.1" stroke="#111" stroke-width="1.6" stroke-linecap="round"/><circle cx="42.7" cy="554.1" r="1.3" fill="#111"/><line x1="34.6" y1="460.3" x2="33.6" y2="460.6" stroke="#111" stroke-width="1.5" stroke-linecap="round"/><line x1="36.3" y1="473.9" x2="38.5" y2="475.2" stroke="#111" stroke-width="1.2" stroke-linecap="round"/><circle cx="38.5" cy="475.2" r="0.9" fill="#111"/><line x1="34.6" y1="460.3" x2="37.0" y2="458.5" stroke="#111" stroke-width="0.7" stroke-linecap="round"/><line x1="34.2" y1="458.1" x2="33.0" y2="458.6" stroke="#111" stroke-width="0.8" stroke-linecap="round"/><circle cx="33.0" cy="458.6" r="1.1" fill="#111"/><line x1="37.9" y1="512.6" x2="40.8" y2="512.4" stroke="#111" stroke-width="1.0" stroke-linecap="round"/><line x1="32.9" y1="449.0" x2="34.6" y2="449.4" stroke="#111" stroke-width="1.8" stroke-linecap="round"/><line x1="37.6" y1="507.8" x2="38.7" y2="506.9" stroke="#111" stroke-width="1.9" stroke-linecap="round"/><line x1="37.4" y1="485.2" x2="39.8" y2="485.5" stroke="#111" stroke-width="1.7" stroke-linecap="round"/><line x1="35.7" y1="469.4" x2="33.4" y2="468.3" stroke="#111" stroke-width="1.3" stroke-linecap="round"/><line x1="36.2" y1="471.7" x2="34.6" y2="470.6" stroke="#111" stroke-width="0.8" stroke-linecap="round"/><circle cx="34.6" cy="470.6" r="1.4" fill="#111"/><line x1="36.7" y1="478.5" x2="37.6" y2="478.1" stroke="#111" stroke-width="1.6" stroke-linecap="round"/><circle cx="37.6" cy="478.1" r="1.6" fill="#111"/>
</g></g>
<rect x="65.80" y="449.50" width="26.80" height="111.70" fill="#f0f0f0" stroke="#111" stroke-width="1.0" />
<g clip-path="url(#d10)"><g>
<circle cx="75.6" cy="490.8" r="0.5" fill="#999" fill-opacity="0.34"/><circle cx="90.9" cy="521.9" r="0.8" fill="#999" fill-opacity="0.31"/><circle cx="85.3" cy="467.8" r="0.6" fill="#999" fill-opacity="0.60"/><circle cx="83.0" cy="511.7" r="0.8" fill="#999" fill-opacity="0.54"/><circle cx="86.6" cy="475.1" r="0.4" fill="#999" fill-opacity="0.36"/><circle cx="73.0" cy="473.1" r="1.0" fill="#999" fill-opacity="0.56"/><circle cx="74.2" cy="522.7" r="0.6" fill="#999" fill-opacity="0.57"/><circle cx="78.1" cy="479.1" r="0.5" fill="#999" fill-opacity="0.45"/><circle cx="72.8" cy="514.8" r="0.9" fill="#999" fill-opacity="0.39"/><circle cx="71.7" cy="560.9" r="0.7" fill="#999" fill-opacity="0.28"/><circle cx="67.1" cy="461.7" r="0.8" fill="#999" fill-opacity="0.53"/><circle cx="77.1" cy="456.6" r="0.6" fill="#999" fill-opacity="0.60"/><circle cx="80.0" cy="558.0" r="0.9" fill="#999" fill-opacity="0.25"/><circle cx="85.1" cy="525.6" r="0.7" fill="#999" fill-opacity="0.34"/><circle cx="83.0" cy="462.0" r="0.7" fill="#999" fill-opacity="0.41"/><circle cx="91.4" cy="547.3" r="0.6" fill="#999" fill-opacity="0.43"/><circle cx="70.6" cy="551.4" r="0.9" fill="#999" fill-opacity="0.35"/><circle cx="82.9" cy="517.5" r="0.5" fill="#999" fill-opacity="0.52"/><circle cx="80.3" cy="536.5" r="0.7" fill="#999" fill-opacity="0.25"/><circle cx="74.5" cy="451.7" r="1.0" fill="#999" fill-opacity="0.56"/><circle cx="88.1" cy="483.8" r="0.4" fill="#999" fill-opacity="0.56"/><circle cx="91.2" cy="459.1" r="0.7" fill="#999" fill-opacity="0.27"/><circle cx="86.2" cy="535.0" r="0.5" fill="#999" fill-opacity="0.42"/><circle cx="80.5" cy="479.1" r="0.9" fill="#999" fill-opacity="0.40"/><circle cx="71.5" cy="509.7" r="0.8" fill="#999" fill-opacity="0.32"/><circle cx="74.2" cy="560.7" r="0.8" fill="#999" fill-opacity="0.40"/><circle cx="79.7" cy="463.0" r="0.5" fill="#999" fill-opacity="0.37"/><circle cx="81.6" cy="475.2" r="0.5" fill="#999" fill-opacity="0.27"/><circle cx="82.7" cy="475.1" r="0.9" fill="#999" fill-opacity="0.55"/><circle cx="67.7" cy="476.1" r="0.8" fill="#999" fill-opacity="0.32"/><circle cx="69.3" cy="554.0" r="0.7" fill="#999" fill-opacity="0.42"/><circle cx="86.8" cy="539.7" r="0.5" fill="#999" fill-opacity="0.28"/><circle cx="77.4" cy="496.8" r="0.7" fill="#999" fill-opacity="0.51"/><circle cx="83.8" cy="559.4" r="0.5" fill="#999" fill-opacity="0.39"/><circle cx="74.9" cy="545.7" r="0.5" fill="#999" fill-opacity="0.32"/>
<path d="M79.4,449.0 L78.6,451.3 L78.8,453.5 L78.6,455.8 L79.1,458.1 L78.9,460.3 L79.1,462.6 L78.1,464.9 L78.4,467.1 L77.8,469.4 L78.0,471.7 L78.2,473.9 L77.6,476.2 L77.7,478.5 L78.1,480.7 L77.8,483.0 L77.8,485.2 L78.4,487.4 L78.9,489.6 L78.3,491.8 L79.4,494.0 L79.6,496.2 L79.5,498.4 L79.5,500.6 L80.8,503.0 L80.4,505.3 L80.5,507.6 L80.9,510.0 L82.1,512.4 L82.2,514.7 L82.8,517.0 L83.1,519.4 L83.6,521.8 L84.8,524.3 L84.8,526.7 L85.7,529.1 L86.7,531.6 L87.2,534.0 L86.1,536.2 L84.3,538.5 L83.0,540.7 L80.8,543.0 L79.6,545.2 L78.2,547.5 L76.5,549.7 L76.6,552.2 L76.3,554.6 L76.3,557.1 L76.6,559.5 L76.3,562.0" fill="none" stroke="#0c0c0c" stroke-width="1.6" stroke-linejoin="round" stroke-linecap="round"/>
<line x1="82.1" y1="512.4" x2="83.3" y2="512.3" stroke="#111" stroke-width="1.8" stroke-linecap="round"/><circle cx="83.3" cy="512.3" r="1.5" fill="#111"/><line x1="85.7" y1="529.1" x2="88.0" y2="529.3" stroke="#111" stroke-width="0.7" stroke-linecap="round"/><circle cx="88.0" cy="529.3" r="1.4" fill="#111"/><line x1="77.8" y1="483.0" x2="79.6" y2="482.3" stroke="#111" stroke-width="1.2" stroke-linecap="round"/><circle cx="79.6" cy="482.3" r="1.2" fill="#111"/><line x1="80.8" y1="503.0" x2="83.3" y2="502.8" stroke="#111" stroke-width="1.2" stroke-linecap="round"/><line x1="85.7" y1="529.1" x2="84.0" y2="528.3" stroke="#111" stroke-width="1.0" stroke-linecap="round"/><circle cx="84.0" cy="528.3" r="1.4" fill="#111"/><line x1="78.6" y1="455.8" x2="77.7" y2="455.9" stroke="#111" stroke-width="1.4" stroke-linecap="round"/><line x1="78.0" y1="471.7" x2="79.6" y2="472.6" stroke="#111" stroke-width="0.8" stroke-linecap="round"/><circle cx="79.6" cy="472.6" r="1.5" fill="#111"/><line x1="80.4" y1="505.3" x2="83.0" y2="504.3" stroke="#111" stroke-width="1.5" stroke-linecap="round"/><line x1="80.5" y1="507.6" x2="78.6" y2="507.1" stroke="#111" stroke-width="1.0" stroke-linecap="round"/><line x1="79.4" y1="494.0" x2="81.1" y2="494.4" stroke="#111" stroke-width="1.1" stroke-linecap="round"/><circle cx="81.1" cy="494.4" r="1.4" fill="#111"/><line x1="79.1" y1="458.1" x2="81.2" y2="458.3" stroke="#111" stroke-width="0.8" stroke-linecap="round"/><line x1="83.6" y1="521.8" x2="86.0" y2="523.3" stroke="#111" stroke-width="1.8" stroke-linecap="round"/><circle cx="86.0" cy="523.3" r="1.0" fill="#111"/><line x1="84.8" y1="526.7" x2="83.2" y2="528.1" stroke="#111" stroke-width="1.6" stroke-linecap="round"/><circle cx="83.2" cy="528.1" r="1.5" fill="#111"/><line x1="78.3" y1="491.8" x2="77.4" y2="492.3" stroke="#111" stroke-width="1.0" stroke-linecap="round"/><line x1="76.3" y1="557.1" x2="75.0" y2="557.3" stroke="#111" stroke-width="1.6" stroke-linecap="round"/><circle cx="75.0" cy="557.3" r="1.3" fill="#111"/><line x1="77.8" y1="485.2" x2="76.6" y2="485.9" stroke="#111" stroke-width="0.8" stroke-linecap="round"/><line x1="78.4" y1="487.4" x2="79.8" y2="486.6" stroke="#111" stroke-width="2.0" stroke-linecap="round"/><circle cx="79.8" cy="486.6" r="1.2" fill="#111"/><line x1="76.6" y1="552.2" x2="77.2" y2="551.7" stroke="#111" stroke-width="1.8" stroke-linecap="round"/><line x1="84.8" y1="526.7" x2="86.4" y2="526.8" stroke="#111" stroke-width="1.3" stroke-linecap="round"/><circle cx="86.4" cy="526.8" r="1.2" fill="#111"/><line x1="78.8" y1="453.5" x2="77.6" y2="453.1" stroke="#111" stroke-width="0.8" stroke-linecap="round"/><line x1="80.5" y1="507.6" x2="78.5" y2="509.0" stroke="#111" stroke-width="1.0" stroke-linecap="round"/><circle cx="78.5" cy="509.0" r="1.5" fill="#111"/><line x1="78.2" y1="473.9" x2="77.4" y2="474.2" stroke="#111" stroke-width="1.1" stroke-linecap="round"/><line x1="79.6" y1="545.2" x2="77.1" y2="544.4" stroke="#111" stroke-width="1.7" stroke-linecap="round"/><circle cx="77.1" cy="544.4" r="1.5" fill="#111"/><line x1="82.8" y1="517.0" x2="85.4" y2="516.9" stroke="#111" stroke-width="1.1" stroke-linecap="round"/><line x1="78.1" y1="480.7" x2="80.3" y2="480.4" stroke="#111" stroke-width="1.1" stroke-linecap="round"/><circle cx="80.3" cy="480.4" r="1.4" fill="#111"/><line x1="79.5" y1="498.4" x2="78.1" y2="499.4" stroke="#111" stroke-width="1.4" stroke-linecap="round"/><line x1="78.1" y1="464.9" x2="76.7" y2="465.0" stroke="#111" stroke-width="2.0" stroke-linecap="round"/><circle cx="76.7" cy="465.0" r="1.3" fill="#111"/><line x1="79.5" y1="498.4" x2="78.0" y2="498.6" stroke="#111" stroke-width="1.4" stroke-linecap="round"/><circle cx="78.0" cy="498.6" r="1.3" fill="#111"/><line x1="77.8" y1="485.2" x2="79.5" y2="485.2" stroke="#111" stroke-width="1.7" stroke-linecap="round"/><line x1="76.3" y1="557.1" x2="75.1" y2="557.0" stroke="#111" stroke-width="1.9" stroke-linecap="round"/><line x1="84.3" y1="538.5" x2="86.8" y2="539.3" stroke="#111" stroke-width="1.1" stroke-linecap="round"/><circle cx="86.8" cy="539.3" r="1.2" fill="#111"/><line x1="80.4" y1="505.3" x2="78.6" y2="504.5" stroke="#111" stroke-width="1.6" stroke-linecap="round"/><circle cx="78.6" cy="504.5" r="1.4" fill="#111"/><line x1="78.2" y1="473.9" x2="76.7" y2="474.0" stroke="#111" stroke-width="0.7" stroke-linecap="round"/><circle cx="76.7" cy="474.0" r="1.2" fill="#111"/><line x1="87.2" y1="534.0" x2="85.7" y2="533.9" stroke="#111" stroke-width="1.6" stroke-linecap="round"/><line x1="76.3" y1="557.1" x2="77.3" y2="557.1" stroke="#111" stroke-width="1.5" stroke-linecap="round"/><circle cx="77.3" cy="557.1" r="1.5" fill="#111"/><line x1="76.6" y1="559.5" x2="77.9" y2="560.2" stroke="#111" stroke-width="0.9" stroke-linecap="round"/><circle cx="77.9" cy="560.2" r="1.6" fill="#111"/><line x1="84.3" y1="538.5" x2="83.3" y2="538.4" stroke="#111" stroke-width="1.5" stroke-linecap="round"/><circle cx="83.3" cy="538.4" r="1.4" fill="#111"/><line x1="83.1" y1="519.4" x2="84.1" y2="519.7" stroke="#111" stroke-width="1.9" stroke-linecap="round"/><line x1="79.1" y1="462.6" x2="77.9" y2="463.1" stroke="#111" stroke-width="1.6" stroke-linecap="round"/><line x1="85.7" y1="529.1" x2="88.4" y2="529.0" stroke="#111" stroke-width="1.7" stroke-linecap="round"/><line x1="85.7" y1="529.1" x2="83.3" y2="530.6" stroke="#111" stroke-width="1.5" stroke-linecap="round"/><line x1="83.6" y1="521.8" x2="86.3" y2="521.6" stroke="#111" stroke-width="0.9" stroke-linecap="round"/><line x1="82.1" y1="512.4" x2="83.4" y2="512.6" stroke="#111" stroke-width="1.7" stroke-linecap="round"/><line x1="83.0" y1="540.7" x2="84.7" y2="541.2" stroke="#111" stroke-width="1.0" stroke-linecap="round"/><circle cx="84.7" cy="541.2" r="1.5" fill="#111"/><line x1="78.9" y1="460.3" x2="80.2" y2="460.7" stroke="#111" stroke-width="1.6" stroke-linecap="round"/><circle cx="80.2" cy="460.7" r="1.2" fill="#111"/><line x1="84.8" y1="526.7" x2="85.7" y2="527.1" stroke="#111" stroke-width="1.2" stroke-linecap="round"/><line x1="76.5" y1="549.7" x2="79.3" y2="550.0" stroke="#111" stroke-width="1.3" stroke-linecap="round"/><line x1="78.3" y1="491.8" x2="76.2" y2="493.4" stroke="#111" stroke-width="1.2" stroke-linecap="round"/><line x1="84.8" y1="526.7" x2="82.0" y2="526.7" stroke="#111" stroke-width="1.1" stroke-linecap="round"/><line x1="80.8" y1="503.0" x2="83.0" y2="502.6" stroke="#111" stroke-width="0.9" stroke-linecap="round"/><line x1="78.4" y1="467.1" x2="76.7" y2="468.2" stroke="#111" stroke-width="1.5" stroke-linecap="round"/><line x1="78.9" y1="460.3" x2="77.8" y2="460.3" stroke="#111" stroke-width="0.8" stroke-linecap="round"/><circle cx="77.8" cy="460.3" r="1.0" fill="#111"/><line x1="79.4" y1="494.0" x2="82.1" y2="493.2" stroke="#111" stroke-width="1.9" stroke-linecap="round"/><line x1="78.9" y1="460.3" x2="80.9" y2="458.9" stroke="#111" stroke-width="1.9" stroke-linecap="round"/><circle cx="80.9" cy="458.9" r="0.9" fill="#111"/><line x1="80.8" y1="543.0" x2="81.6" y2="542.7" stroke="#111" stroke-width="1.8" stroke-linecap="round"/>
</g></g>
<rect x="89.00" y="546.30" width="1.20" height="6.20" fill="#111" stroke="none" stroke-width="0" />
<text transform="translate(96.10,550.50) rotate(-90)" text-anchor="middle" dominant-baseline="central" fill="#111" style="font-size:6.4px;stroke:#111;stroke-width:0.32px;" >2.5 μm</text>
<line x1="129.30" y1="456.70" x2="129.30" y2="549.40" stroke="#333" stroke-width="1.25" />
<line x1="126.30" y1="548.90" x2="129.30" y2="548.90" stroke="#333" stroke-width="0.9" />
<text x="124.90" y="548.60" text-anchor="end" dominant-baseline="central" fill="#111" style="font-size:6.3px;stroke:#111;stroke-width:0.32px;letter-spacing:0.3px;" >0</text>
<line x1="126.30" y1="525.98" x2="129.30" y2="525.98" stroke="#333" stroke-width="0.9" />
<text x="124.90" y="525.68" text-anchor="end" dominant-baseline="central" fill="#111" style="font-size:6.3px;stroke:#111;stroke-width:0.32px;letter-spacing:0.3px;" >5</text>
<line x1="126.30" y1="503.05" x2="129.30" y2="503.05" stroke="#333" stroke-width="0.9" />
<text x="124.90" y="502.75" text-anchor="end" dominant-baseline="central" fill="#111" style="font-size:6.3px;stroke:#111;stroke-width:0.32px;letter-spacing:0.3px;" >10</text>
<line x1="126.30" y1="480.12" x2="129.30" y2="480.12" stroke="#333" stroke-width="0.9" />
<text x="124.90" y="479.82" text-anchor="end" dominant-baseline="central" fill="#111" style="font-size:6.3px;stroke:#111;stroke-width:0.32px;letter-spacing:0.3px;" >15</text>
<line x1="126.30" y1="457.20" x2="129.30" y2="457.20" stroke="#333" stroke-width="0.9" />
<text x="124.90" y="456.90" text-anchor="end" dominant-baseline="central" fill="#111" style="font-size:6.3px;stroke:#111;stroke-width:0.32px;letter-spacing:0.3px;" >20</text>
<rect x="131.50" y="515.89" width="9.10" height="33.01" fill="#d2d2d4" stroke="#111" stroke-width="1.2" />
<line x1="136.05" y1="513.14" x2="136.05" y2="518.64" stroke="#111" stroke-width="0.9" />
<line x1="133.85" y1="513.14" x2="138.25" y2="513.14" stroke="#111" stroke-width="0.9" />
<line x1="133.85" y1="518.64" x2="138.25" y2="518.64" stroke="#111" stroke-width="0.9" />
<text x="136.05" y="545.70" text-anchor="middle" dominant-baseline="central" fill="#fff" style="font-size:5.2px;stroke:#fff;stroke-width:0.32px;font-weight:bold;" >20</text>
<rect x="159.50" y="500.76" width="9.20" height="48.14" fill="#579f94" stroke="#111" stroke-width="1.2" />
<line x1="164.10" y1="497.09" x2="164.10" y2="504.43" stroke="#111" stroke-width="0.9" />
<line x1="161.90" y1="497.09" x2="166.30" y2="497.09" stroke="#111" stroke-width="0.9" />
<line x1="161.90" y1="504.43" x2="166.30" y2="504.43" stroke="#111" stroke-width="0.9" />
<text x="164.10" y="545.70" text-anchor="middle" dominant-baseline="central" fill="#fff" style="font-size:5.2px;stroke:#fff;stroke-width:0.32px;font-weight:bold;" >20</text>
<circle cx="150.00" cy="493.88" r="1.65" fill="#fff" stroke="#111" stroke-width="1.1"/>
<circle cx="150.00" cy="503.05" r="1.65" fill="#fff" stroke="#111" stroke-width="1.1"/>
<circle cx="147.30" cy="507.63" r="1.65" fill="#fff" stroke="#111" stroke-width="1.1"/>
<circle cx="150.00" cy="507.63" r="1.65" fill="#fff" stroke="#111" stroke-width="1.1"/>
<circle cx="152.70" cy="507.63" r="1.65" fill="#fff" stroke="#111" stroke-width="1.1"/>
<circle cx="147.30" cy="512.22" r="1.65" fill="#fff" stroke="#111" stroke-width="1.1"/>
<circle cx="150.00" cy="512.22" r="1.65" fill="#fff" stroke="#111" stroke-width="1.1"/>
<circle cx="152.70" cy="512.22" r="1.65" fill="#fff" stroke="#111" stroke-width="1.1"/>
<circle cx="145.95" cy="516.80" r="1.65" fill="#fff" stroke="#111" stroke-width="1.1"/>
<circle cx="148.65" cy="516.80" r="1.65" fill="#fff" stroke="#111" stroke-width="1.1"/>
<circle cx="151.35" cy="516.80" r="1.65" fill="#fff" stroke="#111" stroke-width="1.1"/>
<circle cx="154.05" cy="516.80" r="1.65" fill="#fff" stroke="#111" stroke-width="1.1"/>
<circle cx="147.30" cy="521.39" r="1.65" fill="#fff" stroke="#111" stroke-width="1.1"/>
<circle cx="150.00" cy="521.39" r="1.65" fill="#fff" stroke="#111" stroke-width="1.1"/>
<circle cx="152.70" cy="521.39" r="1.65" fill="#fff" stroke="#111" stroke-width="1.1"/>
<circle cx="148.65" cy="525.98" r="1.65" fill="#fff" stroke="#111" stroke-width="1.1"/>
<circle cx="151.35" cy="525.98" r="1.65" fill="#fff" stroke="#111" stroke-width="1.1"/>
<circle cx="150.00" cy="530.56" r="1.65" fill="#fff" stroke="#111" stroke-width="1.1"/>
<circle cx="150.00" cy="535.14" r="1.65" fill="#fff" stroke="#111" stroke-width="1.1"/>
<circle cx="150.00" cy="539.73" r="1.65" fill="#fff" stroke="#111" stroke-width="1.1"/>
<circle cx="178.20" cy="475.54" r="1.65" fill="#fff" stroke="#111" stroke-width="1.1"/>
<circle cx="178.20" cy="480.12" r="1.65" fill="#fff" stroke="#111" stroke-width="1.1"/>
<circle cx="174.15" cy="489.29" r="1.65" fill="#fff" stroke="#111" stroke-width="1.1"/>
<circle cx="176.85" cy="489.29" r="1.65" fill="#fff" stroke="#111" stroke-width="1.1"/>
<circle cx="179.55" cy="489.29" r="1.65" fill="#fff" stroke="#111" stroke-width="1.1"/>
<circle cx="182.25" cy="489.29" r="1.65" fill="#fff" stroke="#111" stroke-width="1.1"/>
<circle cx="176.85" cy="493.88" r="1.65" fill="#fff" stroke="#111" stroke-width="1.1"/>
<circle cx="179.55" cy="493.88" r="1.65" fill="#fff" stroke="#111" stroke-width="1.1"/>
<circle cx="176.85" cy="498.46" r="1.65" fill="#fff" stroke="#111" stroke-width="1.1"/>
<circle cx="179.55" cy="498.46" r="1.65" fill="#fff" stroke="#111" stroke-width="1.1"/>
<circle cx="172.80" cy="503.05" r="1.65" fill="#fff" stroke="#111" stroke-width="1.1"/>
<circle cx="175.50" cy="503.05" r="1.65" fill="#fff" stroke="#111" stroke-width="1.1"/>
<circle cx="178.20" cy="503.05" r="1.65" fill="#fff" stroke="#111" stroke-width="1.1"/>
<circle cx="180.90" cy="503.05" r="1.65" fill="#fff" stroke="#111" stroke-width="1.1"/>
<circle cx="183.60" cy="503.05" r="1.65" fill="#fff" stroke="#111" stroke-width="1.1"/>
<circle cx="178.20" cy="512.22" r="1.65" fill="#fff" stroke="#111" stroke-width="1.1"/>
<circle cx="176.85" cy="521.39" r="1.65" fill="#fff" stroke="#111" stroke-width="1.1"/>
<circle cx="179.55" cy="521.39" r="1.65" fill="#fff" stroke="#111" stroke-width="1.1"/>
<circle cx="176.85" cy="525.98" r="1.65" fill="#fff" stroke="#111" stroke-width="1.1"/>
<circle cx="179.55" cy="525.98" r="1.65" fill="#fff" stroke="#111" stroke-width="1.1"/>
<text x="138.20" y="556.50" text-anchor="middle" dominant-baseline="central" fill="#111" style="font-size:7.0px;stroke:#111;stroke-width:0.32px;" >mCh</text>
<text x="166.70" y="556.50" text-anchor="middle" dominant-baseline="central" fill="#111" style="font-size:7.0px;stroke:#111;stroke-width:0.32px;" >siTau</text>
<text transform="translate(109.70,503.70) rotate(-90)" text-anchor="middle" dominant-baseline="central" fill="#111" style="font-size:7.3px;stroke:#111;stroke-width:0.32px;" >Spine density (per 10 μm)</text>
<text x="148.80" y="460.50" text-anchor="middle" dominant-baseline="central" fill="#111" style="font-size:6.2px;stroke:#111;stroke-width:0.3px"><tspan style="font-style:italic">P</tspan> = 0.0018</text>
<path d="M133.50,469.90 V465.20 H163.70 V469.90" fill="none" stroke="#111" stroke-width="0.9"/>
<text x="241.90" y="443.40" text-anchor="middle" dominant-baseline="central" fill="#111" style="font-size:6.9px;stroke:#111;stroke-width:0.32px;" >CA1</text>
<text x="306.00" y="443.40" text-anchor="middle" dominant-baseline="central" fill="#111" style="font-size:6.9px;stroke:#111;stroke-width:0.32px;" >CA3</text>
<text x="368.00" y="443.40" text-anchor="middle" dominant-baseline="central" fill="#111" style="font-size:6.9px;stroke:#111;stroke-width:0.32px;" >DG</text>
<line x1="204.40" y1="449.60" x2="204.40" y2="561.70" stroke="#555" stroke-width="1.3" />
<text transform="translate(208.80,476.90) rotate(-90)" text-anchor="middle" dominant-baseline="central" fill="#111" style="font-size:6.3px;stroke:#111;stroke-width:0.32px;" >mCh</text>
<text transform="translate(208.80,533.80) rotate(-90)" text-anchor="middle" dominant-baseline="central" fill="#111" style="font-size:6.3px;stroke:#111;stroke-width:0.32px;" >siTau</text>
<text transform="translate(199.00,505.50) rotate(-90)" text-anchor="middle" dominant-baseline="central" fill="#e8304a" style="font-size:6.6px;stroke:#e8304a;stroke-width:0.32px;" >AT8</text>
<g clip-path="url(#c11)"><g filter="url(#soft)">
<rect x="214.00" y="447.90" width="56.90" height="113.80" fill="#050509" stroke="none" stroke-width="0" />
<rect x="214.00" y="447.90" width="56.90" height="113.80" fill="#000" stroke="none" stroke-width="0" filter="url(#fBg)"/>
<path d="M212.0,470.2 L273.0,470.2 L273.0,480.2 L212.0,480.2 Z" fill="#7a2848" fill-opacity="0.4" filter="url(#blur2)"/>
<path d="M212.0,470.2 L273.0,470.2 L273.0,480.2 L212.0,480.2 Z" fill="#000" filter="url(#fB)"/>
<path d="M212.0,470.2 L273.0,470.2 L273.0,480.2 L212.0,480.2 Z" fill="#000" filter="url(#fR)"/>
<path d="M212.0,527.0 L242.0,525.0 L273.0,527.0 L273.0,537.0 L242.0,535.0 L212.0,537.0 Z" fill="#502a60" fill-opacity="0.4" filter="url(#blur2)"/>
<path d="M212.0,527.0 L242.0,525.0 L273.0,527.0 L273.0,537.0 L242.0,535.0 L212.0,537.0 Z" fill="#000" filter="url(#fB)"/>
<path d="M212.0,527.0 L242.0,525.0 L273.0,527.0 L273.0,537.0 L242.0,535.0 L212.0,537.0 Z" fill="#000" filter="url(#fRm)"/>
<line x1="214.00" y1="504.80" x2="270.90" y2="504.80" stroke="#383838" stroke-width="0.5" filter="none"/>
</g></g>
<g clip-path="url(#c12)"><g filter="url(#soft)">
<rect x="278.30" y="447.90" width="56.90" height="113.80" fill="#050509" stroke="none" stroke-width="0" />
<rect x="278.30" y="447.90" width="56.90" height="113.80" fill="#000" stroke="none" stroke-width="0" filter="url(#fBg)"/>
<path d="M293.2,447.9 Q322.2,476.3 293.2,504.8 Q325.7,533.2 291.0,561.7 L316.7,561.7 Q336.7,533.2 316.7,504.8 Q336.7,476.3 316.7,447.9 Z" fill="#6a2038" fill-opacity="0.6" filter="url(#blur2)"/>
<path d="M293.2,447.9 Q322.2,476.3 293.2,504.8 Q325.7,533.2 291.0,561.7 L316.7,561.7 Q336.7,533.2 316.7,504.8 Q336.7,476.3 316.7,447.9 Z" fill="#000" filter="url(#fBs)"/>
<path d="M293.2,447.9 Q322.2,476.3 293.2,504.8 Q325.7,533.2 291.0,561.7 L316.7,561.7 Q336.7,533.2 316.7,504.8 Q336.7,476.3 316.7,447.9 Z" fill="#000" filter="url(#fR)"/>
<path d="M293.2,447.9 Q322.2,476.3 293.2,504.8 Q325.7,533.2 291.0,561.7" fill="none" stroke="#f4f4f4" stroke-width="1.0" stroke-dasharray="1.0 1.3"/>
<path d="M316.7,447.9 Q336.7,476.3 316.7,504.8 Q336.7,533.2 316.7,561.7" fill="none" stroke="#f4f4f4" stroke-width="1.0" stroke-dasharray="1.0 1.3"/>
<line x1="278.30" y1="504.80" x2="335.20" y2="504.80" stroke="#383838" stroke-width="0.5" filter="none"/>
</g></g>
<g clip-path="url(#c13)"><g filter="url(#soft)">
<rect x="342.20" y="448.00" width="57.50" height="113.40" fill="#050509" stroke="none" stroke-width="0" />
<rect x="342.20" y="448.00" width="57.50" height="113.40" fill="#000" stroke="none" stroke-width="0" filter="url(#fBg)"/>
<path d="M340.0,461.6 L401.0,450.5 L401.0,467.9 L340.0,475.5 Z" fill="#48307a" fill-opacity="0.4" filter="url(#blur2)"/>
<path d="M340.0,461.6 L401.0,450.5 L401.0,467.9 L340.0,475.5 Z" fill="#000" filter="url(#fBd)"/>
<path d="M340.0,461.6 L401.0,450.5 L401.0,467.9 L340.0,475.5 Z" fill="#000" filter="url(#fRs)"/>
<path d="M340.0,487.3 L401.0,486.6 L401.0,501.8 L340.0,500.4 Z" fill="#48307a" fill-opacity="0.4" filter="url(#blur2)"/>
<path d="M340.0,487.3 L401.0,486.6 L401.0,501.8 L340.0,500.4 Z" fill="#000" filter="url(#fBd)"/>
<path d="M340.0,487.3 L401.0,486.6 L401.0,501.8 L340.0,500.4 Z" fill="#000" filter="url(#fRs)"/>
<path d="M340.0,512.9 L401.0,507.4 L401.0,522.6 L340.0,528.2 Z" fill="#48307a" fill-opacity="0.4" filter="url(#blur2)"/>
<path d="M340.0,512.9 L401.0,507.4 L401.0,522.6 L340.0,528.2 Z" fill="#000" filter="url(#fBd)"/>
<path d="M340.0,512.9 L401.0,507.4 L401.0,522.6 L340.0,528.2 Z" fill="#000" filter="url(#fRs)"/>
<path d="M340.0,546.2 L401.0,546.2 L401.0,560.0 L340.0,560.0 Z" fill="#48307a" fill-opacity="0.4" filter="url(#blur2)"/>
<path d="M340.0,546.2 L401.0,546.2 L401.0,560.0 L340.0,560.0 Z" fill="#000" filter="url(#fBd)"/>
<path d="M340.0,546.2 L401.0,546.2 L401.0,560.0 L340.0,560.0 Z" fill="#000" filter="url(#fRs)"/>
<circle cx="354.6" cy="480.3" r="1.12" fill="#d02a3c" fill-opacity="0.9"/>
<circle cx="350.5" cy="483.8" r="0.96" fill="#d02a3c" fill-opacity="0.9"/>
<circle cx="369.9" cy="477.6" r="1.20" fill="#d02a3c" fill-opacity="0.9"/>
<circle cx="379.6" cy="472.7" r="1.12" fill="#d02a3c" fill-opacity="0.9"/>
<circle cx="383.7" cy="479.0" r="1.20" fill="#d02a3c" fill-opacity="0.9"/>
<circle cx="381.7" cy="483.1" r="1.04" fill="#d02a3c" fill-opacity="0.9"/>
<circle cx="383.0" cy="486.6" r="1.04" fill="#d02a3c" fill-opacity="0.9"/>
<circle cx="396.9" cy="478.3" r="0.96" fill="#d02a3c" fill-opacity="0.9"/>
<circle cx="363.0" cy="476.9" r="0.72" fill="#d02a3c" fill-opacity="0.9"/>
<circle cx="376.8" cy="474.1" r="0.80" fill="#d02a3c" fill-opacity="0.9"/>
<circle cx="378.2" cy="528.2" r="0.88" fill="#d02a3c" fill-opacity="0.9"/>
<circle cx="372.7" cy="526.8" r="0.72" fill="#d02a3c" fill-opacity="0.9"/>
<circle cx="391.4" cy="537.9" r="1.04" fill="#d02a3c" fill-opacity="0.9"/>
<circle cx="383.0" cy="543.4" r="1.04" fill="#d02a3c" fill-opacity="0.9"/>
<circle cx="356.0" cy="532.3" r="0.72" fill="#d02a3c" fill-opacity="0.9"/>
<circle cx="349.0" cy="533.7" r="0.64" fill="#d02a3c" fill-opacity="0.9"/>
<line x1="342.20" y1="504.70" x2="399.70" y2="504.70" stroke="#383838" stroke-width="0.5" filter="none"/>
<text x="389.00" y="553.90" text-anchor="middle" dominant-baseline="central" fill="#fff" style="font-size:5.8px;stroke:#fff;stroke-width:0.32px;font-weight:bold;" >50 μm</text>
<rect x="384.80" y="558.40" width="9.50" height="2.60" fill="#fff" stroke="none" stroke-width="0" />
</g></g>
<line x1="422.70" y1="449.60" x2="422.70" y2="561.70" stroke="#555" stroke-width="1.3" />
<text transform="translate(428.20,478.00) rotate(-90)" text-anchor="middle" dominant-baseline="central" fill="#111" style="font-size:6.3px;stroke:#111;stroke-width:0.32px;" >mCh</text>
<text transform="translate(428.20,533.80) rotate(-90)" text-anchor="middle" dominant-baseline="central" fill="#111" style="font-size:6.3px;stroke:#111;stroke-width:0.32px;" >siTau</text>
<text transform="translate(416.60,505.50) rotate(-90)" text-anchor="middle" dominant-baseline="central" fill="#20b050" style="font-size:6.6px;stroke:#20b050;stroke-width:0.32px;" >6E10</text>
<g clip-path="url(#c14)"><g filter="url(#soft)">
<rect x="433.20" y="449.10" width="56.60" height="113.00" fill="#050509" stroke="none" stroke-width="0" />
<rect x="433.20" y="449.10" width="56.60" height="113.00" fill="#000" stroke="none" stroke-width="0" filter="url(#fBg)"/>
<path d="M431.0,469.9 L460.0,469.0 L492.0,470.5 L492.0,482.5 L460.0,481.5 L431.0,482.3 Z" fill="#2a3488" fill-opacity="0.4" filter="url(#blur2)"/>
<path d="M431.0,469.9 L460.0,469.0 L492.0,470.5 L492.0,482.5 L460.0,481.5 L431.0,482.3 Z" fill="#000" filter="url(#fB)"/>
<path d="M431.0,529.0 L460.0,527.0 L492.0,529.0 L492.0,539.3 L460.0,537.5 L431.0,539.3 Z" fill="#2a3488" fill-opacity="0.4" filter="url(#blur2)"/>
<path d="M431.0,529.0 L460.0,527.0 L492.0,529.0 L492.0,539.3 L460.0,537.5 L431.0,539.3 Z" fill="#000" filter="url(#fB)"/>
<circle cx="478.8" cy="464.7" r="3.4" fill="#2a9a50" fill-opacity="0.45" filter="url(#blur1)"/>
<circle cx="477.8" cy="464.7" r="0.8" fill="#48c868"/>
<circle cx="478.6" cy="465.2" r="0.7" fill="#40b860"/>
<circle cx="478.2" cy="464.8" r="0.6" fill="#58d890"/>
<circle cx="478.7" cy="465.0" r="0.7" fill="#48b8b0"/>
<circle cx="479.8" cy="463.9" r="0.7" fill="#48c868"/>
<circle cx="478.4" cy="465.4" r="0.5" fill="#40b860"/>
<circle cx="478.7" cy="464.2" r="0.5" fill="#58d890"/>
<circle cx="455.0" cy="453.3" r="1.7" fill="#2a9a50" fill-opacity="0.45" filter="url(#blur1)"/>
<circle cx="455.3" cy="453.3" r="0.8" fill="#48c868"/>
<circle cx="454.5" cy="452.8" r="0.7" fill="#40b860"/>
<circle cx="455.3" cy="453.9" r="0.5" fill="#58d890"/>
<circle cx="454.9" cy="453.4" r="0.4" fill="#48b8b0"/>
<circle cx="455.0" cy="465.7" r="1.9" fill="#2a9a50" fill-opacity="0.45" filter="url(#blur1)"/>
<circle cx="455.0" cy="465.7" r="0.6" fill="#48c868"/>
<circle cx="455.6" cy="464.9" r="0.6" fill="#40b860"/>
<circle cx="455.3" cy="465.9" r="0.4" fill="#58d890"/>
<circle cx="455.1" cy="466.3" r="0.7" fill="#48b8b0"/>
<circle cx="455.5" cy="465.8" r="0.6" fill="#48c868"/>
<circle cx="464.3" cy="484.4" r="2.3" fill="#2a9a50" fill-opacity="0.45" filter="url(#blur1)"/>
<circle cx="464.2" cy="484.5" r="0.6" fill="#48c868"/>
<circle cx="465.0" cy="484.9" r="0.7" fill="#40b860"/>
<circle cx="464.0" cy="484.0" r="0.8" fill="#58d890"/>
<circle cx="464.1" cy="484.6" r="0.6" fill="#48b8b0"/>
<circle cx="464.5" cy="484.3" r="0.7" fill="#48c868"/>
<circle cx="483.0" cy="502.0" r="1.9" fill="#2a9a50" fill-opacity="0.45" filter="url(#blur1)"/>
<circle cx="483.8" cy="501.7" r="0.6" fill="#48c868"/>
<circle cx="482.2" cy="502.3" r="0.7" fill="#40b860"/>
<circle cx="483.1" cy="501.8" r="0.7" fill="#58d890"/>
<circle cx="483.0" cy="501.8" r="0.5" fill="#48b8b0"/>
<circle cx="483.3" cy="501.5" r="0.6" fill="#48c868"/>
<circle cx="461.2" cy="518.6" r="2.1" fill="#2a9a50" fill-opacity="0.45" filter="url(#blur1)"/>
<circle cx="460.9" cy="518.6" r="0.5" fill="#48c868"/>
<circle cx="461.5" cy="518.9" r="0.5" fill="#40b860"/>
<circle cx="462.0" cy="518.0" r="0.7" fill="#58d890"/>
<circle cx="461.8" cy="519.0" r="0.5" fill="#48b8b0"/>
<circle cx="461.1" cy="518.7" r="0.6" fill="#48c868"/>
<circle cx="443.5" cy="492.7" r="1.5" fill="#2a9a50" fill-opacity="0.45" filter="url(#blur1)"/>
<circle cx="443.7" cy="492.8" r="0.5" fill="#48c868"/>
<circle cx="442.8" cy="492.9" r="0.7" fill="#40b860"/>
<circle cx="443.6" cy="492.1" r="0.6" fill="#58d890"/>
<circle cx="443.5" cy="492.7" r="0.5" fill="#48b8b0"/>
<line x1="433.20" y1="505.60" x2="489.80" y2="505.60" stroke="#383838" stroke-width="0.5" filter="none"/>
</g></g>
<g clip-path="url(#c15)"><g filter="url(#soft)">
<rect x="498.50" y="449.10" width="56.00" height="113.00" fill="#050509" stroke="none" stroke-width="0" />
<rect x="498.50" y="449.10" width="56.00" height="113.00" fill="#000" stroke="none" stroke-width="0" filter="url(#fBg)"/>
<path d="M514.0,449.1 Q540.5,477.4 515.0,505.6 Q546.3,533.9 519.2,562.1 L541.0,562.1 Q558.0,533.9 537.9,505.6 Q559.2,477.4 534.8,449.1 Z" fill="#1c2260" fill-opacity="0.12" filter="url(#blur2)"/>
<path d="M514.0,449.1 Q540.5,477.4 515.0,505.6 Q546.3,533.9 519.2,562.1 L541.0,562.1 Q558.0,533.9 537.9,505.6 Q559.2,477.4 534.8,449.1 Z" fill="#000" filter="url(#fBm)"/>
<path d="M514.0,449.1 Q540.5,477.4 515.0,505.6 Q546.3,533.9 519.2,562.1" fill="none" stroke="#f4f4f4" stroke-width="1.0" stroke-dasharray="1.0 1.3"/>
<path d="M534.8,449.1 Q559.2,477.4 537.9,505.6 Q558.0,533.9 541.0,562.1" fill="none" stroke="#f4f4f4" stroke-width="1.0" stroke-dasharray="1.0 1.3"/>
<circle cx="509.9" cy="491.7" r="3.6" fill="#2a9a50" fill-opacity="0.45" filter="url(#blur1)"/>
<circle cx="510.2" cy="491.6" r="0.8" fill="#48c868"/>
<circle cx="510.0" cy="492.6" r="0.8" fill="#40b860"/>
<circle cx="509.3" cy="492.5" r="0.5" fill="#58d890"/>
<circle cx="511.7" cy="491.2" r="0.5" fill="#48b8b0"/>
<circle cx="510.5" cy="492.3" r="0.6" fill="#48c868"/>
<circle cx="510.0" cy="491.1" r="0.7" fill="#40b860"/>
<circle cx="510.1" cy="492.0" r="0.4" fill="#58d890"/>
<circle cx="512.0" cy="522.8" r="1.9" fill="#2a9a50" fill-opacity="0.45" filter="url(#blur1)"/>
<circle cx="511.5" cy="522.6" r="0.7" fill="#48c868"/>
<circle cx="512.3" cy="522.7" r="0.6" fill="#40b860"/>
<circle cx="511.1" cy="523.0" r="0.5" fill="#58d890"/>
<circle cx="511.9" cy="523.2" r="0.7" fill="#48b8b0"/>
<circle cx="512.0" cy="523.0" r="0.7" fill="#48c868"/>
<line x1="498.50" y1="505.60" x2="554.50" y2="505.60" stroke="#383838" stroke-width="0.5" filter="none"/>
</g></g>
<g clip-path="url(#c16)"><g filter="url(#soft)">
<rect x="562.20" y="449.20" width="56.80" height="112.90" fill="#050509" stroke="none" stroke-width="0" />
<rect x="562.20" y="449.20" width="56.80" height="112.90" fill="#000" stroke="none" stroke-width="0" filter="url(#fBg)"/>
<path d="M560.0,463.0 L621.0,452.6 L621.0,465.8 L560.0,476.2 Z" fill="#2a3488" fill-opacity="0.4" filter="url(#blur2)"/>
<path d="M560.0,463.0 L621.0,452.6 L621.0,465.8 L560.0,476.2 Z" fill="#000" filter="url(#fB)"/>
<path d="M560.0,491.4 L621.0,491.0 L621.0,501.5 L560.0,501.8 Z" fill="#2a3488" fill-opacity="0.4" filter="url(#blur2)"/>
<path d="M560.0,491.4 L621.0,491.0 L621.0,501.5 L560.0,501.8 Z" fill="#000" filter="url(#fB)"/>
<path d="M560.0,517.1 L621.0,508.8 L621.0,520.5 L560.0,530.9 Z" fill="#2a3488" fill-opacity="0.4" filter="url(#blur2)"/>
<path d="M560.0,517.1 L621.0,508.8 L621.0,520.5 L560.0,530.9 Z" fill="#000" filter="url(#fB)"/>
<path d="M560.0,544.8 L621.0,544.8 L621.0,560.0 L560.0,560.0 Z" fill="#2a3488" fill-opacity="0.4" filter="url(#blur2)"/>
<path d="M560.0,544.8 L621.0,544.8 L621.0,560.0 L560.0,560.0 Z" fill="#000" filter="url(#fB)"/>
<circle cx="585.0" cy="450.5" r="1.7" fill="#2a9a50" fill-opacity="0.45" filter="url(#blur1)"/>
<circle cx="584.8" cy="450.6" r="0.8" fill="#48c868"/>
<circle cx="584.9" cy="450.5" r="0.7" fill="#40b860"/>
<circle cx="585.2" cy="450.6" r="0.4" fill="#58d890"/>
<circle cx="584.5" cy="450.0" r="0.7" fill="#48b8b0"/>
<circle cx="572.6" cy="454.7" r="1.7" fill="#2a9a50" fill-opacity="0.45" filter="url(#blur1)"/>
<circle cx="572.7" cy="455.4" r="0.8" fill="#48c868"/>
<circle cx="572.5" cy="454.9" r="0.7" fill="#40b860"/>
<circle cx="573.4" cy="454.6" r="0.8" fill="#58d890"/>
<circle cx="572.6" cy="454.5" r="0.7" fill="#48b8b0"/>
<circle cx="583.0" cy="478.3" r="2.5" fill="#2a9a50" fill-opacity="0.45" filter="url(#blur1)"/>
<circle cx="582.3" cy="478.7" r="0.6" fill="#48c868"/>
<circle cx="583.3" cy="479.4" r="0.4" fill="#40b860"/>
<circle cx="582.8" cy="478.7" r="0.8" fill="#58d890"/>
<circle cx="583.6" cy="478.8" r="0.8" fill="#48b8b0"/>
<circle cx="582.1" cy="477.5" r="0.6" fill="#48c868"/>
<circle cx="578.8" cy="480.3" r="1.7" fill="#2a9a50" fill-opacity="0.45" filter="url(#blur1)"/>
<circle cx="578.5" cy="480.4" r="0.6" fill="#48c868"/>
<circle cx="578.8" cy="480.4" r="0.8" fill="#40b860"/>
<circle cx="578.7" cy="479.7" r="0.6" fill="#58d890"/>
<circle cx="578.9" cy="480.5" r="0.8" fill="#48b8b0"/>
<circle cx="601.0" cy="478.3" r="3.0" fill="#2a9a50" fill-opacity="0.45" filter="url(#blur1)"/>
<circle cx="601.3" cy="477.6" r="0.7" fill="#48c868"/>
<circle cx="601.1" cy="478.3" r="0.6" fill="#40b860"/>
<circle cx="600.6" cy="478.6" r="0.6" fill="#58d890"/>
<circle cx="600.9" cy="478.5" r="0.8" fill="#48b8b0"/>
<circle cx="599.9" cy="478.9" r="0.5" fill="#48c868"/>
<circle cx="600.7" cy="479.0" r="0.4" fill="#40b860"/>
<circle cx="605.8" cy="464.4" r="1.5" fill="#2a9a50" fill-opacity="0.45" filter="url(#blur1)"/>
<circle cx="605.7" cy="464.5" r="0.6" fill="#48c868"/>
<circle cx="605.6" cy="465.0" r="0.6" fill="#40b860"/>
<circle cx="605.8" cy="464.9" r="0.6" fill="#58d890"/>
<circle cx="605.9" cy="465.0" r="0.7" fill="#48b8b0"/>
<circle cx="587.8" cy="490.7" r="2.3" fill="#2a9a50" fill-opacity="0.45" filter="url(#blur1)"/>
<circle cx="588.4" cy="490.8" r="0.6" fill="#48c868"/>
<circle cx="588.8" cy="491.3" r="0.7" fill="#40b860"/>
<circle cx="588.4" cy="490.7" r="0.6" fill="#58d890"/>
<circle cx="588.2" cy="491.4" r="0.6" fill="#48b8b0"/>
<circle cx="588.2" cy="491.6" r="0.7" fill="#48c868"/>
<circle cx="612.0" cy="488.0" r="2.1" fill="#2a9a50" fill-opacity="0.45" filter="url(#blur1)"/>
<circle cx="612.9" cy="488.6" r="0.6" fill="#48c868"/>
<circle cx="612.4" cy="487.8" r="0.4" fill="#40b860"/>
<circle cx="611.6" cy="487.9" r="0.8" fill="#58d890"/>
<circle cx="611.6" cy="488.0" r="0.6" fill="#48b8b0"/>
<circle cx="611.2" cy="488.1" r="0.8" fill="#48c868"/>
<circle cx="576.0" cy="514.3" r="1.9" fill="#2a9a50" fill-opacity="0.45" filter="url(#blur1)"/>
<circle cx="575.9" cy="514.4" r="0.4" fill="#48c868"/>
<circle cx="575.8" cy="514.2" r="0.8" fill="#40b860"/>
<circle cx="575.2" cy="514.7" r="0.4" fill="#58d890"/>
<circle cx="576.1" cy="514.2" r="0.5" fill="#48b8b0"/>
<circle cx="575.8" cy="514.5" r="0.6" fill="#48c868"/>
<circle cx="606.5" cy="532.3" r="1.5" fill="#2a9a50" fill-opacity="0.45" filter="url(#blur1)"/>
<circle cx="606.0" cy="532.3" r="0.4" fill="#48c868"/>
<circle cx="606.3" cy="532.1" r="0.7" fill="#40b860"/>
<circle cx="606.3" cy="532.9" r="0.5" fill="#58d890"/>
<circle cx="607.0" cy="532.6" r="0.7" fill="#48b8b0"/>
<circle cx="605.1" cy="537.2" r="1.5" fill="#2a9a50" fill-opacity="0.45" filter="url(#blur1)"/>
<circle cx="605.2" cy="537.4" r="0.6" fill="#48c868"/>
<circle cx="605.2" cy="537.6" r="0.6" fill="#40b860"/>
<circle cx="604.6" cy="536.9" r="0.5" fill="#58d890"/>
<circle cx="605.0" cy="537.7" r="0.7" fill="#48b8b0"/>
<circle cx="605.8" cy="546.2" r="2.5" fill="#2a9a50" fill-opacity="0.45" filter="url(#blur1)"/>
<circle cx="605.7" cy="545.9" r="0.5" fill="#48c868"/>
<circle cx="606.2" cy="546.3" r="0.5" fill="#40b860"/>
<circle cx="605.8" cy="545.8" r="0.8" fill="#58d890"/>
<circle cx="606.1" cy="546.4" r="0.6" fill="#48b8b0"/>
<circle cx="605.9" cy="546.8" r="0.8" fill="#48c868"/>
<circle cx="587.8" cy="540.6" r="1.3" fill="#2a9a50" fill-opacity="0.45" filter="url(#blur1)"/>
<circle cx="587.7" cy="540.6" r="0.7" fill="#48c868"/>
<circle cx="587.2" cy="540.5" r="0.4" fill="#40b860"/>
<circle cx="587.8" cy="540.2" r="0.5" fill="#58d890"/>
<circle cx="587.8" cy="540.6" r="0.8" fill="#48b8b0"/>
<circle cx="596.1" cy="542.7" r="1.3" fill="#2a9a50" fill-opacity="0.45" filter="url(#blur1)"/>
<circle cx="596.0" cy="543.0" r="0.7" fill="#48c868"/>
<circle cx="596.1" cy="542.3" r="0.6" fill="#40b860"/>
<circle cx="595.9" cy="542.4" r="0.5" fill="#58d890"/>
<circle cx="596.2" cy="542.6" r="0.5" fill="#48b8b0"/>
<circle cx="616.9" cy="515.7" r="1.3" fill="#2a9a50" fill-opacity="0.45" filter="url(#blur1)"/>
<circle cx="616.6" cy="515.8" r="0.4" fill="#48c868"/>
<circle cx="616.9" cy="515.0" r="0.7" fill="#40b860"/>
<circle cx="616.7" cy="515.6" r="0.5" fill="#58d890"/>
<circle cx="616.6" cy="516.1" r="0.8" fill="#48b8b0"/>
<line x1="562.20" y1="505.65" x2="619.00" y2="505.65" stroke="#383838" stroke-width="0.5" filter="none"/>
<text x="608.00" y="553.00" text-anchor="middle" dominant-baseline="central" fill="#fff" style="font-size:5.8px;stroke:#fff;stroke-width:0.32px;font-weight:bold;" >50 μm</text>
<rect x="603.80" y="557.50" width="9.50" height="2.60" fill="#fff" stroke="none" stroke-width="0" />
</g></g>
<rect x="5.10" y="569.00" width="615.60" height="10.80" fill="#bebec0" stroke="none" stroke-width="0" />
<text x="187" y="574.4" dominant-baseline="central" textLength="239" lengthAdjust="spacing" fill="#111" style="font-size:7.5px;stroke:#111;stroke-width:0.2px">Knockdown of <tspan style="font-style:italic">Maf</tspan> in spinal cord CCK neurons in 3×Tg; CCK-Cre mice</text>
<text x="8.70" y="593.80" text-anchor="middle" fill="#000" style="font-size:12.8px;font-weight:bold;stroke:#000;stroke-width:0.35px">r</text>
<text x="99.40" y="593.80" text-anchor="middle" fill="#000" style="font-size:12.8px;font-weight:bold;stroke:#000;stroke-width:0.35px">s</text>
<text x="186.30" y="593.80" text-anchor="middle" fill="#000" style="font-size:12.8px;font-weight:bold;stroke:#000;stroke-width:0.35px">t</text>
<text x="277.30" y="593.80" text-anchor="middle" fill="#000" style="font-size:12.8px;font-weight:bold;stroke:#000;stroke-width:0.35px">u</text>
<text x="367.00" y="593.80" text-anchor="middle" fill="#000" style="font-size:12.8px;font-weight:bold;stroke:#000;stroke-width:0.35px">v</text>
<text x="448.30" y="593.80" text-anchor="middle" fill="#000" style="font-size:12.8px;font-weight:bold;stroke:#000;stroke-width:0.35px">w</text>
<text x="544.00" y="593.80" text-anchor="middle" fill="#000" style="font-size:12.8px;font-weight:bold;stroke:#000;stroke-width:0.35px">x</text>
<line x1="31.60" y1="601.70" x2="31.60" y2="695.10" stroke="#333" stroke-width="1.25" />
<line x1="28.60" y1="694.60" x2="31.60" y2="694.60" stroke="#333" stroke-width="0.9" />
<text x="27.20" y="694.30" text-anchor="end" dominant-baseline="central" fill="#111" style="font-size:6.3px;stroke:#111;stroke-width:0.32px;letter-spacing:0.3px;" >0</text>
<line x1="28.60" y1="671.50" x2="31.60" y2="671.50" stroke="#333" stroke-width="0.9" />
<text x="27.20" y="671.20" text-anchor="end" dominant-baseline="central" fill="#111" style="font-size:6.3px;stroke:#111;stroke-width:0.32px;letter-spacing:0.3px;" >5</text>
<line x1="28.60" y1="648.40" x2="31.60" y2="648.40" stroke="#333" stroke-width="0.9" />
<text x="27.20" y="648.10" text-anchor="end" dominant-baseline="central" fill="#111" style="font-size:6.3px;stroke:#111;stroke-width:0.32px;letter-spacing:0.3px;" >10</text>
<line x1="28.60" y1="625.30" x2="31.60" y2="625.30" stroke="#333" stroke-width="0.9" />
<text x="27.20" y="625.00" text-anchor="end" dominant-baseline="central" fill="#111" style="font-size:6.3px;stroke:#111;stroke-width:0.32px;letter-spacing:0.3px;" >15</text>
<line x1="28.60" y1="602.20" x2="31.60" y2="602.20" stroke="#333" stroke-width="0.9" />
<text x="27.20" y="601.90" text-anchor="end" dominant-baseline="central" fill="#111" style="font-size:6.3px;stroke:#111;stroke-width:0.32px;letter-spacing:0.3px;" >20</text>
<rect x="36.40" y="677.04" width="9.70" height="17.56" fill="#d2d2d4" stroke="#111" stroke-width="1.2" />
<line x1="41.25" y1="674.27" x2="41.25" y2="679.82" stroke="#111" stroke-width="0.9" />
<line x1="39.05" y1="674.27" x2="43.45" y2="674.27" stroke="#111" stroke-width="0.9" />
<line x1="39.05" y1="679.82" x2="43.45" y2="679.82" stroke="#111" stroke-width="0.9" />
<text x="41.25" y="691.40" text-anchor="middle" dominant-baseline="central" fill="#fff" style="font-size:5.2px;stroke:#fff;stroke-width:0.32px;font-weight:bold;" >16</text>
<rect x="65.50" y="654.41" width="9.30" height="40.19" fill="#579f94" stroke="#111" stroke-width="1.2" />
<line x1="70.15" y1="650.25" x2="70.15" y2="658.56" stroke="#111" stroke-width="0.9" />
<line x1="67.95" y1="650.25" x2="72.35" y2="650.25" stroke="#111" stroke-width="0.9" />
<line x1="67.95" y1="658.56" x2="72.35" y2="658.56" stroke="#111" stroke-width="0.9" />
<text x="70.15" y="691.40" text-anchor="middle" dominant-baseline="central" fill="#fff" style="font-size:5.2px;stroke:#fff;stroke-width:0.32px;font-weight:bold;" >16</text>
<circle cx="55.30" cy="653.02" r="1.65" fill="#fff" stroke="#111" stroke-width="1.1"/>
<circle cx="55.30" cy="662.26" r="1.65" fill="#fff" stroke="#111" stroke-width="1.1"/>
<circle cx="55.30" cy="666.88" r="1.65" fill="#fff" stroke="#111" stroke-width="1.1"/>
<circle cx="55.30" cy="671.50" r="1.65" fill="#fff" stroke="#111" stroke-width="1.1"/>
<circle cx="55.30" cy="676.12" r="1.65" fill="#fff" stroke="#111" stroke-width="1.1"/>
<circle cx="51.25" cy="680.74" r="1.65" fill="#fff" stroke="#111" stroke-width="1.1"/>
<circle cx="53.95" cy="680.74" r="1.65" fill="#fff" stroke="#111" stroke-width="1.1"/>
<circle cx="56.65" cy="680.74" r="1.65" fill="#fff" stroke="#111" stroke-width="1.1"/>
<circle cx="59.35" cy="680.74" r="1.65" fill="#fff" stroke="#111" stroke-width="1.1"/>
<circle cx="52.60" cy="685.36" r="1.65" fill="#fff" stroke="#111" stroke-width="1.1"/>
<circle cx="55.30" cy="685.36" r="1.65" fill="#fff" stroke="#111" stroke-width="1.1"/>
<circle cx="58.00" cy="685.36" r="1.65" fill="#fff" stroke="#111" stroke-width="1.1"/>
<circle cx="53.95" cy="689.98" r="1.65" fill="#fff" stroke="#111" stroke-width="1.1"/>
<circle cx="56.65" cy="689.98" r="1.65" fill="#fff" stroke="#111" stroke-width="1.1"/>
<circle cx="83.80" cy="616.06" r="1.65" fill="#fff" stroke="#111" stroke-width="1.1"/>
<circle cx="82.45" cy="639.16" r="1.65" fill="#fff" stroke="#111" stroke-width="1.1"/>
<circle cx="85.15" cy="639.16" r="1.65" fill="#fff" stroke="#111" stroke-width="1.1"/>
<circle cx="81.10" cy="643.78" r="1.65" fill="#fff" stroke="#111" stroke-width="1.1"/>
<circle cx="83.80" cy="643.78" r="1.65" fill="#fff" stroke="#111" stroke-width="1.1"/>
<circle cx="86.50" cy="643.78" r="1.65" fill="#fff" stroke="#111" stroke-width="1.1"/>
<circle cx="82.45" cy="653.02" r="1.65" fill="#fff" stroke="#111" stroke-width="1.1"/>
<circle cx="85.15" cy="653.02" r="1.65" fill="#fff" stroke="#111" stroke-width="1.1"/>
<circle cx="82.45" cy="657.64" r="1.65" fill="#fff" stroke="#111" stroke-width="1.1"/>
<circle cx="85.15" cy="657.64" r="1.65" fill="#fff" stroke="#111" stroke-width="1.1"/>
<circle cx="83.80" cy="662.26" r="1.65" fill="#fff" stroke="#111" stroke-width="1.1"/>
<circle cx="81.10" cy="666.88" r="1.65" fill="#fff" stroke="#111" stroke-width="1.1"/>
<circle cx="83.80" cy="666.88" r="1.65" fill="#fff" stroke="#111" stroke-width="1.1"/>
<circle cx="86.50" cy="666.88" r="1.65" fill="#fff" stroke="#111" stroke-width="1.1"/>
<circle cx="82.45" cy="676.12" r="1.65" fill="#fff" stroke="#111" stroke-width="1.1"/>
<circle cx="85.15" cy="676.12" r="1.65" fill="#fff" stroke="#111" stroke-width="1.1"/>
<text x="44.00" y="701.00" text-anchor="middle" dominant-baseline="central" fill="#111" style="font-size:7.0px;stroke:#111;stroke-width:0.32px;" >GFP</text>
<text x="73.60" y="701.00" text-anchor="middle" dominant-baseline="central" fill="#111" style="font-size:7.0px;stroke:#111;stroke-width:0.32px;" >sgc-Maf</text>
<text transform="translate(9.40,648.80) rotate(-90)" text-anchor="middle" dominant-baseline="central" fill="#111" style="font-size:7.3px;stroke:#111;stroke-width:0.32px;" >No. responses</text>
<text x="53.20" y="600.70" text-anchor="middle" dominant-baseline="central" fill="#111" style="font-size:6.2px;stroke:#111;stroke-width:0.3px"><tspan style="font-style:italic">P</tspan> < 0.0001</text>
<path d="M38.30,609.40 V605.90 H66.70 V609.40" fill="none" stroke="#111" stroke-width="0.9"/>
<line x1="123.20" y1="602.20" x2="123.20" y2="695.10" stroke="#333" stroke-width="1.25" />
<line x1="120.20" y1="694.60" x2="123.20" y2="694.60" stroke="#333" stroke-width="0.9" />
<text x="118.80" y="694.30" text-anchor="end" dominant-baseline="central" fill="#111" style="font-size:6.3px;stroke:#111;stroke-width:0.32px;letter-spacing:0.3px;" >0</text>
<line x1="120.20" y1="671.62" x2="123.20" y2="671.62" stroke="#333" stroke-width="0.9" />
<text x="118.80" y="671.33" text-anchor="end" dominant-baseline="central" fill="#111" style="font-size:6.3px;stroke:#111;stroke-width:0.32px;letter-spacing:0.3px;" >25</text>
<line x1="120.20" y1="648.65" x2="123.20" y2="648.65" stroke="#333" stroke-width="0.9" />
<text x="118.80" y="648.35" text-anchor="end" dominant-baseline="central" fill="#111" style="font-size:6.3px;stroke:#111;stroke-width:0.32px;letter-spacing:0.3px;" >50</text>
<line x1="120.20" y1="625.68" x2="123.20" y2="625.68" stroke="#333" stroke-width="0.9" />
<text x="118.80" y="625.38" text-anchor="end" dominant-baseline="central" fill="#111" style="font-size:6.3px;stroke:#111;stroke-width:0.32px;letter-spacing:0.3px;" >75</text>
<line x1="120.20" y1="602.70" x2="123.20" y2="602.70" stroke="#333" stroke-width="0.9" />
<text x="118.80" y="602.40" text-anchor="end" dominant-baseline="central" fill="#111" style="font-size:6.3px;stroke:#111;stroke-width:0.32px;letter-spacing:0.3px;" >100</text>
<line x1="122.60" y1="694.60" x2="177.40" y2="694.60" stroke="#333" stroke-width="1.25" />
<line x1="125.90" y1="694.60" x2="125.90" y2="697.20" stroke="#222" stroke-width="1.0" />
<line x1="132.90" y1="694.60" x2="132.90" y2="697.20" stroke="#222" stroke-width="1.0" />
<line x1="139.80" y1="694.60" x2="139.80" y2="697.20" stroke="#222" stroke-width="1.0" />
<line x1="146.60" y1="694.60" x2="146.60" y2="697.20" stroke="#222" stroke-width="1.0" />
<line x1="153.60" y1="694.60" x2="153.60" y2="697.20" stroke="#222" stroke-width="1.0" />
<line x1="160.70" y1="694.60" x2="160.70" y2="697.20" stroke="#222" stroke-width="1.0" />
<line x1="167.70" y1="694.60" x2="167.70" y2="697.20" stroke="#222" stroke-width="1.0" />
<line x1="174.50" y1="694.60" x2="174.50" y2="697.20" stroke="#222" stroke-width="1.0" />
<polyline points="125.90,692.76 132.90,688.17 139.80,688.17 146.60,684.49 153.60,681.73 160.70,672.54 167.70,658.76 174.50,616.49" fill="none" stroke="#707070" stroke-width="1.1"/>
<circle cx="125.90" cy="692.76" r="2.1" fill="#fff" fill-opacity="0.5" stroke="#707070" stroke-width="1.1"/>
<line x1="132.90" y1="687.25" x2="132.90" y2="689.09" stroke="#707070" stroke-width="0.9" />
<line x1="131.70" y1="687.25" x2="134.10" y2="687.25" stroke="#707070" stroke-width="0.8" />
<line x1="131.70" y1="689.09" x2="134.10" y2="689.09" stroke="#707070" stroke-width="0.8" />
<circle cx="132.90" cy="688.17" r="2.1" fill="#fff" fill-opacity="0.5" stroke="#707070" stroke-width="1.1"/>
<line x1="139.80" y1="687.25" x2="139.80" y2="689.09" stroke="#707070" stroke-width="0.9" />
<line x1="138.60" y1="687.25" x2="141.00" y2="687.25" stroke="#707070" stroke-width="0.8" />
<line x1="138.60" y1="689.09" x2="141.00" y2="689.09" stroke="#707070" stroke-width="0.8" />
<circle cx="139.80" cy="688.17" r="2.1" fill="#fff" fill-opacity="0.5" stroke="#707070" stroke-width="1.1"/>
<line x1="146.60" y1="681.73" x2="146.60" y2="687.25" stroke="#707070" stroke-width="0.9" />
<line x1="145.40" y1="681.73" x2="147.80" y2="681.73" stroke="#707070" stroke-width="0.8" />
<line x1="145.40" y1="687.25" x2="147.80" y2="687.25" stroke="#707070" stroke-width="0.8" />
<circle cx="146.60" cy="684.49" r="2.1" fill="#fff" fill-opacity="0.5" stroke="#707070" stroke-width="1.1"/>
<line x1="153.60" y1="679.90" x2="153.60" y2="683.57" stroke="#707070" stroke-width="0.9" />
<line x1="152.40" y1="679.90" x2="154.80" y2="679.90" stroke="#707070" stroke-width="0.8" />
<line x1="152.40" y1="683.57" x2="154.80" y2="683.57" stroke="#707070" stroke-width="0.8" />
<circle cx="153.60" cy="681.73" r="2.1" fill="#fff" fill-opacity="0.5" stroke="#707070" stroke-width="1.1"/>
<line x1="160.70" y1="670.71" x2="160.70" y2="674.38" stroke="#707070" stroke-width="0.9" />
<line x1="159.50" y1="670.71" x2="161.90" y2="670.71" stroke="#707070" stroke-width="0.8" />
<line x1="159.50" y1="674.38" x2="161.90" y2="674.38" stroke="#707070" stroke-width="0.8" />
<circle cx="160.70" cy="672.54" r="2.1" fill="#fff" fill-opacity="0.5" stroke="#707070" stroke-width="1.1"/>
<line x1="167.70" y1="656.00" x2="167.70" y2="661.52" stroke="#707070" stroke-width="0.9" />
<line x1="166.50" y1="656.00" x2="168.90" y2="656.00" stroke="#707070" stroke-width="0.8" />
<line x1="166.50" y1="661.52" x2="168.90" y2="661.52" stroke="#707070" stroke-width="0.8" />
<circle cx="167.70" cy="658.76" r="2.1" fill="#fff" fill-opacity="0.5" stroke="#707070" stroke-width="1.1"/>
<line x1="174.50" y1="614.65" x2="174.50" y2="618.32" stroke="#707070" stroke-width="0.9" />
<line x1="173.30" y1="614.65" x2="175.70" y2="614.65" stroke="#707070" stroke-width="0.8" />
<line x1="173.30" y1="618.32" x2="175.70" y2="618.32" stroke="#707070" stroke-width="0.8" />
<circle cx="174.50" cy="616.49" r="2.1" fill="#fff" fill-opacity="0.5" stroke="#707070" stroke-width="1.1"/>
<polyline points="125.90,691.84 132.90,687.25 139.80,678.98 146.60,674.38 153.60,667.03 160.70,655.08 167.70,646.81 174.50,614.65" fill="none" stroke="#5bb0a8" stroke-width="1.1"/>
<circle cx="125.90" cy="691.84" r="2.1" fill="#fff" fill-opacity="0.5" stroke="#5bb0a8" stroke-width="1.1"/>
<line x1="132.90" y1="686.33" x2="132.90" y2="688.17" stroke="#5bb0a8" stroke-width="0.9" />
<line x1="131.70" y1="686.33" x2="134.10" y2="686.33" stroke="#5bb0a8" stroke-width="0.8" />
<line x1="131.70" y1="688.17" x2="134.10" y2="688.17" stroke="#5bb0a8" stroke-width="0.8" />
<circle cx="132.90" cy="687.25" r="2.1" fill="#fff" fill-opacity="0.5" stroke="#5bb0a8" stroke-width="1.1"/>
<line x1="139.80" y1="676.22" x2="139.80" y2="681.73" stroke="#5bb0a8" stroke-width="0.9" />
<line x1="138.60" y1="676.22" x2="141.00" y2="676.22" stroke="#5bb0a8" stroke-width="0.8" />
<line x1="138.60" y1="681.73" x2="141.00" y2="681.73" stroke="#5bb0a8" stroke-width="0.8" />
<circle cx="139.80" cy="678.98" r="2.1" fill="#fff" fill-opacity="0.5" stroke="#5bb0a8" stroke-width="1.1"/>
<line x1="146.60" y1="672.54" x2="146.60" y2="676.22" stroke="#5bb0a8" stroke-width="0.9" />
<line x1="145.40" y1="672.54" x2="147.80" y2="672.54" stroke="#5bb0a8" stroke-width="0.8" />
<line x1="145.40" y1="676.22" x2="147.80" y2="676.22" stroke="#5bb0a8" stroke-width="0.8" />
<circle cx="146.60" cy="674.38" r="2.1" fill="#fff" fill-opacity="0.5" stroke="#5bb0a8" stroke-width="1.1"/>
<line x1="153.60" y1="664.27" x2="153.60" y2="669.79" stroke="#5bb0a8" stroke-width="0.9" />
<line x1="152.40" y1="664.27" x2="154.80" y2="664.27" stroke="#5bb0a8" stroke-width="0.8" />
<line x1="152.40" y1="669.79" x2="154.80" y2="669.79" stroke="#5bb0a8" stroke-width="0.8" />
<circle cx="153.60" cy="667.03" r="2.1" fill="#fff" fill-opacity="0.5" stroke="#5bb0a8" stroke-width="1.1"/>
<line x1="160.70" y1="652.33" x2="160.70" y2="657.84" stroke="#5bb0a8" stroke-width="0.9" />
<line x1="159.50" y1="652.33" x2="161.90" y2="652.33" stroke="#5bb0a8" stroke-width="0.8" />
<line x1="159.50" y1="657.84" x2="161.90" y2="657.84" stroke="#5bb0a8" stroke-width="0.8" />
<circle cx="160.70" cy="655.08" r="2.1" fill="#fff" fill-opacity="0.5" stroke="#5bb0a8" stroke-width="1.1"/>
<line x1="167.70" y1="643.14" x2="167.70" y2="650.49" stroke="#5bb0a8" stroke-width="0.9" />
<line x1="166.50" y1="643.14" x2="168.90" y2="643.14" stroke="#5bb0a8" stroke-width="0.8" />
<line x1="166.50" y1="650.49" x2="168.90" y2="650.49" stroke="#5bb0a8" stroke-width="0.8" />
<circle cx="167.70" cy="646.81" r="2.1" fill="#fff" fill-opacity="0.5" stroke="#5bb0a8" stroke-width="1.1"/>
<line x1="174.50" y1="612.81" x2="174.50" y2="616.49" stroke="#5bb0a8" stroke-width="0.9" />
<line x1="173.30" y1="612.81" x2="175.70" y2="612.81" stroke="#5bb0a8" stroke-width="0.8" />
<line x1="173.30" y1="616.49" x2="175.70" y2="616.49" stroke="#5bb0a8" stroke-width="0.8" />
<circle cx="174.50" cy="614.65" r="2.1" fill="#fff" fill-opacity="0.5" stroke="#5bb0a8" stroke-width="1.1"/>
<line x1="124.00" y1="602.70" x2="134.50" y2="602.70" stroke="#707070" stroke-width="1.0" />
<circle cx="129.25" cy="602.70" r="1.9" fill="#fff" stroke="#707070" stroke-width="0.9"/>
<text x="136.70" y="602.70" text-anchor="start" dominant-baseline="central" fill="#111" style="font-size:5.9px;stroke:#111;stroke-width:0.32px;" >GFP (16)</text>
<line x1="124.00" y1="613.20" x2="134.50" y2="613.20" stroke="#5bb0a8" stroke-width="1.0" />
<circle cx="129.25" cy="613.20" r="1.9" fill="#fff" stroke="#5bb0a8" stroke-width="0.9"/>
<text x="136.70" y="613.20" text-anchor="start" dominant-baseline="central" fill="#111" style="font-size:5.9px;stroke:#111;stroke-width:0.32px;" >sgc-Maf (16)</text>
<text transform="translate(98.90,648.00) rotate(-90)" text-anchor="middle" dominant-baseline="central" fill="#111" style="font-size:6.0px;stroke:#111;stroke-width:0.32px;" >Response (%)</text>
<text transform="translate(145.80,654.90) rotate(-90)" text-anchor="middle" dominant-baseline="central" fill="#111" style="font-size:6.2px;stroke:#111;stroke-width:0.3px"><tspan style="font-style:italic">P</tspan> = 0.0006</text>
<text transform="translate(153.10,646.40) rotate(-90)" text-anchor="middle" dominant-baseline="central" fill="#111" style="font-size:6.2px;stroke:#111;stroke-width:0.3px"><tspan style="font-style:italic">P</tspan> < 0.0001</text>
<text transform="translate(159.60,636.60) rotate(-90)" text-anchor="middle" dominant-baseline="central" fill="#111" style="font-size:6.2px;stroke:#111;stroke-width:0.3px"><tspan style="font-style:italic">P</tspan> = 0.0098</text>
<text transform="translate(128.10,698.80) rotate(-45)" text-anchor="end" dominant-baseline="central" fill="#111" style="font-size:6.0px;stroke:#111;stroke-width:0.3px">0.008</text>
<text transform="translate(135.10,698.80) rotate(-45)" text-anchor="end" dominant-baseline="central" fill="#111" style="font-size:6.0px;stroke:#111;stroke-width:0.3px">0.02</text>
<text transform="translate(142.00,698.80) rotate(-45)" text-anchor="end" dominant-baseline="central" fill="#111" style="font-size:6.0px;stroke:#111;stroke-width:0.3px">0.04</text>
<text transform="translate(148.80,698.80) rotate(-45)" text-anchor="end" dominant-baseline="central" fill="#111" style="font-size:6.0px;stroke:#111;stroke-width:0.3px">0.07</text>
<text transform="translate(155.80,698.80) rotate(-45)" text-anchor="end" dominant-baseline="central" fill="#111" style="font-size:6.0px;stroke:#111;stroke-width:0.3px">0.16</text>
<text transform="translate(162.90,698.80) rotate(-45)" text-anchor="end" dominant-baseline="central" fill="#111" style="font-size:6.0px;stroke:#111;stroke-width:0.3px">0.4</text>
<text transform="translate(169.90,698.80) rotate(-45)" text-anchor="end" dominant-baseline="central" fill="#111" style="font-size:6.0px;stroke:#111;stroke-width:0.3px">0.6</text>
<text transform="translate(176.70,698.80) rotate(-45)" text-anchor="end" dominant-baseline="central" fill="#111" style="font-size:6.0px;stroke:#111;stroke-width:0.3px">1.0</text>
<text x="148.80" y="721.00" text-anchor="middle" dominant-baseline="central" fill="#111" style="font-size:7.4px;stroke:#111;stroke-width:0.32px;" >Force (g)</text>
<line x1="210.60" y1="602.20" x2="210.60" y2="694.70" stroke="#333" stroke-width="1.25" />
<line x1="207.60" y1="694.20" x2="210.60" y2="694.20" stroke="#333" stroke-width="0.9" />
<text x="206.20" y="693.90" text-anchor="end" dominant-baseline="central" fill="#111" style="font-size:6.3px;stroke:#111;stroke-width:0.32px;letter-spacing:0.3px;" >0</text>
<line x1="207.60" y1="663.70" x2="210.60" y2="663.70" stroke="#333" stroke-width="0.9" />
<text x="206.20" y="663.40" text-anchor="end" dominant-baseline="central" fill="#111" style="font-size:6.3px;stroke:#111;stroke-width:0.32px;letter-spacing:0.3px;" >50</text>
<line x1="207.60" y1="633.20" x2="210.60" y2="633.20" stroke="#333" stroke-width="0.9" />
<text x="206.20" y="632.90" text-anchor="end" dominant-baseline="central" fill="#111" style="font-size:6.3px;stroke:#111;stroke-width:0.32px;letter-spacing:0.3px;" >100</text>
<line x1="207.60" y1="602.70" x2="210.60" y2="602.70" stroke="#333" stroke-width="0.9" />
<text x="206.20" y="602.40" text-anchor="end" dominant-baseline="central" fill="#111" style="font-size:6.3px;stroke:#111;stroke-width:0.32px;letter-spacing:0.3px;" >150</text>
<rect x="216.30" y="677.43" width="9.30" height="16.77" fill="#d2d2d4" stroke="#111" stroke-width="1.2" />
<line x1="220.95" y1="675.60" x2="220.95" y2="679.26" stroke="#111" stroke-width="0.9" />
<line x1="218.75" y1="675.60" x2="223.15" y2="675.60" stroke="#111" stroke-width="0.9" />
<line x1="218.75" y1="679.26" x2="223.15" y2="679.26" stroke="#111" stroke-width="0.9" />
<text x="220.95" y="691.00" text-anchor="middle" dominant-baseline="central" fill="#fff" style="font-size:5.2px;stroke:#fff;stroke-width:0.32px;font-weight:bold;" >16</text>
<rect x="244.60" y="656.99" width="9.20" height="37.21" fill="#579f94" stroke="#111" stroke-width="1.2" />
<line x1="249.20" y1="653.94" x2="249.20" y2="660.04" stroke="#111" stroke-width="0.9" />
<line x1="247.00" y1="653.94" x2="251.40" y2="653.94" stroke="#111" stroke-width="0.9" />
<line x1="247.00" y1="660.04" x2="251.40" y2="660.04" stroke="#111" stroke-width="0.9" />
<text x="249.20" y="691.00" text-anchor="middle" dominant-baseline="central" fill="#fff" style="font-size:5.2px;stroke:#fff;stroke-width:0.32px;font-weight:bold;" >16</text>
<circle cx="234.90" cy="663.70" r="1.65" fill="#fff" stroke="#111" stroke-width="1.1"/>
<circle cx="232.20" cy="671.02" r="1.65" fill="#fff" stroke="#111" stroke-width="1.1"/>
<circle cx="234.90" cy="671.02" r="1.65" fill="#fff" stroke="#111" stroke-width="1.1"/>
<circle cx="237.60" cy="671.02" r="1.65" fill="#fff" stroke="#111" stroke-width="1.1"/>
<circle cx="232.20" cy="678.95" r="1.65" fill="#fff" stroke="#111" stroke-width="1.1"/>
<circle cx="234.90" cy="678.95" r="1.65" fill="#fff" stroke="#111" stroke-width="1.1"/>
<circle cx="237.60" cy="678.95" r="1.65" fill="#fff" stroke="#111" stroke-width="1.1"/>
<circle cx="232.20" cy="686.27" r="1.65" fill="#fff" stroke="#111" stroke-width="1.1"/>
<circle cx="234.90" cy="686.27" r="1.65" fill="#fff" stroke="#111" stroke-width="1.1"/>
<circle cx="237.60" cy="686.27" r="1.65" fill="#fff" stroke="#111" stroke-width="1.1"/>
<circle cx="263.20" cy="633.20" r="1.65" fill="#fff" stroke="#111" stroke-width="1.1"/>
<circle cx="260.50" cy="640.52" r="1.65" fill="#fff" stroke="#111" stroke-width="1.1"/>
<circle cx="263.20" cy="640.52" r="1.65" fill="#fff" stroke="#111" stroke-width="1.1"/>
<circle cx="265.90" cy="640.52" r="1.65" fill="#fff" stroke="#111" stroke-width="1.1"/>
<circle cx="263.20" cy="648.45" r="1.65" fill="#fff" stroke="#111" stroke-width="1.1"/>
<circle cx="263.20" cy="655.77" r="1.65" fill="#fff" stroke="#111" stroke-width="1.1"/>
<circle cx="260.50" cy="663.70" r="1.65" fill="#fff" stroke="#111" stroke-width="1.1"/>
<circle cx="263.20" cy="663.70" r="1.65" fill="#fff" stroke="#111" stroke-width="1.1"/>
<circle cx="265.90" cy="663.70" r="1.65" fill="#fff" stroke="#111" stroke-width="1.1"/>
<circle cx="260.50" cy="671.02" r="1.65" fill="#fff" stroke="#111" stroke-width="1.1"/>
<circle cx="263.20" cy="671.02" r="1.65" fill="#fff" stroke="#111" stroke-width="1.1"/>
<circle cx="265.90" cy="671.02" r="1.65" fill="#fff" stroke="#111" stroke-width="1.1"/>
<text x="222.00" y="701.00" text-anchor="middle" dominant-baseline="central" fill="#111" style="font-size:7.0px;stroke:#111;stroke-width:0.32px;" >GFP</text>
<text x="249.80" y="701.00" text-anchor="middle" dominant-baseline="central" fill="#111" style="font-size:7.0px;stroke:#111;stroke-width:0.32px;" >sgc-Maf</text>
<text transform="translate(187.60,648.00) rotate(-90)" text-anchor="middle" dominant-baseline="central" fill="#111" style="font-size:7.3px;stroke:#111;stroke-width:0.32px;" >Paw withdrawal frequency (%)</text>
<text x="232.50" y="622.90" text-anchor="middle" dominant-baseline="central" fill="#111" style="font-size:6.2px;stroke:#111;stroke-width:0.3px"><tspan style="font-style:italic">P</tspan> < 0.0001</text>
<path d="M217.00,630.20 V627.20 H246.50 V630.20" fill="none" stroke="#111" stroke-width="0.9"/>
<line x1="300.90" y1="603.00" x2="300.90" y2="695.40" stroke="#333" stroke-width="1.25" />
<line x1="297.90" y1="694.90" x2="300.90" y2="694.90" stroke="#333" stroke-width="0.9" />
<text x="296.50" y="694.60" text-anchor="end" dominant-baseline="central" fill="#111" style="font-size:6.3px;stroke:#111;stroke-width:0.32px;letter-spacing:0.3px;" >0</text>
<line x1="297.90" y1="672.05" x2="300.90" y2="672.05" stroke="#333" stroke-width="0.9" />
<text x="296.50" y="671.75" text-anchor="end" dominant-baseline="central" fill="#111" style="font-size:6.3px;stroke:#111;stroke-width:0.32px;letter-spacing:0.3px;" >25</text>
<line x1="297.90" y1="649.20" x2="300.90" y2="649.20" stroke="#333" stroke-width="0.9" />
<text x="296.50" y="648.90" text-anchor="end" dominant-baseline="central" fill="#111" style="font-size:6.3px;stroke:#111;stroke-width:0.32px;letter-spacing:0.3px;" >50</text>
<line x1="297.90" y1="626.35" x2="300.90" y2="626.35" stroke="#333" stroke-width="0.9" />
<text x="296.50" y="626.05" text-anchor="end" dominant-baseline="central" fill="#111" style="font-size:6.3px;stroke:#111;stroke-width:0.32px;letter-spacing:0.3px;" >75</text>
<line x1="297.90" y1="603.50" x2="300.90" y2="603.50" stroke="#333" stroke-width="0.9" />
<text x="296.50" y="603.20" text-anchor="end" dominant-baseline="central" fill="#111" style="font-size:6.3px;stroke:#111;stroke-width:0.32px;letter-spacing:0.3px;" >100</text>
<line x1="300.30" y1="694.90" x2="356.40" y2="694.90" stroke="#333" stroke-width="1.25" />
<line x1="300.90" y1="696.00" x2="356.40" y2="696.00" stroke="#222" stroke-width="1.0" stroke-dasharray="0.7 1.1"/>
<line x1="306.30" y1="694.90" x2="306.30" y2="697.50" stroke="#222" stroke-width="1.0" />
<line x1="315.20" y1="694.90" x2="315.20" y2="697.50" stroke="#222" stroke-width="1.0" />
<line x1="324.50" y1="694.90" x2="324.50" y2="697.50" stroke="#222" stroke-width="1.0" />
<line x1="333.80" y1="694.90" x2="333.80" y2="697.50" stroke="#222" stroke-width="1.0" />
<line x1="343.00" y1="694.90" x2="343.00" y2="697.50" stroke="#222" stroke-width="1.0" />
<line x1="352.00" y1="694.90" x2="352.00" y2="697.50" stroke="#222" stroke-width="1.0" />
<text x="306.30" y="702.10" text-anchor="middle" dominant-baseline="central" fill="#111" style="font-size:6.3px;stroke:#111;stroke-width:0.32px;" >1</text>
<text x="315.20" y="702.10" text-anchor="middle" dominant-baseline="central" fill="#111" style="font-size:6.3px;stroke:#111;stroke-width:0.32px;" >2</text>
<text x="324.50" y="702.10" text-anchor="middle" dominant-baseline="central" fill="#111" style="font-size:6.3px;stroke:#111;stroke-width:0.32px;" >3</text>
<text x="333.80" y="702.10" text-anchor="middle" dominant-baseline="central" fill="#111" style="font-size:6.3px;stroke:#111;stroke-width:0.32px;" >4</text>
<text x="343.00" y="702.10" text-anchor="middle" dominant-baseline="central" fill="#111" style="font-size:6.3px;stroke:#111;stroke-width:0.32px;" >5</text>
<text x="352.00" y="702.10" text-anchor="middle" dominant-baseline="central" fill="#111" style="font-size:6.3px;stroke:#111;stroke-width:0.32px;" >6</text>
<polyline points="306.30,612.64 315.20,619.95 324.50,625.44 333.80,630.92 343.00,641.89 352.00,650.11" fill="none" stroke="#707070" stroke-width="1.1"/>
<circle cx="306.30" cy="612.64" r="2.1" fill="#fff" fill-opacity="0.5" stroke="#707070" stroke-width="1.1"/>
<circle cx="315.20" cy="619.95" r="2.1" fill="#fff" fill-opacity="0.5" stroke="#707070" stroke-width="1.1"/>
<line x1="324.50" y1="624.07" x2="324.50" y2="626.81" stroke="#707070" stroke-width="0.9" />
<line x1="323.30" y1="624.07" x2="325.70" y2="624.07" stroke="#707070" stroke-width="0.8" />
<line x1="323.30" y1="626.81" x2="325.70" y2="626.81" stroke="#707070" stroke-width="0.8" />
<circle cx="324.50" cy="625.44" r="2.1" fill="#fff" fill-opacity="0.5" stroke="#707070" stroke-width="1.1"/>
<line x1="333.80" y1="629.09" x2="333.80" y2="632.75" stroke="#707070" stroke-width="0.9" />
<line x1="332.60" y1="629.09" x2="335.00" y2="629.09" stroke="#707070" stroke-width="0.8" />
<line x1="332.60" y1="632.75" x2="335.00" y2="632.75" stroke="#707070" stroke-width="0.8" />
<circle cx="333.80" cy="630.92" r="2.1" fill="#fff" fill-opacity="0.5" stroke="#707070" stroke-width="1.1"/>
<line x1="343.00" y1="639.15" x2="343.00" y2="644.63" stroke="#707070" stroke-width="0.9" />
<line x1="341.80" y1="639.15" x2="344.20" y2="639.15" stroke="#707070" stroke-width="0.8" />
<line x1="341.80" y1="644.63" x2="344.20" y2="644.63" stroke="#707070" stroke-width="0.8" />
<circle cx="343.00" cy="641.89" r="2.1" fill="#fff" fill-opacity="0.5" stroke="#707070" stroke-width="1.1"/>
<line x1="352.00" y1="647.37" x2="352.00" y2="652.86" stroke="#707070" stroke-width="0.9" />
<line x1="350.80" y1="647.37" x2="353.20" y2="647.37" stroke="#707070" stroke-width="0.8" />
<line x1="350.80" y1="652.86" x2="353.20" y2="652.86" stroke="#707070" stroke-width="0.8" />
<circle cx="352.00" cy="650.11" r="2.1" fill="#fff" fill-opacity="0.5" stroke="#707070" stroke-width="1.1"/>
<polyline points="306.30,612.64 315.20,618.12 324.50,627.26 333.80,640.97 343.00,651.94 352.00,663.82" fill="none" stroke="#5bb0a8" stroke-width="1.1"/>
<circle cx="306.30" cy="612.64" r="2.1" fill="#fff" fill-opacity="0.5" stroke="#5bb0a8" stroke-width="1.1"/>
<circle cx="315.20" cy="618.12" r="2.1" fill="#fff" fill-opacity="0.5" stroke="#5bb0a8" stroke-width="1.1"/>
<line x1="324.50" y1="625.44" x2="324.50" y2="629.09" stroke="#5bb0a8" stroke-width="0.9" />
<line x1="323.30" y1="625.44" x2="325.70" y2="625.44" stroke="#5bb0a8" stroke-width="0.8" />
<line x1="323.30" y1="629.09" x2="325.70" y2="629.09" stroke="#5bb0a8" stroke-width="0.8" />
<circle cx="324.50" cy="627.26" r="2.1" fill="#fff" fill-opacity="0.5" stroke="#5bb0a8" stroke-width="1.1"/>
<line x1="333.80" y1="638.23" x2="333.80" y2="643.72" stroke="#5bb0a8" stroke-width="0.9" />
<line x1="332.60" y1="638.23" x2="335.00" y2="638.23" stroke="#5bb0a8" stroke-width="0.8" />
<line x1="332.60" y1="643.72" x2="335.00" y2="643.72" stroke="#5bb0a8" stroke-width="0.8" />
<circle cx="333.80" cy="640.97" r="2.1" fill="#fff" fill-opacity="0.5" stroke="#5bb0a8" stroke-width="1.1"/>
<line x1="343.00" y1="649.20" x2="343.00" y2="654.68" stroke="#5bb0a8" stroke-width="0.9" />
<line x1="341.80" y1="649.20" x2="344.20" y2="649.20" stroke="#5bb0a8" stroke-width="0.8" />
<line x1="341.80" y1="654.68" x2="344.20" y2="654.68" stroke="#5bb0a8" stroke-width="0.8" />
<circle cx="343.00" cy="651.94" r="2.1" fill="#fff" fill-opacity="0.5" stroke="#5bb0a8" stroke-width="1.1"/>
<line x1="352.00" y1="661.08" x2="352.00" y2="666.57" stroke="#5bb0a8" stroke-width="0.9" />
<line x1="350.80" y1="661.08" x2="353.20" y2="661.08" stroke="#5bb0a8" stroke-width="0.8" />
<line x1="350.80" y1="666.57" x2="353.20" y2="666.57" stroke="#5bb0a8" stroke-width="0.8" />
<circle cx="352.00" cy="663.82" r="2.1" fill="#fff" fill-opacity="0.5" stroke="#5bb0a8" stroke-width="1.1"/>
<line x1="307.00" y1="673.90" x2="316.80" y2="673.90" stroke="#707070" stroke-width="1.0" />
<circle cx="311.90" cy="673.90" r="1.9" fill="#fff" stroke="#707070" stroke-width="0.9"/>
<text x="319.00" y="673.90" text-anchor="start" dominant-baseline="central" fill="#111" style="font-size:5.9px;stroke:#111;stroke-width:0.32px;" >GFP (16)</text>
<line x1="307.00" y1="682.80" x2="316.80" y2="682.80" stroke="#5bb0a8" stroke-width="1.0" />
<circle cx="311.90" cy="682.80" r="1.9" fill="#fff" stroke="#5bb0a8" stroke-width="0.9"/>
<text x="319.00" y="682.80" text-anchor="start" dominant-baseline="central" fill="#111" style="font-size:5.9px;stroke:#111;stroke-width:0.32px;" >sgc-Maf (16)</text>
<text x="328.90" y="713.50" text-anchor="middle" dominant-baseline="central" fill="#111" style="font-size:7.4px;stroke:#111;stroke-width:0.32px;" >Time (days)</text>
<text transform="translate(277.10,649.60) rotate(-90)" text-anchor="middle" dominant-baseline="central" fill="#111" style="font-size:7.3px;stroke:#111;stroke-width:0.32px;" >Latency (s)</text>
<text transform="translate(333.80,613.20) rotate(-90)" text-anchor="middle" dominant-baseline="central" fill="#111" style="font-size:6.2px;stroke:#111;stroke-width:0.3px"><tspan style="font-style:italic">P</tspan> = 0.0413</text>
<text transform="translate(342.70,621.30) rotate(-90)" text-anchor="middle" dominant-baseline="central" fill="#111" style="font-size:6.2px;stroke:#111;stroke-width:0.3px"><tspan style="font-style:italic">P</tspan> = 0.0376</text>
<text transform="translate(352.40,629.80) rotate(-90)" text-anchor="middle" dominant-baseline="central" fill="#111" style="font-size:6.2px;stroke:#111;stroke-width:0.3px"><tspan style="font-style:italic">P</tspan> = 0.0016</text>
<line x1="384.90" y1="601.30" x2="384.90" y2="695.10" stroke="#333" stroke-width="1.25" />
<line x1="381.90" y1="694.60" x2="384.90" y2="694.60" stroke="#333" stroke-width="0.9" />
<text x="380.50" y="694.30" text-anchor="end" dominant-baseline="central" fill="#111" style="font-size:6.3px;stroke:#111;stroke-width:0.32px;letter-spacing:0.3px;" >0</text>
<line x1="381.90" y1="671.40" x2="384.90" y2="671.40" stroke="#333" stroke-width="0.9" />
<text x="380.50" y="671.10" text-anchor="end" dominant-baseline="central" fill="#111" style="font-size:6.3px;stroke:#111;stroke-width:0.32px;letter-spacing:0.3px;" >2</text>
<line x1="381.90" y1="648.20" x2="384.90" y2="648.20" stroke="#333" stroke-width="0.9" />
<text x="380.50" y="647.90" text-anchor="end" dominant-baseline="central" fill="#111" style="font-size:6.3px;stroke:#111;stroke-width:0.32px;letter-spacing:0.3px;" >4</text>
<line x1="381.90" y1="625.00" x2="384.90" y2="625.00" stroke="#333" stroke-width="0.9" />
<text x="380.50" y="624.70" text-anchor="end" dominant-baseline="central" fill="#111" style="font-size:6.3px;stroke:#111;stroke-width:0.32px;letter-spacing:0.3px;" >6</text>
<line x1="381.90" y1="601.80" x2="384.90" y2="601.80" stroke="#333" stroke-width="0.9" />
<text x="380.50" y="601.50" text-anchor="end" dominant-baseline="central" fill="#111" style="font-size:6.3px;stroke:#111;stroke-width:0.32px;letter-spacing:0.3px;" >8</text>
<rect x="389.30" y="674.30" width="8.60" height="20.30" fill="#d2d2d4" stroke="#111" stroke-width="1.2" />
<line x1="393.60" y1="670.24" x2="393.60" y2="678.36" stroke="#111" stroke-width="0.9" />
<line x1="391.40" y1="670.24" x2="395.80" y2="670.24" stroke="#111" stroke-width="0.9" />
<line x1="391.40" y1="678.36" x2="395.80" y2="678.36" stroke="#111" stroke-width="0.9" />
<text x="393.60" y="691.40" text-anchor="middle" dominant-baseline="central" fill="#fff" style="font-size:5.2px;stroke:#fff;stroke-width:0.32px;font-weight:bold;" >16</text>
<rect x="415.20" y="661.54" width="8.60" height="33.06" fill="#579f94" stroke="#111" stroke-width="1.2" />
<line x1="419.50" y1="657.48" x2="419.50" y2="665.60" stroke="#111" stroke-width="0.9" />
<line x1="417.30" y1="657.48" x2="421.70" y2="657.48" stroke="#111" stroke-width="0.9" />
<line x1="417.30" y1="665.60" x2="421.70" y2="665.60" stroke="#111" stroke-width="0.9" />
<text x="419.50" y="691.40" text-anchor="middle" dominant-baseline="central" fill="#fff" style="font-size:5.2px;stroke:#fff;stroke-width:0.32px;font-weight:bold;" >16</text>
<circle cx="405.45" cy="648.20" r="1.65" fill="#fff" stroke="#111" stroke-width="1.1"/>
<circle cx="408.15" cy="648.20" r="1.65" fill="#fff" stroke="#111" stroke-width="1.1"/>
<circle cx="402.75" cy="659.80" r="1.65" fill="#fff" stroke="#111" stroke-width="1.1"/>
<circle cx="405.45" cy="659.80" r="1.65" fill="#fff" stroke="#111" stroke-width="1.1"/>
<circle cx="408.15" cy="659.80" r="1.65" fill="#fff" stroke="#111" stroke-width="1.1"/>
<circle cx="410.85" cy="659.80" r="1.65" fill="#fff" stroke="#111" stroke-width="1.1"/>
<circle cx="406.80" cy="671.40" r="1.65" fill="#fff" stroke="#111" stroke-width="1.1"/>
<circle cx="402.75" cy="683.00" r="1.65" fill="#fff" stroke="#111" stroke-width="1.1"/>
<circle cx="405.45" cy="683.00" r="1.65" fill="#fff" stroke="#111" stroke-width="1.1"/>
<circle cx="408.15" cy="683.00" r="1.65" fill="#fff" stroke="#111" stroke-width="1.1"/>
<circle cx="410.85" cy="683.00" r="1.65" fill="#fff" stroke="#111" stroke-width="1.1"/>
<circle cx="402.75" cy="694.60" r="1.65" fill="#fff" stroke="#111" stroke-width="1.1"/>
<circle cx="405.45" cy="694.60" r="1.65" fill="#fff" stroke="#111" stroke-width="1.1"/>
<circle cx="408.15" cy="694.60" r="1.65" fill="#fff" stroke="#111" stroke-width="1.1"/>
<circle cx="410.85" cy="694.60" r="1.65" fill="#fff" stroke="#111" stroke-width="1.1"/>
<circle cx="432.30" cy="625.00" r="1.65" fill="#fff" stroke="#111" stroke-width="1.1"/>
<circle cx="430.95" cy="636.60" r="1.65" fill="#fff" stroke="#111" stroke-width="1.1"/>
<circle cx="433.65" cy="636.60" r="1.65" fill="#fff" stroke="#111" stroke-width="1.1"/>
<circle cx="432.30" cy="648.20" r="1.65" fill="#fff" stroke="#111" stroke-width="1.1"/>
<circle cx="428.25" cy="659.80" r="1.65" fill="#fff" stroke="#111" stroke-width="1.1"/>
<circle cx="430.95" cy="659.80" r="1.65" fill="#fff" stroke="#111" stroke-width="1.1"/>
<circle cx="433.65" cy="659.80" r="1.65" fill="#fff" stroke="#111" stroke-width="1.1"/>
<circle cx="436.35" cy="659.80" r="1.65" fill="#fff" stroke="#111" stroke-width="1.1"/>
<circle cx="428.25" cy="671.40" r="1.65" fill="#fff" stroke="#111" stroke-width="1.1"/>
<circle cx="430.95" cy="671.40" r="1.65" fill="#fff" stroke="#111" stroke-width="1.1"/>
<circle cx="433.65" cy="671.40" r="1.65" fill="#fff" stroke="#111" stroke-width="1.1"/>
<circle cx="436.35" cy="671.40" r="1.65" fill="#fff" stroke="#111" stroke-width="1.1"/>
<circle cx="432.30" cy="683.00" r="1.65" fill="#fff" stroke="#111" stroke-width="1.1"/>
<circle cx="432.30" cy="694.60" r="1.65" fill="#fff" stroke="#111" stroke-width="1.1"/>
<text x="398.70" y="701.00" text-anchor="middle" dominant-baseline="central" fill="#111" style="font-size:7.0px;stroke:#111;stroke-width:0.32px;" >GFP</text>
<text x="426.20" y="701.00" text-anchor="middle" dominant-baseline="central" fill="#111" style="font-size:7.0px;stroke:#111;stroke-width:0.32px;" >sgc-Maf</text>
<text transform="translate(367.10,648.80) rotate(-90)" text-anchor="middle" dominant-baseline="central" fill="#111" style="font-size:7.3px;stroke:#111;stroke-width:0.32px;" >Frequency</text>
<text x="407.30" y="598.60" text-anchor="middle" dominant-baseline="central" fill="#111" style="font-size:6.2px;stroke:#111;stroke-width:0.3px"><tspan style="font-style:italic">P</tspan> = 0.0412</text>
<path d="M393.00,608.30 V604.30 H422.60 V608.30" fill="none" stroke="#111" stroke-width="0.9"/>
<line x1="471.90" y1="601.30" x2="471.90" y2="694.60" stroke="#333" stroke-width="1.25" />
<line x1="468.90" y1="694.10" x2="471.90" y2="694.10" stroke="#333" stroke-width="0.9" />
<text x="467.50" y="693.80" text-anchor="end" dominant-baseline="central" fill="#111" style="font-size:6.3px;stroke:#111;stroke-width:0.32px;letter-spacing:0.3px;" >0</text>
<line x1="468.90" y1="671.02" x2="471.90" y2="671.02" stroke="#333" stroke-width="0.9" />
<text x="467.50" y="670.73" text-anchor="end" dominant-baseline="central" fill="#111" style="font-size:6.3px;stroke:#111;stroke-width:0.32px;letter-spacing:0.3px;" >50</text>
<line x1="468.90" y1="647.95" x2="471.90" y2="647.95" stroke="#333" stroke-width="0.9" />
<text x="467.50" y="647.65" text-anchor="end" dominant-baseline="central" fill="#111" style="font-size:6.3px;stroke:#111;stroke-width:0.32px;letter-spacing:0.3px;" >100</text>
<line x1="468.90" y1="624.88" x2="471.90" y2="624.88" stroke="#333" stroke-width="0.9" />
<text x="467.50" y="624.58" text-anchor="end" dominant-baseline="central" fill="#111" style="font-size:6.3px;stroke:#111;stroke-width:0.32px;letter-spacing:0.3px;" >150</text>
<line x1="468.90" y1="601.80" x2="471.90" y2="601.80" stroke="#333" stroke-width="0.9" />
<text x="467.50" y="601.50" text-anchor="end" dominant-baseline="central" fill="#111" style="font-size:6.3px;stroke:#111;stroke-width:0.32px;letter-spacing:0.3px;" >200</text>
<line x1="471.30" y1="694.10" x2="533.70" y2="694.10" stroke="#333" stroke-width="1.25" />
<line x1="471.90" y1="695.20" x2="533.70" y2="695.20" stroke="#222" stroke-width="1.0" stroke-dasharray="0.7 1.1"/>
<line x1="480.00" y1="694.10" x2="480.00" y2="696.70" stroke="#222" stroke-width="1.0" />
<line x1="495.20" y1="694.10" x2="495.20" y2="696.70" stroke="#222" stroke-width="1.0" />
<line x1="510.70" y1="694.10" x2="510.70" y2="696.70" stroke="#222" stroke-width="1.0" />
<line x1="526.40" y1="694.10" x2="526.40" y2="696.70" stroke="#222" stroke-width="1.0" />
<text x="480.00" y="701.30" text-anchor="middle" dominant-baseline="central" fill="#111" style="font-size:6.3px;stroke:#111;stroke-width:0.32px;" >1</text>
<text x="495.20" y="701.30" text-anchor="middle" dominant-baseline="central" fill="#111" style="font-size:6.3px;stroke:#111;stroke-width:0.32px;" >2</text>
<text x="510.70" y="701.30" text-anchor="middle" dominant-baseline="central" fill="#111" style="font-size:6.3px;stroke:#111;stroke-width:0.32px;" >3</text>
<text x="526.40" y="701.30" text-anchor="middle" dominant-baseline="central" fill="#111" style="font-size:6.3px;stroke:#111;stroke-width:0.32px;" >4</text>
<polyline points="480.00,613.80 495.20,623.95 510.70,627.64 526.40,636.87" fill="none" stroke="#707070" stroke-width="1.1"/>
<line x1="480.00" y1="609.18" x2="480.00" y2="618.41" stroke="#707070" stroke-width="0.9" />
<line x1="478.80" y1="609.18" x2="481.20" y2="609.18" stroke="#707070" stroke-width="0.8" />
<line x1="478.80" y1="618.41" x2="481.20" y2="618.41" stroke="#707070" stroke-width="0.8" />
<circle cx="480.00" cy="613.80" r="2.1" fill="#fff" fill-opacity="0.5" stroke="#707070" stroke-width="1.1"/>
<line x1="495.20" y1="618.41" x2="495.20" y2="629.49" stroke="#707070" stroke-width="0.9" />
<line x1="494.00" y1="618.41" x2="496.40" y2="618.41" stroke="#707070" stroke-width="0.8" />
<line x1="494.00" y1="629.49" x2="496.40" y2="629.49" stroke="#707070" stroke-width="0.8" />
<circle cx="495.20" cy="623.95" r="2.1" fill="#fff" fill-opacity="0.5" stroke="#707070" stroke-width="1.1"/>
<line x1="510.70" y1="623.49" x2="510.70" y2="631.80" stroke="#707070" stroke-width="0.9" />
<line x1="509.50" y1="623.49" x2="511.90" y2="623.49" stroke="#707070" stroke-width="0.8" />
<line x1="509.50" y1="631.80" x2="511.90" y2="631.80" stroke="#707070" stroke-width="0.8" />
<circle cx="510.70" cy="627.64" r="2.1" fill="#fff" fill-opacity="0.5" stroke="#707070" stroke-width="1.1"/>
<line x1="526.40" y1="633.64" x2="526.40" y2="640.10" stroke="#707070" stroke-width="0.9" />
<line x1="525.20" y1="633.64" x2="527.60" y2="633.64" stroke="#707070" stroke-width="0.8" />
<line x1="525.20" y1="640.10" x2="527.60" y2="640.10" stroke="#707070" stroke-width="0.8" />
<circle cx="526.40" cy="636.87" r="2.1" fill="#fff" fill-opacity="0.5" stroke="#707070" stroke-width="1.1"/>
<polyline points="480.00,614.26 495.20,630.87 510.70,640.57 526.40,656.72" fill="none" stroke="#5bb0a8" stroke-width="1.1"/>
<line x1="480.00" y1="610.11" x2="480.00" y2="618.41" stroke="#5bb0a8" stroke-width="0.9" />
<line x1="478.80" y1="610.11" x2="481.20" y2="610.11" stroke="#5bb0a8" stroke-width="0.8" />
<line x1="478.80" y1="618.41" x2="481.20" y2="618.41" stroke="#5bb0a8" stroke-width="0.8" />
<circle cx="480.00" cy="614.26" r="2.1" fill="#fff" fill-opacity="0.5" stroke="#5bb0a8" stroke-width="1.1"/>
<line x1="495.20" y1="627.18" x2="495.20" y2="634.57" stroke="#5bb0a8" stroke-width="0.9" />
<line x1="494.00" y1="627.18" x2="496.40" y2="627.18" stroke="#5bb0a8" stroke-width="0.8" />
<line x1="494.00" y1="634.57" x2="496.40" y2="634.57" stroke="#5bb0a8" stroke-width="0.8" />
<circle cx="495.20" cy="630.87" r="2.1" fill="#fff" fill-opacity="0.5" stroke="#5bb0a8" stroke-width="1.1"/>
<line x1="510.70" y1="635.49" x2="510.70" y2="645.64" stroke="#5bb0a8" stroke-width="0.9" />
<line x1="509.50" y1="635.49" x2="511.90" y2="635.49" stroke="#5bb0a8" stroke-width="0.8" />
<line x1="509.50" y1="645.64" x2="511.90" y2="645.64" stroke="#5bb0a8" stroke-width="0.8" />
<circle cx="510.70" cy="640.57" r="2.1" fill="#fff" fill-opacity="0.5" stroke="#5bb0a8" stroke-width="1.1"/>
<line x1="526.40" y1="653.95" x2="526.40" y2="659.49" stroke="#5bb0a8" stroke-width="0.9" />
<line x1="525.20" y1="653.95" x2="527.60" y2="653.95" stroke="#5bb0a8" stroke-width="0.8" />
<line x1="525.20" y1="659.49" x2="527.60" y2="659.49" stroke="#5bb0a8" stroke-width="0.8" />
<circle cx="526.40" cy="656.72" r="2.1" fill="#fff" fill-opacity="0.5" stroke="#5bb0a8" stroke-width="1.1"/>
<line x1="476.30" y1="677.90" x2="486.80" y2="677.90" stroke="#707070" stroke-width="1.0" />
<circle cx="481.55" cy="677.90" r="1.9" fill="#fff" stroke="#707070" stroke-width="0.9"/>
<text x="489.00" y="677.90" text-anchor="start" dominant-baseline="central" fill="#111" style="font-size:5.9px;stroke:#111;stroke-width:0.32px;" >GFP (16)</text>
<line x1="476.30" y1="687.60" x2="486.80" y2="687.60" stroke="#5bb0a8" stroke-width="1.0" />
<circle cx="481.55" cy="687.60" r="1.9" fill="#fff" stroke="#5bb0a8" stroke-width="0.9"/>
<text x="489.00" y="687.60" text-anchor="start" dominant-baseline="central" fill="#111" style="font-size:5.9px;stroke:#111;stroke-width:0.32px;" >sgc-Maf (16)</text>
<text x="503.00" y="713.50" text-anchor="middle" dominant-baseline="central" fill="#111" style="font-size:7.4px;stroke:#111;stroke-width:0.32px;" >Time (days)</text>
<text transform="translate(447.60,648.00) rotate(-90)" text-anchor="middle" dominant-baseline="central" fill="#111" style="font-size:7.3px;stroke:#111;stroke-width:0.32px;" >Latency (s)</text>
<text transform="translate(526.40,618.50) rotate(-90)" text-anchor="middle" dominant-baseline="central" fill="#111" style="font-size:6.2px;stroke:#111;stroke-width:0.3px"><tspan style="font-style:italic">P</tspan> = 0.0184</text>
<line x1="565.30" y1="602.60" x2="565.30" y2="694.70" stroke="#333" stroke-width="1.25" />
<line x1="562.30" y1="694.20" x2="565.30" y2="694.20" stroke="#333" stroke-width="0.9" />
<text x="560.90" y="693.90" text-anchor="end" dominant-baseline="central" fill="#111" style="font-size:6.3px;stroke:#111;stroke-width:0.32px;letter-spacing:0.3px;" >0</text>
<line x1="562.30" y1="671.43" x2="565.30" y2="671.43" stroke="#333" stroke-width="0.9" />
<text x="560.90" y="671.13" text-anchor="end" dominant-baseline="central" fill="#111" style="font-size:6.3px;stroke:#111;stroke-width:0.32px;letter-spacing:0.3px;" >20</text>
<line x1="562.30" y1="648.65" x2="565.30" y2="648.65" stroke="#333" stroke-width="0.9" />
<text x="560.90" y="648.35" text-anchor="end" dominant-baseline="central" fill="#111" style="font-size:6.3px;stroke:#111;stroke-width:0.32px;letter-spacing:0.3px;" >40</text>
<line x1="562.30" y1="625.88" x2="565.30" y2="625.88" stroke="#333" stroke-width="0.9" />
<text x="560.90" y="625.58" text-anchor="end" dominant-baseline="central" fill="#111" style="font-size:6.3px;stroke:#111;stroke-width:0.32px;letter-spacing:0.3px;" >60</text>
<line x1="562.30" y1="603.10" x2="565.30" y2="603.10" stroke="#333" stroke-width="0.9" />
<text x="560.90" y="602.80" text-anchor="end" dominant-baseline="central" fill="#111" style="font-size:6.3px;stroke:#111;stroke-width:0.32px;letter-spacing:0.3px;" >80</text>
<rect x="569.40" y="677.69" width="8.20" height="16.51" fill="#d2d2d4" stroke="#111" stroke-width="1.2" />
<line x1="573.50" y1="675.98" x2="573.50" y2="679.40" stroke="#111" stroke-width="0.9" />
<line x1="571.30" y1="675.98" x2="575.70" y2="675.98" stroke="#111" stroke-width="0.9" />
<line x1="571.30" y1="679.40" x2="575.70" y2="679.40" stroke="#111" stroke-width="0.9" />
<text x="573.50" y="691.00" text-anchor="middle" dominant-baseline="central" fill="#fff" style="font-size:5.2px;stroke:#fff;stroke-width:0.32px;font-weight:bold;" >16</text>
<rect x="594.60" y="666.87" width="8.40" height="27.33" fill="#579f94" stroke="#111" stroke-width="1.2" />
<line x1="598.80" y1="662.32" x2="598.80" y2="671.42" stroke="#111" stroke-width="0.9" />
<line x1="596.60" y1="662.32" x2="601.00" y2="662.32" stroke="#111" stroke-width="0.9" />
<line x1="596.60" y1="671.42" x2="601.00" y2="671.42" stroke="#111" stroke-width="0.9" />
<text x="598.80" y="691.00" text-anchor="middle" dominant-baseline="central" fill="#fff" style="font-size:5.2px;stroke:#fff;stroke-width:0.32px;font-weight:bold;" >16</text>
<circle cx="586.50" cy="665.73" r="1.65" fill="#fff" stroke="#111" stroke-width="1.1"/>
<circle cx="586.50" cy="669.15" r="1.65" fill="#fff" stroke="#111" stroke-width="1.1"/>
<circle cx="585.15" cy="673.70" r="1.65" fill="#fff" stroke="#111" stroke-width="1.1"/>
<circle cx="587.85" cy="674.84" r="1.65" fill="#fff" stroke="#111" stroke-width="1.1"/>
<circle cx="582.45" cy="677.12" r="1.65" fill="#fff" stroke="#111" stroke-width="1.1"/>
<circle cx="585.15" cy="677.12" r="1.65" fill="#fff" stroke="#111" stroke-width="1.1"/>
<circle cx="587.85" cy="678.26" r="1.65" fill="#fff" stroke="#111" stroke-width="1.1"/>
<circle cx="590.55" cy="679.40" r="1.65" fill="#fff" stroke="#111" stroke-width="1.1"/>
<circle cx="582.45" cy="680.54" r="1.65" fill="#fff" stroke="#111" stroke-width="1.1"/>
<circle cx="585.15" cy="680.54" r="1.65" fill="#fff" stroke="#111" stroke-width="1.1"/>
<circle cx="587.85" cy="681.67" r="1.65" fill="#fff" stroke="#111" stroke-width="1.1"/>
<circle cx="590.55" cy="682.81" r="1.65" fill="#fff" stroke="#111" stroke-width="1.1"/>
<circle cx="583.80" cy="683.95" r="1.65" fill="#fff" stroke="#111" stroke-width="1.1"/>
<circle cx="586.50" cy="685.09" r="1.65" fill="#fff" stroke="#111" stroke-width="1.1"/>
<circle cx="589.20" cy="686.23" r="1.65" fill="#fff" stroke="#111" stroke-width="1.1"/>
<circle cx="586.50" cy="687.37" r="1.65" fill="#fff" stroke="#111" stroke-width="1.1"/>
<circle cx="611.10" cy="622.46" r="1.65" fill="#fff" stroke="#111" stroke-width="1.1"/>
<circle cx="611.10" cy="640.68" r="1.65" fill="#fff" stroke="#111" stroke-width="1.1"/>
<circle cx="611.10" cy="648.65" r="1.65" fill="#fff" stroke="#111" stroke-width="1.1"/>
<circle cx="611.10" cy="656.62" r="1.65" fill="#fff" stroke="#111" stroke-width="1.1"/>
<circle cx="611.10" cy="660.04" r="1.65" fill="#fff" stroke="#111" stroke-width="1.1"/>
<circle cx="611.10" cy="663.45" r="1.65" fill="#fff" stroke="#111" stroke-width="1.1"/>
<circle cx="609.75" cy="669.15" r="1.65" fill="#fff" stroke="#111" stroke-width="1.1"/>
<circle cx="612.45" cy="671.43" r="1.65" fill="#fff" stroke="#111" stroke-width="1.1"/>
<circle cx="608.40" cy="673.70" r="1.65" fill="#fff" stroke="#111" stroke-width="1.1"/>
<circle cx="611.10" cy="674.84" r="1.65" fill="#fff" stroke="#111" stroke-width="1.1"/>
<circle cx="613.80" cy="675.98" r="1.65" fill="#fff" stroke="#111" stroke-width="1.1"/>
<circle cx="608.40" cy="677.12" r="1.65" fill="#fff" stroke="#111" stroke-width="1.1"/>
<circle cx="611.10" cy="678.26" r="1.65" fill="#fff" stroke="#111" stroke-width="1.1"/>
<circle cx="613.80" cy="679.40" r="1.65" fill="#fff" stroke="#111" stroke-width="1.1"/>
<circle cx="611.10" cy="681.67" r="1.65" fill="#fff" stroke="#111" stroke-width="1.1"/>
<circle cx="611.10" cy="688.51" r="1.65" fill="#fff" stroke="#111" stroke-width="1.1"/>
<text x="575.90" y="701.00" text-anchor="middle" dominant-baseline="central" fill="#111" style="font-size:7.0px;stroke:#111;stroke-width:0.32px;" >GFP</text>
<text x="606.30" y="701.00" text-anchor="middle" dominant-baseline="central" fill="#111" style="font-size:7.0px;stroke:#111;stroke-width:0.32px;" >sgc-Maf</text>
<text transform="translate(544.00,648.80) rotate(-90)" text-anchor="middle" dominant-baseline="central" fill="#111" style="font-size:7.3px;stroke:#111;stroke-width:0.32px;" >Target:total holes ratio (%)</text>
<text x="585.00" y="603.50" text-anchor="middle" dominant-baseline="central" fill="#111" style="font-size:6.2px;stroke:#111;stroke-width:0.3px"><tspan style="font-style:italic">P</tspan> = 0.0304</text>
<path d="M569.40,612.40 V608.30 H599.50 V612.40" fill="none" stroke="#111" stroke-width="0.9"/>
<text x="9.90" y="737.20" text-anchor="middle" fill="#000" style="font-size:12.8px;font-weight:bold;stroke:#000;stroke-width:0.35px">y</text>
<text x="197.80" y="737.00" text-anchor="middle" fill="#000" style="font-size:12.8px;font-weight:bold;stroke:#000;stroke-width:0.35px">z</text>
<text x="420.00" y="737.30" text-anchor="middle" fill="#000" style="font-size:12.8px;font-weight:bold;stroke:#000;stroke-width:0.35px">aa</text>
<text x="39.50" y="736.70" text-anchor="middle" dominant-baseline="central" fill="#111" style="font-size:7.0px;stroke:#111;stroke-width:0.32px;" >GFP</text>
<text x="78.60" y="736.70" text-anchor="middle" dominant-baseline="central" fill="#111" style="font-size:7.0px;stroke:#111;stroke-width:0.32px;" >sgc-Maf</text>
<rect x="26.70" y="742.50" width="26.80" height="112.20" fill="#f0f0f0" stroke="#111" stroke-width="1.0" />
<g clip-path="url(#d17)"><g>
<ellipse cx="51.4" cy="761.6" rx="6" ry="20" fill="#888" fill-opacity="0.5" filter="url(#blur3)" transform="rotate(-28 51.4 761.6)"/>
<circle cx="42.1" cy="795.9" r="0.6" fill="#999" fill-opacity="0.28"/><circle cx="46.8" cy="812.5" r="0.8" fill="#999" fill-opacity="0.50"/><circle cx="49.6" cy="746.4" r="0.5" fill="#999" fill-opacity="0.42"/><circle cx="45.5" cy="799.1" r="0.7" fill="#999" fill-opacity="0.36"/><circle cx="33.2" cy="840.6" r="1.0" fill="#999" fill-opacity="0.42"/><circle cx="39.2" cy="756.9" r="0.8" fill="#999" fill-opacity="0.32"/><circle cx="43.5" cy="773.7" r="0.7" fill="#999" fill-opacity="0.55"/><circle cx="35.1" cy="802.5" r="0.6" fill="#999" fill-opacity="0.42"/><circle cx="49.9" cy="797.8" r="1.0" fill="#999" fill-opacity="0.39"/><circle cx="38.9" cy="814.9" r="0.7" fill="#999" fill-opacity="0.49"/><circle cx="34.5" cy="744.0" r="0.7" fill="#999" fill-opacity="0.27"/><circle cx="33.4" cy="809.6" r="0.8" fill="#999" fill-opacity="0.57"/><circle cx="44.9" cy="804.8" r="0.6" fill="#999" fill-opacity="0.42"/><circle cx="34.4" cy="754.0" r="0.7" fill="#999" fill-opacity="0.47"/><circle cx="34.9" cy="825.5" r="0.7" fill="#999" fill-opacity="0.36"/><circle cx="49.5" cy="745.0" r="0.6" fill="#999" fill-opacity="0.36"/><circle cx="44.7" cy="770.8" r="1.0" fill="#999" fill-opacity="0.29"/><circle cx="38.8" cy="795.2" r="0.8" fill="#999" fill-opacity="0.34"/><circle cx="31.0" cy="826.0" r="0.9" fill="#999" fill-opacity="0.45"/><circle cx="50.9" cy="786.8" r="0.7" fill="#999" fill-opacity="0.42"/><circle cx="30.1" cy="835.4" r="0.4" fill="#999" fill-opacity="0.28"/><circle cx="51.1" cy="793.2" r="0.5" fill="#999" fill-opacity="0.56"/><circle cx="31.8" cy="793.4" r="0.4" fill="#999" fill-opacity="0.30"/><circle cx="39.6" cy="821.1" r="0.5" fill="#999" fill-opacity="0.52"/><circle cx="44.0" cy="818.0" r="1.0" fill="#999" fill-opacity="0.42"/><circle cx="26.8" cy="748.8" r="0.9" fill="#999" fill-opacity="0.29"/><circle cx="34.0" cy="815.8" r="0.8" fill="#999" fill-opacity="0.51"/><circle cx="41.7" cy="779.2" r="0.9" fill="#999" fill-opacity="0.26"/><circle cx="33.6" cy="853.2" r="0.5" fill="#999" fill-opacity="0.54"/><circle cx="42.8" cy="813.4" r="0.8" fill="#999" fill-opacity="0.41"/><circle cx="49.2" cy="749.2" r="0.6" fill="#999" fill-opacity="0.52"/><circle cx="46.5" cy="814.5" r="0.8" fill="#999" fill-opacity="0.35"/><circle cx="42.8" cy="806.5" r="0.9" fill="#999" fill-opacity="0.33"/><circle cx="34.3" cy="778.5" r="0.5" fill="#999" fill-opacity="0.50"/><circle cx="39.9" cy="750.1" r="0.9" fill="#999" fill-opacity="0.43"/><circle cx="48.8" cy="826.0" r="0.6" fill="#999" fill-opacity="0.36"/>
<path d="M31.4,745.0 L32.3,747.5 L32.2,750.0 L33.8,752.5 L34.2,755.0 L35.0,757.5 L34.7,760.0 L35.2,762.5 L35.6,765.0 L36.3,767.6 L36.6,770.1 L37.9,772.6 L37.9,774.9 L38.8,777.3 L39.2,779.6 L39.1,782.0 L39.3,784.3 L39.9,786.7 L39.9,789.0 L41.0,791.4 L40.9,793.7 L40.9,795.9 L41.8,798.1 L41.4,800.3 L42.0,802.5 L42.1,804.7 L41.9,807.0 L41.5,809.2 L41.5,811.4 L41.7,813.6 L42.3,815.8 L42.1,818.0 L41.6,820.3 L41.0,822.7 L41.1,825.0 L40.8,827.3 L40.2,829.7 L40.1,832.0 L39.9,834.3 L39.7,836.7 L39.5,839.0 L39.1,841.3 L38.9,843.6 L37.8,845.9 L37.1,848.1 L36.8,850.4 L36.2,852.7 L36.0,855.0" fill="none" stroke="#0c0c0c" stroke-width="1.4" stroke-linejoin="round" stroke-linecap="round"/>
<line x1="40.8" y1="827.3" x2="42.2" y2="828.1" stroke="#111" stroke-width="1.3" stroke-linecap="round"/><line x1="39.5" y1="839.0" x2="41.3" y2="839.1" stroke="#111" stroke-width="1.5" stroke-linecap="round"/><line x1="36.8" y1="850.4" x2="38.4" y2="849.3" stroke="#111" stroke-width="1.0" stroke-linecap="round"/><line x1="31.4" y1="745.0" x2="30.5" y2="744.4" stroke="#111" stroke-width="0.8" stroke-linecap="round"/><line x1="38.9" y1="843.6" x2="41.3" y2="844.1" stroke="#111" stroke-width="1.3" stroke-linecap="round"/><circle cx="41.3" cy="844.1" r="1.1" fill="#111"/><line x1="39.2" y1="779.6" x2="38.1" y2="779.6" stroke="#111" stroke-width="0.9" stroke-linecap="round"/><line x1="32.2" y1="750.0" x2="30.9" y2="750.6" stroke="#111" stroke-width="1.6" stroke-linecap="round"/><line x1="40.8" y1="827.3" x2="39.7" y2="826.9" stroke="#111" stroke-width="1.5" stroke-linecap="round"/><line x1="41.0" y1="791.4" x2="42.2" y2="791.9" stroke="#111" stroke-width="1.3" stroke-linecap="round"/><circle cx="42.2" cy="791.9" r="0.8" fill="#111"/><line x1="39.1" y1="841.3" x2="36.9" y2="840.2" stroke="#111" stroke-width="1.3" stroke-linecap="round"/><line x1="41.5" y1="809.2" x2="39.0" y2="809.2" stroke="#111" stroke-width="1.2" stroke-linecap="round"/><line x1="37.9" y1="772.6" x2="39.1" y2="772.3" stroke="#111" stroke-width="1.1" stroke-linecap="round"/><line x1="41.0" y1="791.4" x2="40.1" y2="792.0" stroke="#111" stroke-width="1.7" stroke-linecap="round"/><circle cx="40.1" cy="792.0" r="0.9" fill="#111"/><line x1="39.9" y1="786.7" x2="38.6" y2="786.8" stroke="#111" stroke-width="0.8" stroke-linecap="round"/><line x1="41.5" y1="811.4" x2="42.2" y2="811.5" stroke="#111" stroke-width="1.3" stroke-linecap="round"/><line x1="37.9" y1="774.9" x2="37.1" y2="775.0" stroke="#111" stroke-width="1.7" stroke-linecap="round"/><line x1="39.1" y1="841.3" x2="40.0" y2="841.8" stroke="#111" stroke-width="1.5" stroke-linecap="round"/><circle cx="40.0" cy="841.8" r="1.2" fill="#111"/><line x1="41.4" y1="800.3" x2="40.7" y2="800.0" stroke="#111" stroke-width="0.8" stroke-linecap="round"/><circle cx="40.7" cy="800.0" r="0.7" fill="#111"/><line x1="36.2" y1="852.7" x2="37.5" y2="852.5" stroke="#111" stroke-width="1.7" stroke-linecap="round"/><line x1="41.4" y1="800.3" x2="42.1" y2="800.9" stroke="#111" stroke-width="1.7" stroke-linecap="round"/><line x1="37.9" y1="772.6" x2="39.8" y2="771.9" stroke="#111" stroke-width="1.5" stroke-linecap="round"/><line x1="35.0" y1="757.5" x2="33.8" y2="758.0" stroke="#111" stroke-width="0.9" stroke-linecap="round"/><line x1="34.2" y1="755.0" x2="33.2" y2="755.3" stroke="#111" stroke-width="1.4" stroke-linecap="round"/><line x1="36.6" y1="770.1" x2="39.1" y2="770.1" stroke="#111" stroke-width="1.2" stroke-linecap="round"/><line x1="40.9" y1="793.7" x2="39.1" y2="792.6" stroke="#111" stroke-width="1.3" stroke-linecap="round"/><line x1="33.8" y1="752.5" x2="35.3" y2="752.7" stroke="#111" stroke-width="0.9" stroke-linecap="round"/><line x1="34.2" y1="755.0" x2="35.8" y2="756.3" stroke="#111" stroke-width="1.6" stroke-linecap="round"/><line x1="37.9" y1="772.6" x2="36.0" y2="771.9" stroke="#111" stroke-width="0.9" stroke-linecap="round"/><line x1="36.2" y1="852.7" x2="34.2" y2="853.6" stroke="#111" stroke-width="1.2" stroke-linecap="round"/><line x1="37.1" y1="848.1" x2="39.3" y2="848.2" stroke="#111" stroke-width="1.0" stroke-linecap="round"/><line x1="32.3" y1="747.5" x2="30.7" y2="747.2" stroke="#111" stroke-width="1.2" stroke-linecap="round"/><circle cx="30.7" cy="747.2" r="1.2" fill="#111"/><line x1="40.9" y1="793.7" x2="39.2" y2="795.0" stroke="#111" stroke-width="1.0" stroke-linecap="round"/><line x1="34.2" y1="755.0" x2="33.1" y2="755.2" stroke="#111" stroke-width="0.7" stroke-linecap="round"/><circle cx="33.1" cy="755.2" r="1.3" fill="#111"/><line x1="36.3" y1="767.6" x2="34.9" y2="768.6" stroke="#111" stroke-width="1.1" stroke-linecap="round"/><line x1="39.9" y1="834.3" x2="37.5" y2="833.1" stroke="#111" stroke-width="1.3" stroke-linecap="round"/><circle cx="37.5" cy="833.1" r="1.1" fill="#111"/><line x1="36.2" y1="852.7" x2="34.0" y2="852.5" stroke="#111" stroke-width="0.8" stroke-linecap="round"/><circle cx="34.0" cy="852.5" r="1.0" fill="#111"/><line x1="31.4" y1="745.0" x2="33.4" y2="745.7" stroke="#111" stroke-width="1.1" stroke-linecap="round"/><line x1="40.9" y1="795.9" x2="39.8" y2="795.4" stroke="#111" stroke-width="1.6" stroke-linecap="round"/>
</g></g>
<rect x="65.40" y="742.50" width="27.20" height="112.20" fill="#f0f0f0" stroke="#111" stroke-width="1.0" />
<g clip-path="url(#d18)"><g>
<circle cx="71.8" cy="830.8" r="0.7" fill="#999" fill-opacity="0.58"/><circle cx="67.6" cy="793.7" r="1.0" fill="#999" fill-opacity="0.27"/><circle cx="73.7" cy="777.2" r="0.6" fill="#999" fill-opacity="0.60"/><circle cx="70.6" cy="834.9" r="0.6" fill="#999" fill-opacity="0.56"/><circle cx="69.4" cy="753.8" r="1.0" fill="#999" fill-opacity="0.25"/><circle cx="82.9" cy="765.4" r="0.7" fill="#999" fill-opacity="0.36"/><circle cx="82.4" cy="818.6" r="0.8" fill="#999" fill-opacity="0.29"/><circle cx="88.0" cy="769.3" r="0.8" fill="#999" fill-opacity="0.53"/><circle cx="86.4" cy="802.0" r="0.7" fill="#999" fill-opacity="0.30"/><circle cx="89.3" cy="809.2" r="0.9" fill="#999" fill-opacity="0.59"/><circle cx="84.4" cy="776.2" r="0.7" fill="#999" fill-opacity="0.31"/><circle cx="72.9" cy="838.7" r="0.8" fill="#999" fill-opacity="0.31"/><circle cx="79.6" cy="788.4" r="0.9" fill="#999" fill-opacity="0.54"/><circle cx="75.0" cy="751.8" r="0.5" fill="#999" fill-opacity="0.45"/><circle cx="75.3" cy="746.5" r="0.8" fill="#999" fill-opacity="0.47"/><circle cx="74.3" cy="745.9" r="0.6" fill="#999" fill-opacity="0.46"/><circle cx="67.1" cy="754.5" r="0.4" fill="#999" fill-opacity="0.26"/><circle cx="82.0" cy="822.6" r="0.8" fill="#999" fill-opacity="0.36"/><circle cx="75.0" cy="743.8" r="0.9" fill="#999" fill-opacity="0.43"/><circle cx="70.6" cy="755.3" r="0.6" fill="#999" fill-opacity="0.38"/><circle cx="84.4" cy="750.6" r="0.9" fill="#999" fill-opacity="0.33"/><circle cx="69.6" cy="812.5" r="0.5" fill="#999" fill-opacity="0.60"/><circle cx="83.8" cy="824.7" r="0.7" fill="#999" fill-opacity="0.56"/><circle cx="88.6" cy="804.2" r="0.5" fill="#999" fill-opacity="0.48"/><circle cx="92.4" cy="769.9" r="0.8" fill="#999" fill-opacity="0.29"/><circle cx="87.8" cy="802.8" r="0.7" fill="#999" fill-opacity="0.45"/><circle cx="79.7" cy="816.8" r="0.8" fill="#999" fill-opacity="0.35"/><circle cx="89.0" cy="756.6" r="0.8" fill="#999" fill-opacity="0.40"/><circle cx="68.2" cy="773.5" r="0.7" fill="#999" fill-opacity="0.30"/><circle cx="82.4" cy="849.3" r="0.8" fill="#999" fill-opacity="0.44"/><circle cx="81.6" cy="797.2" r="0.9" fill="#999" fill-opacity="0.49"/><circle cx="79.3" cy="826.4" r="0.8" fill="#999" fill-opacity="0.28"/><circle cx="69.3" cy="786.0" r="0.6" fill="#999" fill-opacity="0.49"/><circle cx="78.2" cy="819.1" r="0.8" fill="#999" fill-opacity="0.58"/><circle cx="80.0" cy="772.3" r="1.0" fill="#999" fill-opacity="0.37"/><circle cx="85.8" cy="769.7" r="0.6" fill="#999" fill-opacity="0.47"/>
<path d="M74.1,742.0 L75.0,744.6 L75.7,747.2 L75.3,749.8 L75.8,752.4 L75.9,755.0 L76.5,757.2 L76.7,759.4 L76.9,761.6 L77.5,763.8 L77.5,766.0 L77.3,768.2 L77.6,770.4 L78.1,772.6 L78.5,775.0 L78.2,777.4 L79.2,779.7 L79.1,782.1 L79.7,784.5 L79.2,786.9 L79.7,789.2 L79.7,791.6 L80.4,794.0 L79.8,796.3 L79.5,798.7 L78.9,801.0 L79.2,803.3 L78.6,805.7 L77.8,808.0 L77.5,810.4 L76.6,812.8 L76.9,815.2 L76.4,817.6 L75.5,820.0 L75.1,822.2 L76.1,824.4 L75.5,826.7 L75.4,828.9 L75.9,831.1 L76.0,833.3 L76.6,835.6 L76.0,837.8 L76.0,840.0 L76.5,842.3 L76.2,844.6 L77.0,846.9 L76.9,849.1 L77.4,851.4 L77.6,853.7 L77.2,856.0" fill="none" stroke="#0c0c0c" stroke-width="2.6" stroke-linejoin="round" stroke-linecap="round"/>
<line x1="79.2" y1="779.7" x2="75.2" y2="779.8" stroke="#111" stroke-width="1.7" stroke-linecap="round"/><line x1="76.4" y1="817.6" x2="73.0" y2="815.5" stroke="#111" stroke-width="2.1" stroke-linecap="round"/><line x1="77.4" y1="851.4" x2="74.6" y2="851.5" stroke="#111" stroke-width="1.7" stroke-linecap="round"/><circle cx="74.6" cy="851.5" r="0.9" fill="#111"/><line x1="76.6" y1="835.6" x2="73.6" y2="835.0" stroke="#111" stroke-width="0.8" stroke-linecap="round"/><line x1="76.5" y1="842.3" x2="80.2" y2="843.8" stroke="#111" stroke-width="1.6" stroke-linecap="round"/><line x1="77.5" y1="763.8" x2="75.5" y2="763.0" stroke="#111" stroke-width="1.2" stroke-linecap="round"/><circle cx="75.5" cy="763.0" r="1.0" fill="#111"/><line x1="76.1" y1="824.4" x2="73.7" y2="825.5" stroke="#111" stroke-width="1.7" stroke-linecap="round"/><line x1="76.6" y1="812.8" x2="75.2" y2="813.6" stroke="#111" stroke-width="2.0" stroke-linecap="round"/><circle cx="75.2" cy="813.6" r="0.8" fill="#111"/><line x1="79.7" y1="791.6" x2="77.1" y2="791.9" stroke="#111" stroke-width="1.3" stroke-linecap="round"/><circle cx="77.1" cy="791.9" r="1.1" fill="#111"/><line x1="76.6" y1="835.6" x2="79.1" y2="834.8" stroke="#111" stroke-width="1.6" stroke-linecap="round"/><line x1="76.0" y1="833.3" x2="72.6" y2="831.5" stroke="#111" stroke-width="1.3" stroke-linecap="round"/><line x1="78.6" y1="805.7" x2="80.0" y2="806.7" stroke="#111" stroke-width="1.9" stroke-linecap="round"/><circle cx="80.0" cy="806.7" r="1.6" fill="#111"/><line x1="79.7" y1="784.5" x2="81.3" y2="784.7" stroke="#111" stroke-width="1.1" stroke-linecap="round"/><circle cx="81.3" cy="784.7" r="0.8" fill="#111"/><line x1="79.2" y1="786.9" x2="77.0" y2="786.8" stroke="#111" stroke-width="1.9" stroke-linecap="round"/><circle cx="77.0" cy="786.8" r="1.6" fill="#111"/><line x1="76.6" y1="835.6" x2="79.4" y2="835.9" stroke="#111" stroke-width="1.3" stroke-linecap="round"/><line x1="75.9" y1="831.1" x2="74.3" y2="831.1" stroke="#111" stroke-width="1.3" stroke-linecap="round"/><line x1="79.7" y1="789.2" x2="76.2" y2="790.7" stroke="#111" stroke-width="1.8" stroke-linecap="round"/><circle cx="76.2" cy="790.7" r="1.0" fill="#111"/><line x1="77.5" y1="763.8" x2="80.4" y2="766.2" stroke="#111" stroke-width="1.7" stroke-linecap="round"/><circle cx="80.4" cy="766.2" r="1.7" fill="#111"/><line x1="79.2" y1="779.7" x2="82.4" y2="778.0" stroke="#111" stroke-width="2.0" stroke-linecap="round"/><circle cx="82.4" cy="778.0" r="1.6" fill="#111"/><line x1="79.5" y1="798.7" x2="80.9" y2="798.2" stroke="#111" stroke-width="1.5" stroke-linecap="round"/><line x1="77.5" y1="810.4" x2="81.5" y2="809.9" stroke="#111" stroke-width="1.0" stroke-linecap="round"/><circle cx="81.5" cy="809.9" r="1.5" fill="#111"/><line x1="78.9" y1="801.0" x2="75.1" y2="801.2" stroke="#111" stroke-width="1.4" stroke-linecap="round"/><circle cx="75.1" cy="801.2" r="1.5" fill="#111"/><line x1="79.2" y1="786.9" x2="82.1" y2="787.0" stroke="#111" stroke-width="0.7" stroke-linecap="round"/><line x1="76.2" y1="844.6" x2="73.8" y2="846.3" stroke="#111" stroke-width="2.0" stroke-linecap="round"/><line x1="76.6" y1="835.6" x2="80.2" y2="837.3" stroke="#111" stroke-width="0.7" stroke-linecap="round"/><line x1="76.0" y1="837.8" x2="72.7" y2="839.0" stroke="#111" stroke-width="1.4" stroke-linecap="round"/><line x1="78.2" y1="777.4" x2="81.3" y2="776.4" stroke="#111" stroke-width="1.3" stroke-linecap="round"/><line x1="79.7" y1="784.5" x2="83.3" y2="786.5" stroke="#111" stroke-width="1.7" stroke-linecap="round"/><line x1="75.5" y1="826.7" x2="78.2" y2="825.3" stroke="#111" stroke-width="1.8" stroke-linecap="round"/><line x1="79.7" y1="791.6" x2="78.3" y2="791.3" stroke="#111" stroke-width="1.4" stroke-linecap="round"/><line x1="79.1" y1="782.1" x2="76.2" y2="782.9" stroke="#111" stroke-width="0.8" stroke-linecap="round"/><line x1="77.5" y1="810.4" x2="75.0" y2="810.1" stroke="#111" stroke-width="1.8" stroke-linecap="round"/><circle cx="75.0" cy="810.1" r="1.6" fill="#111"/><line x1="79.1" y1="782.1" x2="81.7" y2="783.3" stroke="#111" stroke-width="0.7" stroke-linecap="round"/><circle cx="81.7" cy="783.3" r="1.5" fill="#111"/><line x1="79.2" y1="786.9" x2="77.2" y2="785.9" stroke="#111" stroke-width="1.7" stroke-linecap="round"/><line x1="76.0" y1="837.8" x2="78.4" y2="836.7" stroke="#111" stroke-width="2.0" stroke-linecap="round"/><line x1="75.7" y1="747.2" x2="72.0" y2="747.2" stroke="#111" stroke-width="1.0" stroke-linecap="round"/><line x1="76.9" y1="761.6" x2="78.4" y2="762.0" stroke="#111" stroke-width="0.9" stroke-linecap="round"/><line x1="76.4" y1="817.6" x2="74.9" y2="818.6" stroke="#111" stroke-width="1.5" stroke-linecap="round"/><line x1="75.9" y1="831.1" x2="79.4" y2="830.0" stroke="#111" stroke-width="1.0" stroke-linecap="round"/><circle cx="79.4" cy="830.0" r="1.0" fill="#111"/><line x1="76.0" y1="833.3" x2="78.3" y2="833.2" stroke="#111" stroke-width="1.0" stroke-linecap="round"/><line x1="79.5" y1="798.7" x2="76.3" y2="796.4" stroke="#111" stroke-width="0.9" stroke-linecap="round"/><line x1="75.4" y1="828.9" x2="77.2" y2="828.5" stroke="#111" stroke-width="1.9" stroke-linecap="round"/><line x1="76.5" y1="842.3" x2="74.1" y2="844.3" stroke="#111" stroke-width="1.3" stroke-linecap="round"/><line x1="77.2" y1="856.0" x2="73.4" y2="857.3" stroke="#111" stroke-width="1.6" stroke-linecap="round"/><circle cx="73.4" cy="857.3" r="1.1" fill="#111"/><line x1="76.0" y1="837.8" x2="73.7" y2="837.8" stroke="#111" stroke-width="1.5" stroke-linecap="round"/><line x1="78.2" y1="777.4" x2="79.6" y2="778.3" stroke="#111" stroke-width="2.0" stroke-linecap="round"/><line x1="77.3" y1="768.2" x2="81.4" y2="767.9" stroke="#111" stroke-width="1.0" stroke-linecap="round"/><line x1="76.1" y1="824.4" x2="73.7" y2="823.4" stroke="#111" stroke-width="1.1" stroke-linecap="round"/><line x1="76.0" y1="837.8" x2="74.4" y2="837.9" stroke="#111" stroke-width="0.9" stroke-linecap="round"/><circle cx="74.4" cy="837.9" r="1.1" fill="#111"/><line x1="77.4" y1="851.4" x2="80.8" y2="850.9" stroke="#111" stroke-width="1.7" stroke-linecap="round"/><line x1="77.6" y1="853.7" x2="80.0" y2="855.2" stroke="#111" stroke-width="1.2" stroke-linecap="round"/><line x1="76.9" y1="761.6" x2="75.1" y2="762.1" stroke="#111" stroke-width="2.0" stroke-linecap="round"/><circle cx="75.1" cy="762.1" r="1.7" fill="#111"/><line x1="78.1" y1="772.6" x2="75.8" y2="772.1" stroke="#111" stroke-width="2.1" stroke-linecap="round"/><line x1="77.6" y1="853.7" x2="75.3" y2="853.2" stroke="#111" stroke-width="0.9" stroke-linecap="round"/><line x1="79.8" y1="796.3" x2="77.3" y2="794.9" stroke="#111" stroke-width="2.0" stroke-linecap="round"/><circle cx="77.3" cy="794.9" r="1.2" fill="#111"/><line x1="76.1" y1="824.4" x2="79.6" y2="822.5" stroke="#111" stroke-width="0.9" stroke-linecap="round"/><line x1="79.7" y1="791.6" x2="76.5" y2="792.6" stroke="#111" stroke-width="1.0" stroke-linecap="round"/><line x1="79.7" y1="784.5" x2="81.3" y2="783.9" stroke="#111" stroke-width="1.9" stroke-linecap="round"/><circle cx="81.3" cy="783.9" r="1.2" fill="#111"/><line x1="79.7" y1="784.5" x2="80.7" y2="783.6" stroke="#111" stroke-width="1.7" stroke-linecap="round"/><circle cx="80.7" cy="783.6" r="1.0" fill="#111"/><line x1="78.9" y1="801.0" x2="81.0" y2="801.1" stroke="#111" stroke-width="1.2" stroke-linecap="round"/><line x1="75.8" y1="752.4" x2="73.5" y2="751.0" stroke="#111" stroke-width="1.7" stroke-linecap="round"/><circle cx="73.5" cy="751.0" r="1.7" fill="#111"/><line x1="79.7" y1="791.6" x2="78.2" y2="792.5" stroke="#111" stroke-width="1.5" stroke-linecap="round"/><circle cx="78.2" cy="792.5" r="1.6" fill="#111"/><line x1="76.5" y1="757.2" x2="78.9" y2="756.9" stroke="#111" stroke-width="1.6" stroke-linecap="round"/><line x1="76.1" y1="824.4" x2="72.8" y2="822.7" stroke="#111" stroke-width="1.9" stroke-linecap="round"/><line x1="78.9" y1="801.0" x2="82.0" y2="799.8" stroke="#111" stroke-width="1.1" stroke-linecap="round"/><line x1="79.2" y1="786.9" x2="81.9" y2="786.1" stroke="#111" stroke-width="1.1" stroke-linecap="round"/><circle cx="81.9" cy="786.1" r="1.2" fill="#111"/><line x1="78.5" y1="775.0" x2="74.7" y2="773.7" stroke="#111" stroke-width="2.0" stroke-linecap="round"/><line x1="76.9" y1="761.6" x2="74.9" y2="763.0" stroke="#111" stroke-width="1.1" stroke-linecap="round"/><line x1="76.4" y1="817.6" x2="73.3" y2="815.7" stroke="#111" stroke-width="0.7" stroke-linecap="round"/><line x1="80.4" y1="794.0" x2="79.1" y2="793.6" stroke="#111" stroke-width="1.8" stroke-linecap="round"/><line x1="79.8" y1="796.3" x2="76.9" y2="797.1" stroke="#111" stroke-width="1.7" stroke-linecap="round"/><line x1="78.1" y1="772.6" x2="79.5" y2="771.9" stroke="#111" stroke-width="1.4" stroke-linecap="round"/><line x1="77.5" y1="810.4" x2="79.8" y2="810.5" stroke="#111" stroke-width="2.1" stroke-linecap="round"/><line x1="74.1" y1="742.0" x2="72.5" y2="742.4" stroke="#111" stroke-width="1.4" stroke-linecap="round"/><line x1="76.6" y1="835.6" x2="72.9" y2="836.5" stroke="#111" stroke-width="1.6" stroke-linecap="round"/><circle cx="72.9" cy="836.5" r="1.6" fill="#111"/><line x1="79.5" y1="798.7" x2="80.7" y2="798.1" stroke="#111" stroke-width="2.0" stroke-linecap="round"/><line x1="76.5" y1="842.3" x2="78.1" y2="841.7" stroke="#111" stroke-width="1.4" stroke-linecap="round"/><line x1="75.9" y1="755.0" x2="71.9" y2="756.2" stroke="#111" stroke-width="0.9" stroke-linecap="round"/><circle cx="71.9" cy="756.2" r="1.5" fill="#111"/><line x1="79.5" y1="798.7" x2="81.1" y2="798.2" stroke="#111" stroke-width="1.5" stroke-linecap="round"/><line x1="76.0" y1="833.3" x2="72.2" y2="832.2" stroke="#111" stroke-width="0.9" stroke-linecap="round"/><line x1="79.7" y1="784.5" x2="82.6" y2="785.2" stroke="#111" stroke-width="1.0" stroke-linecap="round"/><line x1="75.9" y1="831.1" x2="79.1" y2="830.9" stroke="#111" stroke-width="1.1" stroke-linecap="round"/><circle cx="79.1" cy="830.9" r="1.0" fill="#111"/><line x1="76.1" y1="824.4" x2="77.7" y2="824.9" stroke="#111" stroke-width="1.9" stroke-linecap="round"/><circle cx="77.7" cy="824.9" r="1.6" fill="#111"/><line x1="75.9" y1="831.1" x2="79.0" y2="829.3" stroke="#111" stroke-width="1.6" stroke-linecap="round"/><line x1="77.4" y1="851.4" x2="75.7" y2="850.7" stroke="#111" stroke-width="2.0" stroke-linecap="round"/><line x1="77.6" y1="853.7" x2="81.2" y2="853.4" stroke="#111" stroke-width="2.0" stroke-linecap="round"/><line x1="75.5" y1="820.0" x2="73.6" y2="820.4" stroke="#111" stroke-width="1.1" stroke-linecap="round"/><line x1="76.0" y1="837.8" x2="78.5" y2="838.7" stroke="#111" stroke-width="0.8" stroke-linecap="round"/><line x1="77.0" y1="846.9" x2="78.3" y2="846.6" stroke="#111" stroke-width="2.1" stroke-linecap="round"/><circle cx="78.3" cy="846.6" r="1.6" fill="#111"/><line x1="79.2" y1="786.9" x2="82.2" y2="786.4" stroke="#111" stroke-width="1.1" stroke-linecap="round"/><line x1="78.1" y1="772.6" x2="80.8" y2="771.9" stroke="#111" stroke-width="1.1" stroke-linecap="round"/><line x1="76.6" y1="812.8" x2="80.2" y2="812.7" stroke="#111" stroke-width="1.7" stroke-linecap="round"/><line x1="77.6" y1="770.4" x2="74.2" y2="770.2" stroke="#111" stroke-width="1.1" stroke-linecap="round"/><line x1="78.9" y1="801.0" x2="81.3" y2="799.7" stroke="#111" stroke-width="1.6" stroke-linecap="round"/><circle cx="81.3" cy="799.7" r="1.6" fill="#111"/><line x1="76.6" y1="835.6" x2="79.0" y2="836.0" stroke="#111" stroke-width="1.4" stroke-linecap="round"/><line x1="75.0" y1="744.6" x2="76.6" y2="745.9" stroke="#111" stroke-width="1.7" stroke-linecap="round"/><circle cx="76.6" cy="745.9" r="1.5" fill="#111"/><line x1="76.9" y1="815.2" x2="79.2" y2="814.8" stroke="#111" stroke-width="0.7" stroke-linecap="round"/><line x1="79.7" y1="784.5" x2="81.5" y2="785.6" stroke="#111" stroke-width="1.4" stroke-linecap="round"/><line x1="77.6" y1="770.4" x2="81.3" y2="771.7" stroke="#111" stroke-width="1.2" stroke-linecap="round"/><line x1="75.1" y1="822.2" x2="73.8" y2="822.0" stroke="#111" stroke-width="1.5" stroke-linecap="round"/><circle cx="73.8" cy="822.0" r="1.2" fill="#111"/><line x1="77.5" y1="810.4" x2="75.6" y2="809.5" stroke="#111" stroke-width="0.8" stroke-linecap="round"/><line x1="79.8" y1="796.3" x2="76.9" y2="795.5" stroke="#111" stroke-width="0.7" stroke-linecap="round"/><line x1="75.8" y1="752.4" x2="77.7" y2="753.3" stroke="#111" stroke-width="1.6" stroke-linecap="round"/><line x1="75.9" y1="831.1" x2="79.0" y2="832.0" stroke="#111" stroke-width="1.1" stroke-linecap="round"/><circle cx="79.0" cy="832.0" r="1.3" fill="#111"/><line x1="76.2" y1="844.6" x2="80.0" y2="845.7" stroke="#111" stroke-width="0.8" stroke-linecap="round"/><line x1="76.2" y1="844.6" x2="79.5" y2="845.9" stroke="#111" stroke-width="2.0" stroke-linecap="round"/><line x1="75.0" y1="744.6" x2="77.3" y2="745.8" stroke="#111" stroke-width="1.3" stroke-linecap="round"/><line x1="77.8" y1="808.0" x2="79.3" y2="808.4" stroke="#111" stroke-width="1.2" stroke-linecap="round"/><line x1="75.9" y1="755.0" x2="77.3" y2="754.9" stroke="#111" stroke-width="1.1" stroke-linecap="round"/><line x1="76.5" y1="842.3" x2="72.8" y2="841.6" stroke="#111" stroke-width="2.0" stroke-linecap="round"/><line x1="75.8" y1="752.4" x2="77.8" y2="751.1" stroke="#111" stroke-width="1.8" stroke-linecap="round"/><line x1="75.0" y1="744.6" x2="72.9" y2="746.3" stroke="#111" stroke-width="1.1" stroke-linecap="round"/><circle cx="72.9" cy="746.3" r="1.1" fill="#111"/><line x1="77.2" y1="856.0" x2="80.2" y2="856.5" stroke="#111" stroke-width="1.0" stroke-linecap="round"/><line x1="79.2" y1="779.7" x2="76.8" y2="781.0" stroke="#111" stroke-width="1.7" stroke-linecap="round"/><line x1="77.4" y1="851.4" x2="73.9" y2="853.0" stroke="#111" stroke-width="1.3" stroke-linecap="round"/><circle cx="73.9" cy="853.0" r="1.2" fill="#111"/><line x1="76.2" y1="844.6" x2="72.7" y2="844.2" stroke="#111" stroke-width="1.2" stroke-linecap="round"/><line x1="79.2" y1="803.3" x2="80.6" y2="803.0" stroke="#111" stroke-width="1.7" stroke-linecap="round"/><line x1="75.1" y1="822.2" x2="72.4" y2="822.1" stroke="#111" stroke-width="1.4" stroke-linecap="round"/><line x1="76.2" y1="844.6" x2="77.3" y2="843.9" stroke="#111" stroke-width="0.9" stroke-linecap="round"/><line x1="76.0" y1="837.8" x2="74.4" y2="838.4" stroke="#111" stroke-width="1.7" stroke-linecap="round"/>
</g></g>
<rect x="88.20" y="838.40" width="2.60" height="6.20" fill="#111" stroke="none" stroke-width="0" />
<text transform="translate(96.10,843.50) rotate(-90)" text-anchor="middle" dominant-baseline="central" fill="#111" style="font-size:6.4px;stroke:#111;stroke-width:0.32px;" >2.5 μm</text>
<line x1="127.70" y1="748.30" x2="127.70" y2="840.40" stroke="#333" stroke-width="1.25" />
<line x1="124.70" y1="839.90" x2="127.70" y2="839.90" stroke="#333" stroke-width="0.9" />
<text x="123.30" y="839.60" text-anchor="end" dominant-baseline="central" fill="#111" style="font-size:6.3px;stroke:#111;stroke-width:0.32px;letter-spacing:0.3px;" >0</text>
<line x1="124.70" y1="809.53" x2="127.70" y2="809.53" stroke="#333" stroke-width="0.9" />
<text x="123.30" y="809.23" text-anchor="end" dominant-baseline="central" fill="#111" style="font-size:6.3px;stroke:#111;stroke-width:0.32px;letter-spacing:0.3px;" >5</text>
<line x1="124.70" y1="779.17" x2="127.70" y2="779.17" stroke="#333" stroke-width="0.9" />
<text x="123.30" y="778.87" text-anchor="end" dominant-baseline="central" fill="#111" style="font-size:6.3px;stroke:#111;stroke-width:0.32px;letter-spacing:0.3px;" >10</text>
<line x1="124.70" y1="748.80" x2="127.70" y2="748.80" stroke="#333" stroke-width="0.9" />
<text x="123.30" y="748.50" text-anchor="end" dominant-baseline="central" fill="#111" style="font-size:6.3px;stroke:#111;stroke-width:0.32px;letter-spacing:0.3px;" >15</text>
<rect x="130.20" y="801.64" width="9.20" height="38.26" fill="#d2d2d4" stroke="#111" stroke-width="1.2" />
<line x1="134.80" y1="796.78" x2="134.80" y2="806.50" stroke="#111" stroke-width="0.9" />
<line x1="132.60" y1="796.78" x2="137.00" y2="796.78" stroke="#111" stroke-width="0.9" />
<line x1="132.60" y1="806.50" x2="137.00" y2="806.50" stroke="#111" stroke-width="0.9" />
<text x="134.80" y="836.70" text-anchor="middle" dominant-baseline="central" fill="#fff" style="font-size:5.2px;stroke:#fff;stroke-width:0.32px;font-weight:bold;" >20</text>
<rect x="158.40" y="782.81" width="9.10" height="57.09" fill="#579f94" stroke="#111" stroke-width="1.2" />
<line x1="162.95" y1="779.17" x2="162.95" y2="786.45" stroke="#111" stroke-width="0.9" />
<line x1="160.75" y1="779.17" x2="165.15" y2="779.17" stroke="#111" stroke-width="0.9" />
<line x1="160.75" y1="786.45" x2="165.15" y2="786.45" stroke="#111" stroke-width="0.9" />
<text x="162.95" y="836.70" text-anchor="middle" dominant-baseline="central" fill="#fff" style="font-size:5.2px;stroke:#fff;stroke-width:0.32px;font-weight:bold;" >20</text>
<circle cx="148.70" cy="760.95" r="1.65" fill="#fff" stroke="#111" stroke-width="1.1"/>
<circle cx="148.70" cy="767.02" r="1.65" fill="#fff" stroke="#111" stroke-width="1.1"/>
<circle cx="147.35" cy="773.09" r="1.65" fill="#fff" stroke="#111" stroke-width="1.1"/>
<circle cx="150.05" cy="773.09" r="1.65" fill="#fff" stroke="#111" stroke-width="1.1"/>
<circle cx="148.70" cy="779.17" r="1.65" fill="#fff" stroke="#111" stroke-width="1.1"/>
<circle cx="148.70" cy="785.24" r="1.65" fill="#fff" stroke="#111" stroke-width="1.1"/>
<circle cx="148.70" cy="791.31" r="1.65" fill="#fff" stroke="#111" stroke-width="1.1"/>
<circle cx="146.00" cy="803.46" r="1.65" fill="#fff" stroke="#111" stroke-width="1.1"/>
<circle cx="148.70" cy="803.46" r="1.65" fill="#fff" stroke="#111" stroke-width="1.1"/>
<circle cx="151.40" cy="803.46" r="1.65" fill="#fff" stroke="#111" stroke-width="1.1"/>
<circle cx="148.70" cy="809.53" r="1.65" fill="#fff" stroke="#111" stroke-width="1.1"/>
<circle cx="148.70" cy="815.61" r="1.65" fill="#fff" stroke="#111" stroke-width="1.1"/>
<circle cx="144.65" cy="821.68" r="1.65" fill="#fff" stroke="#111" stroke-width="1.1"/>
<circle cx="147.35" cy="821.68" r="1.65" fill="#fff" stroke="#111" stroke-width="1.1"/>
<circle cx="150.05" cy="821.68" r="1.65" fill="#fff" stroke="#111" stroke-width="1.1"/>
<circle cx="152.75" cy="821.68" r="1.65" fill="#fff" stroke="#111" stroke-width="1.1"/>
<circle cx="148.70" cy="827.75" r="1.65" fill="#fff" stroke="#111" stroke-width="1.1"/>
<circle cx="176.90" cy="754.87" r="1.65" fill="#fff" stroke="#111" stroke-width="1.1"/>
<circle cx="175.55" cy="760.95" r="1.65" fill="#fff" stroke="#111" stroke-width="1.1"/>
<circle cx="178.25" cy="760.95" r="1.65" fill="#fff" stroke="#111" stroke-width="1.1"/>
<circle cx="176.90" cy="767.02" r="1.65" fill="#fff" stroke="#111" stroke-width="1.1"/>
<circle cx="176.90" cy="773.09" r="1.65" fill="#fff" stroke="#111" stroke-width="1.1"/>
<circle cx="176.90" cy="779.17" r="1.65" fill="#fff" stroke="#111" stroke-width="1.1"/>
<circle cx="172.85" cy="785.24" r="1.65" fill="#fff" stroke="#111" stroke-width="1.1"/>
<circle cx="175.55" cy="785.24" r="1.65" fill="#fff" stroke="#111" stroke-width="1.1"/>
<circle cx="178.25" cy="785.24" r="1.65" fill="#fff" stroke="#111" stroke-width="1.1"/>
<circle cx="180.95" cy="785.24" r="1.65" fill="#fff" stroke="#111" stroke-width="1.1"/>
<circle cx="174.20" cy="791.31" r="1.65" fill="#fff" stroke="#111" stroke-width="1.1"/>
<circle cx="176.90" cy="791.31" r="1.65" fill="#fff" stroke="#111" stroke-width="1.1"/>
<circle cx="179.60" cy="791.31" r="1.65" fill="#fff" stroke="#111" stroke-width="1.1"/>
<circle cx="175.55" cy="797.39" r="1.65" fill="#fff" stroke="#111" stroke-width="1.1"/>
<circle cx="178.25" cy="797.39" r="1.65" fill="#fff" stroke="#111" stroke-width="1.1"/>
<circle cx="175.55" cy="803.46" r="1.65" fill="#fff" stroke="#111" stroke-width="1.1"/>
<circle cx="178.25" cy="803.46" r="1.65" fill="#fff" stroke="#111" stroke-width="1.1"/>
<circle cx="176.90" cy="809.53" r="1.65" fill="#fff" stroke="#111" stroke-width="1.1"/>
<text x="140.00" y="848.80" text-anchor="middle" dominant-baseline="central" fill="#111" style="font-size:7.0px;stroke:#111;stroke-width:0.32px;" >GFP</text>
<text x="170.10" y="848.80" text-anchor="middle" dominant-baseline="central" fill="#111" style="font-size:7.0px;stroke:#111;stroke-width:0.32px;" >sgc-Maf</text>
<text transform="translate(107.60,795.50) rotate(-90)" text-anchor="middle" dominant-baseline="central" fill="#111" style="font-size:7.3px;stroke:#111;stroke-width:0.32px;" >Spine density (per 10 μm)</text>
<text x="150.50" y="744.80" text-anchor="middle" dominant-baseline="central" fill="#111" style="font-size:6.2px;stroke:#111;stroke-width:0.3px"><tspan style="font-style:italic">P</tspan> = 0.0038</text>
<path d="M135.30,753.20 V748.80 H165.40 V753.20" fill="none" stroke="#111" stroke-width="0.9"/>
<text x="245.80" y="736.20" text-anchor="middle" dominant-baseline="central" fill="#111" style="font-size:6.9px;stroke:#111;stroke-width:0.32px;" >CA1</text>
<text x="309.40" y="736.20" text-anchor="middle" dominant-baseline="central" fill="#111" style="font-size:6.9px;stroke:#111;stroke-width:0.32px;" >CA3</text>
<text x="371.40" y="736.20" text-anchor="middle" dominant-baseline="central" fill="#111" style="font-size:6.9px;stroke:#111;stroke-width:0.32px;" >DG</text>
<line x1="204.50" y1="742.40" x2="204.50" y2="854.50" stroke="#555" stroke-width="1.3" />
<text transform="translate(209.60,769.70) rotate(-90)" text-anchor="middle" dominant-baseline="central" fill="#111" style="font-size:6.3px;stroke:#111;stroke-width:0.32px;" >GFP</text>
<text transform="translate(209.60,828.80) rotate(-90)" text-anchor="middle" dominant-baseline="central" fill="#111" style="font-size:6.3px;stroke:#111;stroke-width:0.32px;" >sgc-Maf</text>
<text transform="translate(198.50,795.30) rotate(-90)" text-anchor="middle" dominant-baseline="central" fill="#e8304a" style="font-size:6.6px;stroke:#e8304a;stroke-width:0.32px;" >AT8</text>
<g clip-path="url(#c19)"><g filter="url(#soft)">
<rect x="216.30" y="741.10" width="57.40" height="113.40" fill="#050509" stroke="none" stroke-width="0" />
<rect x="216.30" y="741.10" width="57.40" height="113.40" fill="#000" stroke="none" stroke-width="0" filter="url(#fBg)"/>
<path d="M214.0,766.0 L245.0,762.0 L276.0,766.0 L276.0,776.0 L245.0,773.0 L214.0,776.0 Z" fill="#7a2848" fill-opacity="0.4" filter="url(#blur2)"/>
<path d="M214.0,766.0 L245.0,762.0 L276.0,766.0 L276.0,776.0 L245.0,773.0 L214.0,776.0 Z" fill="#000" filter="url(#fB)"/>
<path d="M214.0,766.0 L245.0,762.0 L276.0,766.0 L276.0,776.0 L245.0,773.0 L214.0,776.0 Z" fill="#000" filter="url(#fR)"/>
<path d="M214.0,819.0 L245.0,818.0 L276.0,819.0 L276.0,830.0 L245.0,829.0 L214.0,830.0 Z" fill="#502a60" fill-opacity="0.4" filter="url(#blur2)"/>
<path d="M214.0,819.0 L245.0,818.0 L276.0,819.0 L276.0,830.0 L245.0,829.0 L214.0,830.0 Z" fill="#000" filter="url(#fB)"/>
<path d="M214.0,819.0 L245.0,818.0 L276.0,819.0 L276.0,830.0 L245.0,829.0 L214.0,830.0 Z" fill="#000" filter="url(#fRm)"/>
<line x1="216.30" y1="797.80" x2="273.70" y2="797.80" stroke="#383838" stroke-width="0.5" filter="none"/>
</g></g>
<g clip-path="url(#c20)"><g filter="url(#soft)">
<rect x="281.10" y="741.10" width="56.80" height="113.40" fill="#050509" stroke="none" stroke-width="0" />
<rect x="281.10" y="741.10" width="56.80" height="113.40" fill="#000" stroke="none" stroke-width="0" filter="url(#fBg)"/>
<path d="M293.8,741.1 Q329.6,769.5 293.8,797.8 Q331.2,826.2 295.0,854.5 L317.3,854.5 Q337.3,826.2 317.3,797.8 Q337.3,769.5 317.3,741.1 Z" fill="#6a2038" fill-opacity="0.6" filter="url(#blur2)"/>
<path d="M293.8,741.1 Q329.6,769.5 293.8,797.8 Q331.2,826.2 295.0,854.5 L317.3,854.5 Q337.3,826.2 317.3,797.8 Q337.3,769.5 317.3,741.1 Z" fill="#000" filter="url(#fBs)"/>
<path d="M293.8,741.1 Q329.6,769.5 293.8,797.8 Q331.2,826.2 295.0,854.5 L317.3,854.5 Q337.3,826.2 317.3,797.8 Q337.3,769.5 317.3,741.1 Z" fill="#000" filter="url(#fR)"/>
<path d="M293.8,741.1 Q329.6,769.5 293.8,797.8 Q331.2,826.2 295.0,854.5" fill="none" stroke="#f4f4f4" stroke-width="1.0" stroke-dasharray="1.0 1.3"/>
<path d="M317.3,741.1 Q337.3,769.5 317.3,797.8 Q337.3,826.2 317.3,854.5" fill="none" stroke="#f4f4f4" stroke-width="1.0" stroke-dasharray="1.0 1.3"/>
<line x1="281.10" y1="797.80" x2="337.90" y2="797.80" stroke="#383838" stroke-width="0.5" filter="none"/>
</g></g>
<g clip-path="url(#c21)"><g filter="url(#soft)">
<rect x="345.30" y="741.00" width="56.40" height="113.40" fill="#050509" stroke="none" stroke-width="0" />
<rect x="345.30" y="741.00" width="56.40" height="113.40" fill="#000" stroke="none" stroke-width="0" filter="url(#fBg)"/>
<path d="M343.0,754.6 L403.0,744.9 L403.0,760.2 L343.0,767.1 Z" fill="#48307a" fill-opacity="0.4" filter="url(#blur2)"/>
<path d="M343.0,754.6 L403.0,744.9 L403.0,760.2 L343.0,767.1 Z" fill="#000" filter="url(#fBd)"/>
<path d="M343.0,754.6 L403.0,744.9 L403.0,760.2 L343.0,767.1 Z" fill="#000" filter="url(#fRs)"/>
<path d="M343.0,783.7 L373.0,782.0 L403.0,785.1 L403.0,794.8 L373.0,793.0 L343.0,794.1 Z" fill="#48307a" fill-opacity="0.4" filter="url(#blur2)"/>
<path d="M343.0,783.7 L373.0,782.0 L403.0,785.1 L403.0,794.8 L373.0,793.0 L343.0,794.1 Z" fill="#000" filter="url(#fBd)"/>
<path d="M343.0,783.7 L373.0,782.0 L403.0,785.1 L403.0,794.8 L373.0,793.0 L343.0,794.1 Z" fill="#000" filter="url(#fRs)"/>
<path d="M343.0,810.1 L403.0,803.1 L403.0,817.0 L343.0,823.9 Z" fill="#48307a" fill-opacity="0.4" filter="url(#blur2)"/>
<path d="M343.0,810.1 L403.0,803.1 L403.0,817.0 L343.0,823.9 Z" fill="#000" filter="url(#fBd)"/>
<path d="M343.0,810.1 L403.0,803.1 L403.0,817.0 L343.0,823.9 Z" fill="#000" filter="url(#fRs)"/>
<path d="M343.0,838.5 L403.0,838.5 L403.0,851.0 L343.0,851.0 Z" fill="#48307a" fill-opacity="0.4" filter="url(#blur2)"/>
<path d="M343.0,838.5 L403.0,838.5 L403.0,851.0 L343.0,851.0 Z" fill="#000" filter="url(#fBd)"/>
<path d="M343.0,838.5 L403.0,838.5 L403.0,851.0 L343.0,851.0 Z" fill="#000" filter="url(#fRs)"/>
<circle cx="366.3" cy="765.7" r="0.80" fill="#d02a3c" fill-opacity="0.9"/>
<circle cx="369.0" cy="767.5" r="0.72" fill="#d02a3c" fill-opacity="0.9"/>
<circle cx="376.7" cy="770.6" r="0.88" fill="#d02a3c" fill-opacity="0.9"/>
<circle cx="351.1" cy="779.6" r="0.96" fill="#d02a3c" fill-opacity="0.9"/>
<circle cx="363.6" cy="781.0" r="0.80" fill="#d02a3c" fill-opacity="0.9"/>
<circle cx="348.3" cy="776.8" r="0.80" fill="#d02a3c" fill-opacity="0.9"/>
<circle cx="380.2" cy="822.5" r="0.88" fill="#d02a3c" fill-opacity="0.9"/>
<circle cx="369.8" cy="832.2" r="0.88" fill="#d02a3c" fill-opacity="0.9"/>
<circle cx="353.2" cy="833.6" r="0.72" fill="#d02a3c" fill-opacity="0.9"/>
<text x="392.00" y="844.90" text-anchor="middle" dominant-baseline="central" fill="#fff" style="font-size:5.8px;stroke:#fff;stroke-width:0.32px;font-weight:bold;" >50 μm</text>
<rect x="387.80" y="849.40" width="9.50" height="2.60" fill="#fff" stroke="none" stroke-width="0" />
</g></g>
<line x1="422.70" y1="742.40" x2="422.70" y2="854.50" stroke="#555" stroke-width="1.3" />
<text transform="translate(429.00,769.70) rotate(-90)" text-anchor="middle" dominant-baseline="central" fill="#111" style="font-size:6.3px;stroke:#111;stroke-width:0.32px;" >GFP</text>
<text transform="translate(429.00,825.50) rotate(-90)" text-anchor="middle" dominant-baseline="central" fill="#111" style="font-size:6.3px;stroke:#111;stroke-width:0.32px;" >sgc-Maf</text>
<text transform="translate(417.10,794.20) rotate(-90)" text-anchor="middle" dominant-baseline="central" fill="#20b050" style="font-size:6.6px;stroke:#20b050;stroke-width:0.32px;" >6E10</text>
<g clip-path="url(#c22)"><g filter="url(#soft)">
<rect x="433.20" y="740.60" width="56.60" height="114.00" fill="#050509" stroke="none" stroke-width="0" />
<rect x="433.20" y="740.60" width="56.60" height="114.00" fill="#000" stroke="none" stroke-width="0" filter="url(#fBg)"/>
<path d="M431.0,763.0 L492.0,763.0 L492.0,771.2 L431.0,771.2 Z" fill="#2a3488" fill-opacity="0.4" filter="url(#blur2)"/>
<path d="M431.0,763.0 L492.0,763.0 L492.0,771.2 L431.0,771.2 Z" fill="#000" filter="url(#fB)"/>
<path d="M431.0,820.0 L460.0,819.0 L492.0,820.0 L492.0,830.3 L460.0,829.3 L431.0,830.3 Z" fill="#2a3488" fill-opacity="0.4" filter="url(#blur2)"/>
<path d="M431.0,820.0 L460.0,819.0 L492.0,820.0 L492.0,830.3 L460.0,829.3 L431.0,830.3 Z" fill="#000" filter="url(#fB)"/>
<circle cx="480.9" cy="745.3" r="2.5" fill="#2a9a50" fill-opacity="0.45" filter="url(#blur1)"/>
<circle cx="481.1" cy="745.4" r="0.7" fill="#48c868"/>
<circle cx="481.6" cy="746.3" r="0.8" fill="#40b860"/>
<circle cx="480.9" cy="744.7" r="0.8" fill="#58d890"/>
<circle cx="480.9" cy="746.1" r="0.6" fill="#48b8b0"/>
<circle cx="479.6" cy="745.4" r="0.5" fill="#48c868"/>
<circle cx="441.5" cy="786.8" r="2.8" fill="#2a9a50" fill-opacity="0.45" filter="url(#blur1)"/>
<circle cx="441.5" cy="785.7" r="0.4" fill="#48c868"/>
<circle cx="442.2" cy="786.8" r="0.6" fill="#40b860"/>
<circle cx="441.2" cy="787.6" r="0.8" fill="#58d890"/>
<circle cx="440.9" cy="787.7" r="0.8" fill="#48b8b0"/>
<circle cx="442.2" cy="786.0" r="0.6" fill="#48c868"/>
<circle cx="441.2" cy="787.3" r="0.6" fill="#40b860"/>
<circle cx="477.8" cy="789.9" r="3.8" fill="#2a9a50" fill-opacity="0.45" filter="url(#blur1)"/>
<circle cx="479.0" cy="788.8" r="0.5" fill="#48c868"/>
<circle cx="477.8" cy="790.0" r="0.8" fill="#40b860"/>
<circle cx="478.5" cy="790.2" r="0.5" fill="#58d890"/>
<circle cx="478.4" cy="791.7" r="0.6" fill="#48b8b0"/>
<circle cx="476.7" cy="788.7" r="0.6" fill="#48c868"/>
<circle cx="478.5" cy="788.5" r="0.7" fill="#40b860"/>
<circle cx="476.2" cy="789.2" r="0.7" fill="#58d890"/>
<circle cx="476.8" cy="791.4" r="0.8" fill="#48b8b0"/>
<circle cx="476.7" cy="779.5" r="1.5" fill="#2a9a50" fill-opacity="0.45" filter="url(#blur1)"/>
<circle cx="477.2" cy="779.3" r="0.6" fill="#48c868"/>
<circle cx="476.4" cy="779.9" r="0.5" fill="#40b860"/>
<circle cx="476.6" cy="778.9" r="0.8" fill="#58d890"/>
<circle cx="476.8" cy="780.0" r="0.6" fill="#48b8b0"/>
<circle cx="479.8" cy="813.8" r="2.5" fill="#2a9a50" fill-opacity="0.45" filter="url(#blur1)"/>
<circle cx="479.4" cy="813.5" r="0.4" fill="#48c868"/>
<circle cx="480.9" cy="813.3" r="0.5" fill="#40b860"/>
<circle cx="480.5" cy="813.4" r="0.4" fill="#58d890"/>
<circle cx="479.5" cy="813.5" r="0.6" fill="#48b8b0"/>
<circle cx="480.7" cy="814.5" r="0.7" fill="#48c868"/>
<circle cx="468.4" cy="805.5" r="1.3" fill="#2a9a50" fill-opacity="0.45" filter="url(#blur1)"/>
<circle cx="468.4" cy="805.9" r="0.6" fill="#48c868"/>
<circle cx="468.5" cy="805.5" r="0.7" fill="#40b860"/>
<circle cx="468.6" cy="804.9" r="0.5" fill="#58d890"/>
<circle cx="468.5" cy="805.4" r="0.5" fill="#48b8b0"/>
<circle cx="448.7" cy="807.5" r="1.1" fill="#2a9a50" fill-opacity="0.45" filter="url(#blur1)"/>
<circle cx="448.3" cy="807.1" r="0.6" fill="#48c868"/>
<circle cx="448.7" cy="807.6" r="0.6" fill="#40b860"/>
<circle cx="449.0" cy="807.2" r="0.6" fill="#58d890"/>
<line x1="433.20" y1="797.60" x2="489.80" y2="797.60" stroke="#383838" stroke-width="0.5" filter="none"/>
</g></g>
<g clip-path="url(#c23)"><g filter="url(#soft)">
<rect x="498.10" y="740.60" width="56.80" height="114.00" fill="#050509" stroke="none" stroke-width="0" />
<rect x="498.10" y="740.60" width="56.80" height="114.00" fill="#000" stroke="none" stroke-width="0" filter="url(#fBg)"/>
<path d="M516.1,740.6 Q542.3,769.1 519.2,797.6 Q545.2,826.1 521.3,854.6 L544.1,854.6 Q558.9,826.1 541.0,797.6 Q558.6,769.1 538.9,740.6 Z" fill="#1c2260" fill-opacity="0.12" filter="url(#blur2)"/>
<path d="M516.1,740.6 Q542.3,769.1 519.2,797.6 Q545.2,826.1 521.3,854.6 L544.1,854.6 Q558.9,826.1 541.0,797.6 Q558.6,769.1 538.9,740.6 Z" fill="#000" filter="url(#fBm)"/>
<path d="M516.1,740.6 Q542.3,769.1 519.2,797.6 Q545.2,826.1 521.3,854.6" fill="none" stroke="#f4f4f4" stroke-width="1.0" stroke-dasharray="1.0 1.3"/>
<path d="M538.9,740.6 Q558.6,769.1 541.0,797.6 Q558.9,826.1 544.1,854.6" fill="none" stroke="#f4f4f4" stroke-width="1.0" stroke-dasharray="1.0 1.3"/>
<circle cx="529.0" cy="791.0" r="2.8" fill="#2a9a50" fill-opacity="0.45" filter="url(#blur1)"/>
<circle cx="528.3" cy="791.4" r="0.7" fill="#48c868"/>
<circle cx="528.0" cy="790.4" r="0.8" fill="#40b860"/>
<circle cx="528.4" cy="789.9" r="0.7" fill="#58d890"/>
<circle cx="527.8" cy="791.2" r="0.8" fill="#48b8b0"/>
<circle cx="528.2" cy="790.6" r="0.4" fill="#48c868"/>
<circle cx="529.6" cy="790.3" r="0.7" fill="#40b860"/>
<circle cx="503.7" cy="819.0" r="1.7" fill="#2a9a50" fill-opacity="0.45" filter="url(#blur1)"/>
<circle cx="504.0" cy="819.5" r="0.7" fill="#48c868"/>
<circle cx="503.9" cy="819.3" r="0.7" fill="#40b860"/>
<circle cx="503.8" cy="818.4" r="0.7" fill="#58d890"/>
<circle cx="504.4" cy="818.8" r="0.4" fill="#48b8b0"/>
<line x1="498.10" y1="797.60" x2="554.90" y2="797.60" stroke="#383838" stroke-width="0.5" filter="none"/>
</g></g>
<g clip-path="url(#c24)"><g filter="url(#soft)">
<rect x="562.20" y="740.90" width="56.70" height="113.50" fill="#050509" stroke="none" stroke-width="0" />
<rect x="562.20" y="740.90" width="56.70" height="113.50" fill="#000" stroke="none" stroke-width="0" filter="url(#fBg)"/>
<path d="M560.0,754.3 L621.0,744.5 L621.0,760.0 L560.0,768.4 Z" fill="#2a3488" fill-opacity="0.4" filter="url(#blur2)"/>
<path d="M560.0,754.3 L621.0,744.5 L621.0,760.0 L560.0,768.4 Z" fill="#000" filter="url(#fB)"/>
<path d="M560.0,781.1 L621.0,779.7 L621.0,792.4 L560.0,793.8 Z" fill="#2a3488" fill-opacity="0.4" filter="url(#blur2)"/>
<path d="M560.0,781.1 L621.0,779.7 L621.0,792.4 L560.0,793.8 Z" fill="#000" filter="url(#fB)"/>
<path d="M560.0,809.3 L621.0,802.3 L621.0,815.0 L560.0,822.0 Z" fill="#2a3488" fill-opacity="0.4" filter="url(#blur2)"/>
<path d="M560.0,809.3 L621.0,802.3 L621.0,815.0 L560.0,822.0 Z" fill="#000" filter="url(#fB)"/>
<path d="M560.0,834.7 L621.0,834.7 L621.0,848.8 L560.0,848.8 Z" fill="#2a3488" fill-opacity="0.4" filter="url(#blur2)"/>
<path d="M560.0,834.7 L621.0,834.7 L621.0,848.8 L560.0,848.8 Z" fill="#000" filter="url(#fB)"/>
<circle cx="565.0" cy="764.9" r="2.5" fill="#2a9a50" fill-opacity="0.45" filter="url(#blur1)"/>
<circle cx="565.5" cy="764.6" r="0.7" fill="#48c868"/>
<circle cx="564.9" cy="765.0" r="0.6" fill="#40b860"/>
<circle cx="565.1" cy="765.0" r="0.5" fill="#58d890"/>
<circle cx="565.7" cy="765.0" r="0.5" fill="#48b8b0"/>
<circle cx="564.7" cy="764.6" r="0.8" fill="#48c868"/>
<circle cx="596.1" cy="760.7" r="2.3" fill="#2a9a50" fill-opacity="0.45" filter="url(#blur1)"/>
<circle cx="595.6" cy="759.9" r="0.7" fill="#48c868"/>
<circle cx="596.1" cy="759.6" r="0.8" fill="#40b860"/>
<circle cx="596.3" cy="761.0" r="0.5" fill="#58d890"/>
<circle cx="596.3" cy="761.6" r="0.8" fill="#48b8b0"/>
<circle cx="596.3" cy="760.8" r="0.8" fill="#48c868"/>
<circle cx="594.0" cy="769.8" r="2.8" fill="#2a9a50" fill-opacity="0.45" filter="url(#blur1)"/>
<circle cx="594.1" cy="769.9" r="0.8" fill="#48c868"/>
<circle cx="594.0" cy="769.8" r="0.7" fill="#40b860"/>
<circle cx="594.2" cy="770.3" r="0.5" fill="#58d890"/>
<circle cx="594.6" cy="768.5" r="0.8" fill="#48b8b0"/>
<circle cx="592.6" cy="769.8" r="0.7" fill="#48c868"/>
<circle cx="593.1" cy="769.5" r="0.7" fill="#40b860"/>
<circle cx="599.6" cy="767.7" r="2.1" fill="#2a9a50" fill-opacity="0.45" filter="url(#blur1)"/>
<circle cx="599.8" cy="767.6" r="0.8" fill="#48c868"/>
<circle cx="600.0" cy="767.1" r="0.6" fill="#40b860"/>
<circle cx="599.2" cy="768.7" r="0.6" fill="#58d890"/>
<circle cx="600.6" cy="768.1" r="0.7" fill="#48b8b0"/>
<circle cx="599.6" cy="767.7" r="0.6" fill="#48c868"/>
<circle cx="598.2" cy="776.9" r="1.9" fill="#2a9a50" fill-opacity="0.45" filter="url(#blur1)"/>
<circle cx="599.1" cy="776.6" r="0.5" fill="#48c868"/>
<circle cx="597.9" cy="777.8" r="0.7" fill="#40b860"/>
<circle cx="598.1" cy="776.9" r="0.7" fill="#58d890"/>
<circle cx="598.2" cy="776.9" r="0.7" fill="#48b8b0"/>
<circle cx="599.1" cy="777.4" r="0.5" fill="#48c868"/>
<circle cx="608.0" cy="770.5" r="1.5" fill="#2a9a50" fill-opacity="0.45" filter="url(#blur1)"/>
<circle cx="608.3" cy="770.6" r="0.5" fill="#48c868"/>
<circle cx="608.3" cy="770.4" r="0.6" fill="#40b860"/>
<circle cx="607.8" cy="770.5" r="0.4" fill="#58d890"/>
<circle cx="608.5" cy="770.6" r="0.6" fill="#48b8b0"/>
<circle cx="574.9" cy="774.8" r="1.3" fill="#2a9a50" fill-opacity="0.45" filter="url(#blur1)"/>
<circle cx="575.6" cy="774.8" r="0.6" fill="#48c868"/>
<circle cx="574.7" cy="774.8" r="0.8" fill="#40b860"/>
<circle cx="574.9" cy="774.8" r="0.8" fill="#58d890"/>
<circle cx="574.4" cy="774.5" r="0.5" fill="#48b8b0"/>
<circle cx="566.5" cy="741.6" r="1.5" fill="#2a9a50" fill-opacity="0.45" filter="url(#blur1)"/>
<circle cx="566.5" cy="741.6" r="0.5" fill="#48c868"/>
<circle cx="566.7" cy="741.9" r="0.8" fill="#40b860"/>
<circle cx="566.1" cy="741.6" r="0.7" fill="#58d890"/>
<circle cx="566.8" cy="742.3" r="0.5" fill="#48b8b0"/>
<circle cx="579.2" cy="798.0" r="1.5" fill="#2a9a50" fill-opacity="0.45" filter="url(#blur1)"/>
<circle cx="578.7" cy="798.2" r="0.8" fill="#48c868"/>
<circle cx="579.4" cy="798.3" r="0.6" fill="#40b860"/>
<circle cx="579.1" cy="798.1" r="0.7" fill="#58d890"/>
<circle cx="578.9" cy="798.0" r="0.7" fill="#48b8b0"/>
<circle cx="589.7" cy="814.3" r="1.9" fill="#2a9a50" fill-opacity="0.45" filter="url(#blur1)"/>
<circle cx="589.3" cy="814.5" r="0.6" fill="#48c868"/>
<circle cx="589.7" cy="814.1" r="0.4" fill="#40b860"/>
<circle cx="589.5" cy="814.6" r="0.4" fill="#58d890"/>
<circle cx="589.3" cy="814.0" r="0.5" fill="#48b8b0"/>
<circle cx="589.5" cy="814.2" r="0.7" fill="#48c868"/>
<circle cx="607.4" cy="824.1" r="2.3" fill="#2a9a50" fill-opacity="0.45" filter="url(#blur1)"/>
<circle cx="607.5" cy="824.9" r="0.5" fill="#48c868"/>
<circle cx="608.1" cy="823.3" r="0.4" fill="#40b860"/>
<circle cx="607.6" cy="824.0" r="0.8" fill="#58d890"/>
<circle cx="607.6" cy="824.0" r="0.7" fill="#48b8b0"/>
<circle cx="608.1" cy="825.1" r="0.5" fill="#48c868"/>
<circle cx="586.2" cy="825.5" r="1.9" fill="#2a9a50" fill-opacity="0.45" filter="url(#blur1)"/>
<circle cx="586.0" cy="825.2" r="0.5" fill="#48c868"/>
<circle cx="586.3" cy="825.7" r="0.8" fill="#40b860"/>
<circle cx="586.2" cy="825.8" r="0.7" fill="#58d890"/>
<circle cx="586.6" cy="825.4" r="0.5" fill="#48b8b0"/>
<circle cx="586.2" cy="825.1" r="0.6" fill="#48c868"/>
<circle cx="586.2" cy="832.6" r="1.3" fill="#2a9a50" fill-opacity="0.45" filter="url(#blur1)"/>
<circle cx="586.0" cy="832.4" r="0.8" fill="#48c868"/>
<circle cx="586.0" cy="832.9" r="0.5" fill="#40b860"/>
<circle cx="586.3" cy="832.5" r="0.8" fill="#58d890"/>
<circle cx="586.2" cy="832.0" r="0.8" fill="#48b8b0"/>
<circle cx="567.2" cy="801.6" r="1.3" fill="#2a9a50" fill-opacity="0.45" filter="url(#blur1)"/>
<circle cx="567.7" cy="801.8" r="0.8" fill="#48c868"/>
<circle cx="567.5" cy="801.8" r="0.7" fill="#40b860"/>
<circle cx="567.2" cy="801.0" r="0.7" fill="#58d890"/>
<circle cx="566.7" cy="801.3" r="0.7" fill="#48b8b0"/>
<line x1="562.20" y1="797.65" x2="618.90" y2="797.65" stroke="#383838" stroke-width="0.5" filter="none"/>
<text x="608.00" y="845.00" text-anchor="middle" dominant-baseline="central" fill="#fff" style="font-size:5.8px;stroke:#fff;stroke-width:0.32px;font-weight:bold;" >50 μm</text>
<rect x="603.80" y="849.50" width="9.50" height="2.60" fill="#fff" stroke="none" stroke-width="0" />
</g></g>
</svg><div style="position:absolute;left:190.4px;top:270.3px;width:79px;height:21.6px;background:#fff;border:1px solid #d8d8d8;border-radius:5px;box-shadow:0 0 2px rgba(0,0,0,0.08)">
<svg width="81" height="24" style="position:absolute;left:-1px;top:-1px">
<g fill="none" stroke="#3a3a3a" stroke-width="1.2">
<path d="M6,9.8 V6.4 H9.4"/><path d="M16,6.4 H19.4 V9.8"/><path d="M19.4,16 V19.4 H16"/><path d="M9.4,19.4 H6 V16"/>
</g>
<path d="M12.7,8.2 Q13.4,12.2 17.2,12.9 Q13.4,13.6 12.7,17.6 Q12,13.6 8.2,12.9 Q12,12.2 12.7,8.2 Z" fill="#7a58f0"/>
<path d="M12.7,10.6 Q13,12.6 14.9,12.9 Q13,13.2 12.7,15.2 Q12.4,13.2 10.5,12.9 Q12.4,12.6 12.7,10.6 Z" fill="#fff"/>
<path d="M69,11 L71.7,13.6 L74.4,11" fill="none" stroke="#3a3a3a" stroke-width="1.3"/>
</svg>
<div style="position:absolute;left:22.6px;top:3.0px;font-family:'Liberation Sans', sans-serif;font-size:12.8px;line-height:15px;color:#333;-webkit-text-stroke:0.25px #333;white-space:nowrap">AI识图</div>
</div>
</body></html>
